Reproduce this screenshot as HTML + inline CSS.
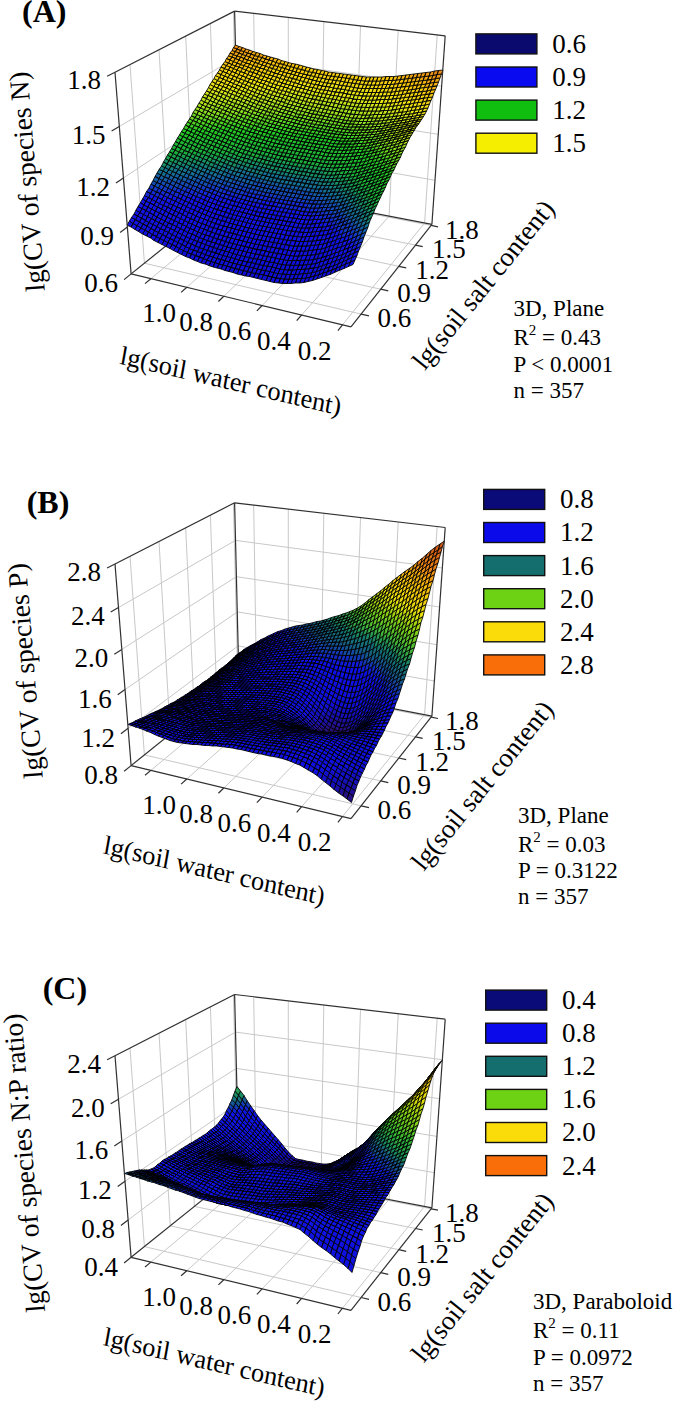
<!DOCTYPE html><html><head><meta charset="utf-8"><style>
html,body{margin:0;padding:0;background:#fff;overflow:hidden}
svg{display:block}
text{font-family:"Liberation Serif",serif;fill:#000}
</style></head><body>
<svg width="675" height="1403" viewBox="0 0 675 1403">
<g><line x1="144.4" y1="263.2" x2="130" y2="64.6" stroke="#c8c8c8" stroke-width="1"/><line x1="170.3" y1="242.4" x2="159" y2="49.8" stroke="#c8c8c8" stroke-width="1"/><line x1="194.4" y1="223" x2="185.7" y2="36.1" stroke="#c8c8c8" stroke-width="1"/><line x1="216.8" y1="205" x2="210.4" y2="23.4" stroke="#c8c8c8" stroke-width="1"/><line x1="237.8" y1="188.1" x2="233.4" y2="11.7" stroke="#c8c8c8" stroke-width="1"/><line x1="127.4" y1="227.1" x2="237.9" y2="145.8" stroke="#c8c8c8" stroke-width="1"/><line x1="123.4" y1="178" x2="236.8" y2="102.8" stroke="#c8c8c8" stroke-width="1"/><line x1="119.3" y1="126.5" x2="235.8" y2="57.9" stroke="#c8c8c8" stroke-width="1"/><line x1="256.5" y1="190.6" x2="253.7" y2="13.3" stroke="#c8c8c8" stroke-width="1"/><line x1="288.3" y1="196.8" x2="288.3" y2="17.4" stroke="#c8c8c8" stroke-width="1"/><line x1="321" y1="203" x2="323.8" y2="21.6" stroke="#c8c8c8" stroke-width="1"/><line x1="354.6" y1="209.5" x2="360.5" y2="25.9" stroke="#c8c8c8" stroke-width="1"/><line x1="389.1" y1="216.2" x2="398.2" y2="30.3" stroke="#c8c8c8" stroke-width="1"/><line x1="424.6" y1="223" x2="437.2" y2="34.9" stroke="#c8c8c8" stroke-width="1"/><line x1="237.9" y1="145.8" x2="435" y2="180.3" stroke="#c8c8c8" stroke-width="1"/><line x1="236.8" y1="102.8" x2="438.2" y2="134.3" stroke="#c8c8c8" stroke-width="1"/><line x1="235.8" y1="57.9" x2="441.6" y2="86.2" stroke="#c8c8c8" stroke-width="1"/><line x1="150.9" y1="278.7" x2="256.5" y2="190.6" stroke="#c8c8c8" stroke-width="1"/><line x1="186.8" y1="287.3" x2="288.3" y2="196.8" stroke="#c8c8c8" stroke-width="1"/><line x1="223.8" y1="296.3" x2="321" y2="203" stroke="#c8c8c8" stroke-width="1"/><line x1="262.1" y1="305.5" x2="354.6" y2="209.5" stroke="#c8c8c8" stroke-width="1"/><line x1="301.6" y1="315" x2="389.1" y2="216.2" stroke="#c8c8c8" stroke-width="1"/><line x1="342.5" y1="324.8" x2="424.6" y2="223" stroke="#c8c8c8" stroke-width="1"/><line x1="144.4" y1="263.2" x2="361.1" y2="314.1" stroke="#c8c8c8" stroke-width="1"/><line x1="170.3" y1="242.4" x2="380.7" y2="289.2" stroke="#c8c8c8" stroke-width="1"/><line x1="194.4" y1="223" x2="398.8" y2="266.3" stroke="#c8c8c8" stroke-width="1"/><line x1="216.8" y1="205" x2="415.5" y2="245.1" stroke="#c8c8c8" stroke-width="1"/><line x1="237.8" y1="188.1" x2="431.1" y2="225.4" stroke="#c8c8c8" stroke-width="1"/></g>
<g><line x1="131.1" y1="273.9" x2="238.9" y2="187.2" stroke="#303030" stroke-width="1.2"/><line x1="238.9" y1="187.2" x2="431.9" y2="224.4" stroke="#303030" stroke-width="1.2"/><line x1="238.9" y1="187.2" x2="234.6" y2="11.1" stroke="#303030" stroke-width="1.2"/><line x1="115" y1="72.3" x2="234.6" y2="11.1" stroke="#303030" stroke-width="1.2"/><line x1="234.6" y1="11.1" x2="445.2" y2="35.8" stroke="#303030" stroke-width="1.2"/></g>
<g transform="scale(0.5)" stroke="#000" stroke-width="1.7" stroke-linejoin="round"><path fill="#0f0fd8" d="M474 548l9 2 4-9-9-2zm9 2l8 2 4-9-8-2zm8 2l8 1 4-8-8-2zm8 1l8 2 4-8-8-2zm8 2l8 2 4-9-8-1zm8 2l8 2 4-9-8-2z"/><path fill="#1010d9" d="M402 526l8 2 4-8-7-3zm8 2l8 3 4-8-8-3zm8 3l8 3 4-9-8-2zm8 3l8 2 4-8-8-3zm8 2l8 2 4-8-8-2zm8 2l8 3 4-9-8-2zm8 3l8 2 4-8-8-3zm4-9l8 3 4-9-8-2zm4 11l8 2 4-8-8-2zm4-8l8 2 4-9-8-2zm4 10l8 3 4-9-8-2zm4-8l8 2 4-9-8-2zm8 2l9 2 4-9-9-2zm9 2l8 2 4-9-8-2zm8 2l8 2 4-9-8-2zm8 2l8 2 4-9-8-2zm8 2l8 1 4-8-8-2zm8 1l8 2 4-9-8-1zm4 11l9 2 4-9-9-2zm4-9l9 2 4-9-9-2zm5 11l8 2 4-9-8-2zm4-9l8 2 4-9-8-2zm4 11l8 2 4-9-8-2zm4-9l8 2 4-9-8-2zm4 11l9 1 4-9-9-1zm4-9l9 1 4-9-9-1zm5 10l8 1 4-9-8-1zm8 1l9 0 4-9-9 0zm9 0l8 0 4-9-8 0z"/><path fill="#1010db" d="M363 509l8 4 4-8-8-4zm8 4l8 3 4-8-8-3zm8 3l8 4 4-9-8-3zm8 4l8 3 4-9-8-3zm4-9l8 3 4-8-8-3zm4 12l7 3 5-9-8-3zm4-9l8 3 4-8-8-3zm8 3l7 3 5-8-8-3zm7 3l8 3 4-9-7-2zm8 3l8 2 4-8-8-3zm8 2l8 3 4-9-8-2zm4-8l8 2 4-8-8-3zm4 11l8 2 4-9-8-2zm4-9l8 2 4-8-8-2zm4 11l8 2 4-8-8-3zm4-9l8 3 4-9-8-2zm8 3l8 2 4-9-8-2zm8 2l8 2 4-8-8-3zm8 2l8 2 4-8-8-2zm8 2l9 2 4-8-9-2zm9 2l8 2 4-9-8-1zm8 2l8 2 4-9-8-2zm8 2l8 2 4-9-8-2zm8 2l8 2 4-9-8-2zm8 2l8 1 4-9-8-1zm8 1l9 2 4-9-9-2zm9 2l8 2 4-9-8-2zm8 2l8 2 4-9-8-2zm8 2l9 1 4-9-9-1zm5 10l8 1 4-9-8-1zm4-9l8 1 4-9-8-1zm4 10l9 0 3-9-8 0zm9 0l8 0 4-9-9 0zm4 9l9-1 3-9-8 1zm4-9l8-1 4-9-8 1zm5 8l8 0 4-9-9 0zm8 0l9-1 4-9-9 1z"/><path fill="#1010dc" d="M347 501l8 4 4-8-7-4zm8 4l8 4 4-8-8-4zm12-4l8 4 4-8-8-4zm8 4l8 3 4-8-8-3zm8 3l8 3 4-8-8-3zm4-8l8 3 4-8-8-3zm8 3l8 3 4-8-8-3zm8 3l8 3 4-8-8-3zm8 3l8 3 4-9-8-2zm8 3l7 2 5-8-8-3zm4-9l8 3 4-9-8-2zm3 11l8 3 4-9-7-2zm5-8l7 2 5-8-8-3zm7 2l8 3 4-9-7-2zm8 3l8 2 4-9-8-2zm8 2l8 2 4-8-8-3zm8 2l8 2 4-8-8-2zm8 2l8 3 4-9-8-2zm8 3l8 2 4-9-8-2zm8 2l9 2 4-9-9-2zm9 2l8 1 4-8-8-2zm8 1l8 2 4-9-8-1zm8 2l8 2 4-9-8-2zm8 2l8 2 4-9-8-2zm8 2l8 1 4-8-8-2zm8 1l9 2 4-9-9-1zm9 2l8 2 4-9-8-2zm8 2l8 2 4-9-8-2zm8 2l9 1 3-9-8-1zm9 1l8 1 4-10-9 0zm4 10l8 0 4-9-8 0zm4-9l8 0 4-9-8-1zm4 9l9 0 4-10-9 1zm9 0l8-1 4-9-8 0zm4 8l9 0 4-10-9 1zm9 0l9-1 3-9-8 0zm5 8l8-2 4-9-8 2z"/><path fill="#1111de" d="M324 489l8 4 4-8-8-4zm8 4l8 4 4-8-8-4zm8 4l7 4 5-8-8-4zm4-8l8 4 4-8-8-4zm8 4l7 4 5-8-8-4zm7 4l8 4 4-8-7-4zm5-8l7 4 5-8-8-4zm7 4l8 4 4-9-7-3zm8 4l8 3 4-8-8-4zm4-9l8 4 4-9-7-3zm8 4l8 3 4-9-8-3zm8 3l8 3 4-9-8-3zm8 3l8 3 4-9-8-3zm8 3l8 2 4-8-8-3zm4-9l8 3 4-9-8-2zm8 3l8 2 4-8-8-3zm8 2l8 3 4-9-8-2zm8 3l7 2 4-8-7-3zm7 2l8 2 4-8-8-2zm8 2l8 3 4-9-8-2zm8 3l8 2 4-9-8-2zm8 2l8 2 4-9-8-2zm8 2l8 2 4-9-8-2zm8 2l9 2 3-9-8-2zm9 2l8 2 4-9-9-2zm8 2l8 1 4-9-8-1zm8 1l8 2 4-9-8-2zm8 2l8 2 4-9-8-2zm8 2l8 2 4-10-8-1zm8 2l9 1 3-9-8-2zm9 1l8 2 4-9-9-2zm8 2l8 2 4-10-8-1zm8 2l8 1 4-9-8-2zm8 1l9 0 4-9-9 0zm9 0l8 1 4-10-8 0zm4 10l9-1 4-9-9 1zm9-1l8 0 4-9-8 0zm4 9l9-1 4-9-9 1zm4-9l9-1 4-9-9 1zm5 8l8 0 4-10-8 1zm5 9l8-2 4-9-9 2zm4 7l9-2 4-9-9 2zm4-9l9-2 4-9-9 2zm5 7l9-3 4-9-9 3z"/><path fill="#1111df" d="M308 481l8 4 4-8-7-4zm8 4l8 4 4-8-8-4zm12-4l8 4 4-8-8-4zm8 4l8 4 4-8-8-4zm4-8l8 4 4-8-8-4zm8 4l8 4 4-8-8-4zm8 4l8 4 4-8-8-4zm4-8l8 4 4-8-8-4zm8 4l8 4 4-8-8-4zm8 4l7 3 5-8-8-3zm12-5l7 3 4-8-7-3zm7 3l8 3 4-8-8-3zm8 3l8 3 4-8-8-3zm8 3l8 3 4-8-8-3zm4-8l8 3 4-9-8-3zm8 3l8 2 4-8-8-3zm8 2l8 3 4-9-8-2zm8 3l8 2 4-8-8-3zm8 2l7 3 4-9-7-2zm7 3l8 2 4-9-8-2zm8 2l8 2 4-9-8-2zm8 2l8 2 4-9-8-2zm8 2l8 2 4-9-8-2zm4-9l8 2 4-9-8-2zm4 11l8 2 4-9-8-2zm4-9l8 2 4-9-8-2zm4 11l8 2 4-9-8-2zm4-9l8 2 4-9-8-2zm4 11l9 2 3-9-8-2zm4-9l8 2 4-10-8-1zm5 11l8 1 4-9-9-1zm3-9l9 1 3-9-8-2zm5 10l8 2 4-9-8-2zm4-9l8 2 4-9-9-2zm4 11l8 2 4-9-8-2zm4-9l8 2 4-10-8-1zm4 11l8 1 4-9-8-1zm8 1l8 2 4-9-8-2zm8 2l9 2 4-10-9-1zm9 2l8 1 4-9-8-2zm8 1l8 2 4-10-8-1zm8 2l9 0 3-9-8-1zm9 0l8 0 4-9-9 0zm4 10l9-1 3-9-8 0zm4-10l8 0 4-10-8 1zm5 9l8 0 4-10-9 1zm8 0l9-1 3-9-8 0zm5 8l8-1 4-9-8 1zm4 9l9-2 4-9-9 1zm4-10l9-1 4-9-9 1zm5 8l9-2 4-9-9 2zm5 7l9-3 3-9-8 3zm5 6l9-3 3-9-8 3z"/><path fill="#1111e1" d="M285 468l8 4 4-8-7-4zm8 4l8 4 4-7-8-5zm8 4l7 5 5-8-8-4zm4-7l8 4 4-8-8-4zm8 4l7 4 5-8-8-4zm7 4l8 4 4-8-7-4zm5-8l7 4 5-8-8-4zm7 4l8 4 4-8-7-4zm12-4l8 4 4-8-7-4zm8 4l8 4 4-8-8-4zm12-4l8 4 4-8-8-4zm8 4l8 4 4-9-8-3zm8 4l8 3 4-8-8-4zm4-9l8 4 4-8-8-4zm8 4l7 3 5-8-8-3zm7 3l8 3 4-8-7-3zm8 3l8 3 4-9-8-2zm4-8l8 2 4-8-8-3zm8 2l8 3 4-8-8-3zm8 3l8 3 4-9-8-2zm8 3l8 2 4-8-8-3zm8 2l8 3 4-9-8-2zm8 3l7 2 4-9-7-2zm7 2l8 2 4-9-8-2zm8 2l8 2 4-9-8-2zm4-9l8 2 4-9-8-2zm4 11l8 2 4-9-8-2zm4-9l8 2 4-9-8-2zm8 2l8 2 4-9-8-2zm8 2l8 2 4-9-8-2zm8 2l8 2 4-9-8-2zm8 2l8 1 4-9-8-1zm8 1l8 2 4-9-8-2zm8 2l9 2 3-10-8-1zm9 2l8 1 4-9-9-2zm4 11l8 1 4-9-8-2zm4-10l8 2 4-10-8-1zm4 11l8 2 4-10-8-1zm4-9l8 1 4-9-8-2zm4 11l9 1 3-9-8-2zm4-10l8 2 4-10-8-1zm5 11l8 2 4-10-9-1zm8 2l8 1 4-9-8-2zm8 1l8 1 4-10-8 0zm8 1l9 0 4-10-9 0zm9 0l8-1 4-9-8 0zm4 9l9-1 4-9-9 0zm9-1l8 0 4-10-8 1zm5 9l8-1 4-9-9 1zm8-1l9-1 3-10-8 2zm5 8l9-2 3-10-8 3zm5 7l8-3 4-9-8 3zm5 6l8-3 4-9-9 3zm5 6l8-3 4-9-9 3z"/><path fill="#1212e2" d="M270 459l7 4 5-7-8-5zm7 4l8 5 5-8-8-4zm13-3l7 4 5-7-8-5zm7 4l8 5 4-8-7-4zm5-7l7 4 5-8-8-4zm7 4l8 4 4-8-7-4zm8 4l8 4 4-8-8-4zm4-8l8 4 4-8-7-4zm8 4l8 4 4-8-8-4zm8 4l7 4 5-8-8-4zm4-8l8 4 4-8-8-4zm8 4l7 4 5-8-8-4zm7 4l8 4 4-8-7-4zm5-8l7 4 5-8-8-4zm7 4l8 4 4-8-7-4zm8 4l8 3 4-8-8-3zm4-8l8 3 4-8-8-4zm8 3l8 4 4-9-8-3zm8 4l8 3 4-9-8-3zm8 3l7 3 4-9-7-3zm4-9l7 3 4-8-7-3zm7 3l8 3 4-9-8-2zm8 3l8 3 4-9-8-3zm8 3l8 2 4-9-8-2zm8 2l8 3 4-9-8-3zm8 3l8 2 4-9-8-2zm8 2l7 2 4-9-7-2zm4-9l7 2 4-9-7-2zm3 11l8 2 4-9-8-2zm4-9l8 2 4-9-8-2zm8 2l8 2 4-9-8-2zm8 2l8 2 4-9-8-2zm8 2l8 2 4-9-8-2zm8 2l8 2 4-9-8-2zm8 2l8 2 4-9-8-2zm8 2l8 1 4-9-8-1zm8 1l8 2 4-9-8-2zm8 2l8 1 4-9-8-1zm8 1l9 2 3-9-8-2zm9 2l8 1 4-9-9-1zm8 1l8 2 4-9-8-2zm8 2l8 1 4-9-8-1zm4 11l9 1 3-9-8-2zm4-10l8 2 4-10-8-1zm5 11l8 2 4-10-9-1zm8 2l8 0 4-10-8 0zm8 0l9 0 3-10-8 0zm9 0l8 0 4-10-9 0zm4 9l9 0 3-10-8 1zm9 0l8-1 4-10-9 1zm4 9l9-1 4-10-9 1zm9-1l8-2 4-10-8 2zm5 8l8-3 4-9-9 2zm5 7l8-3 4-10-9 3zm4 6l9-3 4-9-9 3zm5 6l9-3 4-9-9 3zm4-9l9-3 4-9-9 3zm1 15l9-3 4-9-9 3zm4-9l9-3 4-9-9 3z"/><path fill="#1212e4" d="M254 450l8 4 4-7-7-5zm8 4l8 5 4-8-8-4zm12-3l8 5 4-8-7-4zm8 5l8 4 4-8-8-4zm4-8l8 4 4-7-7-4zm8 4l8 5 4-8-8-4zm12-3l8 4 4-8-8-4zm8 4l7 4 5-8-8-4zm4-8l8 4 4-7-8-4zm8 4l7 4 4-7-7-4zm7 4l8 4 4-8-8-3zm4-7l8 3 4-8-7-3zm8 3l8 4 4-8-8-4zm8 4l8 4 4-8-8-4zm4-8l8 4 4-8-8-4zm8 4l8 4 4-8-8-4zm8 4l7 4 4-9-7-3zm11-5l8 4 4-8-8-4zm8 4l8 3 4-8-8-3zm8 3l8 3 4-8-8-3zm4-8l8 3 4-9-8-3zm8 3l7 3 4-9-7-3zm7 3l8 2 4-8-8-3zm8 2l8 3 4-9-8-2zm8 3l8 2 4-8-8-3zm8 2l8 3 4-9-8-2zm4-8l8 2 4-8-8-3zm4 11l8 2 4-9-8-2zm4-9l8 2 3-8-7-2zm8 2l7 2 4-8-8-2zm7 2l8 2 4-8-8-2zm8 2l8 2 4-8-8-2zm8 2l8 2 4-8-8-2zm8 2l8 2 4-9-8-1zm8 2l8 2 4-9-8-2zm8 2l8 2 4-9-8-2zm8 2l8 1 4-9-8-1zm8 1l8 2 4-9-8-2zm8 2l8 1 4-9-8-1zm8 1l8 2 4-9-8-2zm8 2l9 1 3-9-8-1zm9 1l8 2 4-9-9-2zm8 2l8 1 4-9-8-1zm8 1l8 1 4-9-8-1zm4 11l9 1 4-10-9-1zm4-10l9 1 3-9-8-1zm5 11l8 0 4-9-8-1zm8 0l8 0 4-9-8 0zm8 0l9 0 4-10-9 1zm5 10l8-1 4-10-8 1zm8-1l9-1 4-10-9 1zm5 9l9-1 3-10-8 1zm9-1l8-2 4-9-9 1zm4 8l9-2 4-10-9 2zm5 7l9-3 4-9-9 3zm4-9l9-3 4-10-9 3zm1 16l9-3 4-10-9 3zm4-10l9-3 4-9-9 3zm5 7l9-3 4-10-9 3zm5 6l9-3 4-10-9 4zm1 15l9-4 4-9-9 4zm4-9l9-4 4-9-9 4zm5 5l9-4 4-9-9 4z"/><path fill="#1313e5" d="M259 442l7 5 5-8-8-4zm7 5l8 4 5-7-8-5zm5-8l8 5 4-8-8-4zm8 5l7 4 5-7-8-5zm4-8l8 5 4-8-8-4zm8 5l7 4 5-8-8-4zm7 4l8 4 4-8-7-4zm5-8l7 4 4-7-7-4zm7 4l8 4 4-7-8-4zm12-3l8 4 4-8-8-4zm8 4l7 4 5-8-8-4zm12-4l7 3 4-8-7-3zm7 3l8 4 4-8-8-4zm12-4l8 4 4-8-8-4zm8 4l8 4 4-8-8-4zm8 4l7 3 4-8-7-3zm4-8l7 3 4-8-7-4zm7 3l8 4 4-9-8-3zm8 4l8 3 4-9-8-3zm12-6l8 3 4-8-8-3zm8 3l7 3 4-8-7-3zm7 3l8 3 4-9-8-2zm8 3l8 2 4-8-8-3zm8 2l8 3 4-9-8-2zm4-8l8 2 4-8-8-2zm8 2l8 3 4-9-8-2zm8 3l7 2 4-9-7-2zm7 2l8 2 4-9-8-2zm8 2l8 2 4-9-8-2zm8 2l8 2 4-9-8-2zm8 2l8 2 4-9-8-2zm8 2l8 1 4-8-8-2zm8 1l8 2 4-8-8-2zm8 2l8 2 4-9-8-1zm8 2l8 1 4-8-8-2zm8 1l8 2 4-9-8-1zm8 2l8 1 4-8-8-2zm8 1l8 2 4-9-8-1zm8 2l8 1 4-9-8-1zm8 1l9 2 3-9-8-2zm9 2l8 1 4-9-9-1zm8 1l8 1 4-9-8-1zm8 1l8 1 4-9-8-1zm5 10l8 1 4-9-9-1zm8 1l8 0 4-10-8 1zm8 0l9-1 3-9-8 0zm5 9l8-1 4-9-8 0zm8-1l9-1 3-9-8 1zm5 9l8-1 4-10-8 1zm8-1l9-1 4-10-9 1zm5 8l9-2 4-10-9 3zm9-2l9-3 3-10-8 3zm5 7l9-3 3-10-8 3zm5 6l9-3 3-9-8 3zm5 7l9-4 4-9-9 3zm5 6l9-4 4-9-9 3zm5 5l9-4 4-9-9 4zm5 5l10-4 3-9-9 4z"/><path fill="#1313e7" d="M263 435l8 4 4-7-7-4zm5-7l7 4 5-7-8-5zm7 4l8 4 4-7-7-4zm12-3l8 4 4-8-7-4zm8 4l8 4 4-7-8-5zm4-8l8 5 4-8-8-4zm8 5l7 4 5-8-8-4zm7 4l8 4 4-8-7-4zm5-8l7 4 5-8-8-4zm7 4l8 4 4-8-7-4zm8 4l8 4 4-8-8-4zm4-8l8 4 4-8-8-4zm8 4l7 3 5-8-8-3zm7 3l8 4 4-8-7-4zm5-8l7 4 4-8-7-4zm7 4l8 4 4-8-8-4zm8 4l8 4 4-9-8-3zm4-8l8 3 4-8-8-3zm8 3l7 4 5-8-8-4zm7 4l8 3 4-8-7-3zm8 3l8 3 4-8-8-3zm4-8l8 3 4-8-8-3zm8 3l8 3 4-8-8-3zm8 3l7 3 4-8-7-3zm7 3l8 2 4-8-8-2zm8 2l8 3 4-8-8-3zm4-8l8 3 4-9-8-2zm8 3l8 2 4-8-8-3zm8 2l8 2 3-8-7-2zm8 2l7 2 4-8-8-2zm7 2l8 2 4-8-8-2zm8 2l8 2 4-8-8-2zm8 2l8 2 4-8-8-2zm8 2l8 2 4-8-8-2zm8 2l8 2 4-8-8-2zm8 2l8 2 4-9-8-1zm8 2l8 1 4-8-8-2zm8 1l8 2 4-9-8-1zm8 2l8 1 4-8-8-2zm8 1l8 2 4-9-8-1zm8 2l8 1 4-8-8-2zm8 1l8 1 4-8-8-1zm8 1l8 2 4-9-8-1zm8 2l9 1 3-8-8-2zm9 1l8 1 4-8-9-1zm8 1l8 1 4-8-8-1zm4 10l9 1 3-9-8-1zm4-9l8 1 4-9-8 0zm5 10l8-1 4-8-9 0zm8-1l8 0 4-9-8 1zm5 9l8 0 4-10-9 1zm3-9l9-1 3-9-8 1zm5 9l8-1 4-10-8 1zm5 8l8-1 4-9-9 1zm3-9l9-1 4-10-9 1zm5 8l9-1 4-10-9 2zm5 9l9-3 3-10-8 3zm9-3l8-3 4-9-9 2zm5 7l8-3 4-10-9 3zm5 7l8-3 4-10-9 3zm5 6l9-3 3-9-9 3zm5 6l9-3 4-9-9 3zm5 6l9-4 4-9-9 4zm5 5l9-4 4-9-9 4zm6 5l9-4 4-9-10 4z"/><path fill="#1313e8" d="M272 420l8 5 4-8-8-4zm8 5l7 4 5-8-8-4zm4-8l8 4 4-7-8-4zm8 4l7 4 4-7-7-4zm11-3l8 4 4-8-7-4zm8 4l8 4 4-8-8-4zm4-8l8 4 4-7-8-4zm8 4l8 4 4-8-8-3zm8 4l7 4 4-8-7-4zm4-8l7 4 4-8-7-3zm7 4l8 4 4-8-8-4zm8 4l8 3 4-8-8-3zm4-8l8 3 4-8-8-3zm8 3l7 4 4-8-7-4zm7 4l8 4 4-8-8-4zm12-4l8 3 4-8-8-3zm8 3l8 4 4-8-8-4zm8 4l7 3 4-8-7-3zm4-8l7 3 4-8-7-3zm7 3l8 3 4-8-8-3zm8 3l8 3 4-8-8-3zm8 3l7 3 4-9-7-2zm4-8l7 2 4-8-7-2zm3 11l8 2 4-8-8-3zm4-9l8 3 4-8-8-3zm8 3l8 2 4-8-8-2zm8 2l8 3 4-8-8-3zm8 3l7 2 4-8-7-2zm7 2l8 2 4-8-8-2zm8 2l8 2 4-8-8-2zm4-8l8 2 4-8-8-2zm4 10l8 2 4-8-8-2zm4-8l8 2 4-8-8-2zm4 10l8 2 4-8-8-2zm4-8l8 2 4-8-8-2zm4 10l8 2 4-8-8-2zm4-8l8 2 3-8-7-2zm4 10l8 2 4-8-8-2zm4-8l8 2 3-8-8-2zm4 10l8 1 4-8-8-1zm4-8l8 1 3-8-8-1zm4 9l8 2 3-8-7-2zm4-8l7 2 4-8-8-2zm4 10l8 1 3-8-8-1zm3-8l8 1 4-8-8-1zm5 9l8 2 4-8-9-2zm3-8l9 2 3-8-8-2zm5 10l8 1 4-8-8-1zm4-8l8 1 3-8-8-1zm4 9l8 2 4-9-8-1zm4-8l8 1 3-8-8-1zm4 10l8 1 4-8-8-2zm4-9l8 2 4-8-9-2zm4 10l8 1 4-8-8-1zm4-8l8 1 4-8-8-1zm4 9l8 2 4-9-8-1zm8 2l9 1 3-8-8-2zm9 1l8 1 4-8-9-1zm8 1l8 0 4-8-8 0zm4 9l9 0 3-9-8 0zm4-9l8 0 4-8-8 0zm5 9l8-1 4-9-9 1zm8-1l8-1 4-8-8 0zm5 8l8-1 4-9-9 1zm8-1l9-1 3-9-8 1zm5 9l9-2 3-9-8 1zm5 8l8-3 4-9-8 2zm8-3l9-2 4-10-9 3zm5 7l9-3 4-10-9 4zm5 7l9-3 4-10-9 3zm5 7l9-3 4-10-9 3zm6 6l9-3 3-10-9 4zm5 6l9-4 4-9-9 4zm5 5l9-4 4-9-9 4zm5 5l10-4 3-9-9 4zm6 5l9-4 4-9-9 4z"/><path fill="#1414ea" d="M276 413l8 4 4-7-7-5zm5-8l7 5 4-8-7-4zm7 5l8 4 4-8-8-4zm8 4l7 4 5-8-8-4zm4-8l8 4 4-7-8-4zm8 4l7 4 4-7-7-4zm11-3l8 4 4-8-7-4zm8 4l8 3 4-7-8-4zm12-4l7 3 5-8-8-3zm7 3l8 4 4-8-7-4zm12-4l8 3 4-7-8-4zm8 3l7 4 5-8-8-3zm7 4l8 4 4-8-7-4zm5-8l7 4 4-8-7-4zm7 4l8 3 4-8-8-3zm8 3l8 4 4-8-8-4zm4-8l8 4 4-8-8-4zm8 4l7 3 4-8-7-3zm7 3l8 3 4-8-8-3zm8 3l8 3 4-8-8-3zm4-8l8 3 4-8-8-3zm8 3l7 2 4-7-7-3zm7 2l8 3 4-8-8-2zm8 3l8 2 4-7-8-3zm8 2l8 3 4-8-8-2zm8 3l7 2 4-8-7-2zm4-8l7 2 4-8-8-2zm3 10l8 2 4-8-8-2zm4-8l8 2 4-8-8-2zm8 2l8 2 4-8-8-2zm8 2l8 2 4-8-8-2zm8 2l8 2 3-8-7-2zm8 2l7 2 4-8-8-2zm7 2l8 2 4-8-8-2zm8 2l8 1 4-8-8-1zm8 1l8 2 4-8-8-2zm8 2l8 1 4-8-8-1zm8 1l8 2 4-8-8-2zm8 2l8 1 4-8-8-1zm8 1l8 1 4-8-8-1zm8 1l9 2 3-8-8-2zm9 2l8 1 3-8-8-1zm4 9l8 1 4-8-8-1zm4-8l8 1 4-8-9-1zm4 9l8 2 4-8-8-2zm4-8l8 2 4-8-8-2zm4 10l9 1 3-9-8 0zm4-8l8 0 4-8-8 0zm5 9l8 0 3-8-8-1zm8 0l8 0 4-9-9 1zm4 8l9-1 3-8-8 1zm4-8l8-1 4-8-8 0zm5 7l8 0 4-9-9 1zm4 8l9-1 4-8-9 1zm4-8l9-1 3-9-8 1zm5 7l8-1 4-8-8 1zm5 8l8-1 4-9-9 1zm5 8l8-2 4-10-9 3zm3-9l9-3 4-9-9 3zm5 7l9-3 4-10-9 3zm5 7l9-4 4-9-9 3zm5 6l9-3 4-10-9 3zm5 7l9-3 4-10-9 3zm5 7l9-4 4-9-9 3zm6 6l9-4 3-9-9 3zm3-10l9-3 4-10-9 4zm2 15l9-4 4-9-9 4zm4-9l9-4 3-9-9 4zm1 14l9-4 4-9-9 4zm6 5l9-4 4-9-10 4z"/><path fill="#1417e8" d="M285 398l7 4 5-7-8-4zm7 4l8 4 4-7-7-4zm5-7l7 4 5-8-8-4zm7 4l8 4 4-8-7-4zm8 4l7 4 5-8-8-4zm4-8l8 4 4-8-8-4zm8 4l7 4 4-8-7-4zm7 4l8 4 4-8-8-4zm4-8l8 4 4-8-7-4zm8 4l8 3 4-7-8-4zm8 3l7 4 4-8-7-3zm4-7l7 3 4-8-7-3zm7 3l8 4 4-8-8-4zm8 4l8 3 4-8-8-3zm4-8l8 3 4-7-8-4zm8 3l7 4 4-8-7-3zm7 4l8 3 4-8-8-3zm12-5l8 4 4-8-8-3zm8 4l7 3 4-8-7-3zm7 3l8 3 4-8-8-3zm4-8l8 3 4-8-8-3zm8 3l8 3 4-8-8-3zm8 3l7 3 4-8-7-3zm7 3l8 2 4-8-8-2zm8 2l8 3 4-8-8-3zm4-8l8 3 4-8-8-2zm4 11l8 2 3-8-7-2zm4-8l7 2 4-8-7-2zm7 2l8 2 4-7-8-3zm8 2l8 2 4-7-8-2zm8 2l8 2 4-7-8-2zm8 2l8 2 3-7-7-2zm8 2l7 2 4-8-8-1zm7 2l8 2 4-8-8-2zm8 2l8 2 4-8-8-2zm4-8l8 2 4-8-8-1zm4 10l8 1 4-7-8-2zm4-8l8 2 4-8-8-2zm4 9l8 2 4-8-8-1zm4-7l8 1 4-8-8-1zm4 9l8 1 4-8-8-1zm4-8l8 1 4-7-8-2zm4 9l8 2 4-8-8-2zm8 2l8 1 4-8-8-1zm8 1l8 1 4-7-8-2zm8 1l8 2 4-8-8-1zm8 2l8 1 4-8-8-1zm8 1l9 1 3-7-8-2zm9 1l8 2 3-8-8-1zm8 2l8 0 4-7-9-1zm4 8l8 1 4-8-8-1zm4-8l8 1 4-8-8 0zm4 9l9-1 3-8-8 1zm9-1l8 0 4-8-9 0zm4 8l9-1 4-8-9 1zm9-1l8-1 4-8-8 1zm5 8l8-1 4-9-9 1zm4 7l9-1 4-9-9 2zm4-8l9-2 3-8-8 1zm5 7l9-3 3-8-8 2zm5 6l9-3 3-9-8 3zm5 7l9-3 3-10-8 3zm5 6l9-3 3-9-8 3zm5 7l9-3 4-10-9 3zm5 7l9-3 4-10-9 3zm4-10l9-3 3-10-8 3zm5 7l9-4 4-10-9 4zm5 6l9-4 4-10-9 4zm2 14l9-4 4-9-9 4zm4-9l9-4 3-9-9 4zm1 14l10-4 3-9-9 4zm4-9l9-4 4-9-9 4z"/><path fill="#1429d7" d="M289 391l8 4 4-8-8-4zm4-8l8 4 4-7-7-4zm8 4l8 4 4-7-8-4zm8 4l7 4 4-8-7-3zm4-7l7 3 4-7-7-4zm7 3l8 4 4-7-8-4zm8 4l7 4 5-8-8-3zm4-7l8 3 4-7-8-4zm8 3l7 4 4-8-7-3zm7 4l8 4 4-8-8-4zm4-8l8 4 4-8-8-3zm8 4l7 3 4-7-7-4zm7 3l8 4 4-8-8-3zm4-7l8 3 4-8-7-3zm8 3l8 4 4-8-8-4zm8 4l7 3 4-8-7-3zm7 3l8 3 4-7-8-4zm4-8l8 4 4-8-8-3zm8 4l8 3 4-8-8-3zm8 3l7 3 4-8-7-3zm4-8l7 3 4-7-7-3zm7 3l8 3 4-7-8-3zm8 3l8 3 3-7-7-3zm8 3l7 3 4-8-8-2zm3-7l8 2 4-7-8-3zm4 10l8 2 4-7-8-3zm4-8l8 3 4-8-8-2zm8 3l8 2 3-7-7-3zm8 2l7 2 4-7-8-2zm7 2l8 3 4-8-8-2zm8 3l8 2 4-8-8-2zm4-8l8 2 3-7-7-2zm4 10l8 2 3-8-7-2zm4-8l7 2 4-7-8-2zm4 10l7 2 4-8-8-2zm3-8l8 2 4-7-8-2zm4 10l8 1 4-7-8-2zm4-8l8 2 4-8-8-1zm4 9l8 2 4-7-8-2zm4-7l8 2 4-8-8-2zm8 2l8 1 4-7-8-2zm8 1l8 2 3-8-7-1zm8 2l8 1 3-7-8-2zm8 1l8 2 3-8-8-1zm4 9l8 2 4-8-8-1zm4-7l8 1 3-7-8-2zm4 9l8 1 4-7-8-2zm4-8l8 2 3-8-8-1zm4 9l8 2 4-8-8-1zm4-7l8 1 3-8-8-1zm4 9l8 1 4-8-8-1zm4-8l8 1 3-7-8-2zm4 9l8 1 4-7-8-2zm4-8l8 2 3-8-8-1zm4 9l8 2 4-8-8-1zm4-7l8 1 4-8-9-1zm4 9l8 1 4-8-8-1zm4-8l8 1 4-8-8-1zm4 9l9 1 3-8-8-1zm9 1l8 0 3-8-8 0zm4 8l8-1 4-7-8 0zm4-8l8 0 4-8-9 0zm4 7l9 0 3-8-8 1zm5 8l9-1 3-8-8 1zm4-8l8-1 4-8-9 1zm5 7l8-1 4-8-9 1zm4 7l9-1 3-8-8 1zm4-8l8-1 4-8-8 1zm5 7l8-1 4-8-9 1zm5 7l8-2 4-9-9 3zm5 6l8-3 4-8-9 3zm5 6l8-3 4-9-9 3zm5 7l8-3 4-10-9 3zm5 6l9-3 3-9-9 3zm9-3l8-3 4-10-9 4zm5 7l9-4 3-10-9 4zm5 6l9-4 4-10-9 4zm5 6l9-4 4-10-9 4zm6 5l9-4 4-10-10 5z"/><path fill="#143bc6" d="M298 376l7 4 4-8-7-4zm7 4l8 4 4-8-8-4zm12-4l7 4 5-8-8-4zm7 4l8 4 4-8-7-4zm12-4l8 4 4-8-8-4zm8 4l7 3 4-7-7-4zm11-4l8 3 4-7-8-4zm8 3l7 4 5-8-8-3zm12-4l7 3 4-7-7-3zm7 3l8 4 4-8-8-3zm8 4l7 3 4-7-7-4zm4-8l7 4 4-8-7-3zm7 4l8 3 4-7-8-4zm8 3l8 3 4-7-8-3zm4-7l8 3 3-8-7-3zm8 3l7 3 4-8-8-3zm7 3l8 3 4-8-8-3zm8 3l7 3 4-8-7-3zm4-8l7 3 4-7-7-3zm7 3l8 3 4-8-8-2zm8 3l8 2 4-7-8-3zm8 2l7 3 4-8-7-2zm7 3l8 2 4-8-8-2zm4-8l8 2 4-7-8-2zm4 10l8 2 4-7-8-3zm4-8l8 3 4-8-8-2zm8 3l7 2 4-8-7-2zm7 2l8 2 4-8-8-2zm8 2l8 2 4-8-8-2zm8 2l8 1 4-7-8-2zm8 1l8 2 3-7-7-2zm8 2l8 2 3-8-8-1zm8 2l7 1 4-7-8-2zm7 1l8 2 4-8-8-1zm8 2l8 1 4-7-8-2zm8 1l8 2 4-8-8-1zm8 2l8 1 4-7-8-2zm8 1l8 1 4-7-8-1zm8 1l8 2 4-8-8-1zm8 2l8 1 4-7-8-2zm8 1l9 1 3-7-8-1zm9 1l8 1 3-7-8-1zm4 9l8 1 4-8-8-1zm4-8l8 1 4-7-9-1zm4 9l8 0 4-8-8 0zm4-8l8 0 4-7-8 0zm4 8l9 0 3-8-8 0zm5 8l8-1 4-8-8 1zm4-8l8-1 4-7-9 0zm4 7l9-1 3-7-8 0zm5 7l9-1 3-8-8 1zm4-8l8-1 4-7-9 1zm5 7l8-1 4-7-9 0zm4 7l9-1 4-8-9 1zm5 7l9-3 4-8-9 3zm4-8l9-3 3-8-8 3zm1 14l9-3 4-8-9 2zm4-9l9-2 3-8-8 2zm1 14l9-3 4-8-9 3zm4-8l9-3 3-8-8 3zm1 14l9-3 4-9-9 3zm4-9l9-3 3-8-8 3zm1 16l9-3 4-10-9 3zm4-10l9-3 4-9-9 3zm5 7l9-4 4-9-9 3zm5 6l9-4 4-9-9 3zm6 6l9-4 3-10-9 4zm5 6l9-4 4-10-9 4zm5 6l10-5 3-9-9 4z"/><path fill="#144cb6" d="M302 368l7 4 5-7-8-4zm7 4l8 4 4-8-7-3zm5-7l7 3 4-7-7-4zm7 3l8 4 4-7-8-4zm8 4l7 4 4-8-7-3zm4-7l7 3 4-7-7-4zm7 3l8 4 4-7-8-4zm8 4l7 4 4-8-7-3zm4-7l7 3 4-7-7-4zm7 3l8 4 4-8-8-3zm8 4l8 3 4-7-8-4zm4-8l8 4 4-8-8-3zm8 4l7 3 4-8-7-3zm7 3l8 3 4-7-8-4zm4-8l8 4 4-8-8-3zm8 4l7 3 4-7-7-4zm7 3l8 4 4-8-8-3zm4-7l8 3 4-7-8-3zm8 3l7 3 4-7-7-3zm7 3l8 3 4-7-8-3zm8 3l8 3 4-7-8-3zm4-7l8 3 4-7-8-3zm8 3l7 3 4-8-7-2zm7 3l8 2 4-7-8-3zm8 2l8 3 3-8-7-2zm4-7l7 2 4-7-7-2zm4 10l7 2 4-7-8-3zm3-8l8 3 4-8-8-2zm8 3l8 2 4-7-8-3zm8 2l8 2 3-7-7-2zm8 2l7 2 4-7-8-2zm7 2l8 2 4-7-8-2zm4-7l8 2 4-7-8-2zm4 9l8 2 4-7-8-2zm4-7l8 2 3-8-7-1zm4 9l8 2 3-7-7-2zm4-7l7 2 4-8-8-2zm4 9l7 2 4-8-8-1zm3-7l8 1 4-7-8-2zm4 9l8 1 4-7-8-2zm4-8l8 2 4-8-8-1zm4 9l8 2 4-8-8-1zm4-7l8 1 4-7-8-2zm4 9l8 1 4-7-8-2zm4-8l8 2 4-7-8-2zm4 9l8 2 4-8-8-1zm4-7l8 1 3-7-7-1zm4 9l8 1 4-7-8-2zm4-8l8 2 3-8-8-1zm4 9l8 2 4-8-8-1zm4-7l8 1 3-7-8-2zm4 9l8 1 4-8-8-1zm4-8l8 1 3-7-8-1zm4 9l8 1 4-7-8-2zm4-8l8 2 3-8-8-1zm4 9l8 2 4-8-8-1zm4-7l8 1 3-7-8-2zm4 9l8 1 4-8-8-1zm4-8l8 1 3-7-8-1zm4 9l8 1 4-8-8-1zm4-8l8 1 4-7-9-1zm4 9l9 1 3-8-8-1zm9 1l8 0 3-8-8 0zm4 7l8 0 4-7-8 0zm4-7l8 0 4-8-9 0zm4 7l9 0 3-8-8 1zm5 7l8 0 4-8-8 1zm4-7l8-1 4-8-9 1zm4 7l9-1 3-8-8 1zm5 6l9 0 3-8-8 1zm4-7l8-1 4-8-9 1zm1 14l9-1 3-8-8 2zm4-7l8-2 4-8-9 2zm5 6l8-3 4-7-9 2zm5 5l8-2 4-8-9 2zm5 6l8-3 4-8-9 3zm5 5l8-3 4-8-9 3zm5 5l9-3 3-8-9 3zm5 6l9-3 3-9-8 3zm5 6l9-3 4-10-9 4zm5 6l9-4 4-9-9 4zm6 6l9-4 4-10-10 4zm5 6l9-4 4-10-9 4z"/><path fill="#145ea5" d="M306 361l8 4 4-8-8-4zm4-8l8 4 4-7-8-4zm8 4l7 4 4-7-7-4zm7 4l8 4 4-8-8-3zm4-7l8 3 4-7-8-4zm8 3l7 4 4-7-7-4zm7 4l8 4 4-8-8-3zm4-7l8 3 4-7-8-4zm8 3l7 4 4-8-7-3zm7 4l8 3 4-7-8-4zm4-8l8 4 4-8-7-3zm8 4l8 3 4-7-8-4zm8 3l7 3 4-7-7-3zm4-7l7 3 4-7-7-3zm7 3l8 3 4-7-8-3zm8 3l7 4 4-7-7-4zm4-7l7 4 4-8-7-3zm7 4l8 3 4-8-8-3zm8 3l7 3 4-7-7-4zm7 3l8 3 4-7-8-3zm4-7l8 3 4-8-8-3zm8 3l8 3 3-8-7-3zm8 3l7 2 4-7-8-3zm3-8l8 3 4-7-8-3zm4 10l8 3 4-7-8-3zm4-7l8 3 3-8-7-2zm8 3l7 2 4-7-8-3zm7 2l8 2 4-7-8-2zm8 2l8 3 3-8-7-2zm4-7l7 2 4-7-7-2zm4 10l7 2 4-8-8-2zm3-8l8 2 4-7-8-2zm4 10l8 2 4-7-8-3zm4-8l8 3 4-8-8-2zm8 3l8 2 3-8-7-2zm8 2l7 1 4-7-8-2zm7 1l8 2 4-7-8-2zm8 2l8 2 4-7-8-2zm8 2l8 1 3-7-7-1zm8 1l8 2 3-7-8-2zm8 2l8 2 3-8-8-1zm8 2l7 1 4-7-8-2zm7 1l8 1 4-7-8-1zm8 1l8 2 4-8-8-1zm8 2l8 1 4-7-8-2zm8 1l8 1 4-7-8-1zm8 1l8 2 4-8-8-1zm8 2l8 1 4-7-8-2zm8 1l9 1 3-7-8-1zm5 8l8 1 4-7-8-1zm4-7l8 1 3-8-8 0zm4 8l8 0 4-7-8 0zm4-7l8 0 3-8-8 0zm4 7l9 0 3-7-8 0zm5 8l8-1 4-7-8 0zm4-8l8 0 3-8-8 1zm4 7l9-1 3-7-8 1zm5 7l8-1 4-7-8 0zm4-8l8 0 3-8-8 1zm4 7l9-1 3-7-8 1zm5 7l9-2 3-7-8 1zm5 6l9-2 3-8-8 2zm4-8l8-2 4-8-9 3zm1 13l9-2 3-8-8 3zm4-7l8-3 4-8-9 3zm1 13l9-3 3-8-8 3zm4-8l8-3 4-8-9 3zm1 13l9-3 4-8-9 3zm5 5l9-3 4-8-9 3zm6 5l8-3 4-8-9 3zm5 6l9-4 3-9-9 4zm5 6l9-4 4-10-9 4zm5 5l10-4 3-9-9 4zm6 6l9-4 4-10-9 4z"/><path fill="#147094" d="M314 346l8 4 4-8-8-3zm8 4l7 4 4-8-7-4zm4-8l7 4 5-7-8-4zm7 4l8 4 4-7-7-4zm8 4l7 4 4-8-7-3zm4-7l7 3 5-7-8-4zm7 3l8 4 4-7-7-4zm8 4l7 3 5-7-8-3zm4-7l8 3 4-7-8-4zm8 3l7 3 4-7-7-3zm7 3l8 4 4-7-8-4zm4-7l8 4 4-8-8-3zm8 4l7 3 4-7-7-4zm7 3l8 3 4-7-8-3zm4-7l8 3 4-7-8-3zm8 3l7 3 4-7-7-3zm7 3l8 3 4-7-8-3zm8 3l7 4 4-8-7-3zm4-7l7 3 4-7-7-3zm7 3l8 3 4-7-8-3zm8 3l7 3 4-7-7-3zm4-7l7 3 4-7-7-3zm7 3l8 3 4-7-8-3zm8 3l7 2 4-7-7-2zm7 2l8 3 4-8-8-2zm4-7l8 2 4-7-8-2zm4 10l8 2 4-7-8-3zm4-8l8 3 3-7-7-3zm8 3l7 2 4-7-8-2zm7 2l8 2 4-7-8-2zm8 2l8 2 3-7-7-2zm8 2l7 2 4-7-8-2zm7 2l8 2 4-7-8-2zm4-7l8 2 4-7-8-2zm4 9l8 2 4-7-8-2zm4-7l8 2 3-7-7-2zm4 9l8 2 3-8-7-1zm4-7l7 1 4-7-8-1zm4 9l7 1 4-7-8-2zm3-8l8 2 4-7-8-2zm4 9l8 2 4-7-8-2zm4-7l8 2 4-8-8-1zm4 9l8 1 4-7-8-1zm4-7l8 1 4-7-8-2zm4 8l8 2 4-8-8-1zm4-7l8 1 3-7-7-1zm4 9l8 1 4-7-8-2zm4-8l8 2 3-7-8-2zm4 9l8 1 4-7-8-1zm4-7l8 1 3-7-8-1zm4 8l8 2 4-8-8-1zm4-7l8 1 3-7-8-1zm4 9l8 1 4-7-8-2zm4-8l8 2 3-7-8-2zm4 9l8 1 4-7-8-1zm4-7l8 1 3-7-8-1zm4 8l8 2 4-8-8-1zm4-7l8 1 3-7-8-1zm4 9l8 1 4-8-8-1zm4-8l8 1 3-7-8-1zm4 9l8 0 4-7-8-1zm8 0l8 0 4-7-8 0zm5 8l8 0 4-8-9 0zm3-8l9 0 3-7-8 0zm5 8l8-1 4-7-8 0zm5 7l8-1 4-8-9 1zm3-8l9-1 3-7-8 1zm5 7l8-1 4-7-8 0zm5 7l8-1 4-8-9 1zm3-8l9-1 3-7-8 1zm2 14l8-1 4-8-9 2zm3-7l9-2 3-7-8 1zm5 6l9-3 3-7-8 2zm5 5l9-3 3-7-8 2zm5 5l9-3 4-7-9 2zm2 13l9-3 3-8-9 3zm3-8l9-3 4-8-9 3zm2 13l9-3 3-8-8 3zm4-8l8-3 4-8-9 3zm1 13l9-3 4-8-9 3zm4-8l9-3 3-8-9 3zm1 13l9-4 4-8-9 4zm4-8l9-4 4-8-9 4zm2 13l9-4 3-8-9 3zm5 6l9-4 4-9-9 3zm6 5l9-4 3-10-9 5z"/><path fill="#15807e" d="M318 339l8 3 4-7-7-3zm12-4l8 4 4-7-8-4zm8 4l7 4 4-8-7-3zm4-7l7 3 4-7-7-3zm7 3l8 4 4-7-8-4zm8 4l7 4 4-8-7-3zm4-7l7 3 4-7-7-3zm7 3l8 4 4-7-8-4zm8 4l7 3 4-7-7-3zm4-7l7 3 4-7-7-3zm7 3l8 3 3-7-7-3zm8 3l7 4 4-7-8-4zm3-7l8 4 4-8-8-3zm8 4l8 3 3-7-7-4zm8 3l7 3 4-7-8-3zm7 3l8 3 4-7-8-3zm4-7l8 3 3-7-7-3zm8 3l7 3 4-7-8-3zm7 3l8 3 4-7-8-3zm4-7l8 3 3-7-7-3zm8 3l7 3 4-7-8-3zm7 3l8 3 4-7-8-3zm8 3l7 2 4-7-7-2zm4-7l7 2 4-7-8-3zm7 2l8 2 3-7-7-2zm8 2l7 3 4-7-8-3zm7 3l8 2 4-7-8-2zm8 2l8 2 3-7-7-2zm4-7l7 2 4-7-8-2zm4 9l7 2 4-7-8-2zm3-7l8 2 4-7-8-2zm4 9l8 2 4-7-8-2zm4-7l8 2 4-7-8-2zm8 2l8 2 3-7-7-2zm8 2l7 2 4-7-8-2zm7 2l8 1 4-7-8-1zm8 1l8 2 4-7-8-2zm8 2l8 1 3-7-7-1zm8 1l8 2 3-7-8-2zm8 2l7 1 4-7-8-1zm7 1l8 2 4-7-8-2zm8 2l8 1 4-7-8-1zm8 1l8 1 4-7-8-1zm8 1l8 2 4-7-8-2zm8 2l8 1 4-7-8-1zm8 1l8 1 4-7-8-1zm8 1l8 1 4-7-8-1zm5 8l8 1 3-7-8-1zm3-7l8 1 4-7-8-1zm5 8l8 0 4-7-9 0zm3-7l9 0 3-7-8 0zm5 7l8 0 4-7-8 0zm5 7l8 0 3-7-8 0zm3-7l8 0 4-8-8 1zm5 7l8-1 4-7-9 1zm5 6l8 0 4-8-9 1zm3-7l9-1 3-7-8 1zm5 7l8-1 4-8-8 1zm5 6l8-1 4-8-9 2zm5 6l8-2 4-7-9 2zm3-7l9-2 3-8-8 2zm2 12l8-2 4-8-9 3zm3-7l9-3 3-7-8 3zm2 12l9-2 3-8-9 3zm3-7l9-3 4-7-9 2zm2 12l9-3 3-7-8 3zm4-7l8-3 4-8-9 3zm1 12l9-3 3-8-8 3zm5 5l9-3 4-8-9 3zm6 5l9-4 3-8-9 4zm1 12l9-3 4-9-9 4zm4-8l9-4 4-8-9 4zm2 13l9-3 3-9-9 4zm3-8l9-4 4-8-9 3zm2 14l9-5 4-9-9 5z"/><path fill="#169067" d="M323 332l7 3 4-7-7-4zm4-8l7 4 4-7-7-4zm7 4l8 4 4-7-8-4zm12-3l7 3 4-7-7-3zm7 3l8 4 4-7-8-4zm4-7l8 4 4-7-8-4zm8 4l7 3 4-7-7-3zm7 3l8 4 4-7-8-4zm4-7l8 4 3-7-7-4zm8 4l7 3 4-7-8-3zm7 3l7 3 4-7-7-3zm4-7l7 3 4-7-7-3zm7 3l8 3 4-7-8-3zm8 3l7 4 4-7-7-4zm7 4l8 3 4-7-8-3zm4-7l8 3 4-7-8-3zm8 3l7 3 4-7-7-3zm7 3l8 3 4-7-8-3zm4-7l8 3 4-7-8-3zm8 3l7 3 4-7-7-3zm7 3l8 3 4-7-8-3zm4-7l8 3 4-7-8-3zm4 10l8 3 3-8-7-2zm4-7l7 2 4-7-7-2zm7 2l8 3 4-7-8-3zm8 3l7 2 4-7-7-2zm7 2l8 3 4-7-8-3zm4-7l8 3 4-7-8-3zm4 10l8 2 3-7-7-2zm4-7l7 2 4-7-7-2zm7 2l8 2 4-7-8-2zm8 2l8 2 4-7-8-2zm8 2l8 2 3-7-7-2zm8 2l7 2 4-7-8-2zm3-7l8 2 4-7-8-2zm4 9l8 2 4-7-8-2zm4-7l8 2 3-7-7-2zm4 9l8 1 3-7-7-1zm4-7l7 1 4-7-8-1zm4 8l8 2 3-7-8-2zm3-7l8 2 4-7-8-2zm5 9l7 1 4-7-8-1zm3-7l8 1 4-7-8-1zm4 8l8 2 4-7-8-2zm4-7l8 2 3-7-7-2zm4 9l8 1 4-7-8-1zm4-7l8 1 3-7-8-1zm4 8l8 2 3-7-7-2zm4-7l7 2 4-7-8-2zm4 9l8 1 3-7-8-1zm3-7l8 1 4-7-8-1zm5 8l8 1 3-7-8-1zm3-7l8 1 4-7-8-1zm5 8l8 2 3-7-8-2zm3-7l8 2 4-7-8-2zm5 9l8 1 3-7-8-1zm3-7l8 1 4-7-8-1zm5 8l8 1 3-7-8-1zm3-7l8 1 4-7-8-1zm5 8l8 1 3-7-8-1zm3-7l8 1 4-7-8-1zm5 8l8 1 3-7-8-1zm8 1l8 0 4-7-9 0zm5 7l8 0 3-7-8 0zm3-7l8 0 4-7-8 0zm5 7l8-1 3-7-8 1zm4 7l9-1 3-7-8 0zm4-8l8 0 4-7-9 0zm5 7l8-1 3-7-8 1zm5 6l8-1 3-7-8 1zm3-7l8-1 4-7-9 1zm1 14l9-2 3-7-8 1zm4-8l8-1 4-7-9 1zm5 6l8-2 4-7-9 2zm5 6l8-3 4-7-9 2zm5 4l9-2 3-8-9 3zm5 5l9-3 3-7-8 3zm2 12l8-3 4-7-9 3zm3-7l9-3 3-7-8 2zm2 12l9-3 3-8-9 3zm3-8l9-3 4-7-9 3zm2 13l9-4 4-7-9 3zm4-8l9-3 3-8-9 3zm2 12l9-4 3-7-9 3zm5 4l9-3 4-8-9 3zm2 14l9-5 4-9-10 5zm3-9l10-5 3-8-9 5z"/><path fill="#18a150" d="M331 317l7 4 4-7-7-4zm7 4l8 4 4-7-8-4zm4-7l8 4 4-7-8-4zm8 4l7 3 4-7-7-3zm4-7l7 3 4-7-7-3zm7 3l8 4 4-7-8-4zm8 4l7 3 4-7-7-3zm4-7l7 3 4-7-7-3zm7 3l7 4 4-7-7-4zm7 4l8 3 4-7-8-3zm4-7l8 3 4-7-8-3zm8 3l7 3 4-7-7-3zm7 3l8 3 4-7-8-3zm4-7l8 3 4-6-8-4zm4 10l7 4 4-7-7-4zm4-7l7 4 4-7-7-3zm7 4l8 3 4-7-8-3zm8 3l7 3 4-7-7-3zm4-7l7 3 4-7-8-3zm7 3l8 3 3-7-7-3zm8 3l7 3 4-7-8-3zm3-7l8 3 4-7-8-3zm8 3l8 3 3-7-7-3zm8 3l7 2 4-6-8-3zm7 2l8 3 3-7-7-2zm4-6l7 2 4-7-7-2zm4 9l7 2 4-7-8-2zm3-7l8 2 4-7-8-2zm8 2l8 3 3-7-7-3zm8 3l7 2 4-7-8-2zm7 2l8 2 4-7-8-2zm4-7l8 2 3-7-7-2zm4 9l8 2 3-7-7-2zm4-7l7 2 4-7-8-2zm4 9l7 2 4-7-8-2zm3-7l8 2 4-7-8-2zm8 2l8 2 3-7-7-2zm8 2l7 2 4-7-8-2zm7 2l8 1 4-7-8-1zm8 1l8 2 3-7-7-2zm8 2l8 1 3-7-8-1zm8 1l7 2 4-7-8-2zm7 2l8 1 4-7-8-1zm8 1l8 2 4-8-8-1zm8 2l8 1 4-7-8-2zm8 1l8 1 3-7-7-1zm8 1l8 2 3-8-8-1zm8 2l8 1 3-7-8-2zm8 1l8 1 3-7-8-1zm8 1l8 1 3-7-8-1zm4 8l8 1 4-7-8-1zm4-7l8 1 3-8-8 0zm4 8l9 0 3-7-8 0zm4-7l8 0 3-7-8-1zm5 7l8 0 3-7-8 0zm4 7l8-1 4-7-8 1zm4-7l8-1 3-7-8 1zm4 6l9 0 3-7-8 0zm5 7l8-1 4-7-8 1zm4-7l8-1 3-7-8 1zm4 6l9-1 3-7-8 1zm5 6l9-1 3-7-8 1zm4-7l8-1 4-7-9 1zm1 13l9-2 3-7-8 2zm4-7l8-2 4-7-9 2zm1 12l9-2 3-7-8 2zm4-7l8-2 4-8-9 3zm1 12l9-3 3-7-8 3zm4-7l8-3 4-7-9 3zm2 12l8-3 4-7-9 2zm3-8l9-2 3-7-9 2zm2 12l8-2 4-8-9 3zm3-7l9-3 3-7-8 3zm2 12l9-3 3-7-9 3zm3-7l9-3 4-8-9 3zm2 11l9-3 4-7-9 3zm2 12l9-3 4-8-9 4zm4-7l9-4 3-7-9 3zm2 11l9-3 3-8-9 4zm3-7l9-4 4-8-9 4zm2 12l9-5 4-8-9 5z"/><path fill="#19b03b" d="M335 310l7 4 4-7-7-3zm4-6l7 3 4-7-7-3zm7 3l8 4 4-7-8-4zm12-3l7 3 4-6-7-4zm7 3l8 4 4-7-8-3zm4-6l8 3 4-7-8-3zm8 3l7 3 4-6-7-4zm7 3l7 4 4-7-7-3zm4-6l7 3 4-7-7-3zm7 3l8 3 4-7-8-3zm8 3l7 3 4-7-7-3zm4-7l7 3 4-6-7-4zm7 3l8 4 4-7-8-3zm8 4l7 3 4-7-7-3zm7 3l8 3 3-7-7-3zm4-7l7 3 4-7-7-3zm7 3l8 3 4-7-8-3zm8 3l7 3 4-7-7-3zm4-7l7 3 4-7-7-3zm7 3l8 3 4-7-8-3zm8 3l7 3 4-7-7-3zm4-7l7 3 4-7-8-2zm3 10l8 3 4-7-8-3zm4-7l8 3 3-7-7-3zm8 3l7 2 4-7-8-2zm7 2l8 2 3-6-7-3zm8 2l7 3 4-7-8-2zm3-6l8 2 4-7-8-2zm4 9l8 2 4-7-8-2zm4-7l8 2 3-7-7-2zm8 2l7 2 4-7-8-2zm7 2l8 2 4-7-8-2zm8 2l8 2 3-7-7-2zm8 2l7 2 4-7-8-2zm3-7l8 2 3-7-7-2zm4 9l8 2 4-7-8-2zm4-7l8 2 3-7-8-2zm4 9l8 1 3-7-7-1zm4-7l7 1 4-7-8-1zm4 8l7 2 4-7-8-2zm3-7l8 2 4-7-8-2zm4 9l8 1 4-7-8-1zm4-7l8 1 3-7-7-1zm4 8l8 2 4-7-8-2zm4-7l8 2 3-7-8-2zm4 9l8 1 3-7-7-1zm4-7l7 1 4-7-8-1zm4 8l8 1 3-7-8-1zm3-7l8 1 4-7-8-1zm5 8l8 2 3-7-8-2zm3-7l8 2 4-7-8-2zm5 9l7 1 4-7-8-1zm3-7l8 1 3-7-7-1zm4 8l8 1 4-7-8-1zm4-7l8 1 3-7-8-1zm4 8l8 2 4-7-8-2zm4-7l8 2 3-7-8-2zm4 9l8 1 4-7-8-1zm4-7l8 1 3-7-8-1zm4 8l8 1 4-7-8-1zm4-7l8 1 3-7-8-1zm4 8l8 0 4-7-8 0zm8 0l8 1 4-8-8 0zm5 8l8 0 4-8-9 1zm3-7l9-1 3-7-8 0zm5 7l8-1 4-7-8 0zm5 6l8 0 4-8-9 1zm3-7l9-1 3-7-8 1zm5 7l8-1 4-7-8 0zm5 6l8-1 4-7-9 1zm3-7l9-1 3-7-8 1zm5 6l9-1 3-7-8 1zm5 6l9-2 3-7-8 2zm5 5l9-3 3-7-8 3zm4-7l8-3 4-7-9 3zm1 12l9-3 3-7-8 2zm5 4l9-2 4-8-9 3zm6 5l8-3 4-7-9 3zm5 4l9-3 3-7-9 3zm2 12l9-3 3-7-9 3zm3-7l9-3 4-8-9 3zm2 11l9-3 4-8-9 4zm4-7l9-4 3-7-9 4zm2 11l9-4 3-7-9 4zm2 12l9-5 3-7-9 4zm3-8l9-4 4-8-9 4z"/><path fill="#1cb536" d="M343 297l7 3 4-7-7-3zm7 3l8 4 4-7-8-4zm4-7l8 4 4-7-8-3zm8 4l7 4 4-7-7-4zm4-7l7 4 4-7-7-3zm7 4l8 3 3-7-7-3zm8 3l7 4 4-7-8-4zm3-7l8 4 4-7-8-3zm8 4l7 3 4-7-7-3zm7 3l8 3 4-7-8-3zm4-7l8 3 4-6-8-3zm8 3l7 4 4-7-7-3zm7 4l8 3 3-7-7-3zm4-7l7 3 4-7-7-3zm4 10l7 3 4-7-8-3zm3-7l8 3 4-7-8-3zm8 3l7 3 4-7-7-3zm7 3l8 3 4-7-8-3zm4-7l8 3 3-6-7-3zm8 3l7 3 4-6-8-3zm7 3l8 3 3-6-7-3zm4-6l7 3 4-7-7-3zm7 3l8 2 4-7-8-2zm8 2l7 3 4-7-7-3zm7 3l8 2 4-7-8-2zm4-7l8 2 3-6-7-3zm4 9l7 3 4-7-7-3zm4-7l7 3 4-7-8-2zm7 3l8 2 3-7-7-2zm8 2l7 2 4-7-8-2zm7 2l8 2 4-7-8-2zm4-7l8 2 3-6-7-3zm4 9l8 2 3-7-7-2zm4-7l7 2 4-6-8-2zm4 9l7 2 4-7-8-2zm3-7l8 2 3-7-7-1zm8 2l7 2 4-7-8-2zm7 2l8 2 4-7-8-2zm8 2l8 1 3-7-7-1zm8 1l8 2 3-7-8-2zm8 2l7 1 4-7-8-1zm7 1l8 2 4-7-8-2zm8 2l8 1 3-7-7-1zm8 1l8 1 3-7-8-1zm8 1l8 2 3-7-8-2zm8 2l7 1 4-7-8-1zm7 1l8 1 4-7-8-1zm8 1l8 2 4-7-8-2zm8 2l8 1 4-7-8-1zm8 1l8 1 4-8-8 0zm5 8l8 0 3-7-8 0zm3-7l8 0 4-7-8-1zm5 7l8 0 3-7-8 0zm3-7l8 0 4-7-8 0zm5 7l8 0 3-7-8 0zm5 7l8 0 3-7-8 0zm3-7l8 0 4-7-9 0zm5 7l8-1 3-7-8 1zm5 6l8 0 3-7-8 0zm3-7l8 0 4-8-9 1zm5 7l8-1 4-7-9 1zm5 6l8-1 3-7-8 1zm3-7l8-1 4-7-8 1zm2 13l8-2 3-7-8 2zm3-7l8-2 4-7-9 2zm5 5l9-3 3-6-9 2zm2 11l8-2 4-7-9 2zm3-7l9-2 3-7-8 2zm2 12l9-3 3-7-9 3zm3-7l9-3 3-6-8 2zm2 12l9-3 3-7-8 2zm4-8l8-2 4-7-9 2zm1 12l9-3 4-7-9 3zm4-7l9-3 3-7-9 3zm2 11l9-3 3-7-9 3zm3-7l9-3 3-7-8 3zm2 12l9-4 3-7-8 3zm2 11l9-4 4-7-9 3zm4-8l9-3 3-7-9 3zm2 11l9-4 3-7-9 4zm3-7l9-4 4-7-9 4z"/><path fill="#1ebb30" d="M347 290l7 3 4-6-7-4zm4-7l7 4 4-7-7-4zm7 4l8 3 4-6-8-4zm12-3l7 3 4-7-7-3zm7 3l7 3 4-6-7-4zm4-7l7 4 4-7-7-3zm7 4l8 3 4-7-8-3zm8 3l7 3 4-6-7-4zm4-7l7 4 4-7-7-3zm7 4l8 3 3-7-7-3zm8 3l7 3 4-7-8-3zm3-7l8 3 4-6-8-3zm8 3l7 3 4-6-7-3zm7 3l8 3 3-6-7-3zm4-6l7 3 4-7-7-3zm4 9l7 3 4-6-8-3zm3-6l8 3 4-7-8-3zm8 3l7 3 4-7-7-3zm7 3l8 3 4-7-8-3zm4-7l8 3 3-7-7-3zm8 3l7 3 4-7-8-3zm7 3l8 2 3-6-7-3zm4-7l7 3 4-7-8-3zm4 9l7 3 4-7-8-2zm3-6l8 2 3-7-7-2zm8 2l7 3 4-7-8-3zm7 3l8 2 3-7-7-2zm8 2l7 2 4-7-8-2zm3-7l8 2 4-6-8-3zm4 9l8 2 4-7-8-2zm4-7l8 2 3-6-7-2zm8 2l7 3 4-7-8-2zm7 3l8 2 3-7-7-2zm8 2l7 1 4-6-8-2zm3-7l8 2 4-7-8-2zm4 8l8 2 4-7-8-1zm4-6l8 1 3-6-7-2zm4 8l8 2 3-7-7-2zm4-7l7 2 4-6-8-2zm4 9l7 1 4-6-8-2zm3-7l8 2 3-7-7-1zm4 8l8 2 4-7-8-1zm4-6l8 1 3-6-8-2zm4 8l8 1 3-6-7-2zm4-7l7 2 4-7-8-1zm4 8l8 2 3-7-8-1zm3-6l8 1 4-7-8-1zm5 8l7 1 4-7-8-1zm3-7l8 1 3-6-7-2zm4 8l8 1 4-6-8-2zm4-7l8 2 3-7-8-1zm4 8l8 2 4-7-8-1zm4-6l8 1 3-7-8-1zm4 8l8 1 3-7-7-1zm4-7l7 1 4-6-8-2zm4 8l8 1 3-7-8-1zm3-7l8 1 4-6-8-1zm5 8l8 2 3-7-8-2zm3-7l8 2 4-7-8-1zm5 9l8 1 3-7-8-1zm3-7l8 1 4-7-8-1zm5 8l8 0 3-6-8-1zm3-7l8 1 3-7-7-1zm5 7l8 1 3-7-8 0zm3-6l8 0 3-7-8 0zm5 7l8 0 3-7-8 0zm4 7l8 0 4-7-8 0zm4-7l8 0 3-7-8 0zm4 7l9 0 3-8-8 1zm5 7l8-1 4-7-8 1zm4-7l8-1 3-7-8 0zm4 6l9-1 3-7-8 1zm5 7l9-1 3-7-8 0zm4-8l8 0 3-7-8 0zm5 7l8-1 3-8-8 2zm4 6l9-2 3-7-8 2zm4-7l8-2 4-7-9 1zm1 12l9-2 3-7-8 2zm4-7l8-2 4-7-9 2zm2 11l8-2 4-7-9 3zm3-6l9-3 3-7-9 3zm2 11l8-2 4-7-9 2zm3-7l9-2 3-7-8 2zm2 11l9-2 3-7-9 3zm3-6l9-3 3-7-8 3zm2 11l9-3 3-7-8 3zm4-7l8-3 4-7-9 3zm2 11l8-3 4-7-9 3zm2 11l8-3 4-7-9 3zm3-7l9-3 3-7-9 3zm2 11l9-3 3-7-9 3zm3-7l9-3 4-7-9 3zm3 11l9-4 3-7-9 4z"/><path fill="#20c12a" d="M355 276l7 4 4-7-7-3zm7 4l8 4 4-7-8-4zm4-7l8 4 4-7-8-3zm8 4l7 3 4-6-7-4zm4-7l7 4 4-7-7-3zm7 4l7 3 4-7-7-3zm7 3l8 3 4-6-8-4zm4-7l8 4 3-7-7-3zm8 4l7 3 4-7-8-3zm7 3l7 3 4-6-7-4zm4-7l7 4 4-7-7-3zm7 4l8 3 3-7-7-3zm8 3l7 3 4-7-8-3zm3-7l8 3 4-7-8-3zm8 3l7 3 4-7-7-3zm7 3l8 3 3-7-7-3zm8 3l7 3 4-7-8-3zm3-7l8 3 4-6-8-3zm8 3l7 3 4-6-7-3zm7 3l8 3 3-7-7-2zm4-6l7 2 4-6-7-3zm7 2l8 3 4-7-8-2zm8 3l7 2 4-6-7-3zm7 2l8 3 4-7-8-2zm4-6l8 2 3-7-7-2zm4 9l7 2 4-7-7-2zm4-7l7 2 4-6-8-3zm7 2l8 3 3-7-7-2zm8 3l7 2 4-7-8-2zm3-7l8 2 3-6-7-3zm4 9l8 2 3-7-7-2zm4-7l7 2 4-6-8-2zm4 9l7 2 4-7-8-2zm3-7l8 2 4-6-8-2zm8 2l8 2 3-6-7-2zm8 2l7 2 4-7-8-1zm7 2l8 2 3-7-7-2zm8 2l7 1 4-6-8-2zm3-7l8 2 3-7-7-1zm4 8l8 2 4-7-8-1zm4-6l8 1 3-6-8-2zm4 8l8 1 3-6-7-2zm4-7l7 2 4-7-8-1zm4 8l8 1 3-6-8-1zm3-6l8 1 4-6-8-2zm5 7l7 2 4-7-8-1zm3-6l8 1 3-6-7-1zm4 8l8 1 4-6-8-2zm4-7l8 2 3-7-8-1zm4 8l8 1 3-6-7-1zm4-6l7 1 4-6-8-2zm4 7l8 2 3-7-8-1zm3-6l8 1 4-6-8-1zm5 8l8 1 3-7-8-1zm3-7l8 1 4-6-8-1zm5 8l8 1 3-6-8-2zm3-7l8 2 3-6-7-2zm5 8l8 1 3-6-8-1zm3-6l8 1 3-6-8-1zm5 7l7 1 4-6-8-1zm3-6l8 1 3-6-8-1zm4 7l8 0 4-6-8 0zm5 7l8 0 4-6-9-1zm3-7l9 1 3-7-8 0zm5 7l8 0 4-7-8 1zm4-6l8-1 3-6-8 0zm1 13l8-1 3-6-8 0zm3-7l8 0 4-7-8 0zm5 6l8 0 4-7-9 1zm3-6l9-1 3-7-8 1zm2 13l8-1 3-7-8 1zm3-7l8-1 4-7-8 1zm5 6l8 0 4-8-9 1zm3-7l9-1 3-6-8 0zm2 14l8-2 4-7-9 2zm3-7l9-2 3-7-8 1zm5 5l9-1 3-8-8 2zm5 6l9-2 3-8-8 3zm5 5l9-3 3-7-8 3zm6 4l8-2 3-7-8 2zm3-7l8-2 4-7-9 2zm2 12l8-3 4-6-9 2zm3-7l9-2 3-7-9 2zm2 11l9-3 3-6-9 2zm2 11l9-3 3-7-9 3zm3-7l9-3 3-6-8 2zm2 11l9-3 4-7-9 3zm4-7l9-3 3-7-9 3zm2 11l9-3 3-7-9 3zm3-7l9-3 4-7-9 3zm-1 18l9-4 3-7-9 4zm3-7l9-4 4-7-9 4z"/><path fill="#23c724" d="M359 270l7 3 4-6-7-4zm4-7l7 4 4-7-7-3zm7 4l8 3 4-6-8-4zm4-7l8 4 3-7-7-3zm8 4l7 3 4-6-8-4zm7 3l7 3 4-6-7-3zm4-6l7 3 4-7-7-3zm7 3l7 3 4-6-7-4zm7 3l8 3 4-6-8-3zm4-6l8 3 3-7-7-3zm8 3l7 3 4-7-8-3zm7 3l7 3 4-7-7-3zm4-7l7 3 4-6-7-3zm7 3l8 3 3-6-7-3zm8 3l7 3 4-6-8-3zm3-6l8 3 4-7-8-3zm4 9l7 3 4-6-7-3zm4-6l7 3 4-7-7-3zm7 3l8 3 3-7-7-3zm8 3l7 3 4-7-8-3zm3-7l8 3 3-7-7-2zm8 3l7 3 4-7-8-3zm7 3l8 2 3-6-7-3zm4-7l7 3 4-7-7-2zm4 9l7 3 4-7-8-2zm3-6l8 2 3-6-7-3zm8 2l7 2 4-6-8-2zm7 2l8 3 3-7-7-2zm4-6l7 2 4-6-8-2zm4 9l7 2 4-7-8-2zm3-7l8 2 3-6-7-2zm8 2l7 3 4-7-8-2zm7 3l8 2 4-7-8-2zm8 2l8 2 3-6-7-3zm4-7l7 3 4-7-8-2zm4 9l7 2 4-7-8-1zm3-6l8 1 3-6-7-2zm4 8l8 1 3-6-7-2zm4-7l7 2 4-6-8-2zm4 8l7 2 4-6-8-2zm3-6l8 2 3-6-7-2zm8 2l7 1 4-6-8-1zm7 1l8 2 4-6-8-2zm8 2l8 1 3-6-7-1zm4-6l7 1 4-6-8-1zm4 7l8 2 3-6-8-2zm3-6l8 2 3-6-7-2zm5 8l7 1 4-6-8-1zm3-6l8 1 3-6-8-1zm4 7l8 1 3-6-7-1zm4-6l7 1 4-5-8-2zm4 7l8 2 3-6-8-2zm3-6l8 2 4-6-8-1zm5 8l8 1 3-6-8-1zm3-6l8 1 3-6-7-1zm5 7l8 1 3-6-8-1zm3-6l8 1 3-5-8-2zm5 7l7 2 4-6-8-2zm3-6l8 2 3-6-8-1zm4 8l8 1 4-6-8-1zm4-6l8 1 3-6-8-1zm4 7l8 1 4-6-8-1zm4-6l8 1 3-6-8-1zm1 13l8 0 3-6-8 0zm3-6l8 0 4-6-8 0zm5 6l8 0 3-6-8 0zm3-6l8 0 3-6-7 0zm5 6l8 0 3-6-8 0zm3-6l8 0 4-6-9 0zm2 12l8 0 3-6-8 0zm3-6l8 0 3-6-8 0zm5 6l8-1 3-6-8 1zm5 6l8-1 3-6-8 0zm3-7l8 0 3-6-8 0zm5 6l8 0 3-7-8 1zm5 6l8-1 3-7-8 2zm3-6l8-2 4-6-9 1zm2 12l8-2 3-7-8 2zm3-7l8-2 4-6-9 1zm2 13l8-3 3-7-8 2zm3-8l8-2 4-7-9 2zm2 13l8-3 4-7-9 2zm3-8l9-2 3-7-9 2zm5 5l9-2 3-7-8 2zm5 5l9-2 3-7-8 2zm2 11l9-2 3-7-8 3zm4-6l8-3 4-7-9 3zm2 10l8-2 4-7-9 3zm3-6l9-3 3-7-9 3zm2 10l9-3 3-6-9 3zm3-6l9-3 4-7-9 3zm3 10l9-3 3-7-9 3zm3-7l9-3 3-6-9 3zm-1 18l9-4 3-7-9 4zm3-7l9-4 3-7-8 4z"/><path fill="#39cc22" d="M367 257l7 3 4-6-7-4zm4-7l7 4 4-7-7-3zm7 4l7 3 4-6-7-4zm7 3l8 4 4-7-8-3zm4-6l8 3 4-6-8-4zm8 3l7 3 4-6-7-3zm7 3l7 4 4-7-7-3zm4-6l7 3 4-6-7-3zm7 3l7 3 4-6-7-3zm7 3l8 3 4-6-8-3zm4-6l8 3 3-7-7-3zm8 3l7 3 4-7-8-3zm7 3l7 3 4-7-7-3zm4-7l7 3 4-6-7-3zm7 3l8 3 3-6-7-3zm8 3l7 3 4-6-8-3zm3-6l8 3 3-7-7-3zm4 9l7 3 4-6-7-3zm4-6l7 3 4-7-8-3zm7 3l7 2 4-6-7-3zm7 2l8 3 4-6-8-3zm4-6l8 3 3-7-7-2zm8 3l7 2 4-6-8-3zm7 2l7 3 4-7-7-2zm4-6l7 2 4-6-8-2zm3 9l8 2 3-6-7-3zm4-7l7 3 4-7-7-2zm7 3l8 2 4-6-8-3zm8 2l7 2 4-6-7-2zm4-6l7 2 4-6-8-2zm3 8l8 2 4-6-8-2zm4-6l8 2 3-6-7-2zm4 8l8 2 3-6-7-2zm4-6l7 2 4-6-8-2zm7 2l8 2 3-6-7-2zm8 2l7 2 4-6-8-2zm3-6l8 2 3-6-7-2zm4 8l8 2 3-6-7-2zm4-6l7 2 4-6-8-2zm4 8l7 2 4-6-8-2zm3-6l8 2 3-6-7-2zm4 8l8 1 3-6-7-1zm4-6l7 1 4-5-8-2zm4 7l8 2 3-6-8-2zm3-6l8 2 4-6-8-1zm8 2l8 1 3-5-7-2zm8 1l7 2 4-6-8-1zm7 2l8 1 4-6-8-1zm4-6l8 1 3-5-8-2zm4 7l8 2 3-6-7-2zm4-6l7 2 4-6-8-1zm4 8l8 1 3-6-8-1zm3-6l8 1 3-5-7-2zm5 7l7 1 4-5-8-2zm3-6l8 2 3-6-8-1zm4 7l8 2 4-6-8-1zm4-5l8 1 3-6-8-1zm4 7l8 1 3-6-7-1zm4-6l7 1 4-5-8-2zm4 7l8 1 3-6-8-1zm3-6l8 1 4-5-8-1zm5 7l8 1 3-6-8-1zm3-6l8 1 3-5-7-1zm2 13l8 0 3-5-8-1zm3-6l8 1 3-6-8-1zm3-6l8 1 3-6-8 0zm2 12l7 0 4-5-8 0zm3-5l8 0 3-6-8 0zm4 5l9 0 3-5-8 0zm4-5l8 0 3-6-8 0zm1 11l8 0 4-6-8 0zm4-6l8 0 3-6-8 1zm1 12l8-1 3-6-8 1zm3-6l8-1 4-6-8 1zm4-6l8-1 3-5-8 0zm1 11l8 0 4-6-9 0zm3-6l9 0 3-6-8 0zm2 12l8-1 4-6-9 1zm3-6l9-1 3-6-8 1zm5 5l9-1 3-6-8 1zm5 5l9-1 3-7-8 2zm4-6l8-2 3-6-8 2zm1 11l9-2 3-6-8 2zm4-6l8-2 3-7-8 2zm1 11l9-2 3-7-8 2zm4-7l8-2 3-6-8 2zm2 12l8-2 3-7-8 2zm3-7l8-2 4-7-9 2zm2 12l8-2 4-7-9 2zm3-7l9-2 3-7-9 2zm2 12l9-3 3-7-9 3zm3-7l9-3 3-7-8 3zm2 11l9-3 3-6-8 2zm4-7l8-2 4-7-9 2zm2 11l9-3 3-7-9 3zm3-7l9-3 3-6-9 3zm2 11l9-3 3-7-8 3zm3 10l8-4 4-6-9 3zm3-7l9-3 3-7-9 4z"/><path fill="#54d121" d="M375 244l7 3 4-6-7-3zm7 3l7 4 4-7-7-3zm4-6l7 3 4-6-7-3zm7 3l8 4 3-7-7-3zm8 4l7 3 4-6-8-4zm3-7l8 4 3-7-7-3zm8 4l7 3 4-7-8-3zm7 3l7 3 4-7-7-3zm4-7l7 3 4-6-7-3zm7 3l7 3 4-6-7-3zm7 3l8 3 4-6-8-3zm4-6l8 3 3-6-7-3zm8 3l7 3 4-6-8-3zm7 3l7 3 4-7-7-2zm4-6l7 2 4-6-8-3zm7 2l7 3 4-6-7-3zm7 3l8 3 3-6-7-3zm4-6l7 3 4-6-7-3zm4 9l7 3 4-6-8-3zm3-6l8 3 3-7-7-2zm8 3l7 2 4-6-8-3zm3-7l8 3 3-6-7-3zm4 9l8 3 3-6-7-3zm4-6l7 3 4-7-8-2zm7 3l8 2 3-6-7-3zm8 2l7 2 4-6-8-2zm3-6l8 2 3-6-7-2zm4 8l8 3 3-6-7-3zm4-6l7 3 4-7-8-2zm7 3l8 2 3-6-7-3zm8 2l7 2 4-6-8-2zm3-6l8 2 3-6-7-2zm4 8l8 2 3-6-7-2zm4-6l7 2 4-6-8-2zm4 8l7 2 4-6-8-2zm3-6l8 2 3-6-7-2zm8 2l7 2 4-6-8-2zm7 2l8 2 3-6-7-2zm4-6l7 2 4-6-8-2zm4 8l7 2 4-6-8-2zm3-6l8 2 3-6-7-2zm4 8l8 2 3-6-7-2zm4-6l7 2 4-6-8-2zm4 8l8 1 3-6-8-1zm3-6l8 1 3-6-7-1zm5 7l7 2 4-6-8-2zm3-6l8 2 3-6-8-2zm4 8l8 1 3-6-7-1zm4-6l7 1 4-5-8-2zm7 1l8 2 3-6-7-1zm8 2l8 1 3-6-8-1zm3-6l8 1 3-5-7-2zm5 7l7 2 4-6-8-2zm3-6l8 2 3-6-8-1zm4 8l8 1 3-6-7-1zm4-6l7 1 4-5-8-2zm4 7l8 1 3-5-8-2zm3-6l8 2 4-6-8-1zm5 7l8 2 3-6-8-1zm3-5l8 1 3-6-7-1zm5 7l8 1 3-6-8-1zm3-6l8 1 3-5-8-2zm5 7l7 1 4-6-8-1zm3-6l8 1 3-5-8-1zm4 7l8 0 4-5-8-1zm4-6l8 1 3-6-8 0zm1 12l8 0 3-5-8-1zm3-6l8 1 4-6-8 0zm5 6l8 0 3-5-8 0zm3-5l8 0 4-6-8 0zm2 11l8-1 3-5-8 0zm3-6l8 0 3-6-8 1zm5 5l8 0 3-6-8 1zm3-5l8-1 3-5-8 0zm2 10l8 0 3-6-8 1zm3-5l8-1 3-5-8 0zm2 11l8-1 3-6-8 1zm3-6l8-1 3-5-8 0zm3-6l8 0 3-6-8 1zm-1 17l8-1 3-6-8 1zm3-6l8-1 3-6-8 1zm3-6l8-1 3-5-8 1zm2 11l8-2 3-6-8 2zm3-6l8-2 4-5-9 1zm2 10l8-2 3-6-8 2zm3-6l8-2 4-6-9 2zm2 11l8-2 4-7-9 2zm5 4l9-2 3-6-9 2zm5 5l9-2 3-7-8 2zm6 5l8-3 4-6-9 2zm5 4l9-2 3-7-9 2zm5 5l9-3 3-7-8 3zm3 10l8-3 4-6-9 2zm3-7l9-2 3-7-9 3zm2 11l9-4 3-6-9 3zm3-7l9-3 4-7-9 4z"/><path fill="#6fd720" d="M379 238l7 3 4-6-7-3zm4-6l7 3 4-6-8-4zm7 3l7 3 4-6-7-3zm7 3l7 3 4-6-7-3zm4-6l7 3 4-6-7-3zm7 3l7 3 4-6-7-3zm7 3l8 3 4-6-8-3zm4-6l8 3 3-6-7-3zm8 3l7 3 4-6-8-3zm7 3l7 3 4-6-7-3zm4-6l7 3 4-7-8-3zm7 3l7 3 4-7-7-3zm7 3l8 3 3-7-7-3zm4-7l7 3 4-6-7-3zm7 3l8 3 3-6-7-3zm8 3l7 3 4-6-8-3zm3-6l8 3 3-6-7-3zm8 3l7 3 4-7-8-2zm7 3l7 2 4-6-7-3zm4-7l7 3 4-6-8-3zm7 3l7 3 4-6-7-3zm7 3l8 2 3-6-7-2zm4-6l7 2 4-6-7-2zm4 8l7 3 4-6-8-3zm3-6l8 3 3-6-7-3zm8 3l7 2 4-6-8-2zm7 2l8 2 3-6-7-2zm4-6l7 2 4-6-8-2zm4 8l7 3 4-6-8-3zm3-6l8 3 3-6-7-3zm8 3l7 2 4-6-8-2zm7 2l8 2 3-6-7-2zm4-6l7 2 4-6-8-2zm4 8l7 2 4-6-8-2zm3-6l8 2 3-6-7-2zm4 8l8 2 3-6-7-2zm4-6l7 2 4-5-8-3zm7 2l8 2 3-5-7-2zm4-5l7 2 3-6-7-2zm4 7l7 2 4-6-8-1zm3-5l8 1 3-6-8-1zm4 7l8 2 3-6-7-2zm4-6l7 2 4-6-8-2zm4 8l7 1 4-5-8-2zm3-6l8 2 3-6-7-2zm4 7l8 2 3-6-7-1zm4-5l7 1 4-6-8-1zm4 7l8 2 3-6-8-2zm3-6l8 2 3-6-7-2zm5 8l7 1 4-6-8-1zm3-6l8 1 3-6-8-1zm8 1l7 2 4-6-8-2zm7 2l8 1 3-6-7-1zm4-6l7 1 4-6-8-1zm4 7l8 2 3-6-8-2zm3-6l8 2 3-6-7-2zm5 8l8 1 3-6-8-1zm3-6l8 1 3-6-8-1zm5 7l7 1 4-5-8-2zm3-6l8 2 3-6-8-2zm4 7l8 2 3-6-7-1zm4-5l7 1 4-6-8-1zm4 7l8 1 3-6-8-1zm3-6l8 1 3-6-7-1zm5 7l8 0 3-6-8 0zm3-6l8 0 3-6-8 0zm2 12l8 0 3-6-8 0zm3-6l8 0 3-5-8-1zm5 6l8 0 3-6-8 0zm3-6l8 0 3-5-8 0zm1 12l8-1 4-5-8 0zm4-6l8 0 3-6-8 0zm3-6l8 0 3-5-8 0zm1 11l8 0 4-5-8 0zm4-5l8 0 3-6-8 0zm1 10l8 0 3-5-8 0zm3-5l8 0 4-6-8 1zm4-5l8-1 3-5-8 0zm1 10l8-1 4-5-9 1zm3-5l9-1 3-5-8 0zm2 10l8-1 4-5-9 0zm3-6l9 0 3-6-8 1zm2 10l9-1 3-6-9 2zm3-5l9-2 3-5-8 2zm2 9l9-2 3-5-8 2zm4-5l8-2 3-5-8 1zm-2 15l9-2 3-6-9 2zm3-6l9-2 3-5-8 1zm4-6l8-1 3-6-8 2zm-2 17l9-2 3-7-8 2zm4-7l8-2 3-6-8 2zm2 11l8-2 3-7-8 3zm3-6l8-3 4-6-9 2zm2 11l9-2 3-7-9 2zm3-7l9-2 3-7-9 2zm2 11l9-2 3-7-8 3zm4-6l8-3 3-7-8 3zm2 11l8-3 4-7-9 3zm3-7l9-3 3-6-9 2zm2 11l9-3 3-7-9 3zm3-7l9-3 3-6-8 2zm3 11l9-4 3-6-9 3zm3-7l9-3 3-7-9 3z"/><path fill="#8adc1f" d="M386 225l8 4 3-7-7-3zm8 4l7 3 4-6-8-4zm3-7l8 4 4-7-8-3zm8 4l7 3 4-7-7-3zm7 3l7 3 4-6-7-4zm4-7l7 4 4-7-7-3zm7 4l7 3 4-7-7-3zm4-7l7 3 4-6-7-3zm3 10l8 3 3-7-7-3zm4-7l7 3 4-6-7-3zm7 3l8 3 3-6-7-3zm4-6l7 3 4-6-7-3zm4 9l7 3 4-6-8-3zm3-6l8 3 3-6-7-3zm8 3l7 3 4-6-8-3zm7 3l7 3 4-6-7-3zm4-6l7 3 4-7-8-2zm7 3l7 3 4-7-7-3zm7 3l8 2 3-6-7-3zm4-7l7 3 4-6-7-3zm7 3l8 3 3-6-7-3zm8 3l7 3 4-6-8-3zm3-6l8 3 3-6-7-3zm8 3l7 2 4-6-8-2zm7 2l7 3 4-6-7-3zm4-6l7 3 3-6-7-3zm3 9l8 2 3-6-7-2zm4-6l7 2 4-6-8-2zm7 2l8 2 3-6-7-2zm8 2l7 3 4-6-8-3zm3-6l8 3 3-6-7-3zm4 9l8 2 3-6-7-2zm4-6l7 2 4-6-8-2zm7 2l8 2 3-6-7-2zm8 2l7 2 3-6-7-2zm3-6l7 2 4-6-8-2zm4 8l8 3 3-6-8-3zm3-6l8 3 3-6-7-3zm8 3l7 2 4-7-8-1zm7 2l8 1 3-6-7-2zm8 1l8 2 3-6-8-2zm3-6l8 2 3-6-7-2zm5 8l7 2 3-6-7-2zm3-6l7 2 4-7-8-1zm4 8l8 1 3-6-8-1zm3-6l8 1 3-6-7-2zm5 7l7 2 4-6-8-2zm3-6l8 2 3-6-8-2zm4 8l8 1 3-6-7-1zm4-6l7 1 4-6-8-1zm4 7l8 2 3-6-8-2zm3-6l8 2 3-6-7-2zm8 2l8 1 3-6-8-1zm8 1l7 2 4-6-8-2zm7 2l8 1 3-6-7-1zm8 1l8 2 3-7-8-1zm8 2l8 1 3-6-8-2zm8 1l7 1 4-6-8-1zm7 1l8 0 3-6-7 0zm5 6l8 1 3-6-8-1zm3-6l8 1 3-6-8-1zm5 7l8 0 3-6-8 0zm3-6l8 0 3-6-8 0zm5 6l8 0 3-6-8 0zm5 5l8 0 3-6-8 1zm3-5l8-1 3-5-8 0zm5 5l8 0 3-6-8 0zm3-6l8 0 3-6-8 1zm2 11l8 0 3-6-8 1zm3-5l8-1 3-5-8 0zm2 10l8-1 3-5-8 1zm3-5l8-1 3-5-8 0zm3-6l8 0 3-6-8 1zm-1 16l8-2 3-5-8 1zm3-6l8-1 3-5-8 1zm3-5l8-1 3-5-8 1zm-1 14l8-1 3-5-8 1zm3-5l8-1 3-5-8 1zm3-5l8-1 3-6-8 2zm-1 14l8-2 3-5-8 2zm3-5l8-2 3-5-8 2zm-1 14l8-2 4-5-9 2zm3-5l9-2 3-6-9 2zm3-6l9-2 3-5-9 2zm-1 15l9-2 3-6-9 2zm3-6l9-2 3-5-8 2zm4-5l8-2 3-5-8 1zm-2 15l9-2 3-6-8 2zm4-6l8-2 3-6-8 2zm2 11l8-3 4-6-9 2zm3-7l9-2 3-6-9 2zm2 11l9-2 3-7-9 2zm3-7l9-2 3-7-8 3zm3 11l8-2 4-7-9 3zm3-6l9-3 3-7-9 3zm2 10l9-3 3-6-9 3zm3-6l9-3 4-7-9 3z"/><path fill="#a0df1d" d="M390 219l7 3 4-6-7-3zm4-6l7 3 4-6-7-4zm7 3l8 3 3-6-7-3zm8 3l7 3 4-6-8-3zm3-6l8 3 3-6-7-3zm8 3l7 3 4-6-8-3zm3-6l8 3 3-6-7-3zm8 3l7 3 4-6-8-3zm7 3l7 3 4-6-7-3zm4-6l7 3 4-6-8-3zm7 3l7 3 4-6-7-3zm7 3l7 3 4-6-7-3zm4-6l7 3 4-6-8-3zm3 9l8 3 3-6-7-3zm4-6l7 3 4-7-7-2zm7 3l8 2 3-6-7-3zm4-7l7 3 4-6-7-3zm4 9l7 3 4-6-8-3zm3-6l8 3 3-6-7-3zm8 3l7 3 3-6-7-3zm3-6l7 3 4-6-7-3zm4 9l7 3 4-6-8-3zm3-6l8 3 3-6-7-3zm8 3l7 3 4-7-8-2zm7 3l8 2 3-6-7-3zm4-7l7 3 4-6-8-3zm7 3l7 3 4-6-7-3zm7 3l8 2 3-6-7-2zm4-6l7 2 4-6-8-3zm4 8l7 2 4-6-8-2zm3-6l8 2 3-6-7-2zm8 2l7 3 4-6-8-3zm7 3l8 2 3-6-7-2zm4-6l7 2 3-6-7-3zm4 8l7 2 3-6-7-2zm3-6l7 2 4-6-8-2zm7 2l8 2 3-6-7-2zm8 2l7 3 4-7-8-2zm3-6l8 2 3-6-7-2zm4 9l8 1 3-6-7-2zm4-7l7 2 4-6-8-2zm4 8l7 2 4-6-8-2zm3-6l8 2 3-7-7-1zm8 2l7 2 4-7-8-2zm7 2l8 1 3-6-7-2zm8 1l7 2 4-7-8-1zm7 2l8 2 3-7-7-2zm8 2l8 1 3-7-8-1zm8 1l7 2 4-7-8-2zm7 2l8 1 3-7-7-1zm4-7l7 1 4-7-8-1zm4 8l8 2 3-7-8-2zm3-7l8 2 3-7-7-2zm5 9l7 1 4-7-8-1zm3-7l8 1 3-7-8-1zm4 8l8 1 3-6-7-2zm4-7l7 2 4-8-8-1zm4 8l8 2 3-7-8-1zm3-6l8 1 3-8-7-1zm5 8l8 1 3-7-8-1zm3-7l8 1 3-8-8-1zm5 8l7 0 4-7-8 0zm3-7l8 0 3-7-8-1zm4 7l8 1 4-7-8-1zm8 1l8 0 3-7-7 0zm5 6l8 0 3-7-8 1zm3-6l8-1 3-6-8 0zm5 6l8 0 3-7-8 0zm3-7l8 0 3-7-8 1zm5 7l8-1 3-6-8 0zm5 5l8 0 3-6-8 0zm3-6l8 0 3-6-8 0zm5 6l8-1 3-6-8 1zm5 5l8-1 3-6-8 1zm3-6l8-1 3-6-8 1zm2 10l8-2 3-5-8 2zm3-5l8-2 4-5-9 1zm-1 14l8-2 4-5-9 2zm3-5l9-2 3-5-9 1zm3-6l9-1 3-5-9 1zm-1 14l9-2 3-5-9 2zm3-5l9-2 3-5-8 2zm4-5l8-2 3-5-8 2zm-1 13l8-1 3-5-8 1zm3-5l8-1 3-5-8 1zm3-5l8-1 3-5-8 1zm-4 19l8-2 4-5-9 2zm3-5l9-2 3-5-9 2zm3-5l9-2 3-5-9 2zm-1 14l9-2 3-6-9 2zm3-6l9-2 3-5-8 2zm4-5l8-2 3-5-8 2zm-1 15l8-3 4-6-9 3zm3-6l9-3 3-5-9 2zm2 10l9-3 3-6-9 2zm3-7l9-2 3-6-8 2zm3 11l9-3 3-7-9 3z"/><path fill="#b2e11b" d="M398 206l7 4 4-6-7-4zm7 4l7 3 4-6-7-3zm4-6l7 3 4-6-7-4zm7 3l7 3 4-6-7-3zm4-6l7 3 4-6-7-4zm7 3l7 3 4-6-7-3zm7 3l8 3 3-6-7-3zm4-6l7 3 4-6-7-4zm7 3l8 3 3-6-7-3zm8 3l7 3 3-6-7-3zm3-6l7 3 4-6-7-3zm7 3l8 3 3-7-7-2zm8 3l7 2 4-6-8-3zm3-7l8 3 3-6-7-3zm8 3l7 3 3-6-7-3zm7 3l7 3 4-6-8-3zm3-6l8 3 3-6-7-3zm8 3l7 3 4-6-8-3zm7 3l7 3 4-6-7-3zm4-6l7 3 3-6-7-3zm3 9l8 2 3-6-7-2zm4-6l7 2 4-6-8-2zm7 2l8 3 3-6-7-3zm4-6l7 3 4-6-8-3zm4 9l7 3 3-7-7-2zm3-6l7 2 4-6-7-2zm7 2l8 3 3-6-7-3zm8 3l7 2 4-6-8-2zm3-6l8 2 3-7-7-2zm4 8l8 3 3-7-7-2zm4-6l7 2 3-6-7-3zm7 2l7 3 4-7-8-2zm7 3l8 2 3-7-7-2zm8 2l7 2 4-6-8-3zm3-7l8 3 3-7-7-2zm8 3l7 2 4-7-8-2zm7 2l8 2 3-7-7-2zm8 2l7 1 3-6-7-2zm7 1l8 2 3-7-8-1zm8 2l7 2 4-7-8-2zm7 2l8 1 3-7-7-1zm4-7l7 1 3-7-7-1zm4 8l7 2 4-7-8-2zm3-7l8 2 3-7-8-2zm4 9l8 1 3-7-7-1zm4-7l7 1 4-7-8-1zm4 8l8 2 3-7-8-2zm3-7l8 2 3-8-7-1zm8 2l8 1 3-7-8-2zm8 1l7 2 3-8-7-1zm7 2l8 1 3-7-8-2zm8 1l8 1 3-7-8-1zm8 1l7 1 4-7-8-1zm7 1l8 1 3-7-7-1zm8 1l8 1 3-8-8 0zm5 8l8 1 3-8-8 0zm3-7l8 0 3-7-8-1zm5 8l7 0 4-8-8 0zm7 0l8 0 4-8-8 0zm8 0l8-1 4-7-8 0zm5 6l8 0 3-7-8 0zm3-7l8 0 4-7-8 0zm5 7l8 0 3-7-8 0zm5 6l8-1 3-6-8 1zm3-6l8-1 4-7-9 1zm5 5l8-1 4-6-9 1zm3-6l9-1 3-7-8 1zm2 11l9-1 3-6-9 1zm3-6l9-1 3-6-8 1zm2 10l9-1 3-6-8 2zm4-5l8-2 3-5-8 1zm2 9l8-2 3-5-8 2zm3-5l8-2 3-5-8 1zm2 8l8-1 3-5-8 1zm3-5l8-1 3-5-8 1zm-1 14l9-2 3-5-9 2zm3-5l9-2 3-5-9 2zm3-5l9-2 3-5-9 2zm0 13l8-2 3-5-8 2zm3-5l8-2 3-5-8 2zm3-5l8-2 3-5-8 2zm-4 18l9-2 3-6-9 3zm3-5l9-3 3-5-9 3zm3-5l9-3 3-4-9 2zm0 13l8-2 3-6-8 3zm3-5l8-3 3-5-8 2zm-1 15l9-3 3-6-9 3zm3-6l9-3 3-6-9 3zm3-6l9-3 3-5-9 2z"/><path fill="#c3e219" d="M402 200l7 4 4-7-8-3zm3-6l8 3 3-6-7-3zm8 3l7 4 4-7-8-3zm3-6l8 3 3-6-7-3zm8 3l7 4 4-7-8-3zm7 4l7 3 4-7-7-3zm4-7l7 3 3-6-7-3zm7 3l7 4 4-7-8-3zm7 4l7 3 4-6-7-4zm4-7l7 4 3-7-7-3zm7 4l7 3 4-7-8-3zm7 3l7 2 4-6-7-3zm4-7l7 3 4-6-8-3zm7 3l7 3 4-6-7-3zm7 3l7 3 4-6-7-3zm4-6l7 3 4-6-8-3zm7 3l7 3 4-6-7-3zm7 3l8 3 3-6-7-3zm4-6l7 3 4-6-8-3zm7 3l7 3 4-7-7-2zm7 3l8 2 3-6-7-3zm4-7l7 3 4-6-8-3zm7 3l8 3 3-7-7-2zm8 3l7 2 3-6-7-3zm7 2l7 3 4-7-8-2zm3-6l8 2 3-7-7-2zm8 2l7 2 4-6-8-3zm7 2l7 3 4-7-7-2zm7 3l8 2 3-7-7-2zm4-7l7 2 4-6-8-3zm4 9l7 2 4-6-8-3zm3-7l8 3 3-7-7-2zm8 3l7 2 3-7-7-2zm7 2l8 2 3-7-8-2zm8 2l7 2 3-7-7-2zm7 2l7 2 4-7-8-2zm3-7l8 2 3-7-7-2zm4 9l8 1 3-7-7-1zm4-7l7 1 4-7-8-1zm4 8l8 2 3-7-8-2zm3-7l8 2 3-7-7-2zm8 2l7 1 4-7-8-1zm7 1l8 2 3-7-7-2zm8 2l8 1 3-7-8-1zm8 1l7 1 3-7-7-1zm7 1l8 2 3-7-8-2zm8 2l7 1 4-7-8-1zm7 1l8 2 3-8-7-1zm8 2l8 1 3-7-8-2zm8 1l8 1 3-7-8-1zm8 1l7 1 4-7-8-1zm7 1l8 0 3-7-7 0zm8 0l8 1 3-8-8 0zm5 8l8 0 3-7-8 0zm3-7l8 0 3-8-8 0zm5 7l8 0 3-8-8 1zm8 0l8 0 3-8-8 0zm8 0l8 0 3-8-8 0zm4 7l8 0 4-8-8 1zm4-7l8-1 3-7-8 0zm4 7l9-1 3-7-8 0zm9-1l8-1 3-7-8 1zm5 6l8-1 3-7-8 1zm5 5l8-1 3-6-8 1zm3-6l8-1 3-7-8 1zm2 10l8-1 3-5-8 1zm3-5l8-1 3-6-8 1zm2 9l8-1 3-5-8 1zm3-5l8-1 3-6-8 2zm3-5l8-2 3-6-8 2zm-1 14l9-2 3-4-9 1zm3-5l9-1 3-6-9 2zm3-5l9-2 3-5-9 1zm0 13l8-2 3-4-8 1zm3-5l8-1 3-5-8 2zm3-4l8-2 3-5-8 1zm-4 17l9-2 3-5-9 2zm3-5l9-2 3-4-9 1zm3-5l9-1 3-5-9 2zm-3 17l8-2 3-5-8 2zm3-5l8-2 3-4-8 2zm3-4l8-2 3-5-8 2zm3-5l8-2 3-4-8 2zm-4 17l9-2 3-5-9 2zm3-5l9-2 3-5-9 2zm3-5l9-2 3-5-9 3z"/><path fill="#d5e417" d="M409 188l7 3 4-6-7-3zm4-6l7 3 4-6-7-4zm7 3l7 3 4-6-7-3zm7 3l8 3 3-6-7-3zm4-6l7 3 4-6-7-3zm7 3l7 3 4-6-7-3zm7 3l8 3 3-6-7-3zm4-6l7 3 4-6-7-3zm7 3l7 3 4-6-7-3zm7 3l8 3 3-6-7-3zm4-6l7 3 4-6-7-3zm7 3l8 3 3-6-7-3zm8 3l7 3 3-6-7-3zm3-6l7 3 4-6-7-3zm7 3l8 3 3-6-7-3zm8 3l7 3 3-6-7-3zm3-6l7 3 4-6-7-3zm7 3l8 3 3-7-7-2zm8 3l7 2 3-6-7-3zm3-7l7 3 4-6-7-3zm7 3l8 3 3-7-7-2zm8 3l7 2 4-6-8-3zm7 2l7 3 4-7-7-2zm4-6l7 2 3-6-7-3zm7 2l7 2 4-6-8-2zm7 2l8 3 3-7-7-2zm8 3l7 2 3-7-7-2zm3-7l7 2 4-6-8-3zm7 2l8 3 3-7-7-2zm8 3l7 2 3-7-7-2zm7 2l7 2 4-7-8-2zm7 2l8 2 3-7-7-2zm4-7l7 2 4-7-8-2zm4 9l7 2 4-7-8-2zm3-7l8 2 3-7-7-2zm8 2l7 2 3-7-7-2zm7 2l8 1 3-7-8-1zm8 1l7 2 3-7-7-2zm7 2l8 1 3-7-8-1zm8 1l7 2 4-7-8-2zm7 2l8 1 3-7-7-1zm8 1l7 1 4-7-8-1zm7 1l8 2 3-7-7-2zm8 2l8 1 3-7-8-1zm8 1l7 1 4-7-8-1zm7 1l8 2 3-7-7-2zm4-7l7 2 3-8-7-1zm4 9l8 1 3-7-8-1zm3-7l8 1 3-8-8-1zm5 8l8 1 3-8-8 0zm8 1l7 0 4-7-8-1zm7 0l8 0 3-7-7 0zm8 0l8 0 3-7-8 0zm5 8l8-1 3-7-8 0zm3-8l8 0 3-7-8 0zm5 7l8 0 3-7-8 0zm8 0l8 0 3-7-8 0zm8 0l8 0 3-8-8 1zm5 7l8 0 3-8-8 1zm8 0l8-1 3-8-8 1zm5 6l8-1 3-7-8 1zm3-7l8-1 3-8-8 1zm5 6l8-1 3-8-8 2zm5 6l8-1 3-7-8 1zm3-7l8-1 3-8-8 1zm5 6l8-2 4-6-9 1zm5 4l9-1 3-6-9 1zm3-6l9-1 3-7-8 2zm3 10l8-1 3-5-8 1zm3-5l8-1 3-6-8 1zm-1 14l9-2 3-5-9 2zm3-5l9-2 3-5-9 2zm3-5l9-2 3-5-9 2zm0 13l8-2 3-5-8 2zm3-5l8-2 3-4-8 1zm3-5l8-1 3-5-8 1zm-4 17l9-3 3-4-9 2zm3-5l9-2 3-4-9 2zm3-4l9-2 3-5-9 2zm3-5l9-2 3-4-9 2z"/><path fill="#e7e614" d="M417 175l7 4 4-6-8-4zm7 4l7 3 4-6-7-3zm4-6l7 3 3-6-7-3zm7 3l7 3 4-6-8-3zm7 3l7 3 4-6-7-3zm4-6l7 3 3-6-7-3zm7 3l7 3 4-6-8-3zm7 3l7 3 4-6-7-3zm4-6l7 3 3-6-7-3zm7 3l7 3 4-6-8-3zm3-6l8 3 3-6-7-3zm4 9l7 3 4-6-7-3zm4-6l7 3 3-6-7-3zm7 3l7 3 3-6-7-3zm7 3l7 3 4-6-8-3zm3-6l8 3 3-7-7-2zm8 3l7 3 3-7-7-3zm7 3l7 2 4-6-8-3zm3-7l8 3 3-7-7-2zm8 3l7 3 3-7-7-3zm7 3l7 2 4-6-8-3zm3-7l8 3 3-7-7-2zm4 9l8 3 3-7-7-2zm4-6l7 2 3-6-7-3zm7 2l7 3 4-7-8-2zm7 3l8 2 3-7-7-2zm8 2l7 2 3-7-7-2zm3-7l7 2 4-6-8-2zm7 2l8 3 3-7-7-2zm8 3l7 2 3-7-7-2zm7 2l7 2 4-7-8-2zm3-7l8 2 3-6-7-2zm4 9l8 2 3-7-7-2zm4-7l7 2 3-6-7-2zm7 2l8 2 3-6-8-2zm8 2l7 2 3-7-7-1zm7 2l7 2 4-7-8-2zm7 2l8 1 3-6-7-2zm8 1l7 2 4-7-8-1zm7 2l8 1 3-7-7-1zm8 1l8 2 3-7-8-2zm3-7l8 2 3-7-8-2zm5 9l7 1 3-7-7-1zm3-7l7 1 4-7-8-1zm4 8l8 1 3-7-8-1zm3-7l8 1 3-7-7-1zm5 8l7 2 4-8-8-1zm3-7l8 1 3-7-8-1zm4 9l8 1 3-7-7-2zm4-8l7 2 3-7-7-2zm4 9l8 1 3-7-8-1zm3-7l8 1 3-7-8-1zm8 1l7 1 4-7-8-1zm7 1l8 1 3-7-7-1zm5 9l8 0 3-7-8-1zm3-8l8 1 3-7-8-1zm5 8l8 1 3-8-8 0zm3-7l8 0 3-7-8 0zm5 8l7 0 4-8-8 0zm7 0l8 0 3-8-7 0zm8 0l8 0 3-8-8 0zm5 7l8 0 3-8-8 1zm3-7l8-1 3-7-8 0zm5 7l8 0 3-8-8 0zm8 0l8-1 3-7-8 0zm5 7l8-1 3-7-8 0zm3-8l8 0 3-8-8 1zm5 7l8-1 3-7-8 1zm8-1l8-1 3-7-8 1zm5 7l8-2 3-7-8 1zm8-2l8-1 3-7-8 1zm5 7l9-1 3-8-9 1zm9-1l8-2 3-7-8 1zm5 5l8-1 3-7-8 1zm5 5l9-2 3-6-9 2zm3-6l9-2 3-6-9 1zm3 9l8-1 3-5-8 1zm3-5l8-1 3-6-8 1zm2 9l9-2 3-5-9 2zm3-5l9-2 3-5-9 2z"/><path fill="#ede112" d="M420 169l8 4 3-6-7-4zm4-6l7 4 4-6-7-4zm7 4l7 3 4-6-7-3zm7 3l8 3 3-6-7-3zm4-6l7 3 4-6-7-3zm7 3l7 3 4-6-7-3zm4-6l7 3 4-6-8-3zm3 9l8 3 3-6-7-3zm4-6l7 3 4-6-7-3zm7 3l7 3 4-6-7-3zm4-6l7 3 3-6-7-3zm7 3l7 3 4-6-8-3zm7 3l7 3 4-6-7-3zm4-6l7 3 3-6-7-3zm3 9l7 3 4-6-7-3zm4-6l7 3 4-7-8-2zm7 3l7 2 4-6-7-3zm7 2l7 3 4-6-7-3zm4-6l7 3 3-6-7-3zm7 3l7 2 4-6-8-2zm7 2l7 3 4-6-7-3zm4-6l7 3 3-7-7-2zm7 3l7 2 4-6-8-3zm7 2l7 3 4-7-7-2zm7 3l8 2 3-6-7-3zm4-7l7 3 4-7-8-2zm4 9l7 2 3-6-7-2zm3-6l7 2 4-7-7-2zm7 2l8 2 3-7-7-2zm8 2l7 2 3-7-7-2zm7 2l7 2 4-6-8-3zm3-7l8 3 3-7-7-2zm8 3l7 2 3-7-7-2zm7 2l7 2 4-7-8-2zm7 2l8 2 3-7-7-2zm8 2l7 1 4-6-8-2zm7 1l8 2 3-7-7-1zm4-6l7 1 3-7-7-1zm4 8l7 2 3-7-7-2zm3-7l7 2 4-7-8-2zm4 9l8 1 3-7-8-1zm3-7l8 1 3-7-7-1zm5 8l7 1 3-7-7-1zm3-7l7 1 4-7-8-1zm7 1l8 2 3-8-7-1zm8 2l8 1 3-7-8-2zm8 1l7 1 3-7-7-1zm7 1l8 1 3-7-8-1zm8 1l7 2 4-8-8-1zm7 2l8 1 3-7-7-2zm8 1l8 1 3-7-8-1zm8 1l7 1 4-7-8-1zm7 1l8 1 3-8-7 0zm8 1l8 0 3-8-8 0zm5 7l8 0 3-7-8 0zm3-7l8 0 3-8-8 0zm5 7l7 0 4-7-8 0zm7 0l8 0 3-7-7 0zm8 0l8 0 3-8-8 1zm5 7l8 0 3-7-8 0zm3-7l8 0 3-8-8 0zm5 7l8 0 3-8-8 1zm8 0l8-1 3-7-8 0zm5 7l8-1 3-8-8 1zm3-8l8-1 3-7-8 1zm5 7l8-1 3-8-8 1zm5 6l8-1 3-8-8 2zm3-7l8-2 3-7-8 1zm5 6l8-1 4-8-9 1zm5 6l9-1 3-7-9 1zm3-7l9-1 3-8-8 1zm6 6l8-1 3-8-8 2zm5 6l8-1 3-7-8 1zm3-7l8-1 3-8-8 1zm5 6l9-1 3-8-9 2zm6 5l8-1 3-7-8 2zm3-6l8-2 3-7-8 1zm2 11l9-2 3-6-9 2zm3-6l9-2 3-6-9 1z"/><path fill="#efda10" d="M428 157l7 4 4-6-8-4zm7 4l7 3 4-6-7-3zm4-6l7 3 3-6-7-3zm7 3l7 3 3-6-7-3zm3-6l7 3 4-6-7-3zm7 3l8 3 3-6-7-3zm8 3l7 3 3-6-7-3zm3-6l7 3 4-6-7-3zm7 3l7 3 4-6-7-3zm7 3l8 3 3-6-7-3zm4-6l7 3 4-6-7-3zm7 3l7 3 4-6-7-3zm7 3l8 2 3-6-7-2zm8 2l7 3 3-6-7-3zm3-6l7 3 4-6-7-3zm7 3l7 3 4-7-7-2zm7 3l8 2 3-6-7-3zm4-7l7 3 4-6-8-3zm7 3l7 2 4-6-7-2zm7 2l8 3 3-7-7-2zm8 3l7 2 3-6-7-3zm3-7l7 3 4-7-8-2zm7 3l8 2 3-6-7-3zm8 2l7 2 3-6-7-2zm7 2l7 2 3-6-7-2zm3-6l7 2 4-7-7-2zm4 8l7 2 4-6-8-2zm3-6l8 2 3-7-7-2zm8 2l7 2 3-7-7-2zm7 2l7 2 4-7-8-2zm7 2l8 2 3-7-7-2zm8 2l7 2 3-7-7-2zm3-7l7 2 4-7-8-2zm4 9l8 2 3-7-8-2zm3-7l8 2 3-7-7-2zm8 2l7 1 4-7-8-1zm7 1l8 2 3-7-7-2zm8 2l7 1 3-7-7-1zm7 1l8 1 3-7-8-1zm8 1l7 1 3-7-7-1zm7 1l8 2 3-8-8-1zm8 2l7 1 4-7-8-2zm7 1l8 1 3-7-7-1zm8 1l8 1 3-7-8-1zm8 1l7 2 3-8-7-1zm7 2l8 1 3-8-8-1zm8 1l8 1 3-8-8-1zm8 1l7 0 3-7-7-1zm7 0l8 0 3-7-8 0zm8 0l8 0 3-7-8 0zm5 8l8 0 3-8-8 0zm3-8l8 0 3-7-8 0zm5 8l7 0 4-8-8 0zm7 0l8-1 3-7-7 0zm8-1l8 0 3-8-8 1zm5 8l8-1 3-7-8 0zm8-1l8 0 3-8-8 1zm8 0l8-1 3-8-8 1zm5 6l8-1 3-7-8 1zm8-1l8-1 4-8-9 2zm5 6l9-1 3-7-9 1zm9-1l8-1 3-7-8 1zm5 7l8-2 3-7-8 1zm8-2l8-1 3-7-8 1zm5 7l9-2 3-7-9 1zm9-2l8-1 3-8-8 2zm5 6l9-1 3-8-9 2z"/><path fill="#f1d30e" d="M431 151l8 4 3-6-7-3zm4-5l7 3 4-6-7-3zm7 3l7 3 4-6-7-3zm4-6l7 3 4-6-8-3zm7 3l7 3 4-6-7-3zm7 3l7 3 4-6-7-3zm4-6l7 3 3-6-7-3zm7 3l7 3 3-6-7-3zm7 3l7 3 4-6-8-3zm3-6l8 3 3-6-7-3zm8 3l7 3 3-6-7-3zm7 3l7 3 3-7-7-2zm3-6l7 2 4-6-7-2zm4 9l7 2 4-6-8-3zm3-7l8 3 3-6-7-3zm8 3l7 3 3-6-7-3zm7 3l7 2 3-6-7-2zm3-6l7 2 4-6-7-3zm7 2l8 3 3-7-7-2zm8 3l7 2 3-6-7-3zm3-7l7 3 4-7-8-2zm4 9l7 2 3-6-7-2zm3-6l7 2 4-6-7-3zm7 2l8 2 3-6-7-2zm8 2l7 3 3-7-7-2zm7 3l7 2 4-7-8-2zm3-7l8 2 3-6-7-2zm8 2l7 2 3-6-7-2zm7 2l7 2 3-6-7-2zm7 2l7 2 4-6-8-2zm7 2l8 2 3-6-7-2zm4-6l7 2 3-7-7-2zm4 8l7 2 3-7-7-1zm3-6l7 1 4-6-8-2zm7 1l8 2 3-7-7-1zm8 2l7 2 3-7-7-2zm7 2l8 1 3-7-8-1zm8 1l7 2 3-7-7-2zm7 2l7 1 4-7-8-1zm7 1l8 1 3-7-7-1zm8 1l7 1 4-7-8-1zm7 1l8 1 3-7-7-1zm8 1l8 2 3-8-8-1zm8 2l7 1 3-8-7-1zm7 1l8 1 3-7-8-2zm8 1l7 1 4-7-8-1zm7 1l8 1 3-7-7-1zm8 1l8 1 3-7-8-1zm8 1l7 1 4-8-8 0zm7 1l8 0 3-8-7 0zm8 0l8 0 3-8-8 0zm8 0l8 0 3-8-8 0zm5 7l8 0 3-8-8 1zm8 0l7 0 4-8-8 0zm7 0l8-1 3-7-7 0zm5 7l8 0 3-8-8 0zm3-8l8 0 3-8-8 1zm5 8l8-1 3-8-8 1zm8-1l8-1 3-8-8 1zm5 7l8-1 3-8-8 1zm8-1l9-2 3-7-9 1zm5 6l9-1 3-8-8 1zm4-8l8-1 3-7-8 1zm5 7l8-1 3-8-8 1zm5 6l8-1 3-7-8 1zm3-7l8-1 3-8-8 1zm5 6l8-1 3-8-8 2zm5 6l9-1 3-8-9 2zm3-7l9-2 3-7-9 1zm6 6l8-2 3-7-8 1zm5 6l9-2 3-7-9 1zm3-8l9-1 3-7-9 1z"/><path fill="#f4cc0b" d="M439 140l7 3 3-6-7-3zm3-6l7 3 4-6-7-3zm7 3l8 3 3-6-7-3zm8 3l7 3 3-6-7-3zm3-6l7 3 4-5-7-3zm7 3l7 3 4-6-7-2zm7 3l7 3 4-6-7-3zm4-6l7 3 3-6-7-2zm7 3l7 3 4-6-8-3zm7 3l7 3 4-6-7-3zm4-6l7 3 3-6-7-3zm7 3l7 2 3-6-7-2zm7 2l7 3 3-6-7-3zm3-6l7 3 4-6-7-3zm4 9l7 3 4-7-8-2zm3-6l8 2 3-6-7-2zm8 2l7 3 3-6-7-3zm7 3l7 2 3-6-7-2zm3-6l7 2 4-6-7-2zm7 2l8 2 3-6-7-2zm8 2l7 3 3-7-7-2zm7 3l7 2 3-7-7-2zm3-7l7 2 4-6-7-2zm4 9l7 2 4-6-8-3zm3-7l8 3 3-7-7-2zm8 3l7 2 3-7-7-2zm7 2l7 2 3-7-7-2zm7 2l7 2 4-7-8-2zm7 2l8 2 3-7-7-2zm4-7l7 2 3-7-7-2zm7 2l7 2 4-7-8-2zm7 2l8 2 3-7-7-2zm8 2l7 1 3-7-7-1zm7 1l7 2 4-7-8-2zm7 2l8 1 3-7-7-1zm8 1l7 2 3-7-7-2zm7 2l8 1 3-7-8-1zm8 1l7 1 3-7-7-1zm7 1l8 1 3-7-8-1zm8 1l7 1 3-7-7-1zm7 1l8 1 3-7-8-1zm8 1l7 1 4-7-8-1zm7 1l8 2 3-8-7-1zm8 2l8 1 3-8-8-1zm8 1l7 1 3-8-7-1zm7 1l8 1 3-8-8-1zm8 1l8 0 3-8-8 0zm8 0l7 0 3-8-7 0zm7 0l8 0 3-8-8 0zm8 0l8 0 3-8-8 0zm5 8l8-1 3-8-8 1zm8-1l8 0 3-8-8 0zm8 0l7 0 4-8-8 0zm7 0l8-1 4-8-8 1zm5 7l8-1 3-8-8 1zm8-1l8-1 4-8-9 1zm5 7l8-1 4-8-9 1zm3-8l9-1 3-8-8 1zm5 7l9-1 3-8-8 1zm9-1l8-1 3-8-8 1zm5 6l8-1 3-7-8 1zm8-1l8-1 3-8-8 2zm5 7l8-2 3-7-8 1zm3-8l8-1 4-8-9 1zm5 6l9-1 3-7-9 1zm6 6l8-1 3-7-8 1zm3-7l8-1 3-8-8 2zm5 6l9-1 3-8-9 2z"/><path fill="#f4c10b" d="M446 128l7 3 4-5-7-3zm7 3l7 3 4-5-7-3zm4-5l7 3 3-6-7-3zm7 3l7 3 3-6-7-3zm7 3l7 2 3-5-7-3zm3-6l7 3 4-6-7-3zm7 3l7 2 4-5-7-3zm7 2l8 3 3-6-7-2zm4-5l7 2 4-6-8-2zm7 2l7 3 4-6-7-3zm7 3l7 2 4-6-7-2zm4-6l7 2 3-6-7-2zm7 2l7 3 3-6-7-3zm7 3l7 2 3-6-7-2zm7 2l7 3 4-6-8-3zm3-6l8 3 3-7-7-2zm8 3l7 2 3-6-7-3zm7 2l7 2 3-6-7-2zm7 2l7 2 4-6-8-2zm3-6l8 2 3-6-7-2zm8 2l7 2 3-6-7-2zm7 2l7 2 3-6-7-2zm7 2l7 2 3-7-7-1zm7 2l7 2 4-7-8-2zm7 2l8 2 3-7-7-2zm166 25l8-1 3-8-8 1zm8-1l8 0 3-8-8 0zm8 0l8 0 3-8-8 0zm8 0l8-1 3-8-8 1zm4 7l8-1 4-8-8 1zm8-1l9-1 3-8-8 1zm9-1l8-1 3-8-8 1zm5 7l8-1 3-8-8 1zm8-1l8-1 3-8-8 1zm5 7l8-1 3-8-8 1zm3-8l8-1 3-8-8 1zm5 7l8-2 3-7-8 1zm8-2l9-1 3-7-9 1zm5 7l9-1 3-8-8 1zm9-1l8-2 3-7-8 1zm5 6l9-2 3-7-9 1z"/><path fill="#f1b30e" d="M450 123l7 3 3-6-7-3zm3-6l7 3 4-6-7-2zm7 3l7 3 4-6-7-3zm4-6l7 3 3-5-7-3zm3 9l7 3 4-6-7-3zm4-6l7 3 3-6-7-2zm7 3l7 3 3-6-7-3zm3-6l7 3 4-6-7-2zm4 9l7 3 3-6-7-3zm3-6l7 3 4-6-7-3zm7 3l8 2 3-5-7-3zm8 2l7 3 3-6-7-2zm3-5l7 2 4-6-8-2zm7 2l7 2 4-6-7-2zm7 2l7 3 4-6-7-3zm4-6l7 3 3-6-7-2zm3 9l7 2 4-6-7-2zm4-6l7 2 3-6-7-2zm7 2l7 2 3-6-7-2zm7 2l7 3 4-7-8-2zm7 3l7 2 4-6-7-3zm241 35l8-1 3-8-8 1zm8-1l8-1 3-8-8 1zm8-1l8-1 3-8-8 1zm5 7l8-1 3-8-8 1zm8-1l8-1 3-8-8 1zm8-1l8-1 3-8-8 1zm5 7l8-1 3-8-8 1zm8-1l9-1 3-8-9 1zm6 6l8-1 3-8-8 2zm8-1l8-1 3-8-8 1zm5 6l9-1 3-7-9 1zm3-7l9-1 3-8-9 1z"/><path fill="#efa510" d="M457 112l7 2 3-5-7-3zm3-6l7 3 4-6-7-2zm7 3l7 3 4-6-7-3zm7 3l7 2 4-5-7-3zm4-6l7 3 3-6-7-2zm7 3l7 2 3-5-7-3zm7 2l7 3 3-6-7-2zm3-5l7 2 4-5-7-3zm4 8l7 3 3-6-7-3zm3-6l7 3 4-6-7-2zm7 3l8 2 3-6-7-2zm8 2l7 2 3-5-7-3zm300 44l8-1 3-8-8 1zm8-1l8-1 3-8-8 1zm8-1l8-1 3-8-8 1zm5 7l8-1 3-8-8 1zm8-1l9-1 3-8-9 1zm6 7l8-2 3-7-8 1zm3-8l8-1 3-8-8 1zm5 6l8-1 3-8-8 2zm8-1l9-1 3-8-9 1z"/><path fill="#ed9712" d="M464 101l7 2 3-5-7-3zm7 2l7 3 3-5-7-3zm3-5l7 3 4-6-7-2zm7 3l7 2 4-5-7-3zm7 2l7 3 4-6-7-2zm353 51l8-1 3-8-8 1zm8-1l9-1 3-8-9 1zm9-1l8-1 3-9-8 2zm5 7l8-2 3-8-8 2zm8-2l9-1 3-8-9 1z"/><path fill="#eb8b14" d="M467 95l7 3 4-5-7-3zm399 56l8-2 3-8-8 1zm8-2l9-1 3-8-9 1z"/></g>
<g><line x1="131.1" y1="273.9" x2="115" y2="72.3" stroke="#303030" stroke-width="1.2"/><line x1="131.1" y1="273.9" x2="351" y2="326.9" stroke="#303030" stroke-width="1.2"/><line x1="351" y1="326.9" x2="431.9" y2="224.4" stroke="#303030" stroke-width="1.2"/><line x1="431.9" y1="224.4" x2="445.2" y2="35.8" stroke="#303030" stroke-width="1.2"/><line x1="131.1" y1="273.9" x2="124.1" y2="279.6" stroke="#303030" stroke-width="1.2"/><line x1="127.4" y1="227.1" x2="120.1" y2="232.4" stroke="#303030" stroke-width="1.2"/><line x1="123.4" y1="178" x2="116" y2="183" stroke="#303030" stroke-width="1.2"/><line x1="119.3" y1="126.5" x2="111.6" y2="131" stroke="#303030" stroke-width="1.2"/><line x1="115" y1="72.3" x2="107.1" y2="76.3" stroke="#303030" stroke-width="1.2"/><line x1="150.9" y1="278.7" x2="145" y2="283.6" stroke="#303030" stroke-width="1.2"/><line x1="186.8" y1="287.3" x2="181.1" y2="292.4" stroke="#303030" stroke-width="1.2"/><line x1="223.8" y1="296.3" x2="218.4" y2="301.5" stroke="#303030" stroke-width="1.2"/><line x1="262.1" y1="305.5" x2="256.9" y2="310.9" stroke="#303030" stroke-width="1.2"/><line x1="301.6" y1="315" x2="296.7" y2="320.6" stroke="#303030" stroke-width="1.2"/><line x1="342.5" y1="324.8" x2="337.9" y2="330.6" stroke="#303030" stroke-width="1.2"/><line x1="361.1" y1="314.1" x2="369" y2="315.9" stroke="#303030" stroke-width="1.2"/><line x1="380.7" y1="289.2" x2="388.3" y2="290.9" stroke="#303030" stroke-width="1.2"/><line x1="398.8" y1="266.3" x2="406.2" y2="267.9" stroke="#303030" stroke-width="1.2"/><line x1="415.5" y1="245.1" x2="422.7" y2="246.6" stroke="#303030" stroke-width="1.2"/><line x1="431.1" y1="225.4" x2="438" y2="226.8" stroke="#303030" stroke-width="1.2"/></g>
<g><line x1="144.4" y1="754.9" x2="130" y2="556.3" stroke="#c8c8c8" stroke-width="1"/><line x1="170.3" y1="734.1" x2="159" y2="541.5" stroke="#c8c8c8" stroke-width="1"/><line x1="194.4" y1="714.7" x2="185.7" y2="527.8" stroke="#c8c8c8" stroke-width="1"/><line x1="216.8" y1="696.7" x2="210.4" y2="515.1" stroke="#c8c8c8" stroke-width="1"/><line x1="237.8" y1="679.8" x2="233.4" y2="503.4" stroke="#c8c8c8" stroke-width="1"/><line x1="128.1" y1="728.3" x2="238.1" y2="645.9" stroke="#c8c8c8" stroke-width="1"/><line x1="125" y1="689.6" x2="237.3" y2="611.9" stroke="#c8c8c8" stroke-width="1"/><line x1="121.8" y1="649.4" x2="236.4" y2="576.7" stroke="#c8c8c8" stroke-width="1"/><line x1="118.5" y1="607.5" x2="235.5" y2="540.4" stroke="#c8c8c8" stroke-width="1"/><line x1="256.5" y1="682.3" x2="253.7" y2="505" stroke="#c8c8c8" stroke-width="1"/><line x1="288.3" y1="688.5" x2="288.3" y2="509.1" stroke="#c8c8c8" stroke-width="1"/><line x1="321" y1="694.7" x2="323.8" y2="513.3" stroke="#c8c8c8" stroke-width="1"/><line x1="354.6" y1="701.2" x2="360.5" y2="517.6" stroke="#c8c8c8" stroke-width="1"/><line x1="389.1" y1="707.9" x2="398.2" y2="522" stroke="#c8c8c8" stroke-width="1"/><line x1="424.6" y1="714.7" x2="437.2" y2="526.6" stroke="#c8c8c8" stroke-width="1"/><line x1="238.1" y1="645.9" x2="434.4" y2="681" stroke="#c8c8c8" stroke-width="1"/><line x1="237.3" y1="611.9" x2="436.9" y2="644.7" stroke="#c8c8c8" stroke-width="1"/><line x1="236.4" y1="576.7" x2="439.6" y2="607" stroke="#c8c8c8" stroke-width="1"/><line x1="235.5" y1="540.4" x2="442.3" y2="568" stroke="#c8c8c8" stroke-width="1"/><line x1="150.9" y1="770.4" x2="256.5" y2="682.3" stroke="#c8c8c8" stroke-width="1"/><line x1="186.8" y1="779" x2="288.3" y2="688.5" stroke="#c8c8c8" stroke-width="1"/><line x1="223.8" y1="788" x2="321" y2="694.7" stroke="#c8c8c8" stroke-width="1"/><line x1="262.1" y1="797.2" x2="354.6" y2="701.2" stroke="#c8c8c8" stroke-width="1"/><line x1="301.6" y1="806.7" x2="389.1" y2="707.9" stroke="#c8c8c8" stroke-width="1"/><line x1="342.5" y1="816.5" x2="424.6" y2="714.7" stroke="#c8c8c8" stroke-width="1"/><line x1="144.4" y1="754.9" x2="361.1" y2="805.8" stroke="#c8c8c8" stroke-width="1"/><line x1="170.3" y1="734.1" x2="380.7" y2="780.9" stroke="#c8c8c8" stroke-width="1"/><line x1="194.4" y1="714.7" x2="398.8" y2="758" stroke="#c8c8c8" stroke-width="1"/><line x1="216.8" y1="696.7" x2="415.5" y2="736.8" stroke="#c8c8c8" stroke-width="1"/><line x1="237.8" y1="679.8" x2="431.1" y2="717.1" stroke="#c8c8c8" stroke-width="1"/></g>
<g><line x1="131.1" y1="765.6" x2="238.9" y2="678.9" stroke="#303030" stroke-width="1.2"/><line x1="238.9" y1="678.9" x2="431.9" y2="716.1" stroke="#303030" stroke-width="1.2"/><line x1="238.9" y1="678.9" x2="234.6" y2="502.8" stroke="#303030" stroke-width="1.2"/><line x1="115" y1="564" x2="234.6" y2="502.8" stroke="#303030" stroke-width="1.2"/><line x1="234.6" y1="502.8" x2="445.2" y2="527.5" stroke="#303030" stroke-width="1.2"/></g>
<g transform="scale(0.5)" stroke="#000" stroke-width="1.7" stroke-linejoin="round"><path fill="#270f84" d="M650 1455l8 6 3-6-8-6zm11 0l8 4 3-7-8-5zm8 4l7 3 4-7-8-3zm7 3l8 1 3-8-7 0zm10 130l8 6 4-12-9-6zm8 6l9 7 4-13-9-6z"/><path fill="#210f97" d="M628 1450l7 7 4-4-8-7zm11 3l8 7 3-5-8-7zm3-5l8 7 3-6-7-7zm11 1l8 6 3-8-7-5zm4-7l7 5 4-8-8-5zm7 5l8 5 3-9-7-4zm8 5l8 3 3-9-8-3zm3-9l8 3 3-9-7-2zm5 12l7 0 4-9-8 0zm7 0l8-2 4-8-8 1zm-10 131l9 6 3-12-8-6zm21 0l9 6 4-11-9-5z"/><path fill="#1b0fa9" d="M617 1445l7 8 4-3-8-8zm3-3l8 8 3-4-7-8zm11 4l8 7 3-5-7-7zm4-5l7 7 4-6-8-7zm3-6l8 7 3-7-8-7zm8 7l7 7 4-7-8-7zm3-7l8 7 3-8-8-6zm11-1l8 5 3-8-8-5zm8 5l7 4 4-8-8-4zm15 7l8 0 3-9-8 0zm8 0l8-1 3-10-8 2zm4 7l8-3 4-9-8 4zm-27 126l9 7 4-12-9-6zm13-5l8 6 4-10-9-6zm8 6l9 6 4-10-9-6zm4-10l9 6 4-10-9-6zm9 6l9 5 3-10-8-5z"/><path fill="#150fbc" d="M358 1398l7 0 4-3-7 0zm4-3l7 0 4-2-7 0zm4-2l7 0 4-3-7 0zm4-3l7 0 4-3-7 1zm4-2l7-1 4-3-7 1zm4-3l7-1 4-2-7 0zm4-3l7 0 4-3-7 1zm4-2l7-1 4-3-7 1zm4-3l7-1 4-3-7 1zm4-3l7-1 3-3-6 2zm4-2l6-2 4-2-7 1zm3-3l7-1 4-3-7 1zm4-3l7-1 4-3-7 1zm4-3l7-1 3-3-6 2zm4-2l6-2 4-3-6 2zm4-3l6-2 4-3-7 2zm3-3l7-2 4-3-7 2zm4-3l7-2 3-3-6 2zm4-3l6-2 4-3-7 2zm3-3l7-2 3-3-6 2zm4-3l6-2 4-3-7 2zm3-3l7-2 4-3-7 2zm4-3l7-2 3-4-6 4zm4-2l6-4 4-3-7 4zm3-3l7-4 3-3-6 4zm4-3l6-4 4-3-7 4zm3-3l7-4 3-3-6 4zm4-3l6-4 3-3-6 4zm-83 67l7 0 4-3-7 0zm4-3l7 0 4-3-7 0zm4-3l7 0 4-3-7 1zm4-2l7-1 4-3-7 1zm4-3l7-1 4-3-7 1zm4-3l7-1 3-3-6 1zm4-3l6-1 4-3-7 1zm3-3l7-1 4-3-7 2zm4-2l7-2 4-3-7 2zm4-3l7-2 4-3-7 2zm4-3l7-2 3-3-7 2zm3-3l7-2 4-3-7 2zm4-3l7-2 4-3-7 2zm4-3l7-2 3-3-6 2zm182 85l8 7 3-3-8-8zm-3 12l8 6 4 0-8-7zm4-1l8 7 3-1-8-7zm3-1l8 7 3-2-7-8zm11-10l7 8 4-5-8-8zm3-5l8 8 3-6-8-8zm14-5l8 7 3-7-7-7zm11 0l8 6 3-8-7-6zm11-2l8 5 3-10-7-4zm8 5l8 4 3-10-8-4zm8 4l7 2 4-10-8-2zm7 2l8 0 3-10-7 0zm8 0l8-2 3-10-8 2zm5 8l8-4 3-10-8 4zm4 5l9-6 3-9-8 6zm5 2l9-7 3-8-8 7zm-57 113l9 7 3-11-8-6zm9 7l8 7 4-11-9-7zm12-4l9 6 3-10-8-6zm12-4l9 6 4-10-9-5zm13-4l9 6 3-9-8-5zm9 6l8 5 4-9-9-5zm3-9l9 5 3-8-8-5z"/><path fill="#130fc8" d="M324 1417l7 0 5-2-7-1zm5-3l7 1 4-2-7-1zm4-2l7 1 4-3-7 0zm4-2l7 0 4-2-7-1zm4-3l7 1 5-3-7 0zm5-2l7 0 4-2-7 0zm4-2l7 0 4-3-7 0zm4-3l7 0 4-2-7 0zm109-80l6-4 4-3-7 4zm3-3l7-4 3-4-6 4zm4-4l6-4 4-3-7 4zm3-3l7-4 3-3-6 4zm-137 105l7 1 4-3-7 0zm4-2l7 0 4-2-7-1zm4-3l7 1 5-3-8 0zm4-2l8 0 4-2-7-1zm5-3l7 1 4-3-7 0zm4-2l7 0 4-3-7 0zm4-3l7 0 4-2-7 0zm4-2l7 0 4-3-7 0zm4-3l7 0 4-3-7 1zm4-2l7-1 4-2-7 0zm58-43l6-2 4-4-7 3zm3-3l7-3 3-3-6 3zm4-3l6-3 4-3-7 3zm3-3l7-3 4-3-7 3zm4-3l7-3 3-3-6 3zm4-3l6-3 4-4-7 3zm3-4l7-3 3-3-6 3zm4-3l6-3 4-3-7 3zm3-3l7-3 3-3-6 3zm4-3l6-3 4-3-7 3zm3-3l7-3 3-4-7 4zm3-3l7-4 3-3-6 4zm-122 97l7 1 4-2-7-1zm4-2l7 1 5-3-7-1zm5-3l7 1 4-3-7 0zm4-2l7 0 4-2-7-1zm4-3l7 1 4-3-7-1zm4-3l7 1 4-3-7 0zm4-2l7 0 4-3-7 0zm4-3l7 0 4-3-7 0zm4-3l7 0 4-3-7 1zm4-2l7-1 4-3-7 1zm4-3l7-1 4-3-7 1zm4-3l7-1 4-3-7 1zm4-3l7-1 4-3-7 1zm4-3l7-1 3-3-6 1zm4-3l6-1 4-3-7 1zm3-3l7-1 4-3-7 1zm4-3l7-1 4-3-7 1zm4-3l7-1 4-3-7 1zm4-3l7-1 3-3-6 1zm4-3l6-1 4-3-7 1zm3-3l7-1 4-4-7 2zm4-3l7-2 3-3-6 2zm4-3l6-2 4-3-7 2zm3-3l7-2 4-4-7 2zm4-4l7-2 3-3-7 2zm3-3l7-2 4-3-7 2zm4-3l7-2 3-4-6 3zm-90 74l8 0 4-2-7-1zm5-3l7 1 4-3-7-1zm4-3l7 1 4-3-7 0zm4-2l7 0 4-3-7 0zm4-3l7 0 4-2-7-1zm4-3l7 1 4-3-7-1zm4-3l7 1 4-3-7-1zm4-3l7 1 4-3-7-1zm4-3l7 1 4-4-7 0zm4-3l7 0 4-3-7 0zm4-3l7 0 4-3-7 0zm4-3l7 0 4-3-7 0zm4-3l7 0 3-3-7 0zm3-3l7 0 4-3-7 0zm4-3l7 0 4-3-7 0zm4-3l7 0 4-4-7 1zm4-3l7-1 3-3-6 1zm4-3l6-1 4-3-7 1zm3-3l7-1 4-4-7 2zm4-3l7-2 3-3-6 1zm-63 54l7 1 4-3-7-1zm4-3l7 1 4-3-7-1zm4-3l7 1 4-3-7-1zm4-3l7 1 4-3-7 0zm4-2l7 0 4-3-7 0zm4-3l7 0 4-3-7 0zm4-3l7 0 4-3-7 0zm4-3l7 0 4-3-7-1zm4-4l7 1 4-4-7 0zm4-3l7 0 4-3-7 0zm4-3l7 0 3-3-6 0zm4-3l6 0 4-4-7 1zm3-3l7-1 4-3-7 1zm-32 31l7 1 4-3-7-1zm4-3l7 1 4-3-7-1zm4-3l7 1 4-3-7-1zm4-3l7 1 4-4-7 0zm4-3l7 0 4-3-7 0zm197 41l8 6 3-2-8-7zm3-3l8 7 3-4-7-7zm-6 14l8 6 3-1-7-6zm4-1l7 6 4-1-8-6zm3-1l8 6 3-1-7-8zm4-3l7 8 4-3-8-7zm6-6l8 8 4-4-8-8zm4-4l8 8 3-5-8-8zm3-5l8 8 3-6-7-8zm-20 26l8 5 4 0-8-5zm4 0l8 5 3 0-8-6zm27-24l8 8 3-7-7-8zm4-7l7 8 4-7-8-7zm11 1l7 7 4-8-8-7zm11-1l7 6 4-9-8-6zm11-3l7 4 4-9-8-4zm7 4l8 4 3-10-7-3zm8 4l8 2 3-10-8-2zm8 2l7 0 4-10-8 0zm7 0l8-2 4-10-8 2zm5 8l8-4 3-10-8 4zm5 6l8-6 3-10-8 6zm5 3l8-7 3-9-8 7zm1 9l9-8 3-8-8 8zm-71 105l9 7 4-10-9-7zm13-3l8 6 4-9-8-7zm8 6l9 7 4-10-9-6zm4-9l9 6 4-9-9-6zm9 6l8 6 4-9-8-6zm4-9l8 6 4-9-9-5zm8 6l9 5 4-8-9-6zm4-9l9 6 3-8-9-5zm9 6l8 5 4-8-9-5zm12-3l8 5 4-8-9-5z"/><path fill="#110fd3" d="M302 1427l7 1 5-2-7-1zm5-2l7 1 4-2-7-1zm4-2l7 1 5-2-7-1zm5-2l7 1 4-2-7-1zm4-2l7 1 4-3-7 0zm-11 9l8 2 4-3-7-1zm5-2l7 1 5-2-8-1zm4-2l8 1 4-2-7-1zm5-2l7 1 4-2-7-1zm4-2l7 1 5-3-8-1zm4-3l8 1 4-2-7-1zm142-104l6-4 4-4-7 4zm3-4l7-4 3-3-6 4zm4-3l6-4 3-4-6 5zm-159 121l7 2 5-3-7-1zm5-2l7 1 4-2-7-1zm4-2l7 1 5-2-8-1zm4-2l8 1 4-3-7-1zm5-3l7 1 4-2-7-1zm4-2l7 1 4-3-7-1zm109-81l6-3 4-3-7 3zm3-3l7-3 3-3-6 2zm4-4l6-2 4-4-7 3zm3-3l7-3 3-3-6 3zm4-3l6-3 4-3-7 3zm3-3l7-3 3-4-6 4zm4-3l6-4 4-3-7 3zm3-4l7-3 3-4-7 4zm-148 117l8 1 4-2-7-2zm5-3l7 2 4-3-7-1zm4-2l7 1 5-2-7-1zm5-2l7 1 4-3-7-1zm4-3l7 1 4-2-7-1zm4-2l7 1 4-3-7-1zm4-3l7 1 5-3-8 0zm83-62l6-1 4-4-7 2zm3-3l7-2 4-3-7 2zm4-3l7-2 3-4-6 2zm4-4l6-2 4-3-7 2zm3-3l7-2 3-4-6 3zm4-3l6-3 4-3-7 2zm3-4l7-2 3-4-6 3zm4-3l6-3 4-3-7 3zm-126 101l7 2 4-3-7-1zm4-2l7 1 5-2-8-2zm4-3l8 2 4-3-7-1zm5-2l7 1 4-2-7-2zm4-3l7 2 4-3-7-1zm4-2l7 1 5-3-8-1zm4-3l8 1 4-2-7-2zm5-3l7 2 4-3-7-1zm55-41l7-1 4-3-7 1zm4-3l7-1 4-3-7 0zm4-4l7 0 3-4-7 1zm3-3l7-1 4-3-7 1zm4-3l7-1 4-4-7 1zm4-4l7-1 3-3-7 1zm3-3l7-1 4-4-7 1zm4-4l7-1 3-4-6 2zm4-3l6-2 4-3-7 1zm3-4l7-1 4-4-7 2zm-115 95l7 1 4-2-7-2zm4-3l7 2 5-3-8-2zm4-3l8 2 4-3-7-1zm5-2l7 1 4-2-7-2zm4-3l7 2 5-3-8-1zm4-2l8 1 4-3-8-1zm4-3l8 1 4-2-7-2zm5-3l7 2 4-3-7-1zm4-2l7 1 4-3-7-1zm4-3l7 1 4-3-7-1zm4-3l7 1 4-3-7-1zm24-18l7 0 4-3-7 0zm4-3l7 0 4-4-7 0zm4-4l7 0 4-3-7 0zm4-3l7 0 3-4-7 1zm3-3l7-1 4-3-7 0zm4-4l7 0 4-3-7 0zm4-3l7 0 4-4-7 1zm4-3l7-1 3-3-6 1zm4-3l6-1 4-4-7 1zm3-4l7-1 4-3-7 1zm4-3l7-1 3-4-6 1zm4-4l6-1 4-4-7 2zm-101 83l8 2 4-2-8-2zm4-2l8 2 4-3-7-2zm5-3l7 2 4-3-7-2zm4-3l7 2 5-3-8-1zm4-2l8 1 4-3-7-1zm5-3l7 1 4-2-7-2zm4-3l7 2 4-3-7-1zm4-2l7 1 4-3-7-1zm4-3l7 1 4-3-7-1zm4-3l7 1 4-3-7-1zm4-3l7 1 4-3-7-1zm4-3l7 1 4-3-7-1zm4-3l7 1 4-4-7 0zm4-3l7 0 4-3-7 0zm4-3l7 0 4-3-7-1zm4-4l7 1 4-4-7 0zm4-3l7 0 4-3-7 0zm4-3l7 0 4-4-7 0zm4-4l7 0 4-3-7 0zm4-3l7 0 3-4-7 0zm3-4l7 0 4-3-7 0zm4-3l7 0 4-4-7 1zm4-3l7-1 4-3-7 0zm4-4l7 0 3-4-7 1zm3-3l7-1 4-3-7 0zm-93 78l8 2 4-3-7-2zm5-3l7 2 4-3-7-1zm4-2l7 1 5-2-8-2zm4-3l8 2 4-3-8-2zm4-3l8 2 4-3-7-2zm5-3l7 2 4-3-7-2zm4-3l7 2 4-3-7-1zm4-2l7 1 4-3-7-1zm4-3l7 1 5-3-8-1zm4-3l8 1 4-3-8-1zm4-3l8 1 4-3-8-1zm4-3l8 1 4-3-8-1zm4-3l8 1 4-3-8-1zm4-3l8 1 4-4-8-1zm4-4l8 1 4-3-8-1zm4-3l8 1 3-4-7 0zm4-3l7 0 4-3-7-1zm4-4l7 1 4-4-7 0zm4-3l7 0 4-3-7-1zm4-4l7 1 4-4-7 0zm4-3l7 0 4-4-8 0zm3-4l8 0 3-3-7 0zm4-3l7 0 4-4-7 0zm-81 70l7 2 4-3-7-2zm4-3l7 2 5-3-8-2zm4-3l8 2 4-3-7-1zm5-2l7 1 4-2-7-2zm4-3l7 2 4-3-7-2zm4-3l7 2 5-3-8-2zm4-3l8 2 4-3-8-2zm4-3l8 2 4-3-8-2zm4-3l8 2 4-3-7-2zm5-3l7 2 4-4-7-1zm4-3l7 1 4-3-7-1zm4-3l7 1 4-3-7-1zm4-3l7 1 4-3-7-1zm4-3l7 1 4-4-7-1zm4-4l7 1 4-3-7-1zm4-3l7 1 4-4-8-1zm3-4l8 1 3-3-7-1zm4-3l7 1 4-4-7-1zm4-4l7 1 4-4-7 0zm4-3l7 0 4-4-7 0zm4-4l7 0 4-4-7 0zm-83 71l8 3 4-4-7-2zm5-3l7 2 5-3-8-2zm4-3l8 2 4-3-8-2zm4-3l8 2 4-3-7-2zm5-3l7 2 4-3-7-2zm4-3l7 2 5-3-8-1zm4-2l8 1 4-3-8-1zm4-3l8 1 4-3-7-1zm5-3l7 1 4-3-7-1zm4-3l7 1 4-3-7-1zm4-3l7 1 4-3-7-1zm4-3l7 1 4-3-7-2zm4-4l7 2 4-4-7-1zm4-3l7 1 4-3-7-1zm4-3l7 1 4-3-7-1zm4-3l7 1 4-4-7-1zm4-4l7 1 4-3-7-1zm4-3l7 1 4-4-7-1zm4-4l7 1 4-4-8 0zm3-3l8 0 3-4-7 0zm4-4l7 0 4-4-7 0zm-78 69l7 2 4-4-7-1zm4-3l7 1 5-3-8-2zm4-4l8 2 4-3-7-2zm5-3l7 2 4-3-7-2zm4-3l7 2 5-3-8-2zm4-3l8 2 4-3-8-2zm4-3l8 2 4-3-7-2zm5-3l7 2 4-3-7-2zm4-3l7 2 4-4-7-1zm4-3l7 1 4-3-7-1zm4-3l7 1 4-3-7-1zm4-3l7 1 4-3-7-1zm4-3l7 1 4-3-7-1zm4-3l7 1 4-4-7-1zm4-4l7 1 4-3-7-1zm4-3l7 1 4-4-7 0zm4-3l7 0 4-3-7-1zm4-4l7 1 4-4-7 0zm4-3l7 0 4-4-7 0zm4-4l7 0 4-3-7-1zm4-4l7 1 4-4-8-1zm-101 89l7 2 5-4-8-2zm4-4l8 2 4-5-8-1zm22-18l8 1 4-3-8-2zm4-4l8 2 4-4-7-1zm5-3l7 1 5-3-8-1zm4-3l8 1 4-3-8-1zm4-3l8 1 4-3-7-1zm5-3l7 1 4-3-7-1zm4-3l7 1 4-3-7-1zm4-3l7 1 5-3-8-1zm4-3l8 1 4-4-8-1zm4-4l8 1 4-3-8-1zm4-3l8 1 4-3-8-1zm4-3l8 1 4-3-8-1zm4-3l8 1 4-4-8 0zm4-3l8 0 4-3-8-1zm4-4l8 1 4-3-8-1zm4-3l8 1 4-4-8-1zm4-4l8 1 3-4-7 0zm4-3l7 0 4-3-7-1zm4-4l7 1 4-4-7-1zm4-4l7 1 4-4-7 0zm-97 87l8 2 4-5-7-1zm5-4l7 1 5-4-8-2zm26-22l8 1 4-3-8-2zm4-4l8 2 4-4-7-1zm5-3l7 1 4-3-7-1zm4-3l7 1 5-3-8-1zm4-3l8 1 4-3-8-1zm4-3l8 1 4-3-8-1zm4-3l8 1 4-4-7 0zm5-3l7 0 4-3-7-1zm4-4l7 1 4-3-7-1zm4-3l7 1 4-3-7-1zm4-3l7 1 4-3-7-1zm4-3l7 1 4-4-7-1zm4-4l7 1 4-3-7-1zm4-3l7 1 4-4-7 0zm4-3l7 0 4-3-7-1zm4-4l7 1 4-4-8-1zm3-4l8 1 4-4-8 0zm-88 81l8 1 4-4-8-2zm43-37l8 1 4-3-7-1zm5-3l7 1 4-3-7-1zm4-3l7 1 4-4-7 0zm4-3l7 0 4-3-7-1zm4-4l7 1 5-3-8-1zm4-3l8 1 4-3-8-1zm4-3l8 1 4-3-8-1zm4-3l8 1 4-4-8 0zm4-3l8 0 4-3-8-1zm4-4l8 1 3-4-7 0zm4-3l7 0 4-3-7-1zm4-4l7 1 4-4-7 0zm-80 74l7 1 5-4-8-1zm59-50l8 1 4-4-7 0zm5-3l7 0 4-3-7 0zm4-3l7 0 4-3-7 0zm4-3l7 0 4-3-7-1zm4-4l7 1 4-4-7 0zm4-3l7 0 4-3-8-1zm143 10l8 6 4-2-8-7zm4-3l8 7 3-3-7-7zm4-3l7 7 4-4-8-7zm-7 16l8 5 4-1-8-6zm4-2l8 6 3-1-8-7zm3-2l8 7 4-3-8-6zm11-9l7 7 4-4-8-8zm3-5l8 8 3-5-7-8zm4-5l7 8 4-6-8-7zm-24 30l8 4 3 0-8-5zm3-1l8 5 4 0-8-6zm32-27l7 8 4-7-8-7zm3-6l8 7 3-6-8-8zm-30 38l8 4 3 1-8-5zm41-37l8 7 3-8-8-7zm11-1l8 7 3-9-8-6zm11-2l8 6 3-9-8-6zm11-3l8 4 3-10-8-4zm8 4l7 3 4-10-8-3zm7 3l8 2 3-10-7-2zm8 2l8 0 3-11-8 1zm8 0l8-2 3-11-8 2zm4 8l8-4 4-10-8 4zm5 6l8-6 4-10-9 6zm5 4l8-7 3-10-8 7zm2 10l8-8 3-8-8 8zm1 7l9-8 3-7-8 8zm-84 99l8 7 4-10-8-7zm12-3l9 7 4-10-9-6zm13-3l8 7 4-9-9-6zm12-2l9 6 3-8-8-6zm12-2l9 5 3-7-8-6zm12-2l9 5 4-8-9-5zm9 5l9 5 3-8-8-5zm4-8l8 5 4-8-9-4zm8 5l9 5 4-8-9-5zm4-8l9 5 3-7-9-5z"/><path fill="#0f0fde" d="M279 1438l8 2 4-3-7-1zm5-2l7 1 5-2-7-1zm5-2l7 1 4-2-7-1zm4-2l7 1 5-2-7-2zm5-3l7 2 4-3-7-1zm-11 11l7 2 5-3-8-2zm4-3l8 2 4-2-7-2zm5-2l7 2 5-3-8-1zm4-2l8 1 4-2-7-1zm5-2l7 1 5-2-8-2zm-11 11l8 1 4-2-7-2zm5-3l7 2 5-3-8-1zm4-2l8 1 4-2-7-2zm5-3l7 2 5-2-8-2zm4-2l8 2 4-3-7-1zm5-2l7 1 4-2-7-2zm162-121l7-4 3-3-6 3zm4-4l6-3 4-4-7 4zm3-3l7-4 3-4-7 4zm-189 144l7 2 5-2-7-3zm5-3l7 3 4-3-7-2zm4-2l7 2 5-3-7-2zm5-3l7 2 4-2-7-2zm4-2l7 2 5-3-7-1zm5-2l7 1 4-2-7-2zm4-3l7 2 5-3-8-1zm141-105l7-3 3-4-6 3zm4-4l6-3 4-3-7 3zm3-3l7-3 3-4-6 4zm4-3l6-4 4-3-7 3zm3-4l7-3 3-4-6 4zm4-3l6-4 4-3-7 3zm3-4l7-3 3-4-7 4zm-186 146l7 2 5-2-8-3zm4-3l8 3 4-3-7-2zm5-2l7 2 5-3-8-2zm4-3l8 2 4-3-7-2zm5-3l7 2 5-2-8-2zm4-2l8 2 4-3-7-2zm5-3l7 2 5-2-8-2zm4-2l8 2 4-3-7-2zm127-96l7-2 3-4-7 2zm3-4l7-2 4-3-7 2zm4-3l7-2 3-4-7 2zm3-4l7-2 4-4-7 3zm4-3l7-3 3-3-7 2zm3-4l7-2 4-4-7 3zm-172 137l7 3 5-3-8-3zm4-3l8 3 4-3-7-2zm5-2l7 2 5-3-8-2zm4-3l8 2 4-3-7-2zm5-3l7 2 5-2-8-3zm4-3l8 3 4-3-7-2zm5-2l7 2 5-3-8-2zm4-3l8 2 4-3-7-1zm116-87l7-2 4-4-7 2zm4-4l7-2 3-3-7 1zm3-4l7-1 4-4-7 2zm4-3l7-2 3-4-6 2zm4-4l6-2 4-4-7 2zm3-4l7-2 3-4-6 3zm-167 134l8 4 4-4-7-3zm5-3l7 3 5-3-8-3zm4-3l8 3 4-3-7-3zm5-3l7 3 5-3-8-3zm4-3l8 3 4-3-7-3zm5-3l7 3 5-3-8-3zm4-3l8 3 4-3-7-2zm5-2l7 2 5-3-8-2zm4-3l8 2 4-3-7-2zm5-3l7 2 5-3-8-2zm104-80l7 0 4-4-7 1zm4-3l7-1 3-4-7 1zm3-4l7-1 4-4-7 1zm4-4l7-1 4-4-7 1zm4-4l7-1 3-4-7 2zm3-3l7-2 4-4-7 2zm-155 128l7 3 5-4-8-3zm4-4l8 3 5-3-8-3zm5-3l8 3 4-4-8-2zm4-3l8 2 5-3-8-2zm5-3l8 2 4-3-8-2zm4-3l8 2 4-3-7-2zm5-3l7 2 5-3-8-2zm4-3l8 2 4-3-7-2zm5-3l7 2 5-3-8-2zm97-75l7 0 4-4-7 1zm4-3l7-1 3-3-7 0zm3-4l7 0 4-4-7 1zm4-3l7-1 4-4-7 1zm4-4l7-1 3-4-7 1zm3-4l7-1 4-4-7 1zm-144 121l8 3 5-4-8-3zm5-4l8 3 4-3-7-3zm5-3l7 3 5-4-8-3zm4-4l8 3 4-3-7-3zm5-3l7 3 5-3-8-3zm4-3l8 3 4-4-8-2zm4-3l8 2 4-3-7-2zm5-3l7 2 5-3-8-2zm4-3l8 2 4-3-7-2zm90-70l7 0 3-3-7 0zm3-3l7 0 4-4-7 0zm4-4l7 0 4-4-7 0zm4-4l7 0 3-4-7 1zm3-3l7-1 4-4-7 1zm4-4l7-1 4-4-7 1zm4-4l7-1 3-4-7 1zm-140 121l8 3 4-4-7-3zm5-4l7 3 5-4-8-2zm4-3l8 2 4-3-7-3zm5-4l7 3 5-4-8-2zm4-3l8 2 4-3-7-2zm5-3l7 2 5-3-8-3zm4-4l8 3 4-3-8-3zm90-70l7 0 4-3-7-1zm4-4l7 1 4-4-7-1zm4-4l7 1 3-4-7 0zm3-3l7 0 4-4-7 0zm4-4l7 0 4-4-7 0zm4-4l7 0 3-4-7 0zm3-4l7 0 4-4-7 0zm-131 117l8 3 4-4-8-3zm4-4l8 3 4-4-7-3zm5-4l7 3 5-4-8-2zm4-3l8 2 4-4-7-2zm5-4l7 2 5-3-8-2zm4-3l8 2 4-3-7-2zm90-72l8 1 3-4-7-1zm4-4l7 1 4-4-7 0zm4-3l7 0 4-4-7 0zm4-4l7 0 4-4-8 0zm3-4l8 0 3-4-7 0zm4-4l7 0 4-4-7 0zm-115 104l8 1 5-3-8-2zm5-4l8 2 4-4-8-2zm4-4l8 2 4-3-7-2zm5-3l7 2 5-4-8-1zm86-69l7 0 4-4-7 0zm4-4l7 0 4-4-8 0zm3-4l8 0 3-4-7 0zm4-4l7 0 4-5-7 1zm4-4l7-1 4-4-7 1zm4-4l7-1 3-4-7 1zm-111 101l8 2 4-4-7-1zm5-3l7 1 5-3-8-2zm4-4l8 2 4-4-8-1zm4-3l8 1 4-4-7-1zm5-4l7 1 5-3-8-1zm73-59l8 0 3-4-7 0zm4-4l7 0 4-4-7 0zm4-4l7 0 4-4-7 0zm4-4l7 0 4-4-7 0zm4-4l7 0 3-4-7 0zm3-4l7 0 4-5-7 0zm-107 99l8 2 5-5-8-1zm5-4l8 1 4-4-8-1zm4-4l8 1 4-3-7-1zm5-3l7 1 5-4-8-1zm4-4l8 1 4-4-8-1zm4-4l8 1 4-3-7-1zm5-3l7 1 4-3-7-1zm4-3l7 1 5-4-8-1zm4-4l8 1 4-3-8-1zm53-42l7 0 4-4-7 0zm4-4l7 0 4-4-7 0zm4-4l7 0 4-4-8 0zm3-4l8 0 3-4-7 0zm4-4l7 0 4-4-7 0zm4-4l7 0 4-4-7 0zm4-4l7 0 4-4-8 0zm-103 97l8 1 4-5-7-1zm5-5l7 1 5-4-8-1zm4-4l8 1 4-4-8 0zm4-3l8 0 4-3-7-1zm5-4l7 1 5-4-8-1zm4-4l8 1 4-3-8-1zm4-3l8 1 4-4-8 0zm4-3l8 0 4-3-7-1zm5-4l7 1 4-3-7-1zm4-3l7 1 5-4-8 0zm4-3l8 0 4-3-8 0zm4-3l8 0 4-3-8-1zm4-4l8 1 4-3-8-1zm28-23l8 1 4-4-8 0zm4-3l8 0 4-4-8 0zm4-4l8 0 3-4-7 0zm4-4l7 0 4-3-7-1zm4-4l7 1 4-4-7-1zm4-4l7 1 4-5-8 0zm3-4l8 0 3-4-7 0zm-99 94l8 1 5-5-8 0zm5-4l8 0 4-4-8-1zm4-5l8 1 4-4-7-1zm5-4l7 1 5-4-8-1zm4-4l8 1 4-4-8 0zm4-3l8 0 4-4-7 0zm5-4l7 0 4-3-7 0zm4-3l7 0 5-4-8 0zm4-4l8 0 4-3-8 0zm4-3l8 0 4-3-8 0zm4-3l8 0 4-3-7-1zm5-4l7 1 4-4-7 0zm4-3l7 0 4-3-7 0zm4-3l7 0 4-3-7 0zm4-3l7 0 4-3-7-1zm4-4l7 1 4-3-7-1zm4-3l7 1 4-4-7 0zm4-3l7 0 4-3-7 0zm4-3l7 0 4-4-7 0zm4-4l7 0 4-3-7 0zm4-3l7 0 4-4-7 0zm4-4l7 0 4-3-7-1zm4-4l7 1 4-4-8-1zm3-4l8 1 4-4-8 0zm4-3l8 0 3-4-7 0zm4-4l7 0 4-4-7-1zm-95 90l8 1 4-5-7-1zm5-5l7 1 5-5-8 0zm4-4l8 0 4-4-8 0zm4-4l8 0 4-4-7 0zm5-4l7 0 5-4-8 0zm4-4l8 0 4-3-8-1zm4-4l8 1 4-4-8 0zm4-3l8 0 4-3-7-1zm5-4l7 1 4-4-7 0zm4-3l7 0 5-3-8 0zm4-3l8 0 4-3-8 0zm4-3l8 0 4-3-8-1zm4-4l8 1 4-3-8-1zm4-3l8 1 4-4-8 0zm4-3l8 0 4-3-8 0zm4-3l8 0 4-3-8 0zm4-3l8 0 4-3-8-1zm4-4l8 1 4-4-8 0zm4-3l8 0 4-3-8-1zm4-4l8 1 4-4-8 0zm4-3l8 0 4-3-8-1zm4-4l8 1 3-4-7 0zm4-3l7 0 4-4-7 0zm4-4l7 0 4-4-7 0zm4-4l7 0 4-4-8 0zm-91 87l8 0 4-5-8 0zm4-5l8 0 4-4-7-1zm5-5l7 1 5-4-8-1zm4-4l8 1 4-4-8-1zm4-4l8 1 4-4-7-1zm5-4l7 1 4-4-7 0zm4-3l7 0 5-3-8-1zm4-4l8 1 4-4-8 0zm4-3l8 0 4-3-8-1zm4-4l8 1 4-3-7-1zm5-3l7 1 4-4-7 0zm4-3l7 0 4-3-7 0zm4-3l7 0 4-3-7 0zm4-3l7 0 5-3-8-1zm4-4l8 1 4-4-8 0zm4-3l8 0 3-3-7 0zm4-3l7 0 4-3-7 0zm4-3l7 0 4-3-7-1zm4-4l7 1 4-4-7 0zm4-3l7 0 4-3-7-1zm4-4l7 1 4-4-7 0zm4-3l7 0 4-4-8 0zm3-4l8 0 4-4-8 0zm4-4l8 0 3-4-7 0zm-86 83l8 1 4-5-8-1zm4-5l8 1 4-5-8 0zm38-33l8 0 4-3-8-1zm4-4l8 1 4-3-8-1zm4-3l8 1 4-4-8 0zm4-3l8 0 4-3-7 0zm5-3l7 0 4-3-7-1zm4-4l7 1 4-3-8-1zm3-3l8 1 4-3-8-1zm4-3l8 1 4-4-8 0zm4-3l8 0 4-3-8-1zm4-4l8 1 4-4-8 0zm4-3l8 0 3-4-7 0zm4-4l7 0 4-3-7-1zm-78 76l7 1 5-6-8 0zm66-58l8 0 4-3-8 0zm4-3l8 0 3-3-7-1zm4-4l7 1 4-4-7 0zm4-3l7 0 4-3-7-1zm92 9l7 4 4-2-8-5zm3-3l8 5 3-3-7-5zm4-3l7 5 4-3-8-5zm3-3l8 5 4-3-8-6zm4-4l8 6 3-4-8-6zm3-4l8 6 4-5-8-6zm-17 25l8 4 4-2-8-4zm4-2l8 4 3-1-8-5zm3-2l8 5 4-2-8-5zm4-2l8 5 3-2-8-6zm14-13l8 7 3-5-7-7zm4-5l7 7 4-5-8-7zm3-5l8 7 3-5-8-7zm-28 34l8 4 4-1-8-4zm4-1l8 4 3-1-7-5zm4-2l7 5 4-1-8-5zm31-29l8 7 3-6-8-7zm3-6l8 7 3-7-7-6zm-37 42l8 3 3 0-8-3zm3 0l8 3 4 0-8-4zm45-42l8 8 3-8-7-6zm4-6l7 6 4-7-8-7zm-44 51l8 3 3 1-8-4zm3 0l8 4 4 0-8-4zm48-45l8 7 3-8-7-6zm4-7l7 6 4-8-8-6zm7 6l8 6 3-9-7-5zm11-3l8 6 3-10-7-5zm19 0l8 3 3-10-8-3zm8 3l7 2 4-11-8-1zm7 2l8-1 3-10-7 0zm13 8l8-4 3-11-8 4zm4 6l9-6 3-10-8 6zm5 4l8-7 4-10-8 7zm-102 115l9 5 4-9-9-6zm104-103l8-8 3-9-8 8zm-95 108l9 6 4-10-9-5zm4-9l9 5 3-9-8-5zm93-91l8-8 3-8-8 8zm3-8l8-8 4-8-9 8zm-87 104l8 7 4-9-9-7zm3-9l9 7 4-8-9-6zm79-78l9-6 3-6-9 8zm3-4l9-8 3-6-8 8zm-73 89l9 6 3-8-8-6zm4-8l8 6 4-7-9-6zm8 6l9 6 4-8-9-5zm4-7l9 5 3-7-8-6zm9 5l8 6 4-8-9-5zm3-7l9 5 3-7-8-5zm9 5l8 6 4-8-9-5zm3-7l9 5 4-7-9-5zm4-7l9 5 3-7-8-4zm5 12l9 5 3-7-8-5zm4-7l8 5 4-7-9-5zm3-7l9 5 3-7-8-4zm5 12l9 4 3-7-8-4zm4-7l8 4 4-6-9-5zm3-7l9 5 3-7-8-4zm5 11l9 5 4-7-9-4zm4-6l9 4 3-7-9-4z"/><path fill="#0f0fe2" d="M256 1449l7 2 5-2-8-2zm4-2l8 2 5-2-8-2zm5-2l8 2 4-3-7-2zm5-3l7 2 5-2-7-2zm5-2l7 2 5-2-8-2zm-12 11l8 3 4-3-7-2zm5-2l7 2 5-2-7-2zm5-2l7 2 5-3-8-2zm4-3l8 2 4-2-7-2zm5-2l7 2 5-2-7-2zm-11 12l7 2 5-2-8-3zm4-3l8 3 5-3-8-2zm5-2l8 2 4-2-7-3zm5-3l7 3 5-3-8-2zm4-2l8 2 5-3-8-1zm-11 12l8 3 4-3-7-2zm5-2l7 2 5-2-7-3zm5-3l7 3 5-3-8-2zm4-2l8 2 4-3-7-2zm197-147l7-4 3-4-6 4zm4-4l6-4 4-4-7 4zm-207 161l7 3 5-3-8-3zm4-3l8 3 5-3-8-2zm5-2l8 2 4-3-7-2zm184-138l7-3 3-4-7 3zm3-4l7-3 3-3-6 3zm4-3l6-3 4-4-7 3zm3-4l7-3 3-4-6 4zm4-3l6-4 3-4-6 4zm-200 160l8 3 5-3-8-3zm5-3l8 3 4-3-7-3zm174-131l6-3 4-3-7 2zm3-4l7-2 3-4-6 2zm4-4l6-2 4-4-7 3zm3-3l7-3 3-4-6 3zm4-4l6-3 4-4-7 3zm-18 24l7-2 3-4-7 2zm3-4l7-2 4-4-7 2zm4-4l7-2 3-4-7 2zm3-4l7-2 4-4-7 3zm4-3l7-3 3-4-7 3zm-18 25l7-1 3-4-6 1zm4-4l6-1 4-4-7 1zm3-4l7-1 4-4-7 1zm4-4l7-1 3-4-7 1zm3-4l7-1 4-5-7 2zm-11 19l7-1 4-4-7 1zm4-4l7-1 3-4-7 1zm3-4l7-1 4-4-7 1zm4-4l7-1 3-5-6 2zm-11 19l7 0 4-4-7 0zm4-4l7 0 3-4-7 0zm3-4l7 0 4-5-7 1zm4-4l7-1 3-4-7 1zm-11 20l7 0 3-4-7 0zm3-4l7 0 4-5-7 1zm4-4l7-1 4-4-7 1zm4-4l7-1 3-4-7 1zm3-4l7-1 4-5-7 1zm-11 20l7-1 4-4-7 1zm4-4l7-1 4-4-8 1zm3-4l8-1 3-4-7 0zm4-5l7 0 4-4-7 0zm-11 20l7 0 4-4-7 0zm4-4l7 0 3-4-7 0zm3-4l7 0 4-4-7 0zm4-4l7 0 4-4-7 0zm4-4l7 0 3-5-7 1zm-12 21l8 0 3-5-7 0zm4-5l7 0 4-4-7 0zm4-4l7 0 4-4-8 0zm3-4l8 0 3-4-7 0zm-11 21l7 0 4-4-7 0zm4-4l7 0 4-5-7 1zm4-4l7-1 4-4-8 0zm3-5l8 0 3-4-7 0zm4-4l7 0 4-4-7 0zm-11 21l7 1 4-5-8 0zm3-4l8 0 3-4-7 0zm4-4l7 0 4-5-7 0zm4-5l7 0 4-4-7 0zm4-4l7 0 3-4-7 0zm-12 22l8 0 3-4-7 0zm4-4l7 0 4-5-7 0zm4-5l7 0 4-4-8 0zm3-4l8 0 3-5-7 0zm4-5l7 0 4-4-7 0zm-11 22l7 0 4-4-7 0zm4-4l7 0 4-4-8 0zm3-4l8 0 3-4-7-1zm4-5l7 1 4-5-7 0zm4-4l7 0 4-4-8-1zm-97 95l8 0 4-4-7 0zm5-4l7 0 5-4-8 0zm4-4l8 0 4-4-8 0zm4-4l8 0 4-3-8-1zm4-4l8 1 4-4-7 0zm5-3l7 0 5-3-8-1zm4-4l8 1 4-4-8 0zm4-3l8 0 4-3-8 0zm52-44l7 1 4-4-7-1zm4-4l7 1 4-4-8-1zm3-4l8 1 3-4-7-1zm4-4l7 1 4-5-7 0zm4-4l7 0 4-4-8 0zm3-4l8 0 3-5-7 0zm-96 95l8 0 4-4-8-1zm4-5l8 1 4-5-8 0zm4-4l8 0 5-4-8 0zm5-4l8 0 4-3-8-1zm4-4l8 1 4-4-8 0zm4-3l8 0 4-4-8 0zm4-4l8 0 4-3-7 0zm5-3l7 0 4-3-7-1zm4-4l7 1 5-4-8 0zm4-3l8 0 4-3-8 0zm4-3l8 0 4-3-8 0zm4-3l8 0 4-3-8-1zm4-4l8 1 4-4-8 0zm4-3l8 0 4-3-8 0zm4-3l8 0 4-3-8 0zm20-17l7 1 4-4-8-1zm3-4l8 1 4-4-8 0zm4-3l8 0 3-4-7 0zm4-4l7 0 4-4-7 0zm4-4l7 0 4-4-8 0zm3-4l8 0 4-4-8-1zm4-5l8 1 3-5-7 0zm-97 97l8 0 5-5-8-1zm5-6l8 1 4-5-8 0zm4-4l8 0 4-4-8-1zm4-5l8 1 4-4-7-1zm5-4l7 1 5-4-8 0zm4-3l8 0 4-4-8 0zm4-4l8 0 4-3-8-1zm4-4l8 1 4-4-8 0zm4-3l8 0 4-3-8 0zm4-3l8 0 4-3-7-1zm5-4l7 1 4-4-7 0zm4-3l7 0 4-3-7 0zm4-3l7 0 4-3-7 0zm4-3l7 0 4-3-7-1zm4-4l7 1 4-3-7-1zm4-3l7 1 4-4-7 0zm4-3l7 0 4-3-7 0zm4-3l7 0 4-3-8 0zm3-3l8 0 4-4-8 0zm4-4l8 0 4-3-8 0zm4-3l8 0 3-4-7 0zm4-4l7 0 4-3-7-1zm4-4l7 1 4-4-8-1zm3-4l8 1 4-4-8-1zm4-4l8 1 3-5-7 0zm4-4l7 0 4-4-7 0zm-93 92l8 1 5-6-8 0zm5-5l8 0 4-5-8 0zm4-5l8 0 4-4-8 0zm4-4l8 0 4-4-8 0zm4-4l8 0 4-4-7 0zm5-4l7 0 5-4-8 0zm4-4l8 0 4-3-8 0zm4-3l8 0 4-4-8 0zm4-4l8 0 4-3-8 0zm4-3l8 0 4-3-8 0zm4-3l8 0 4-3-8-1zm4-4l8 1 4-4-8 0zm4-3l8 0 4-3-8 0zm4-3l8 0 4-3-8 0zm4-3l8 0 4-3-8 0zm4-3l8 0 4-3-8-1zm4-4l8 1 4-3-8-1zm4-3l8 1 4-4-8 0zm4-3l8 0 3-3-7-1zm4-4l7 1 4-4-7 0zm4-3l7 0 4-3-8-1zm3-4l8 1 4-4-8 0zm4-3l8 0 4-4-8 0zm4-4l8 0 3-4-7 0zm4-4l7 0 4-4-8-1zm-89 88l8 0 4-5-7-1zm5-6l7 1 5-5-8-1zm4-5l8 1 4-4-8-1zm4-4l8 1 4-5-8 0zm21-19l8 1 4-3-8-1zm4-3l8 1 4-4-8 0zm4-3l8 0 4-3-8 0zm4-3l8 0 4-3-8-1zm4-4l8 1 4-3-8-1zm4-3l8 1 4-3-8-1zm4-3l8 1 4-4-8 0zm4-3l8 0 4-3-8 0zm4-3l8 0 3-3-7 0zm4-3l7 0 4-3-7-1zm4-4l7 1 4-3-8-1zm3-3l8 1 4-4-8-1zm4-4l8 1 4-3-8-1zm4-3l8 1 3-4-7-1zm4-4l7 1 4-4-7-1zm4-4l7 1 4-4-8-1zm-85 84l8 1 4-5-8-1zm4-5l8 1 5-5-8-1zm46-41l8 0 4-3-8 0zm4-3l8 0 3-3-7 0zm4-3l7 0 4-3-7-1zm4-4l7 1 4-3-7-1zm4-3l7 1 4-3-8-1zm3-3l8 1 4-3-8-1zm4-3l8 1 4-4-8 0zm4-3l8 0 3-3-7-1zm4-4l7 1 4-4-7 0zm4-3l7 0 4-3-8-1zm3-4l8 1 4-4-8-1zm4-4l8 1 3-4-7-1zm-84 84l8 1 4-6-8 0zm61-56l8 1 4-3-8-1zm4-3l8 1 4-3-8-1zm4-3l8 1 4-4-8 0zm4-3l8 0 3-3-7-1zm4-4l7 1 4-3-8-1zm3-3l8 1 4-4-8-1zm4-4l8 1 4-3-8-1zm4-3l8 1 3-4-7-1zm-7 14l7 1 4-3-8-1zm3-3l8 1 4-3-8-1zm4-3l8 1 4-3-8-2zm4-4l8 2 3-4-7-1zm0 8l8 2 4-3-8-2zm4-3l8 2 3-4-7-1zm4-3l7 1 4-3-8-2zm3-4l8 2 4-4-8-2zm-3 12l8 2 3-3-7-2zm4-3l7 2 4-3-8-3zm3-4l8 3 4-3-8-3zm4-3l8 3 3-4-7-3zm4-4l7 3 4-4-8-2zm-11 18l8 3 3-3-7-2zm4-2l7 2 4-2-8-3zm3-3l8 3 4-3-8-3zm4-3l8 3 3-3-7-3zm4-3l7 3 4-3-8-4zm3-4l8 4 4-4-8-4zm4-4l8 4 3-4-8-4zm3-4l8 4 4-4-8-4zm-21 28l8 3 4-3-8-2zm4-2l8 2 3-2-8-3zm3-3l8 3 4-2-8-3zm4-2l8 3 4-2-8-4zm4-3l8 4 3-3-8-4zm3-3l8 4 4-3-8-4zm4-3l8 4 3-3-7-5zm4-4l7 5 4-4-8-5zm3-4l8 5 3-4-7-5zm4-4l7 5 4-5-8-5zm3-5l8 5 3-5-7-5zm-32 38l8 2 4-2-8-2zm4-2l8 2 3-1-7-4zm4-3l7 4 4-2-8-4zm3-2l8 4 4-2-8-4zm4-2l8 4 3-2-7-4zm25-24l8 6 3-5-8-6zm3-5l8 6 3-5-7-6zm4-5l7 6 4-6-8-5zm-39 45l8 3 4-2-8-3zm4-2l8 3 3-1-8-3zm3-1l8 3 4-1-8-4zm39-36l8 7 3-6-7-7zm4-6l7 7 4-6-8-7zm-42 48l8 2 4-1-8-3zm4-2l8 3 3 0-8-4zm49-45l7 6 4-6-8-7zm3-7l8 7 3-8-7-6zm-52 58l8 2 4-1-8-3zm4-2l8 3 4-1-8-3zm59-57l8 7 3-8-7-6zm-55 61l8 2 4-1-8-2zm4-1l8 2 4 0-8-3zm62-61l8 6 3-9-8-5zm-58 64l8 1 4 0-8-2zm4-1l8 2 4 1-8-3zm62-57l7 5 4-9-8-5zm11-4l7 5 4-9-8-5zm7 5l8 4 3-10-7-3zm19-3l8 1 3-11-8-1zm12 11l8-2 3-11-8 3zm-113 121l8 3 4-9-8-3zm8 3l9 5 4-9-9-5zm118-119l8-6 3-11-8 6zm-109 124l8 5 4-10-8-4zm4-9l8 4 4-8-8-5zm8 4l9 6 4-9-9-5zm103-102l8-8 4-10-9 8zm-90 99l8 5 4-7-8-6zm95-98l9-8 3-10-9 9zm-83 96l9 6 3-7-8-6zm4-7l8 6 4-7-8-6zm78-74l8-8 3-7-8 8zm3-7l8-8 4-8-9 8zm-73 87l9 6 4-8-9-5zm4-7l9 5 3-6-8-6zm61-62l9-5 3-4-8 6zm4-3l8-6 3-5-8 7zm3-4l8-7 3-6-8 7zm-59 74l8 6 4-7-9-5zm3-6l9 5 4-7-9-4zm4-6l9 4 3-6-8-4zm5 11l8 5 4-7-8-5zm4-7l8 5 4-6-9-5zm3-6l9 5 3-6-8-4zm9 5l8 4 4-6-9-4zm3-6l9 4 3-6-8-4zm4-6l8 4 4-6-9-3zm5 10l8 4 4-6-9-4zm3-6l9 4 3-6-8-4zm9 4l8 4 4-6-9-4zm3-6l9 4 3-7-8-3zm5 10l9 4 3-7-8-3zm4-6l8 3 4-6-9-4zm3-7l9 4 3-7-8-3z"/><path fill="#0f0fe3" d="M496 1298l6-4 4-4-7 4zm3-4l7-4 3-3-6 3zm-10 15l7-3 3-3-7 3zm3-3l7-3 3-4-6 3zm4-4l6-3 4-4-7 3zm3-4l7-3 3-4-7 3zm-14 20l7-3 4-3-7 2zm4-4l7-2 3-4-7 2zm3-4l7-2 3-4-6 2zm4-4l6-2 4-4-7 3zm-14 21l7-2 3-4-7 2zm3-4l7-2 4-4-7 2zm4-4l7-2 3-4-7 2zm3-4l7-2 3-4-6 3zm-10 19l6-2 4-4-7 2zm3-4l7-2 3-4-6 1zm4-5l6-1 4-4-7 1zm3-4l7-1 3-5-6 2zm-11 20l7-1 4-5-7 2zm4-4l7-2 3-4-7 1zm3-5l7-1 4-4-7 1zm4-4l7-1 3-5-7 2zm-7 16l7-1 3-4-7 1zm3-4l7-1 4-5-7 1zm4-5l7-1 3-4-7 1zm-7 17l7 0 3-5-7 1zm3-4l7-1 4-5-7 1zm4-5l7-1 3-4-7 1zm-4 13l7-1 4-4-7 1zm4-4l7-1 3-5-7 1zm3-5l7-1 4-4-7 0zm-7 17l7 0 4-5-7 1zm4-4l7-1 3-4-7 0zm3-5l7 0 4-5-7 1zm4-4l7-1 3-4-7 0zm-7 17l7 0 3-5-7 1zm3-4l7-1 4-4-7 0zm4-5l7 0 4-5-8 1zm3-4l8-1 3-4-7 0zm-7 17l7 0 4-5-7 1zm4-4l7-1 4-4-8 0zm3-5l8 0 3-4-7 0zm4-4l7 0 4-5-7 0zm-7 17l7 0 4-4-8 0zm3-4l8 0 3-5-7 0zm4-5l7 0 4-4-7 0zm4-4l7 0 3-5-7 1zm-8 17l8 1 3-5-7 0zm4-4l7 0 4-4-7 0zm4-4l7 0 4-5-8 0zm3-5l8 0 3-4-7 0zm-7 18l7 0 4-4-7 0zm4-4l7 0 4-5-8 0zm3-5l8 0 3-4-7 0zm4-4l7 0 4-5-7 0zm-7 18l7 0 4-4-8-1zm3-5l8 1 4-5-8 0zm4-4l8 0 3-4-7-1zm4-5l7 1 4-5-8 0zm-7 19l7 0 4-4-8-1zm3-5l8 1 3-5-7 0zm4-4l7 0 4-5-7 0zm4-5l7 0 4-4-8 0zm-8 18l8 1 4-4-8-1zm4-4l8 1 3-5-7 0zm4-4l7 0 4-5-8 0zm3-5l8 0 3-4-7-1zm-86 87l8 0 4-3-8-1zm4-4l8 1 4-4-7-1zm5-4l7 1 5-4-8 0zm4-3l8 0 4-3-8-1zm66-58l8 1 3-4-7-1zm4-4l7 1 4-5-7 0zm4-4l7 0 4-4-8-1zm3-5l8 1 3-5-7-1zm4-5l7 1 4-5-8 0zm-94 96l8 1 4-5-8 0zm4-4l8 0 4-4-8-1zm4-5l8 1 4-4-8 0zm4-3l8 0 4-4-8 0zm4-4l8 0 4-3-7-1zm5-4l7 1 4-4-7 0zm4-3l7 0 5-3-8 0zm4-3l8 0 4-3-8-1zm4-4l8 1 4-3-8-1zm4-3l8 1 4-4-8 0zm50-44l7 1 4-4-8-1zm3-4l8 1 4-5-8-1zm4-5l8 1 3-4-7-1zm4-4l7 1 4-5-8-1zm-95 96l8 0 5-5-8 0zm5-5l8 0 4-4-8-1zm4-5l8 1 4-5-8 0zm4-4l8 0 4-4-8 0zm4-4l8 0 4-3-8-1zm4-4l8 1 4-4-8 0zm4-3l8 0 4-3-8-1zm4-4l8 1 4-4-7 0zm5-3l7 0 4-3-7 0zm4-3l7 0 4-3-7 0zm4-3l7 0 4-3-7-1zm4-4l7 1 4-3-7-1zm4-3l7 1 4-3-8-1zm3-3l8 1 4-3-8-1zm35-30l7 1 4-4-8-1zm3-4l8 1 4-4-8-1zm4-4l8 1 3-5-7-1zm4-5l7 1 4-4-8-1zm3-4l8 1 3-5-7-1zm-98 101l8 1 4-6-8-1zm4-6l8 1 5-5-8-1zm5-5l8 1 4-5-8 0zm4-4l8 0 4-4-8-1zm4-5l8 1 4-4-8-1zm4-4l8 1 4-4-8 0zm4-3l8 0 4-3-8-1zm4-4l8 1 4-4-8 0zm4-3l8 0 4-3-8-1zm4-4l8 1 4-3-8-1zm4-3l8 1 4-4-8 0zm4-3l8 0 4-3-8 0zm4-3l8 0 4-3-8 0zm4-3l8 0 4-3-8 0zm4-3l8 0 4-3-8 0zm4-3l8 0 4-3-8 0zm4-3l8 0 4-3-8 0zm4-3l8 0 3-3-7-1zm19-17l7 1 4-4-8-1zm3-4l8 1 4-4-8-1zm4-4l8 1 3-4-7-1zm4-4l7 1 4-4-8-2zm3-5l8 2 3-5-7-1zm4-4l7 1 4-5-8-1zm-98 101l8 1 5-6-9-1zm4-6l9 1 4-5-8-1zm5-5l8 1 4-5-8-1zm4-5l8 1 4-4-8-1zm4-4l8 1 4-4-8-1zm4-4l8 1 4-4-8-1zm4-4l8 1 4-4-8 0zm4-3l8 0 4-3-8-1zm4-4l8 1 4-4-8 0zm4-3l8 0 4-3-8 0zm4-3l8 0 4-3-8-1zm4-4l8 1 4-3-8-1zm4-3l8 1 4-3-8-1zm4-3l8 1 4-3-8-1zm4-3l8 1 4-3-8-1zm4-3l8 1 4-3-8-1zm4-3l8 1 3-2-7-2zm4-3l7 2 4-3-8-2zm3-3l8 2 4-3-8-2zm19-17l8 2 3-3-7-3zm4-4l7 3 4-5-8-2zm3-4l8 2 3-4-7-2zm4-4l7 2 4-5-8-2zm3-5l8 2 3-4-7-3zm-97 101l9 2 4-6-8-2zm5-6l8 2 4-6-8-1zm4-5l8 1 4-5-8-1zm4-5l8 1 4-4-8-1zm4-4l8 1 4-4-8-1zm4-4l8 1 4-4-8-1zm8-8l8 1 4-3-8-1zm4-3l8 1 4-3-8-2zm4-4l8 2 4-4-8-1zm4-3l8 1 4-3-8-1zm4-3l8 1 4-3-8-1zm4-3l8 1 4-3-8-1zm4-3l8 1 4-3-8-1zm4-3l8 1 4-3-8-1zm4-3l8 1 3-2-7-2zm4-3l7 2 4-3-8-1zm3-2l8 1 4-3-8-1zm4-3l8 1 4-2-8-2zm22-20l8 2 3-4-7-3zm4-5l7 3 4-4-8-3zm3-4l8 3 4-5-8-3zm4-5l8 3 3-4-8-3zm3-4l8 3 4-6-8-2zm-99 105l8 1 4-6-8-1zm4-6l8 1 4-5-8-2zm4-6l8 2 4-5-8-2zm4-5l8 2 4-5-8-1zm24-22l8 1 4-3-8-2zm4-4l8 2 4-3-8-2zm4-3l8 2 4-4-8-1zm4-3l8 1 4-2-8-2zm4-3l8 2 4-3-8-2zm4-3l8 2 3-3-7-2zm4-3l7 2 4-2-8-2zm3-2l8 2 4-3-8-2zm4-3l8 2 4-2-8-3zm33-30l8 4 3-5-7-4zm4-5l7 4 4-5-8-3zm3-4l8 3 3-5-7-4zm-99 103l8 2 4-6-8-2zm4-6l8 2 4-6-8-1zm4-5l8 1 4-5-8-1zm4-5l8 1 4-4-8-2zm28-26l8 1 4-3-8-1zm4-3l8 1 4-3-8-2zm4-4l8 2 4-3-8-1zm4-2l8 1 4-3-8-1zm4-3l8 1 3-2-8-2zm3-3l8 2 4-2-8-2zm4-2l8 2 4-2-8-3zm44-41l7 5 4-5-8-5zm3-5l8 5 3-5-7-5zm4-5l7 5 4-6-8-5zm-106 112l8 2 4-6-8-2zm4-6l8 2 4-6-8-2zm4-6l8 2 4-5-8-2zm36-34l8 1 4-3-8-1zm4-3l8 1 4-2-8-2zm4-3l8 2 4-3-8-2zm4-3l8 2 3-2-8-2zm3-2l8 2 4-2-8-2zm54-50l8 5 3-6-7-5zm4-6l7 5 4-6-8-5zm-109 115l8 2 4-7-8-1zm4-6l8 1 5-6-9-1zm4-6l9 1 4-5-9-1zm36-35l8 2 4-3-8-2zm4-3l8 2 4-3-8-1zm4-2l8 1 4-2-8-2zm4-3l8 2 3-2-8-2zm3-2l8 2 4-1-8-3zm57-53l8 7 3-7-7-6zm4-6l7 6 4-7-8-5zm-112 118l9 2 4-7-9-2zm4-7l9 2 4-6-8-2zm5-6l8 2 4-5-8-2zm35-34l8 1 4-3-8-1zm4-3l8 1 4-2-8-2zm4-3l8 2 4-2-8-2zm4-2l8 2 3-1-8-3zm3-2l8 3 4-2-8-2zm64-62l7 6 4-7-8-6zm-114 121l8 1 4-7-8-1zm4-7l8 1 4-6-8-1zm43-44l8 2 4-2-8-2zm4-2l8 2 4-2-8-2zm4-2l8 2 3-1-8-2zm70-67l7 6 3-8-7-6zm-117 123l8 2 4-7-8-2zm4-7l8 2 4-6-8-2zm43-43l8 1 4-2-8-1zm4-2l8 1 4-1-8-2zm4-2l8 2 3-1-8-2zm72-71l8 5 3-8-7-5zm-119 127l9 2 4-8-9-1zm4-7l9 1 4-6-9-1zm43-44l8 1 4-2-8-1zm4-2l8 1 4-1-8-1zm4-1l8 1 3-1-8-1zm72-68l8 5 3-9-8-4zm-118 124l8 1 4-7-8-2zm4-8l8 2 4-7-8-1zm46-46l8 1 4-1-8-1zm4-1l8 1 3 0-8-2zm75-73l8 5 3-11-8-3zm-121 129l9 2 4-8-9-1zm129-124l7 3 4-10-8-4zm-120 126l8 2 4-8-8-2zm127-123l8 3 3-11-7-2zm-119 125l9 3 4-8-9-3zm9 3l8 3 4-8-8-3zm4-8l8 3 4-8-9-2zm122-116l7 0 4-12-8 1zm-118 127l9 4 4-9-9-3zm4-8l9 3 3-8-8-3zm121-119l8-3 4-11-8 2zm-112 122l8 3 4-7-9-4zm117-114l8-4 3-11-8 4zm-109 117l9 5 4-9-9-3zm4-7l9 3 3-7-8-3zm9 3l8 5 4-7-9-5zm3-7l9 5 4-7-9-4zm103-95l8-7 3-10-8 7zm-98 107l9 5 4-8-9-4zm4-7l9 4 3-6-8-5zm4-7l8 5 4-7-9-4zm94-90l9-8 3-9-8 7zm-89 101l8 6 4-7-9-5zm3-6l9 5 4-7-9-5zm4-7l9 5 3-6-8-5zm87-86l9-9 3-9-8 8zm-78 91l8 6 4-7-9-5zm3-6l9 5 3-6-8-5zm4-6l8 5 4-5-8-5zm73-70l9-8 3-9-8 9zm-68 81l8 6 4-6-9-6zm3-6l9 6 4-6-9-5zm4-5l9 5 3-6-8-4zm4-5l8 4 4-5-9-4zm3-5l9 4 3-5-8-3zm53-47l8-7 4-7-9 8zm3-6l9-8 3-8-9 9zm-54 68l8 4 4-5-9-5zm3-6l9 5 3-6-8-4zm4-5l8 4 4-5-9-4zm3-5l9 4 3-5-8-3zm30-29l9-2 3-4-9 3zm3-3l9-3 3-4-8 5zm4-2l8-5 3-4-8 5zm3-4l8-5 4-5-9 6zm3-4l9-6 3-6-9 7zm-41 57l8 4 4-6-9-4zm3-6l9 4 3-5-8-4zm4-5l8 4 4-6-9-3zm3-5l9 3 3-5-8-3zm4-5l8 3 3-5-8-2zm1 14l9 3 3-6-8-3zm4-6l8 3 4-5-9-3zm3-5l9 3 3-6-9-2zm2 14l8 4 4-6-9-4zm3-6l9 4 3-6-8-3zm4-5l8 3 4-6-9-3zm3-6l9 3 3-6-9-2zm2 15l8 3 4-6-9-3zm3-6l9 3 3-6-8-3zm4-6l8 3 3-6-8-3zm5 9l8 3 4-6-9-3zm3-6l9 3 3-7-9-2z"/><path fill="#0f0fe4" d="M502 1294l7-3 3-4-6 3zm4-4l6-3 4-4-7 4zm-7 13l7-3 3-4-7 3zm3-4l7-3 4-5-7 4zm4-4l7-4 3-4-7 4zm3-4l7-4 3-4-7 4zm-13 21l6-3 4-4-7 3zm3-4l7-3 3-4-7 3zm3-4l7-3 4-4-7 3zm4-4l7-3 3-4-7 3zm-10 17l6-2 4-4-7 2zm3-4l7-2 3-4-7 2zm3-4l7-2 4-4-7 2zm-7 15l7-2 4-4-7 2zm4-4l7-2 3-5-7 2zm3-5l7-2 4-4-7 2zm-7 16l7-1 4-5-7 2zm4-4l7-2 3-4-7 1zm3-5l7-1 4-5-7 2zm-7 17l7-1 4-5-7 1zm4-5l7-1 3-5-7 2zm3-4l7-2 4-4-7 1zm4-5l7-1 3-5-7 2zm-7 17l7 0 3-5-7 1zm3-4l7-1 4-5-7 1zm4-5l7-1 3-5-7 1zm-4 13l7 0 4-5-7 1zm4-4l7-1 4-5-8 1zm3-5l8-1 3-5-7 1zm-3 13l7 0 4-5-8 1zm3-4l8-1 3-5-7 1zm4-5l7-1 4-5-7 1zm-3 13l7 0 3-5-7 1zm3-4l7-1 4-4-7 0zm4-5l7 0 3-6-7 1zm-4 14l7-1 4-4-7 0zm4-5l7 0 3-5-7 0zm3-5l7 0 4-5-7 1zm-3 14l7 0 4-5-8 0zm3-5l8 0 3-4-7 0zm4-4l7 0 4-5-8 0zm-3 13l7 0 3-4-7 0zm3-4l7 0 4-5-7 0zm4-5l7 0 3-4-7 0zm-4 14l8 0 3-4-7-1zm4-5l7 1 4-5-8 0zm3-4l8 0 3-5-7 0zm4-5l7 0 4-4-8 0zm-7 19l8 0 3-5-7 0zm4-5l7 0 4-4-8 0zm3-4l8 0 3-5-7 0zm4-5l7 0 4-5-8 0zm-7 18l7 1 4-5-7 0zm4-4l7 0 3-5-7 0zm3-5l7 0 4-4-7 0zm4-4l7 0 4-5-8 0zm-4 14l8 0 3-4-7-1zm4-5l7 1 4-5-8-1zm3-5l8 1 3-5-7 0zm-3 15l8 1 3-5-7-1zm4-5l7 1 4-5-8 0zm3-4l8 0 3-4-7-1zm4-5l7 1 4-5-8-1zm-3 15l7 1 4-5-8-1zm3-5l8 1 3-5-7-1zm4-5l7 1 4-5-8 0zm0 11l8 1 3-4-7-2zm4-5l7 2 4-5-8-2zm3-5l8 2 3-5-7-2zm1 11l7 3 4-5-8-2zm3-4l8 2 3-5-7-2zm4-5l7 2 4-6-8-1zm-83 87l8 1 4-4-8-1zm87-80l8 2 3-5-8-2zm3-5l8 2 4-5-8-3zm-90 94l8 1 4-4-8-1zm4-4l8 1 4-4-8-1zm4-4l8 1 4-3-8-2zm4-4l8 2 4-4-8-1zm4-3l8 1 4-3-8-1zm79-72l7 4 4-5-8-4zm3-5l8 4 3-6-7-3zm4-5l7 3 4-5-8-3zm-94 98l8 2 4-4-8-2zm4-4l8 2 4-4-8-2zm4-4l8 2 4-4-8-1zm4-3l8 1 4-4-8-1zm4-4l8 1 4-3-8-1zm4-3l8 1 4-3-8-1zm81-77l8 5 3-6-7-4zm4-5l7 4 4-6-8-4zm-101 106l8 2 4-5-8-1zm4-4l8 1 4-4-8-1zm4-4l8 1 4-4-8-1zm4-4l8 1 4-4-8-1zm4-4l8 1 4-3-8-2zm4-4l8 2 4-4-8-1zm4-3l8 1 4-3-8-1zm4-3l8 1 4-3-8-1zm80-76l8 5 3-6-7-5zm4-6l7 5 3-7-7-4zm-104 110l9 1 4-4-9-2zm4-5l9 2 4-5-9-1zm4-4l9 1 4-4-9-1zm4-4l9 1 4-4-9-1zm4-4l9 1 3-3-8-1zm4-3l8 1 4-3-8-2zm4-4l8 2 4-3-8-2zm4-3l8 2 4-3-8-2zm83-78l8 5 3-7-8-5zm3-7l8 5 3-7-7-5zm-105 113l8 2 4-5-8-1zm4-4l8 1 4-4-8-2zm4-5l8 2 4-5-8-1zm4-4l8 1 4-3-8-2zm4-4l8 2 4-4-9-1zm3-3l9 1 3-3-8-1zm4-3l8 1 4-3-8-1zm4-3l8 1 4-3-8-1zm86-82l8 6 3-8-8-5zm-109 115l8 1 4-5-8-1zm4-5l8 1 4-5-8-1zm4-5l8 1 4-4-8-1zm4-4l8 1 4-4-8-2zm4-5l8 2 4-4-8-1zm4-3l8 1 4-4-8-1zm4-4l8 1 4-3-9-1zm3-3l9 1 3-3-8-1zm4-3l8 1 4-3-8-1zm4-3l8 1 4-2-8-2zm85-82l7 6 4-8-8-5zm-112 118l8 2 4-6-8-1zm4-5l8 1 4-5-8-1zm4-5l8 1 4-4-8-1zm4-4l8 1 4-5-8 0zm4-4l8 0 4-3-8-1zm4-4l8 1 4-4-8-1zm4-4l8 1 4-3-8-1zm4-3l8 1 4-3-9-1zm3-3l9 1 3-3-8-1zm4-3l8 1 4-2-8-1zm88-85l7 5 4-10-8-4zm-115 122l9 1 4-6-9-1zm4-6l9 1 4-5-9-1zm4-5l9 1 4-4-9-1zm4-4l9 1 3-5-8-1zm4-5l8 1 4-4-8 0zm4-3l8 0 4-3-8-1zm4-4l8 1 4-3-8-1zm4-3l8 1 4-3-8-1zm4-3l8 1 4-3-9-1zm3-3l9 1 3-2-8-1zm87-81l8 4 3-9-7-5zm-113 118l8 1 4-5-8-2zm4-6l8 2 4-6-8-1zm4-5l8 1 4-4-8-1zm4-4l8 1 4-5-9-1zm3-5l9 1 4-4-9-1zm4-4l9 1 3-4-8 0zm4-3l8 0 4-3-8 0zm4-3l8 0 4-3-8 0zm4-3l8 0 4-2-8-1zm4-3l8 1 3-2-8-1zm3-2l8 1 4-2-8-1zm86-85l8 3 3-10-7-4zm-120 131l9 1 4-6-9-2zm4-7l9 2 3-6-8-1zm4-5l8 1 4-6-8-1zm4-6l8 1 4-4-8-1zm4-4l8 1 4-5-8-1zm15-16l9 1 3-3-8-1zm4-3l8 1 4-2-8-1zm4-2l8 1 4-2-9-1zm3-2l9 1 3-2-8-1zm86-83l8 4 3-12-8-2zm-119 129l8 2 4-7-8-1zm4-6l8 1 4-6-9-1zm3-6l9 1 4-5-9-2zm4-6l9 2 4-5-9-1zm23-23l9 1 3-2-8-1zm93-84l7 2 4-12-8-2zm-119 127l9 3 3-7-8-3zm4-7l8 3 4-6-8-3zm4-6l8 3 4-6-8-2zm4-5l8 2 4-5-8-2zm114-107l8 1 3-12-7-1zm-114 121l9 2 4-6-9-2zm4-6l9 2 4-6-9-2zm4-6l9 2 3-5-8-2zm114-108l8-1 3-12-8 1zm-113 122l8 3 4-6-8-3zm4-6l8 3 4-6-8-3zm4-6l8 3 4-6-9-2zm0 15l9 4 4-7-9-3zm4-6l9 3 4-6-9-3zm4-6l9 3 3-6-8-3zm4-6l8 3 4-5-8-3zm105-99l8-4 4-12-8 5zm-104 114l8 3 4-6-8-3zm4-6l8 3 4-6-9-3zm3-6l9 3 4-5-9-3zm102-95l8-6 4-11-9 6zm-97 104l9 4 3-6-8-4zm4-6l8 4 4-6-8-3zm4-5l8 3 4-5-9-3zm3-5l9 3 4-5-9-3zm91-83l8-7 3-11-8 7zm-90 97l9 4 4-6-9-4zm4-6l9 4 3-5-8-4zm4-5l8 4 4-5-8-4zm87-83l8-7 3-11-8 8zm-82 92l8 5 4-6-9-4zm3-5l9 4 4-5-9-4zm4-5l9 4 3-5-8-4zm9 4l8 5 4-5-9-5zm3-5l9 5 3-5-8-4zm70-68l8-9 3-9-8 8zm1 8l9-9 3-8-8 9zm-1 12l9-7 3-6-9 7zm3-6l9-7 3-8-8 8zm-30 43l8 2 4-5-9-1zm13-15l9 0 3-4-9 1zm3-3l9-1 3-4-8 2zm4-3l8-2 3-5-8 3zm3-4l8-3 4-4-9 3zm3-4l9-3 3-6-9 5zm3-4l9-5 3-5-8 5zm-21 35l9 2 3-5-8-2zm4-5l8 2 4-4-9-2zm3-4l9 2 3-5-9-1zm3-4l9 1 3-5-8 0zm4-4l8 0 4-5-9 1zm3-4l9-1 3-5-9 2zm3-4l9-2 3-5-9 2zm-8 22l9 2 3-5-8-1zm4-4l8 1 3-5-8-1zm3-5l8 1 4-5-9-1zm3-5l9 1 3-6-8 0zm-1 16l8 3 4-6-9-2zm3-5l9 2 3-5-9-2zm3-5l9 2 3-6-8-1zm4-5l8 1 4-6-9-1zm-2 18l9 2 3-6-8-2zm4-6l8 2 4-6-9-1zm3-5l9 1 3-6-9-1z"/><path fill="#0f0fe6" d="M512 1287l7-4 3-4-6 4zm-3 9l7-3 3-5-6 3zm4-5l6-3 4-4-7 3zm3-4l7-3 3-4-7 3zm-10 18l7-2 3-5-7 3zm3-4l7-3 3-4-6 3zm4-4l6-3 4-4-7 3zm3-4l7-3 3-5-7 3zm-10 18l7-2 3-4-7 2zm3-4l7-2 3-5-6 3zm4-4l6-3 4-4-7 2zm-7 15l7-2 3-4-7 1zm3-5l7-1 4-5-7 2zm4-4l7-2 3-4-7 2zm-4 12l7-2 4-5-7 2zm4-5l7-2 3-4-7 2zm3-4l7-2 4-5-7 2zm-7 16l7-1 4-5-7 2zm4-4l7-2 3-4-7 1zm3-5l7-1 4-5-7 1zm-3 13l7-1 3-5-7 1zm3-5l7-1 4-5-7 1zm4-5l7-1 3-5-7 2zm-3 14l7-1 3-5-7 1zm3-5l7-1 4-5-8 1zm0 9l7-1 4-5-7 1zm4-5l7-1 3-5-7 1zm0 10l7-1 3-5-7 0zm3-6l7 0 4-5-7 0zm4-5l7 0 3-5-7 0zm-4 15l8 0 3-5-7 0zm4-5l7 0 4-5-8 0zm3-5l8 0 3-6-7 1zm-3 15l7 0 4-5-7 0zm4-5l7 0 3-5-7 0zm3-5l7 0 4-5-7 0zm0 10l8 0 3-5-7 0zm4-5l7 0 4-5-8 0zm0 9l8 0 3-5-7 1zm4-4l7-1 4-5-8 1zm3-5l8-1 3-5-7 1zm-3 14l8 0 3-5-7 0zm4-5l7 0 3-5-7 0zm3-5l7 0 4-5-7 0zm-3 15l7 0 4-5-7 0zm4-5l7 0 3-4-7-1zm3-5l7 1 4-5-8-1zm0 10l8 1 3-5-7-1zm4-5l7 1 4-5-8 0zm3-4l8 0 3-5-7 0zm-3 15l8 0 3-4-7-1zm4-5l7 1 4-5-8-1zm3-5l8 1 3-6-7 0zm1 10l7 2 4-5-8-1zm3-4l8 1 3-6-7 0zm4-5l7 0 4-5-8-1zm0 11l8 1 3-5-7-1zm4-5l7 1 4-5-8-2zm3-6l8 2 3-5-7-2zm1 12l8 3 3-5-8-3zm3-5l8 3 3-6-7-2zm4-5l7 2 4-6-8-1zm4 8l8 3 3-6-8-3zm3-6l8 3 3-6-7-3zm8 3l8 4 3-6-8-4zm3-6l8 4 3-7-7-3zm8 4l7 4 4-7-8-4zm11-3l7 5 4-7-8-5zm7 5l8 5 3-7-7-5zm4-7l7 5 4-9-8-4zm7 5l8 5 3-9-7-5zm11-4l8 4 3-9-8-4zm8 4l7 5 4-11-8-3zm-93 109l8 1 4-4-8-1zm4-4l8 1 4-4-9-1zm3-4l9 1 4-3-9-1zm104-103l8 2 3-11-7-2zm-107 117l9 1 3-5-8-1zm4-5l8 1 4-4-8-1zm4-4l8 1 4-4-8-1zm4-4l8 1 4-3-8-1zm4-3l8 1 4-3-9-1zm99-99l8 2 3-12-8-1zm-106 116l8 2 4-5-9-2zm3-5l9 2 4-4-9-2zm4-4l9 2 3-4-8-2zm4-4l8 2 4-4-8-1zm4-3l8 1 4-3-8-1zm99-98l7 1 4-12-8-1zm-106 116l8 2 4-5-8-2zm4-5l8 2 4-5-8-1zm4-4l8 1 4-4-9-1zm3-4l9 1 3-3-8-2zm-3 15l9 2 4-5-9-2zm4-5l9 2 3-4-8-3zm4-5l8 3 4-5-8-2zm4-4l8 2 4-3-9-2zm98-92l8-2 3-13-8 3zm-97 103l8 3 4-5-9-2zm3-4l9 2 4-5-9-2zm5 7l9 3 3-5-8-3zm4-5l8 3 4-5-8-3zm97-96l9-6 3-11-8 5zm5 5l8-7 4-11-8 7zm5 4l8-8 4-10-9 7zm2 12l8-8 3-10-8 9zm5 1l8-8 4-10-9 9zm2 10l8-9 4-9-9 9zm2 7l8-8 4-8-9 8zm-1 12l8-5 3-7-8 6zm3-6l8-6 4-7-9 7zm-5 16l9-2 3-5-8 3zm4-4l8-3 4-6-9 3zm3-6l9-3 3-7-9 5zm-4 18l8 0 3-5-8 0zm3-5l8 0 4-6-9 1zm3-5l9-1 3-6-9 2zm2 10l9 1 3-6-9 0zm3-5l9 0 3-7-8 1zm2 12l9 1 3-6-8-1zm4-6l8 1 3-7-8 0z"/><path fill="#0f0fe7" d="M519 1283l7-3 3-4-7 3zm0 5l7-3 3-4-6 3zm4-4l6-3 4-4-7 3zm3-4l7-3 3-5-7 4zm-10 18l7-2 3-4-7 2zm3-4l7-2 4-5-7 3zm4-4l7-3 3-4-7 2zm-7 15l7-2 3-5-7 2zm3-5l7-2 4-4-7 2zm4-4l7-2 3-5-7 3zm-3 11l7-2 3-4-7 2zm3-4l7-2 3-5-7 2zm3-5l7-2 4-5-7 3zm-6 16l7-1 3-5-7 2zm3-4l7-2 3-5-6 2zm4-5l6-2 4-4-7 2zm-4 13l7-2 4-5-7 2zm4-5l7-2 3-4-7 1zm-4 13l8-1 3-5-7 1zm4-5l7-1 3-5-7 1zm3-5l7-1 4-5-7 1zm-3 14l7-1 4-5-7 1zm4-5l7-1 3-5-7 1zm3-5l7-1 3-5-7 1zm0 9l7 0 4-5-7 0zm4-5l7 0 3-6-7 1zm0 10l7-1 4-5-8 1zm3-5l8-1 3-5-7 1zm1 10l7 0 3-6-7 0zm3-6l7 0 4-5-7 0zm0 11l8 0 3-6-7 1zm4-5l7-1 4-5-8 0zm3-6l8 0 3-6-7 1zm1 11l7-1 3-5-7 0zm3-6l7 0 4-6-7 1zm1 10l7 0 3-5-7 0zm3-5l7 0 4-5-8 0zm0 10l8 1 3-5-7-1zm4-5l7 1 4-6-8 0zm3-5l8 0 3-5-7 0zm1 11l7 0 4-5-8 0zm3-5l8 0 3-6-7 0zm1 10l7 0 4-5-8 0zm3-5l8 0 3-5-7 0zm4-5l7 0 4-6-8 0zm0 10l8 1 3-5-7-1zm4-5l7 1 4-6-8 0zm4 6l7 2 4-6-8-1zm3-5l8 1 3-6-7-1zm4 7l8 1 3-5-7-2zm4-6l7 2 4-6-8-2zm4 7l7 3 4-6-8-2zm3-5l8 2 3-6-7-2zm8 2l7 3 4-6-8-3zm7 3l8 4 3-7-7-3zm4-6l7 3 4-7-8-3zm7 3l8 5 3-8-7-4zm11-3l8 4 3-8-8-4zm8 4l7 5 3-9-7-4zm10-4l8 4 3-10-7-3zm8 4l8 3 3-10-8-3zm8 3l7 4 4-11-8-3zm30 9l8-1 4-13-8 2zm8-1l8-3 3-13-7 3zm5 10l8-5 3-12-8 4zm13 1l8-7 3-11-8 7zm6 18l8-9 4-10-9 8zm5 1l9-9 3-9-9 8zm2 10l9-9 3-9-9 9zm2 8l9-8 3-8-9 8zm2 8l9-7 3-8-9 7zm3-8l9-7 3-8-8 7zm-1 15l9-5 3-7-9 5zm3-7l9-5 3-7-8 5zm-1 15l9-2 3-7-8 3zm4-6l8-3 3-7-8 3zm2 10l8-1 3-6-8 1zm3-6l8-1 4-8-9 2zm2 12l8 0 4-7-9 0zm3-7l9 0 3-7-9 1z"/><path fill="#0f0fe8" d="M526 1285l7-2 3-5-7 3zm3-4l7-3 3-4-6 3zm4-4l6-3 4-5-7 3zm-7 15l7-3 3-4-6 2zm4-5l6-2 4-5-7 3zm3-4l7-3 3-5-7 3zm-3 11l7-3 3-4-7 2zm3-5l7-2 3-5-7 3zm-3 12l7-2 3-5-7 2zm3-5l7-2 4-5-7 2zm4-5l7-2 3-4-7 2zm-7 17l7-1 3-5-7 1zm3-5l7-1 4-5-7 2zm4-4l7-2 3-5-7 2zm-3 12l7-1 3-5-7 2zm3-4l7-2 4-5-8 2zm3-5l8-2 3-5-7 2zm-3 13l7-1 4-5-7 1zm4-5l7-1 3-5-7 1zm0 9l7-1 4-5-8 1zm3-5l8-1 3-5-7 1zm1 10l7-1 3-5-7 0zm3-6l7 0 4-5-7 0zm1 10l7 0 3-6-7 1zm3-5l7-1 4-5-8 1zm3-5l8-1 3-5-7 1zm1 10l7-1 3-5-7 0zm3-6l7 0 4-5-7 0zm1 11l7-1 3-5-7 0zm3-6l7 0 4-6-8 1zm0 11l8 0 3-6-7 0zm4-6l7 0 4-6-8 1zm4 6l7 0 4-6-8 0zm3-6l8 0 3-6-7 0zm1 11l7 0 4-6-8 1zm3-5l8-1 3-5-7 0zm4 5l8 0 3-6-7 0zm4-6l7 0 3-6-7 1zm0 12l8 0 3-5-7-1zm4-6l7 1 3-6-7-1zm4 6l7 1 3-6-7 0zm3-5l7 0 4-6-8 0zm4 6l8 2 3-7-8-1zm3-6l8 1 3-6-7-1zm5 8l7 2 3-7-7-2zm3-7l7 2 4-7-8-1zm4 9l8 3 3-7-8-3zm3-7l8 3 3-7-7-3zm8 3l8 3 3-7-8-3zm8 3l7 4 3-8-7-3zm10-4l8 4 3-9-7-3zm8 4l7 4 4-9-8-4zm18-2l8 3 3-11-7-2zm8 3l8 3 3-12-8-2zm8 3l7 2 4-12-8-2zm7 2l8 1 3-12-7-1zm8 1l8 1 3-13-8 0zm8 1l8-2 3-13-8 2zm12 8l8-4 4-13-9 4zm5 8l8-5 3-13-8 6zm9 10l9-7 3-11-8 7zm5 3l9-8 3-11-8 9zm5 2l9-8 3-11-8 9zm2 11l9-9 3-9-8 8zm2 9l9-8 3-9-8 8zm6 0l8-7 4-9-9 8zm2 9l8-5 4-8-9 5zm2 9l8-3 4-7-9 3zm3-7l9-3 3-8-9 4zm2 11l9-2 3-7-9 2zm3-7l9-2 3-8-8 3zm2 13l9-1 3-7-8 0zm4-8l8 0 4-8-9 1z"/><path fill="#0f0fe9" d="M536 1278l7-3 3-4-7 3zm3-4l7-3 3-5-6 3zm-3 11l7-3 4-5-7 3zm4-5l7-3 3-4-7 2zm3-5l7-2 3-5-7 3zm-3 12l7-2 3-5-7 2zm3-5l7-2 3-5-6 2zm-3 12l7-2 4-5-7 2zm4-5l7-2 3-4-7 2zm3-4l7-2 3-5-7 2zm-3 12l7-2 3-4-7 1zm3-5l7-1 4-5-7 1zm-3 13l7-1 4-5-7 1zm4-5l7-1 3-5-7 1zm3-5l7-1 3-5-7 2zm-3 14l7-1 3-5-7 1zm3-5l7-1 4-5-7 1zm4-5l7-1 3-5-7 1zm-3 14l7 0 3-6-7 1zm3-5l7-1 3-5-7 1zm3-5l7-1 4-5-7 1zm1 10l7-1 3-5-7 0zm3-6l7 0 4-5-8 0zm1 10l7 0 3-6-7 1zm3-5l7-1 3-5-7 1zm0 10l8-1 3-5-7 1zm4-5l7-1 3-5-7 0zm0 10l8-1 3-5-7 0zm4-6l7 0 3-6-7 1zm3-5l7-1 4-5-8 1zm1 10l7 0 3-6-7 1zm3-5l7-1 4-5-8 0zm1 11l7 0 3-6-7 0zm3-6l7 0 4-6-8 0zm4 6l7-1 4-6-8 1zm3-6l8-1 3-6-7 1zm1 11l7 1 4-7-8 0zm3-6l8 0 3-6-7 0zm4 7l8 0 3-6-7-1zm4-7l7 1 4-7-8 0zm4 7l7 1 4-7-8 0zm7 1l8 1 3-7-7-1zm8 1l7 3 4-8-8-2zm7 3l8 3 3-8-7-3zm8 3l7 3 4-8-8-3zm3-8l8 3 3-8-8-3zm8 3l7 3 4-9-8-2zm7 3l8 4 3-10-7-3zm8 4l7 3 4-10-8-3zm18-5l8 2 3-11-7-2zm8 2l8 2 3-12-8-1zm28 14l7-3 4-13-8 3zm12 6l8-6 4-13-8 6zm5 7l8-7 3-12-8 6zm5 4l8-7 3-12-8 8zm5 4l8-9 3-10-8 8zm7 13l8-8 4-10-9 9zm2 10l8-8 4-9-9 8zm5 1l9-8 3-9-9 8zm2 9l9-5 3-9-9 6zm5 3l9-4 3-9-8 5zm6 4l8-3 4-9-9 4zm5 5l9-1 3-9-9 2z"/><path fill="#0f0feb" d="M546 1271l7-3 3-5-7 3zm1 6l6-2 4-5-7 3zm3-4l7-3 3-5-7 3zm3-5l7-3 3-4-7 2zm-3 12l7-2 3-5-7 2zm3-5l7-2 4-5-7 2zm-2 12l7-1 3-5-7 2zm3-4l7-2 3-5-7 2zm3-5l7-2 3-5-7 2zm-3 13l7-2 4-5-7 2zm4-5l7-2 3-5-7 2zm0 8l7-1 3-5-7 1zm3-5l7-1 4-5-7 1zm1 9l7-1 3-5-7 1zm3-5l7-1 3-5-7 1zm0 9l8 0 3-6-7 1zm4-5l7-1 3-5-7 1zm0 10l7-1 4-5-7 1zm4-5l7-1 3-6-7 1zm0 9l7 0 4-6-8 1zm3-5l8-1 3-5-7 1zm4 5l8-1 3-6-7 1zm4-6l7-1 3-5-7 1zm0 10l8 0 3-6-7 1zm4-5l7-1 3-5-7 0zm0 10l8 0 3-6-7 1zm4-5l7-1 3-5-7 0zm4 5l7-1 3-5-7 0zm3-6l7 0 4-6-8 1zm1 11l7 0 3-6-7 0zm3-6l7 0 4-6-8 1zm4 6l8 0 3-6-8 0zm4 7l8 0 3-6-7-1zm4-7l7 1 3-7-7 0zm4 7l7 1 3-7-7 0zm3-6l7 0 4-6-8-1zm4 7l8 2 3-7-8-2zm3-7l8 2 3-7-7-1zm5 9l7 3 3-8-7-2zm3-7l7 2 4-8-8-1zm7 2l8 3 3-9-7-2zm8 3l8 2 3-8-8-3zm8 2l7 3 3-9-7-2zm7 3l8 3 3-10-8-2zm8 3l7 2 4-11-8-1zm23 6l7 1 4-13-8 0zm7 1l8 0 3-13-7 0zm8 0l8-2 3-13-8 2zm12 8l9-4 3-14-8 5zm18 9l8-8 4-12-9 8zm7 17l8-9 4-10-9 8zm5 2l9-9 3-10-9 8zm2 10l9-8 3-10-9 9zm5 1l9-8 3-9-8 8zm2 10l9-6 3-9-8 6zm6 3l8-5 4-9-9 5zm5 4l9-4 3-9-9 4zm5 5l9-2 3-9-8 2z"/><path fill="#101add" d="M557 1270l7-2 3-5-7 2zm3-5l7-2 3-5-7 3zm0 8l7-2 4-5-7 2zm4-5l7-2 3-5-7 2zm-3 13l7-2 3-5-7 2zm3-5l7-2 3-5-7 2zm3-5l7-2 4-5-7 2zm-2 13l7-1 3-5-7 1zm3-5l7-1 3-5-7 1zm0 9l7-1 4-5-7 1zm4-5l7-1 3-5-7 1zm0 9l7-1 4-5-8 1zm3-5l8-1 3-5-7 1zm1 9l7-1 3-5-7 1zm3-5l7-1 4-5-7 1zm4-5l7-1 3-5-7 1zm-3 15l7-1 3-6-7 1zm3-6l7-1 4-5-8 1zm3-5l8-1 3-5-7 1zm1 10l7-1 4-6-8 1zm3-6l8-1 3-5-7 1zm1 10l7 0 4-6-8 1zm3-5l8-1 3-5-7 0zm1 10l7 0 4-6-8 1zm3-5l8-1 3-6-7 1zm4 5l8-1 3-6-7 1zm4 5l8-1 3-6-7 1zm4-6l7-1 3-6-7 1zm0 11l8 0 3-6-7 0zm4-6l7 0 3-7-7 1zm4 6l7 0 4-6-8 0zm3-6l8 0 3-7-8 0zm4 6l8 1 3-7-7 0zm8 1l7 1 4-7-8-1zm7 1l8 1 3-7-7-1zm8 1l7 2 4-8-8-1zm7 2l8 3 3-9-7-2zm8 3l7 2 4-10-8-1zm7 2l8 2 3-10-7-2zm8 2l8 1 3-10-8-1zm8 1l7 2 4-12-8 0zm7 2l8 1 3-12-7-1zm8 1l8 0 3-13-8 1zm8 0l7 0 4-14-8 1zm12 11l8-3 3-14-8 4zm13 6l8-6 3-13-8 5zm4 7l8-6 4-13-8 6zm10 10l8-8 4-12-9 8zm5 2l9-8 3-11-9 9zm5 2l9-8 3-10-8 8zm2 12l9-9 3-10-8 9zm6 1l8-8 3-10-8 8zm2 10l8-6 4-9-9 6zm5 3l9-5 3-9-9 5zm5 4l9-4 3-9-8 4zm6 5l8-2 4-9-9 2z"/><path fill="#112ac9" d="M567 1263l7-2 3-5-7 2zm4 3l7-2 3-5-7 2zm3-5l7-2 3-5-7 2zm-3 13l7-1 3-5-7 1zm3-5l7-1 4-5-7 1zm4-5l7-1 3-5-7 1zm-3 14l7-1 3-5-7 1zm3-5l7-1 3-6-7 2zm3-5l7-2 4-5-7 2zm-2 14l7-1 3-5-7 1zm3-5l7-1 3-6-7 2zm3-5l7-2 4-5-8 1zm1 9l7-1 3-6-7 2zm3-5l7-2 3-5-7 1zm1 9l7-1 3-6-7 2zm3-5l7-2 3-5-7 1zm1 9l7-1 3-5-7 1zm3-5l7-1 3-6-7 1zm1 9l7 0 3-6-7 1zm3-5l7-1 3-5-7 1zm1 10l7-1 3-5-7 1zm3-5l7-1 3-6-7 1zm1 10l7-1 3-6-7 1zm3-6l7-1 3-6-7 2zm4 5l7-1 4-6-8 1zm3-6l8-1 3-6-8 1zm1 11l7-1 4-6-8 1zm3-6l8-1 3-6-7 1zm4 5l8 0 3-6-7 0zm5 7l7 0 3-7-7 0zm3-7l7 0 4-7-8 1zm4 7l8 1 3-8-8 0zm8 1l7 1 3-8-7-1zm7 1l8 1 3-8-8-1zm8 1l7 2 3-9-7-1zm7 2l8 1 3-9-8-1zm8 1l7 2 4-10-8-1zm7 2l8 1 3-11-7 0zm8 1l8 0 3-11-8 0zm27 13l8-2 4-14-8 2zm13 8l8-5 3-13-8 4zm13 3l8-6 3-14-8 7zm4 7l9-8 3-13-8 8zm5 4l9-8 3-12-8 8zm5 4l9-9 3-11-8 8zm6 2l8-8 3-11-8 8zm2 12l8-9 3-10-8 9zm5 1l8-8 4-10-9 8zm2 11l9-6 3-10-9 7zm5 3l9-5 3-10-8 6zm6 4l8-4 4-9-9 4zm5 5l9-2 3-10-9 3z"/><path fill="#1239b6" d="M581 1259l7-1 3-6-7 2zm4 4l7-2 3-5-7 2zm3-5l7-2 3-5-7 1zm0 8l8-1 3-5-7 1zm4-5l7-1 3-5-7 1zm0 9l7-1 4-5-7 1zm4-5l7-1 3-5-7 1zm0 9l7-1 4-5-8 1zm3-5l8-1 3-6-7 2zm1 9l7-1 4-5-8 1zm3-5l8-1 3-6-7 2zm1 10l7-1 4-6-8 1zm3-6l8-1 3-5-7 1zm1 10l7-1 4-6-8 2zm3-5l8-2 3-5-7 1zm1 10l7-2 4-5-8 1zm3-6l8-1 3-6-7 1zm4 4l8-1 3-6-7 2zm5 5l7-1 3-6-7 1zm3-6l7-1 3-6-7 1zm1 11l7 0 3-7-7 1zm3-6l7-1 4-6-8 1zm4 6l8-1 3-6-8 0zm4 6l8 0 3-7-7 0zm4-7l7 0 3-7-7 1zm4 7l7 1 4-7-8-1zm7 1l8 1 3-8-7 0zm8 1l7 1 4-8-8-1zm7 1l8 1 3-9-7 0zm8 1l8 1 3-10-8 0zm20 12l7 1 4-13-8 1zm7 1l8-1 3-13-7 1zm8-1l8-1 3-13-8 1zm12 11l8-4 4-13-8 3zm13 5l8-5 4-14-9 6zm30 27l8-9 4-10-9 9zm5 1l9-8 3-10-9 8zm2 12l9-7 3-10-9 7zm6 3l8-6 4-9-9 5zm5 4l9-4 3-10-9 4zm5 5l9-3 3-9-8 3z"/><path fill="#1349a2" d="M595 1256l7-1 3-5-7 1zm4 4l7-1 3-6-7 2zm3-5l7-2 3-5-7 2zm1 9l7-2 3-5-7 2zm3-5l7-2 3-5-7 1zm1 9l7-2 3-5-7 1zm3-6l7-1 3-5-7 1zm1 10l7-1 3-6-7 1zm3-6l7-1 3-5-7 1zm1 10l7-1 3-6-7 2zm3-5l7-2 3-5-7 1zm1 9l7-1 3-6-7 2zm3-5l7-2 3-5-7 1zm1 10l7-2 3-5-7 1zm3-6l7-1 3-6-7 1zm4 4l7-1 4-6-8 2zm4 5l8-1 3-6-8 1zm4 5l8 0 3-7-7 1zm4-6l7-1 3-6-7 1zm4 6l7-1 4-7-8 1zm4 6l8 1 3-8-8 0zm3-7l8 0 3-7-7 0zm5 8l7 0 3-8-7 0zm7 0l8 1 3-9-8 0zm8 1l7 0 4-9-8 0zm7 0l8 0 3-10-7 1zm5 10l7 0 4-11-8 1zm7 0l8 0 3-12-7 1zm8 0l8-1 3-12-8 1zm20 10l8-2 3-14-8 3zm12 8l8-4 4-14-8 5zm13 4l8-7 4-13-8 6zm5 7l8-8 4-13-9 7zm5 5l8-8 4-13-9 8zm5 4l8-8 4-12-9 8zm5 3l8-8 4-11-9 8zm5 3l9-9 3-11-9 9zm7 13l9-7 3-9-8 6zm6 3l9-5 3-10-9 5zm5 4l9-4 3-10-8 5zm6 6l8-3 3-10-8 3z"/><path fill="#14588e" d="M609 1253l7-1 3-5-7 1zm4 4l7-1 3-6-7 2zm3-5l7-2 4-5-8 2zm1 9l7-1 3-6-7 2zm3-5l7-2 4-5-8 1zm1 9l7-1 3-6-7 2zm3-5l7-2 4-5-8 1zm1 9l7-1 4-6-8 2zm3-5l8-2 3-5-8 1zm1 9l7-1 4-6-8 2zm3-5l8-2 3-6-7 2zm1 10l8-2 3-6-8 2zm3-6l8-2 3-6-7 2zm1 10l8-1 3-6-7 1zm4-6l7-1 3-7-7 2zm4 5l7-1 4-7-8 2zm4 5l8-1 3-6-8 1zm3-6l8-1 3-7-7 1zm5 5l7 0 3-7-7 1zm4 7l7 0 4-8-8 1zm3-7l8-1 3-7-8 1zm4 7l8 0 3-8-7 0zm8 0l8 0 3-9-8 1zm12 9l8-1 3-11-8 2zm8-1l7-1 4-11-8 1zm12 10l7-1 4-13-8 2zm7-1l8-1 4-14-8 2zm13 10l8-3 3-15-8 4zm12 6l9-6 3-14-8 6zm18 7l9-8 3-12-8 7zm5 5l9-8 3-12-8 7zm5 4l9-8 3-12-8 8zm5 3l9-9 3-11-8 9zm2 12l9-8 3-10-8 8zm6 2l8-6 4-10-9 6zm5 3l9-5 3-10-9 6zm6 5l8-5 3-10-8 5zm5 5l8-3 4-10-9 3z"/><path fill="#146484" d="M623 1250l8-1 3-6-7 2zm4 4l8-1 3-6-7 2zm4-5l7-2 3-5-7 1zm0 9l8-1 3-6-7 2zm4-5l7-2 3-6-7 2zm1 9l7-2 3-5-7 2zm3-5l7-2 3-6-7 2zm1 9l7-2 3-6-7 2zm3-6l7-2 3-5-7 2zm1 10l7-2 3-6-7 2zm3-6l7-2 4-6-8 2zm1 11l8-2 3-6-8 1zm3-7l8-1 3-6-8 1zm5 5l7-1 3-7-7 2zm4 6l7-1 3-7-7 1zm7-1l8-1 3-7-8 1zm5 6l7 0 3-8-7 1zm7 0l8-1 3-9-8 2zm5 8l7-1 3-10-7 2zm7-1l8-2 3-10-8 2zm12 8l8-1 3-12-7 2zm8-1l8-2 3-12-8 2zm12 10l8-3 4-14-8 3zm8-3l8-4 4-14-8 4zm5 11l8-5 3-14-8 4zm13 3l8-6 3-14-8 6zm4 7l9-7 3-13-8 7zm26 20l8-8 4-10-9 7zm5 2l9-6 3-11-9 7zm5 4l9-6 3-10-8 6zm6 4l8-5 4-9-9 4zm5 5l9-3 3-10-9 3z"/><path fill="#146f7a" d="M638 1247l7-2 3-5-7 2zm4 4l7-2 3-6-7 2zm3-6l7-2 3-5-7 2zm1 10l7-2 4-6-8 2zm3-6l8-2 3-6-8 2zm1 9l8-2 3-5-8 2zm3-5l8-2 3-6-7 2zm1 9l8-1 3-6-7 1zm4-6l7-1 3-7-7 3zm1 11l7-2 3-6-7 2zm3-6l7-2 3-6-7 2zm1 11l7-1 4-7-8 1zm3-7l8-1 3-7-8 2zm4 6l8-1 3-8-7 2zm5 6l7-1 4-8-8 2zm3-7l8-2 3-8-8 2zm4 6l8-2 3-8-7 2zm5 7l7-2 4-9-8 2zm7-2l8-2 3-10-7 3zm5 8l8-1 3-11-8 2zm8-1l7-2 4-12-8 3zm12 8l8-2 3-13-8 3zm8-2l8-3 3-13-8 3zm12 7l8-4 4-15-8 5zm5 10l8-6 3-14-8 6zm13 2l8-7 3-14-8 7zm5 6l8-7 3-14-8 8zm5 5l8-7 3-13-8 8zm5 5l8-8 4-13-9 9zm5 4l8-9 4-12-9 9zm5 2l9-7 3-12-9 8zm5 3l9-7 3-10-8 7zm6 4l8-6 4-11-9 6zm5 4l9-4 3-11-9 5zm5 5l9-3 3-10-8 4z"/><path fill="#147a71" d="M652 1243l8-2 3-6-8 3zm5 4l7-2 3-6-7 2zm4 4l7-3 3-6-7 3zm4 4l7-2 4-7-8 2zm4 4l8-2 3-6-8 2zm5 5l7-2 3-7-7 2zm3-7l7-2 4-6-8 2zm4 5l8-2 3-7-8 2zm5 6l7-2 3-8-7 2zm4 6l8-2 3-9-8 3zm8-2l7-3 4-9-8 3zm4 7l8-2 3-11-8 3zm12 7l8-2 3-13-7 3zm8-2l8-3 3-13-8 3zm13 7l8-4 3-14-8 5zm17 14l8-6 4-14-9 6zm18 7l8-8 4-13-9 7zm5 5l9-9 3-12-9 8zm5 4l9-9 3-12-8 8zm5 3l9-8 3-12-8 8zm11 7l9-6 3-10-9 6zm5 5l9-5 3-10-8 4zm6 6l8-4 4-10-9 3z"/><path fill="#1d8963" d="M660 1241l7-2 3-6-7 2zm4 4l7-3 3-5-7 2zm3-6l7-2 4-6-8 2zm1 9l8-2 3-6-8 2zm3-6l8-2 3-6-8 3zm1 11l8-2 3-7-7 2zm4-7l7-2 3-6-7 2zm4 5l8-2 3-7-8 2zm4 4l8-2 3-7-7 3zm5 5l7-2 4-8-8 3zm4 6l8-3 3-8-8 3zm8-3l8-3 3-9-8 4zm4 6l8-3 3-10-7 4zm5 8l8-3 3-11-8 3zm8-3l7-3 4-11-8 3zm12 7l8-3 3-14-8 4zm13 6l8-5 3-14-8 5zm4 10l8-6 4-14-8 5zm13 2l8-7 4-14-8 7zm5 7l8-8 4-13-9 7zm26 22l8-7 4-12-9 7zm19 3l9-3 3-11-9 4z"/><path fill="#299a53" d="M674 1237l8-3 3-6-7 3zm5 3l7-2 3-6-7 2zm3-6l7-2 3-6-7 2zm1 10l8-2 3-6-8 2zm3-6l8-2 3-7-8 3zm2 11l7-3 3-7-7 3zm3-7l7-3 3-6-7 3zm1 11l8-3 3-7-8 3zm3-7l8-3 3-7-8 3zm1 12l8-3 3-9-7 4zm13 2l7-4 4-9-8 4zm4 6l8-3 3-11-8 4zm12 5l8-3 4-12-8 4zm13 7l8-5 3-13-8 4zm13 4l8-5 3-14-8 5zm4 9l9-6 3-14-8 6zm13 1l9-7 3-13-8 6zm5 6l9-7 3-13-8 7zm5 6l9-8 3-13-8 8zm6 4l8-8 4-12-9 8zm5 4l8-8 4-12-9 8zm5 4l9-7 3-12-9 7zm5 5l9-6 3-11-8 5zm6 4l8-4 4-11-9 5zm8-4l9-4 3-11-8 4z"/><path fill="#36ab44" d="M689 1232l8-3 3-6-8 3zm5 4l7-3 3-7-7 3zm4 3l8-3 3-7-8 4zm2 11l7-4 3-7-7 4zm3-7l7-4 4-8-8 5zm1 12l8-4 3-9-8 4zm3-9l8-4 3-8-8 5zm5 5l8-4 3-9-8 4zm4 5l8-4 3-10-7 5zm5 7l8-3 3-11-8 3zm12 5l8-4 4-12-8 4zm13 5l8-5 3-13-8 5zm18 12l8-7 3-13-8 6zm28 15l9-8 3-12-8 8zm5 4l9-7 4-12-9 7zm6 5l8-5 4-12-9 5zm5 6l9-5 3-11-9 5z"/><path fill="#43b738" d="M697 1229l7-3 3-6-7 3zm4 4l8-4 3-7-8 4zm5 3l8-5 3-7-8 5zm4 3l8-5 3-7-7 4zm5 3l8-4 3-9-8 5zm5 5l7-5 4-9-8 5zm4 5l8-3 3-11-8 4zm5 8l8-4 3-12-8 5zm12 4l8-4 4-13-8 5zm13 4l8-5 4-14-9 6zm5 9l8-6 3-14-8 6zm13 1l8-6 4-14-9 7zm5 7l8-7 4-13-9 7zm5 6l8-8 4-13-9 8zm5 5l9-8 3-13-9 8zm24 8l9-5 3-12-8 5zm6 6l8-4 4-11-9 4z"/><path fill="#52bd30" d="M704 1226l8-4 3-6-8 4zm5 3l8-5 3-7-8 5zm5 2l7-4 3-8-7 5zm4 3l8-5 3-8-8 6zm5 4l8-5 3-9-8 5zm4 4l8-4 4-10-8 5zm5 7l8-5 3-10-8 4zm5 7l8-4 3-12-8 4zm12 4l8-5 4-13-8 5zm13 3l8-6 4-13-8 5zm5 8l8-6 4-14-9 6zm18 7l9-8 3-12-8 7zm5 5l9-8 3-12-8 7zm6 5l8-8 4-13-9 8zm5 4l9-7 3-12-9 7zm5 5l9-5 3-13-8 6zm14 2l9-4 3-12-9 4z"/><path fill="#60c427" d="M712 1222l8-5 3-6-8 5zm5 2l7-5 3-7-7 5zm4 3l8-6 3-7-8 5zm5 2l8-5 3-8-8 5zm5 4l8-5 3-9-8 5zm4 5l8-4 3-11-7 5zm5 6l8-4 3-11-8 5zm5 8l8-5 3-12-8 5zm12 3l9-6 3-13-8 6zm18 10l9-7 3-13-8 6zm5 7l9-7 3-13-8 6zm24 8l9-7 3-12-8 6zm6 5l8-6 4-12-9 6zm5 7l8-5 4-13-9 5z"/><path fill="#6fca1f" d="M720 1217l7-5 4-7-8 6zm4 2l8-5 3-8-8 6zm5 2l8-5 3-8-8 6zm14 13l8-5 3-11-8 5zm5 6l8-5 3-12-8 6zm5 7l8-5 3-13-8 6zm13 2l8-5 3-13-8 5zm4 8l9-6 3-13-8 6zm14 1l8-6 3-13-8 6zm5 7l8-7 4-13-9 7zm5 5l8-7 4-13-9 8zm5 5l9-8 3-12-9 8zm19 4l9-5 3-12-8 5zm5 8l9-4 4-13-9 4z"/><path fill="#7ed017" d="M727 1212l8-6 3-7-7 6zm5 2l8-6 3-8-8 6zm2 10l8-5 3-8-8 5zm5 4l7-5 4-9-8 5zm12 1l8-6 4-10-9 5zm5 6l8-6 3-11-8 5zm5 7l8-6 3-12-8 5zm13 2l8-6 3-13-8 6zm5 7l8-6 3-13-8 6zm18 7l9-8 3-12-8 7zm5 5l9-8 3-12-8 7zm6 4l8-6 4-13-9 7zm5 6l9-6 3-12-9 6zm14 1l9-4 3-12-9 4z"/><path fill="#91d413" d="M735 1206l8-6 3-7-8 6zm2 10l8-5 3-9-8 6zm3-8l8-6 3-7-8 5zm2 11l8-5 3-9-8 6zm4 4l8-5 4-10-8 6zm18 6l8-5 4-12-9 6zm5 7l8-5 4-13-9 6zm18 9l8-6 4-13-9 6zm5 7l9-7 3-13-9 7zm24 9l9-6 3-12-8 5zm6 6l8-5 4-12-9 5z"/><path fill="#a7d710" d="M743 1200l8-5 3-8-8 6zm2 11l8-6 3-8-8 5zm5 3l8-6 3-9-8 6zm4 4l9-5 3-10-8 5zm5 5l8-5 4-11-8 6zm13 1l9-6 3-11-8 5zm5 7l8-6 4-12-8 5zm5 7l8-6 4-13-9 6zm13 1l9-7 3-12-8 6zm6 6l8-7 4-13-9 7zm5 5l8-7 4-13-9 8zm5 5l9-7 3-12-9 7zm14 0l9-5 3-12-9 5zm5 7l9-4 3-13-8 5z"/><path fill="#bdda0e" d="M748 1202l8-5 3-8-8 6zm3-7l8-6 3-8-8 6zm2 10l8-6 3-8-8 6zm5 3l8-5 3-10-8 6zm5 5l8-6 3-10-8 6zm4 5l9-6 3-11-8 6zm18 7l9-6 3-12-8 6zm5 7l9-6 3-12-8 5zm19 6l9-8 3-12-8 7zm5 5l9-7 3-12-8 6zm6 5l8-5 4-13-9 6zm14 2l8-5 4-12-9 5z"/><path fill="#d3de0c" d="M756 1197l8-6 3-9-8 7zm5 2l8-6 3-9-8 7zm5 4l8-6 3-10-8 6zm5 4l8-6 3-10-8 6zm5 5l8-5 3-11-8 5zm5 6l8-5 3-12-8 6zm13 1l8-5 4-12-9 5zm5 7l8-6 4-12-9 6zm5 6l9-7 3-12-9 7zm19 4l9-6 3-12-9 6zm5 7l9-5 3-13-8 5z"/><path fill="#e9e10a" d="M759 1189l8-7 3-8-8 7zm5 2l8-7 3-8-8 6zm5 2l8-6 3-9-8 6zm5 4l8-6 3-10-8 6zm5 4l8-5 3-11-8 6zm5 6l8-6 3-11-8 6zm5 6l8-6 3-11-8 5zm13 1l9-6 3-12-8 6zm5 6l9-7 3-12-8 7zm6 5l8-7 3-12-8 7zm5 5l8-6 4-12-9 6zm14 0l8-5 4-12-9 5zm5 8l9-5 3-12-9 4z"/><path fill="#ecdb0a" d="M767 1182l8-6 3-8-8 6zm5 2l8-6 3-9-8 7zm5 3l8-6 3-9-8 6zm5 4l8-6 4-10-9 6zm5 5l8-6 4-10-9 5zm5 5l8-5 4-11-9 5zm5 6l9-5 3-12-9 6zm19 6l8-7 4-12-9 7zm5 5l9-6 3-12-9 6zm5 6l9-6 3-12-8 6zm14 1l9-4 3-12-8 4z"/><path fill="#eed50a" d="M775 1176l8-7 3-8-8 7zm20 14l9-5 3-11-8 6zm5 6l9-6 3-11-8 6zm6 6l8-6 3-12-8 6zm5 6l8-7 3-12-8 7zm19 4l8-6 4-12-9 6zm5 6l9-5 3-12-9 5z"/><path fill="#f0cf0a" d="M780 1178l8-6 4-9-9 6zm5 3l9-6 3-9-9 6zm5 4l9-5 3-10-8 5zm19 5l8-6 4-11-9 6zm5 6l8-7 4-11-9 6zm5 5l9-7 3-11-9 6zm5 5l9-6 3-12-8 6zm14 0l9-5 3-12-8 5zm6 7l8-4 4-12-9 4z"/><path fill="#f1c90a" d="M783 1169l9-6 3-9-9 7zm5 3l9-6 3-9-8 6zm6 3l8-5 3-10-8 6zm5 5l8-6 3-10-8 6zm5 5l8-6 3-10-8 5zm13-1l9-6 3-11-8 6zm5 5l9-6 3-12-8 7zm6 5l8-6 4-12-9 7zm5 6l9-6 3-12-9 6zm14 1l9-4 3-12-9 4z"/><path fill="#f3c20a" d="M792 1163l8-6 3-9-8 6zm5 3l8-6 3-9-8 6zm5 4l8-6 3-9-8 5zm5 4l8-5 3-10-8 5zm5 5l9-6 3-10-9 6zm24 9l9-6 3-11-8 5zm6 6l8-5 4-12-9 5z"/><path fill="#f4bc0a" d="M800 1157l8-6 3-9-8 6zm5 3l8-5 3-10-8 6zm5 4l8-5 4-10-9 6zm5 5l9-6 3-10-9 6zm6 4l8-6 3-11-8 7zm5 5l8-7 4-11-9 7zm5 5l9-7 3-11-9 6zm14-1l9-5 3-11-9 5zm5 7l9-4 3-12-8 4z"/><path fill="#f4b30b" d="M808 1151l8-6 4-9-9 6zm5 4l9-6 3-10-9 6zm5 4l9-6 3-10-8 6zm6 4l8-7 3-10-8 7zm5 4l9-7 3-11-9 7zm5 4l9-6 3-11-8 6zm6 5l8-5 4-12-9 6zm14 1l8-4 4-12-9 5z"/><path fill="#f3a80d" d="M816 1145l9-6 3-9-8 6zm6 4l8-6 3-10-8 6zm5 4l8-7 4-10-9 7zm5 3l9-7 3-10-9 7zm6 4l8-6 4-11-9 6zm5 5l9-6 3-11-9 6zm5 6l9-5 3-12-8 5z"/><path fill="#f29c0f" d="M825 1139l8-6 3-10-8 7zm27 20l8-5 4-11-9 5zm5 7l9-5 3-12-9 5z"/><path fill="#f19111" d="M830 1143l9-7 3-10-9 7zm5 3l9-7 3-10-8 7zm6 3l9-6 3-11-9 7zm5 5l9-6 3-11-8 6zm14 0l9-5 3-11-8 5z"/><path fill="#f08513" d="M833 1133l9-7 3-10-9 7zm6 3l8-7 3-11-8 8zm5 3l9-7 3-10-9 7zm6 4l8-6 3-11-8 6zm5 5l9-5 3-12-9 6z"/><path fill="#ec7c14" d="M842 1126l8-8 4-10-9 8zm5 3l9-7 3-11-9 7zm6 3l8-6 4-11-9 7zm5 5l9-6 3-11-9 6zm6 6l8-5 4-12-9 5z"/><path fill="#e57414" d="M856 1122l9-7 3-10-9 6zm5 4l9-6 3-11-8 6zm6 5l9-5 3-11-9 5z"/><path fill="#df6c14" d="M850 1118l9-7 3-10-8 7zm20 2l9-5 3-11-9 5z"/><path fill="#d96314" d="M859 1111l9-6 3-11-9 7zm6 4l8-6 4-10-9 6z"/><path fill="#d35b14" d="M868 1105l9-6 3-11-9 6zm5 4l9-5 3-11-8 6z"/><path fill="#d25a14" d="M877 1099l8-6 4-11-9 6z"/><path fill="#290f78" d="M658 1461l7 5 4-7-8-4zm7 5l8 3 3-7-7-3z"/><path fill="#270f84" d="M684 1463l8-2 3-8-8 2z"/><path fill="#290f78" d="M673 1469l8 1 3-7-8-1z"/><path fill="#270f84" d="M647 1460l7 6 4-5-8-6z"/><path fill="#290f78" d="M654 1466l8 5 3-5-7-5zm8 5l8 3 3-5-8-3zm19-1l8-2 3-7-8 2z"/><path fill="#210f97" d="M692 1461l8-3 3-8-8 3z"/><path fill="#290f78" d="M670 1474l8 1 3-5-8-1z"/><path fill="#270f84" d="M643 1464l8 6 3-4-7-6zm-8-7l8 7 4-4-8-7z"/><path fill="#290f78" d="M651 1470l8 5 3-4-8-5zm8 5l7 3 4-4-8-3zm19 0l8-1 3-6-8 2z"/><path fill="#270f84" d="M689 1468l8-3 3-7-8 3z"/><path fill="#2b0f6d" d="M666 1478l8 1 4-4-8-1z"/><path fill="#1b0fa9" d="M700 1458l8-6 4-8-9 6z"/><path fill="#270f84" d="M640 1467l8 5 3-2-8-6zm-8-7l8 7 3-3-8-7zm54 14l8-4 3-5-8 3z"/><path fill="#290f78" d="M648 1472l7 5 4-2-8-5z"/><path fill="#210f97" d="M624 1453l8 7 3-3-7-7z"/><path fill="#290f78" d="M674 1479l8-1 4-4-8 1z"/><path fill="#210f97" d="M697 1465l8-6 3-7-8 6z"/><path fill="#290f78" d="M655 1477l8 3 3-2-7-3zm8 3l8 1 3-2-8-1zm19-2l8-3 4-5-8 4z"/><path fill="#210f97" d="M694 1470l8-5 3-6-8 6zm-65-8l8 6 3-1-8-7z"/><path fill="#270f84" d="M637 1468l7 5 4-1-8-5z"/><path fill="#1b0fa9" d="M621 1455l8 7 3-2-8-7z"/><path fill="#290f78" d="M671 1481l8-1 3-2-8 1zm-27-8l8 5 3-1-7-5z"/><path fill="#150fbc" d="M705 1459l8-6 4-8-9 7z"/><path fill="#290f78" d="M652 1478l8 3 3-1-8-3zm8 3l8 1 3-1-8-1z"/><path fill="#270f84" d="M690 1475l9-5 3-5-8 5z"/><path fill="#290f78" d="M679 1480l8-3 3-2-8 3z"/><path fill="#1b0fa9" d="M702 1465l8-6 3-6-8 6z"/><path fill="#210f97" d="M625 1462l8 6 4 0-8-6z"/><path fill="#1b0fa9" d="M618 1456l7 6 4 0-8-7z"/><path fill="#290f78" d="M668 1482l8-1 3-1-8 1z"/><path fill="#270f84" d="M633 1468l8 5 3 0-7-5zm8 5l8 4 3 1-8-5zm8 4l8 3 3 1-8-3zm38 0l8-4 4-3-9 5z"/><path fill="#1b0fa9" d="M699 1470l8-6 3-5-8 6z"/><path fill="#270f84" d="M676 1481l8-2 3-2-8 3z"/><path fill="#290f78" d="M657 1480l8 1 3 1-8-1z"/><path fill="#150fbc" d="M710 1459l8-7 4-7-9 8z"/><path fill="#1b0fa9" d="M614 1456l8 6 3 0-7-6zm8 6l8 5 3 1-8-6z"/><path fill="#270f84" d="M665 1481l8 0 3 0-8 1z"/><path fill="#210f97" d="M630 1467l8 5 3 1-8-5z"/><path fill="#1b0fa9" d="M695 1473l9-6 3-3-8 6z"/><path fill="#210f97" d="M638 1472l8 4 3 1-8-4zm46 7l8-4 3-2-8 4z"/><path fill="#150fbc" d="M707 1464l8-7 3-5-8 7z"/><path fill="#270f84" d="M646 1476l7 2 4 2-8-3zm27 5l8-3 3 1-8 2zm-20-3l8 2 4 1-8-1z"/><path fill="#1b0fa9" d="M692 1475l8-5 4-3-9 6z"/><path fill="#150fbc" d="M704 1467l8-6 3-4-8 7zm-93-11l8 5 3 1-8-6z"/><path fill="#1b0fa9" d="M619 1461l7 5 4 1-8-5z"/><path fill="#210f97" d="M661 1480l8-1 4 2-8 0z"/><path fill="#110fd3" d="M715 1457l8-7 4-6-9 8z"/><path fill="#1b0fa9" d="M626 1466l8 4 4 2-8-5z"/><path fill="#210f97" d="M681 1478l8-3 3 0-8 4z"/><path fill="#1b0fa9" d="M634 1470l8 3 4 3-8-4z"/><path fill="#210f97" d="M642 1473l8 3 3 2-7-2zm27 6l9-2 3 1-8 3z"/><path fill="#150fbc" d="M700 1470l9-6 3-3-8 6z"/><path fill="#130fc8" d="M712 1461l8-7 3-4-8 7z"/><path fill="#210f97" d="M650 1476l8 1 3 3-8-2z"/><path fill="#1b0fa9" d="M689 1475l8-4 3-1-8 5z"/><path fill="#130fc8" d="M607 1456l8 4 4 1-8-5z"/><path fill="#150fbc" d="M615 1460l8 4 3 2-7-5z"/><path fill="#1b0fa9" d="M678 1477l8-3 3 1-8 3z"/><path fill="#210f97" d="M658 1477l8 0 3 2-8 1z"/><path fill="#150fbc" d="M623 1464l8 4 3 2-8-4zm8 4l8 3 3 2-8-3z"/><path fill="#130fc8" d="M709 1464l8-6 3-4-8 7z"/><path fill="#150fbc" d="M697 1471l9-5 3-2-9 6z"/><path fill="#1b0fa9" d="M639 1471l8 2 3 3-8-3zm27 6l8-2 4 2-9 2z"/><path fill="#150fbc" d="M686 1474l8-3 3 0-8 4z"/><path fill="#1b0fa9" d="M647 1473l8 1 3 3-8-1z"/><path fill="#110fd3" d="M604 1455l8 4 3 1-8-4z"/><path fill="#130fc8" d="M612 1459l8 3 3 2-8-4z"/><path fill="#150fbc" d="M674 1475l9-2 3 1-8 3z"/><path fill="#130fc8" d="M706 1466l8-6 3-2-8 6z"/><path fill="#0f0fde" d="M717 1458l9-6 3-4-9 6z"/><path fill="#150fbc" d="M655 1474l8 0 3 3-8 0z"/><path fill="#130fc8" d="M620 1462l8 3 3 3-8-4zm74 9l8-5 4 0-9 5zm-66-6l8 3 3 3-8-3z"/><path fill="#150fbc" d="M663 1474l8-1 3 2-8 2zm-27-6l8 2 3 3-8-2zm47 5l8-3 3 1-8 3z"/><path fill="#110fd3" d="M600 1455l8 3 4 1-8-4z"/><path fill="#0f0fde" d="M714 1460l8-5 4-3-9 6z"/><path fill="#150fbc" d="M644 1470l8 1 3 3-8-1z"/><path fill="#110fd3" d="M702 1466l9-4 3-2-8 6zm-94-8l8 3 4 1-8-3z"/><path fill="#150fbc" d="M671 1473l8-2 4 2-9 2z"/><path fill="#110fd3" d="M616 1461l8 2 4 2-8-3z"/><path fill="#130fc8" d="M691 1470l8-3 3-1-8 5zm-39 1l8 1 3 2-8 0z"/><path fill="#110fd3" d="M624 1463l8 3 4 2-8-3z"/><path fill="#130fc8" d="M679 1471l9-2 3 1-8 3z"/><path fill="#0f0fde" d="M711 1462l8-4 3-3-8 5z"/><path fill="#130fc8" d="M660 1472l8-1 3 2-8 1zm-28-6l8 1 4 3-8-2z"/><path fill="#0f0fde" d="M597 1454l8 3 3 1-8-3z"/><path fill="#110fd3" d="M699 1467l9-4 3-1-9 4z"/><path fill="#0f0fde" d="M605 1457l8 2 3 2-8-3z"/><path fill="#130fc8" d="M640 1467l8 2 4 2-8-1zm28 4l8-2 3 2-8 2z"/><path fill="#110fd3" d="M688 1469l8-3 3 1-8 3z"/><path fill="#0f0fde" d="M613 1459l8 3 3 1-8-2z"/><path fill="#0f0fe2" d="M719 1458l9-4 3-4-9 5z"/><path fill="#110fd3" d="M648 1469l8 0 4 3-8-1z"/><path fill="#0f0fde" d="M708 1463l8-3 3-2-8 4zm-87-1l8 1 3 3-8-3z"/><path fill="#110fd3" d="M676 1469l8-1 4 1-9 2z"/><path fill="#0f0fde" d="M696 1466l8-2 4-1-9 4z"/><path fill="#110fd3" d="M656 1469l9 0 3 2-8 1zm-27-6l8 2 3 2-8-1z"/><path fill="#0f0fe2" d="M601 1456l8 2 4 1-8-2zm115 4l8-4 4-2-9 4z"/><path fill="#0f0fde" d="M637 1465l8 1 3 3-8-2zm47 3l9-2 3 0-8 3z"/><path fill="#110fd3" d="M665 1469l8-1 3 1-8 2z"/><path fill="#0f0fde" d="M609 1458l8 2 4 2-8-3z"/><path fill="#0f0fe2" d="M704 1464l9-3 3-1-8 3z"/><path fill="#0f0fde" d="M645 1466l8 1 3 2-8 0zm-28-6l8 2 4 1-8-1zm56 8l8-1 3 1-8 1zm20-2l8-2 3 0-8 2zm-68-4l8 1 4 2-8-2zm28 5l8 0 4 2-9 0z"/><path fill="#0f0fe2" d="M713 1461l8-2 3-3-8 4zm-116-5l8 2 4 0-8-2z"/><path fill="#0f0fde" d="M681 1467l9-1 3 0-9 2zm-48-4l9 1 3 2-8-1z"/><path fill="#0f0fe2" d="M701 1464l9-1 3-2-9 3zm-96-6l9 1 3 1-8-2z"/><path fill="#0f0fde" d="M661 1467l9-1 3 2-8 1z"/><path fill="#0f0fe2" d="M642 1464l8 1 3 2-8-1zm-28-5l8 2 3 1-8-2zm76 7l8-1 3-1-8 2zm-20 0l8 0 3 1-8 1z"/><path fill="#0f0fe3" d="M710 1463l8-1 3-3-8 2z"/><path fill="#0f0fe2" d="M622 1461l8 1 3 1-8-1zm28 4l8 0 3 2-8 0zm48 0l8 0 4-2-9 1zm-20 1l8 0 4 0-9 1z"/><path fill="#0f0fe3" d="M602 1458l8 1 4 0-9-1zm116 4l8-2 4-3-9 2z"/><path fill="#0f0fe2" d="M630 1462l8 1 4 1-9-1zm28 3l8 1 4 0-9 1z"/><path fill="#0f0fe3" d="M610 1459l8 2 4 0-8-2zm96 6l9-1 3-2-8 1z"/><path fill="#0f0fe2" d="M638 1463l8 1 4 1-8-1zm48 3l9 0 3-1-8 1zm-20 0l9 0 3 0-8 0z"/><path fill="#0f0fe3" d="M618 1461l8 1 4 0-8-1zm28 3l9 1 3 0-8 0zm49 2l8 0 3-1-8 0zm20-2l8-1 3-3-8 2zm-117-5l8 1 4-1-8-1zm77 7l8 0 3 0-8 0zm-49-4l9 1 3 0-8-1zm29 3l8 0 3 1-8-1zm48 1l8 1 4-3-9 1zm-97-6l9 1 3 0-8-2zm77 6l8 1 4-1-9 0zm-48-3l8 1 3 0-8-1zm28 2l8 1 4 0-9 0zm48 2l9 0 3-4-8 1z"/><path fill="#0f0fe4" d="M615 1461l8 2 3-1-8-1z"/><path fill="#0f0fe3" d="M691 1467l9 1 3-2-8 0zm-48-3l8 1 4 0-9-1zm28 2l9 1 3-1-8 0z"/><path fill="#0f0fe4" d="M623 1463l8 1 4-1-9-1zm97 4l8 0 4-4-9 0z"/><path fill="#0f0fe3" d="M700 1468l8 1 3-2-8-1zm-49-3l8 1 4-1-8 0z"/><path fill="#0f0fe4" d="M603 1462l8 1 4-2-9-1z"/><path fill="#0f0fe3" d="M680 1467l8 1 3-1-8-1z"/><path fill="#0f0fe4" d="M631 1464l8 1 4-1-8-1z"/><path fill="#0f0fe3" d="M708 1469l9 1 3-3-9 0z"/><path fill="#0f0fe4" d="M659 1466l9 1 3-1-8-1zm-48-3l8 1 4-1-8-2z"/><path fill="#0f0fe3" d="M688 1468l8 2 4-2-9-1z"/><path fill="#0f0fe4" d="M639 1465l9 1 3-1-8-1zm78 5l8 1 3-4-8 0zm-49-3l8 2 4-2-9-1z"/><path fill="#0f0fe3" d="M696 1470l9 2 3-3-8-1z"/><path fill="#0f0fe4" d="M619 1464l8 1 4-1-8-1zm-20 0l8 1 4-2-8-1zm49 2l8 1 3-1-8-1zm28 3l9 2 3-3-8-1zm29 3l8 2 4-4-9-1zm-78-7l9 2 3-2-8-1zm29 2l8 2 4-2-9-1zm-49-2l9 1 3-2-8-1zm78 6l8 2 3-3-8-2zm28 3l9 1 3-4-8-1zm-77-7l8 1 4-2-9-1zm57 6l8 3 4-4-9-2zm-29-4l9 2 3-2-8-2zm-48-3l8 1 3-2-8-1zm28 2l8 1 4-2-8-1zm57 8l9 2 3-4-8-2zm-28-5l8 3 4-3-9-2zm-49-4l8 2 4-2-9-2zm57 7l9 2 3-3-8-2zm-29-5l9 3 3-3-8-2z"/><path fill="#0f0fe6" d="M604 1467l8 1 4-2-9-1z"/><path fill="#0f0fe4" d="M632 1469l9 1 3-2-8-1zm58 7l8 3 3-3-8-3zm-29-4l8 2 4-3-9-2z"/><path fill="#0f0fe6" d="M612 1468l8 2 4-3-8-1z"/><path fill="#0f0fe4" d="M698 1479l9 3 3-4-9-2zm-57-9l8 2 3-3-8-1zm28 4l9 3 3-3-8-3z"/><path fill="#0f0fe6" d="M620 1470l9 2 3-3-8-2z"/><path fill="#0f0fe4" d="M678 1477l8 3 4-4-9-2zm-29-5l8 3 4-3-9-3zm37 8l9 4 3-5-8-3z"/><path fill="#0f0fe6" d="M629 1472l8 1 4-3-9-1z"/><path fill="#0f0fe4" d="M657 1475l9 3 3-4-8-2z"/><path fill="#0f0fe6" d="M608 1471l8 2 4-3-8-2z"/><path fill="#0f0fe3" d="M695 1484l8 3 4-5-9-3z"/><path fill="#0f0fe4" d="M666 1478l8 3 4-4-9-3z"/><path fill="#0f0fe6" d="M637 1473l8 2 4-3-8-2zm-21 0l9 2 4-3-9-2z"/><path fill="#0f0fe4" d="M674 1481l9 4 3-5-8-3z"/><path fill="#0f0fe6" d="M645 1475l9 3 3-3-8-3z"/><path fill="#0f0fe4" d="M683 1485l8 3 4-4-9-4z"/><path fill="#0f0fe6" d="M625 1475l8 2 4-4-8-1z"/><path fill="#0f0fe4" d="M654 1478l8 3 4-3-9-3zm8 3l9 4 3-4-8-3z"/><path fill="#0f0fe6" d="M633 1477l9 2 3-4-8-2z"/><path fill="#0f0fe4" d="M671 1485l8 4 4-4-9-4z"/><path fill="#0f0fe6" d="M642 1479l8 3 4-4-9-3zm-21-1l9 2 3-3-8-2z"/><path fill="#0f0fe4" d="M650 1482l9 3 3-4-8-3zm9 3l8 4 4-4-9-4z"/><path fill="#0f0fe6" d="M630 1480l8 3 4-4-9-2zm8 3l9 3 3-4-8-3z"/><path fill="#0f0fe4" d="M647 1486l8 4 4-5-9-3z"/></g>
<g><line x1="131.1" y1="765.6" x2="115" y2="564" stroke="#303030" stroke-width="1.2"/><line x1="131.1" y1="765.6" x2="351" y2="818.6" stroke="#303030" stroke-width="1.2"/><line x1="351" y1="818.6" x2="431.9" y2="716.1" stroke="#303030" stroke-width="1.2"/><line x1="431.9" y1="716.1" x2="445.2" y2="527.5" stroke="#303030" stroke-width="1.2"/><line x1="131.1" y1="765.6" x2="124.1" y2="771.3" stroke="#303030" stroke-width="1.2"/><line x1="128.1" y1="728.3" x2="120.9" y2="733.7" stroke="#303030" stroke-width="1.2"/><line x1="125" y1="689.6" x2="117.7" y2="694.7" stroke="#303030" stroke-width="1.2"/><line x1="121.8" y1="649.4" x2="114.3" y2="654.2" stroke="#303030" stroke-width="1.2"/><line x1="118.5" y1="607.5" x2="110.7" y2="612" stroke="#303030" stroke-width="1.2"/><line x1="115" y1="564" x2="107.1" y2="568" stroke="#303030" stroke-width="1.2"/><line x1="150.9" y1="770.4" x2="145" y2="775.3" stroke="#303030" stroke-width="1.2"/><line x1="186.8" y1="779" x2="181.1" y2="784.1" stroke="#303030" stroke-width="1.2"/><line x1="223.8" y1="788" x2="218.4" y2="793.2" stroke="#303030" stroke-width="1.2"/><line x1="262.1" y1="797.2" x2="256.9" y2="802.6" stroke="#303030" stroke-width="1.2"/><line x1="301.6" y1="806.7" x2="296.7" y2="812.3" stroke="#303030" stroke-width="1.2"/><line x1="342.5" y1="816.5" x2="337.9" y2="822.3" stroke="#303030" stroke-width="1.2"/><line x1="361.1" y1="805.8" x2="369" y2="807.6" stroke="#303030" stroke-width="1.2"/><line x1="380.7" y1="780.9" x2="388.3" y2="782.6" stroke="#303030" stroke-width="1.2"/><line x1="398.8" y1="758" x2="406.2" y2="759.6" stroke="#303030" stroke-width="1.2"/><line x1="415.5" y1="736.8" x2="422.7" y2="738.3" stroke="#303030" stroke-width="1.2"/><line x1="431.1" y1="717.1" x2="438" y2="718.5" stroke="#303030" stroke-width="1.2"/></g>
<g><line x1="144.4" y1="1246.6" x2="130" y2="1048" stroke="#c8c8c8" stroke-width="1"/><line x1="170.3" y1="1225.8" x2="159" y2="1033.2" stroke="#c8c8c8" stroke-width="1"/><line x1="194.4" y1="1206.4" x2="185.7" y2="1019.5" stroke="#c8c8c8" stroke-width="1"/><line x1="216.8" y1="1188.4" x2="210.4" y2="1006.8" stroke="#c8c8c8" stroke-width="1"/><line x1="237.8" y1="1171.5" x2="233.4" y2="995.1" stroke="#c8c8c8" stroke-width="1"/><line x1="128.1" y1="1220" x2="238.1" y2="1137.6" stroke="#c8c8c8" stroke-width="1"/><line x1="125" y1="1181.3" x2="237.3" y2="1103.6" stroke="#c8c8c8" stroke-width="1"/><line x1="121.8" y1="1141.1" x2="236.4" y2="1068.4" stroke="#c8c8c8" stroke-width="1"/><line x1="118.5" y1="1099.2" x2="235.5" y2="1032.1" stroke="#c8c8c8" stroke-width="1"/><line x1="256.5" y1="1174" x2="253.7" y2="996.7" stroke="#c8c8c8" stroke-width="1"/><line x1="288.3" y1="1180.2" x2="288.3" y2="1000.8" stroke="#c8c8c8" stroke-width="1"/><line x1="321" y1="1186.4" x2="323.8" y2="1005" stroke="#c8c8c8" stroke-width="1"/><line x1="354.6" y1="1192.9" x2="360.5" y2="1009.3" stroke="#c8c8c8" stroke-width="1"/><line x1="389.1" y1="1199.6" x2="398.2" y2="1013.7" stroke="#c8c8c8" stroke-width="1"/><line x1="424.6" y1="1206.4" x2="437.2" y2="1018.3" stroke="#c8c8c8" stroke-width="1"/><line x1="238.1" y1="1137.6" x2="434.4" y2="1172.7" stroke="#c8c8c8" stroke-width="1"/><line x1="237.3" y1="1103.6" x2="436.9" y2="1136.4" stroke="#c8c8c8" stroke-width="1"/><line x1="236.4" y1="1068.4" x2="439.6" y2="1098.7" stroke="#c8c8c8" stroke-width="1"/><line x1="235.5" y1="1032.1" x2="442.3" y2="1059.7" stroke="#c8c8c8" stroke-width="1"/><line x1="150.9" y1="1262.1" x2="256.5" y2="1174" stroke="#c8c8c8" stroke-width="1"/><line x1="186.8" y1="1270.7" x2="288.3" y2="1180.2" stroke="#c8c8c8" stroke-width="1"/><line x1="223.8" y1="1279.7" x2="321" y2="1186.4" stroke="#c8c8c8" stroke-width="1"/><line x1="262.1" y1="1288.9" x2="354.6" y2="1192.9" stroke="#c8c8c8" stroke-width="1"/><line x1="301.6" y1="1298.4" x2="389.1" y2="1199.6" stroke="#c8c8c8" stroke-width="1"/><line x1="342.5" y1="1308.2" x2="424.6" y2="1206.4" stroke="#c8c8c8" stroke-width="1"/><line x1="144.4" y1="1246.6" x2="361.1" y2="1297.5" stroke="#c8c8c8" stroke-width="1"/><line x1="170.3" y1="1225.8" x2="380.7" y2="1272.6" stroke="#c8c8c8" stroke-width="1"/><line x1="194.4" y1="1206.4" x2="398.8" y2="1249.7" stroke="#c8c8c8" stroke-width="1"/><line x1="216.8" y1="1188.4" x2="415.5" y2="1228.5" stroke="#c8c8c8" stroke-width="1"/><line x1="237.8" y1="1171.5" x2="431.1" y2="1208.8" stroke="#c8c8c8" stroke-width="1"/></g>
<g><line x1="131.1" y1="1257.3" x2="238.9" y2="1170.6" stroke="#303030" stroke-width="1.2"/><line x1="238.9" y1="1170.6" x2="431.9" y2="1207.8" stroke="#303030" stroke-width="1.2"/><line x1="238.9" y1="1170.6" x2="234.6" y2="994.5" stroke="#303030" stroke-width="1.2"/><line x1="115" y1="1055.7" x2="234.6" y2="994.5" stroke="#303030" stroke-width="1.2"/><line x1="234.6" y1="994.5" x2="445.2" y2="1019.2" stroke="#303030" stroke-width="1.2"/></g>
<g transform="scale(0.5)" stroke="#000" stroke-width="1.7" stroke-linejoin="round"><path fill="#180c9d" d="M574 2323l7 4 3-3-6-5zm4-4l6 5 4-4-7-5zm3 8l7 2 3-3-7-2zm3-3l7 2 4-3-7-3zm4-4l7 3 3-4-7-2zm3 6l7 1 3-3-6-1zm4-3l6 1 4-4-7-1zm3 4l7 1 3-3-7-1zm3-3l7 1 4-3-7-2zm4 4l7 1 3-3-7-1zm3-3l7 1 3-3-6-1zm4 4l7 1 3-3-7-1zm3-3l7 1 3-3-7-1zm4 4l7 1 3-2-7-2zm3-3l7 2 3-3-7-2zm4 4l7 2 3-3-7-1zm3-2l7 1 3-3-7-1zm4 4l7 1 3-3-7-1zm3-3l7 1 3-3-7-1zm4 4l7-1 4-2-8 0zm3-3l8 0 2-3-7 0z"/><path fill="#160dac" d="M564 2319l7 7 3-3-6-7zm4-3l6 7 4-4-7-7zm3-4l7 7 3-4-7-7zm10 3l7 5 3-3-7-6zm63 21l8-2 3-3-8 2zm3-3l8-2 3-2-7 2zm4-2l7-2 3-2-8 1zm1 3l7-3 3-2-7 2zm3-3l7-2 3-3-7 3z"/><path fill="#140eba" d="M551 2318l7 7 3-3-7-7zm3-3l7 7 3-3-7-8zm3-4l7 8 4-3-7-8zm4-3l7 8 3-4-7-8zm13 0l7 7 3-4-7-7zm75 28l7-3 3-2-7 3zm4-1l7-3 3-2-7 3z"/><path fill="#120ec9" d="M537 2316l7 7 4-2-7-8zm4-3l7 8 3-3-7-8zm3-3l7 8 3-3-7-8zm3-3l7 8 3-4-7-7zm3-3l7 7 4-3-7-8zm14 0l7 8 3-4-7-8zm3-4l7 8 3-4-7-8zm83 37l7-3 3-2-7 3z"/><path fill="#100fd8" d="M520 2319l7 6 3-3-7-6zm3-3l7 6 4-3-7-6zm4-3l7 6 3-3-7-6zm3-3l7 6 4-3-7-6zm4-3l7 6 3-3-7-6zm3-3l7 6 3-3-7-7zm3-4l7 7 3-3-7-7zm14 0l7 8 3-4-7-8zm3-4l7 8 3-4-7-8zm3-4l7 8 3-4-7-9zm94 45l7-4 3-3-7 4z"/><path fill="#0f0fdd" d="M499 2321l7 5 4-1-8-5zm3-1l8 5 3-1-7-6zm4-2l7 6 4-2-7-6zm4-2l7 6 3-3-7-5zm3-2l7 5 3-3-7-6zm3-4l7 6 4-3-7-6zm4-3l7 6 3-3-7-6zm3-3l7 6 4-3-7-6zm4-3l7 6 3-3-7-7zm3-4l7 7 3-4-7-6zm3-3l7 6 3-3-6-7zm10 3l7 7 4-4-7-7zm4-4l7 7 3-4-7-7zm3-4l7 7 3-4-7-8zm3-5l7 8 3-5-7-8zm143 253l8 8 4-14-8-8z"/><path fill="#0f10dd" d="M488 2310l7 5 4-2-7-5zm4-2l7 5 3-2-7-6zm3-3l7 6 4-3-7-6zm4-3l7 6 3-3-7-6zm-11 15l7 5 4-1-7-5zm4-1l7 5 3-1-7-5zm3-1l7 5 4-2-7-5zm4-2l7 5 4-2-8-5zm3-2l8 5 3-2-7-6zm4-3l7 6 3-4-7-5zm3-3l7 5 4-3-7-6zm4-4l7 6 3-3-7-6zm3-3l7 6 4-3-7-6zm4-3l7 6 3-4-7-6zm3-4l7 6 3-3-7-7zm3-4l7 7 4-4-7-6zm-34 35l7 5 3 0-7-5zm3 0l7 5 4-1-7-5zm42-32l6 7 4-4-7-7zm3-4l7 7 3-4-7-7zm3-4l7 7 3-5-7-7zm151 27l8-5 2-2-7 5zm-7 220l9 8 4-14-9-7zm13-6l8 8 4-14-9-7z"/><path fill="#0f10de" d="M478 2306l7 5 3-1-7-6zm3-2l7 6 4-2-7-6zm4-2l7 6 3-3-7-6zm3-3l7 6 4-3-7-6zm4-3l7 6 3-3-7-6zm3-3l7 6 4-4-7-6zm-18 20l8 5 3-1-7-5zm4-1l7 5 4-1-7-5zm4-1l7 5 3-1-7-5zm17-12l7 6 4-4-7-6zm4-4l7 6 3-3-7-6zm3-3l7 6 4-3-7-7zm4-4l7 7 3-4-7-6zm3-3l7 6 3-4-7-6zm3-4l7 6 4-3-7-7zm-38 37l7 5 4-1-7-4zm4 0l7 4 3 0-7-5zm45-34l7 6 3-4-7-7zm3-5l7 7 3-4-7-7zm3-4l7 7 3-5-6-7zm-52 47l8 4 3 1-7-4zm4 1l7 4 4 0-7-5zm58-46l7 7 3-5-6-7zm123 238l9 7 4-13-9-7zm9 7l9 7 4-13-9-7zm13-6l9 7 3-13-8-7z"/><path fill="#0f11df" d="M467 2302l7 5 4-1-7-5zm4-1l7 5 3-2-7-5zm3-2l7 5 4-2-7-6zm4-3l7 6 3-3-7-5zm3-2l7 5 4-3-7-6zm4-4l7 6 3-3-7-6zm3-3l7 6 4-4-7-6zm4-4l7 6 3-3-7-6zm-25 27l7 4 3-1-7-4zm3-1l7 4 4-1-7-5zm4-2l7 5 4-1-7-5zm25-18l7 6 3-3-7-6zm3-3l7 6 4-4-7-6zm4-4l7 6 3-3-7-7zm3-4l7 7 3-4-7-7zm3-4l7 7 4-4-7-7zm-42 40l7 4 4 0-7-4zm4 0l7 4 4 0-8-5zm49-37l7 7 3-5-7-7zm3-5l7 7 3-4-7-8zm3-5l7 8 4-5-7-8zm-55 51l7 4 3 0-7-4zm3 0l7 4 4 1-7-5zm63-48l6 7 4-5-7-8zm-63 51l7 3 4 1-7-3zm4 1l7 3 4 1-8-4zm212-11l7-4 3-3-7 5zm3-2l7-5 3-2-7 4zm3-3l7-4 3-2-7 4zm-38 202l8 7 4-13-9-6zm21 1l9 7 4-13-9-6zm13-6l8 7 4-12-9-6zm8 7l9 7 4-13-9-6z"/><path fill="#0f11e0" d="M452 2300l8 5 3-1-7-5zm4-1l7 5 4-2-7-5zm4-2l7 5 4-1-7-6zm4-2l7 6 3-2-7-6zm3-2l7 6 4-3-7-5zm4-2l7 5 3-2-7-6zm3-3l7 6 4-4-7-6zm4-4l7 6 3-3-7-6zm3-3l7 6 4-4-7-6zm4-4l7 6 3-3-7-7zm-29 29l7 4 4 0-7-5zm4-1l7 5 3-1-7-5zm3-1l7 5 4-2-7-5zm32-24l7 6 4-4-7-6zm4-4l7 6 3-4-7-6zm3-4l7 6 3-4-6-7zm4-5l6 7 4-4-7-8zm-51 44l8 4 3 0-7-4zm4 0l7 4 4-1-7-4zm4-1l7 4 4 0-7-4zm53-40l7 7 3-5-7-7zm3-5l7 7 3-5-7-7zm-56 50l7 3 4 0-8-3zm3 0l8 3 3 0-7-4zm67-53l7 8 3-6-7-8zm-67 56l7 3 4 0-7-3zm4 0l7 3 4 1-7-4zm3 3l7 2 4 1-7-3zm4 2l7 2 4 1-8-3zm3 0l8 3 3 2-7-4zm-40 63l8 3 4-6-8-3zm8 3l8 1 4-5-8-2zm4-6l8 2 4-6-8-1zm4 7l7 2 4-6-7-1zm7 2l8 1 4-6-8-1zm8 1l8 1 4-6-8-1zm8 1l7 1 4-6-7-1zm7 1l8 1 4-6-8-1zm208-84l8-5 3-2-8 5zm3-2l8-5 3-2-8 5zm-16 26l7-4 3-4-7 4zm3-4l7-4 3-5-7 5zm-32 170l9 7 3-12-8-6zm12-5l9 6 4-11-9-6zm9 6l9 7 4-12-9-6zm13-5l9 6 3-11-8-6zm21 1l9 6 4-11-9-6z"/><path fill="#0f11e1" d="M449 2284l7 6 4-3-7-5zm4-2l7 5 4-2-7-6zm4-3l7 6 3-3-7-6zm-15 18l7 5 3-2-7-4zm3-1l7 4 4-1-7-5zm4-2l7 5 4-2-7-5zm4-2l7 5 4-2-8-5zm3-2l8 5 3-2-7-6zm4-3l7 6 4-2-7-6zm4-2l7 6 3-3-7-6zm3-3l7 6 4-4-7-6zm4-4l7 6 3-3-7-6zm3-3l7 6 4-4-7-6zm4-4l7 6 3-4-7-6zm-37 33l7 4 4-1-7-4zm4-1l7 4 4-1-7-4zm4-1l7 4 4-1-8-5zm39-29l7 7 4-4-7-7zm4-4l7 7 3-4-7-7zm3-4l7 7 4-5-7-7zm-51 44l8 3 3-1-7-3zm4-1l7 3 4 0-7-4zm4-1l7 4 4-1-7-4zm57-45l7 8 3-5-7-8zm3-5l7 8 3-5-6-8zm-64 55l7 3 4 0-7-3zm4 0l7 3 4 0-8-4zm70-52l7 7 4-5-7-8zm4-6l7 8 3-6-7-8zm-71 61l7 3 4 0-7-3zm4 0l7 3 4 0-7-3zm-1 3l8 2 3 0-7-2zm4 0l7 2 4 1-7-3zm4 2l7 2 4 1-8-3zm3 0l8 3 3 0-7-2zm-63 56l7 4 4-6-7-4zm67-54l7 3 4 0-7-2zm-60 58l8 4 4-6-8-4zm4-6l8 4 4-5-8-4zm59-50l8 3 3 0-7-2zm4 1l7 2 4 1-7-3zm-59 59l8 4 4-6-8-4zm4-6l8 4 4-5-8-4zm4-5l8 4 4-5-8-4zm4-5l8 4 4-5-8-3zm0 14l7 4 4-6-7-3zm4-5l7 3 4-5-7-3zm4-5l7 3 4-4-7-4zm4-5l7 4 4-5-7-3zm4-4l7 3 4-4-7-3zm-5 17l8 3 4-5-8-3zm4-5l8 3 4-5-8-2zm4-4l8 2 4-4-8-3zm4-5l8 3 4-5-8-2zm4-4l8 2 4-5-8-1zm-4 16l8 1 3-5-7-1zm4-5l7 1 4-4-7-1zm4-4l7 1 4-5-7-1zm-4 16l7 1 4-6-7-1zm4-6l7 1 4-5-8-1zm3-5l8 1 4-5-8 0zm4-4l8 0 4-5-8 0zm-4 16l8 1 4-6-8-1zm4-6l8 1 4-5-8-1zm4-5l8 1 4-5-8-1zm0 12l8 1 3-6-7-1zm4-6l7 1 4-5-7-1zm4-5l7 1 4-6-7 0zm0 12l7 1 4-6-8-1zm3-6l8 1 4-5-8-1zm4 7l8 1 4-6-8-1zm4-6l8 1 4-5-8-1zm0 13l8 1 4-6-8-1zm4-6l8 1 4-6-8-1zm4-6l8 1 3-5-7-1zm0 13l8 1 4-6-8-1zm4-6l8 1 3-5-7-2zm4-6l7 2 4-6-8-1zm0 13l8 1 3-6-7-1zm4-6l7 1 4-5-8-1zm3-5l8 1 4-6-8-1zm1 12l7 0 4-5-8-1zm3-6l8 1 4-6-8 0zm4 6l8 1 4-6-8 0zm4-5l8 0 4-6-8 0zm4 6l8 0 4-6-8 0zm4 5l8 0 4-5-8 0zm156-88l8-5 3-4-8 5zm3-4l8-5 3-4-8 5zm3-4l8-5 3-3-8 5zm-14 25l8-4 3-4-8 5zm3-3l8-5 3-4-8 5zm6-9l8-5 3-6-7 5zm-60 166l9 7 4-11-9-6zm9 7l9 6 4-11-9-6zm13-5l8 6 4-11-8-6zm12-5l9 6 4-11-9-5zm9 6l9 6 4-11-9-6zm13-5l8 6 4-11-9-5zm8 6l9 6 4-11-9-6zm13-5l9 6 3-11-8-5z"/><path fill="#0f12e2" d="M431 2285l7 6 4-2-7-6zm4-2l7 6 4-3-7-5zm4-2l7 5 3-2-7-6zm3-3l7 6 4-2-7-6zm4-2l7 6 4-3-7-6zm4-3l7 6 3-3-7-6zm3-3l7 6 4-4-7-6zm-26 26l7 4 4-1-7-5zm4-2l7 5 4-2-8-5zm3-2l8 5 3-1-7-5zm4-1l7 5 4-2-7-5zm4-2l7 5 4-2-7-6zm4-3l7 6 3-2-7-6zm14-10l7 6 4-4-7-6zm4-4l7 6 3-3-7-7zm3-4l7 7 4-4-7-7zm4-4l7 7 3-4-7-7zm-45 39l7 3 4-1-7-4zm4-2l7 4 4-1-7-4zm4-1l7 4 4-1-7-4zm4-1l7 4 4-1-7-5zm43-32l7 6 4-4-7-7zm4-5l7 7 3-4-7-7zm3-4l7 7 4-5-7-8zm-58 49l7 3 4 0-8-4zm3-1l8 4 3-1-7-4zm4-1l7 4 4-1-7-4zm62-45l7 7 3-5-7-7zm3-5l7 7 3-5-7-8zm-69 57l7 2 4-1-7-3zm4-2l7 3 4-1-7-2zm4 0l7 2 4 0-8-3zm75-58l6 8 4-6-7-8zm-76 62l7 3 4-1-7-3zm4-1l7 3 4-1-7-3zm-61 51l8 4 4-5-8-3zm60-46l8 2 3-1-7-2zm4-1l7 2 4-1-7-2zm4-1l7 2 4 0-7-3zm-60 52l7 4 4-5-7-4zm4-5l7 4 4-5-7-3zm56-43l7 1 4 0-8-2zm3-1l8 2 4-1-8-2zm-56 53l8 4 4-6-8-3zm4-5l8 3 4-5-8-3zm4-5l8 3 4-4-8-3zm4-4l8 3 4-4-8-3zm4-4l8 3 4-4-7-2zm44-33l7 2 4-1-7-1zm4 0l7 1 4 0-7-2zm-52 49l7 4 4-5-7-4zm4-5l7 4 5-5-8-3zm4-4l8 3 4-4-8-3zm4-4l8 3 4-4-8-3zm4-4l8 3 4-3-8-3zm4-3l8 3 3-4-7-3zm31-26l8 2 3-1-7-2zm4-1l7 2 4-1-7-2zm4-1l7 2 4 1-7-3zm-48 47l8 4 4-5-7-4zm5-5l7 4 4-4-7-4zm4-4l7 4 4-4-7-4zm4-4l7 4 4-4-7-3zm4-3l7 3 4-4-8-3zm3-4l8 3 4-4-8-3zm4-4l8 3 4-4-8-3zm24-19l7 2 4-1-8-2zm3-1l8 2 4 0-8-3zm-35 39l8 3 4-4-8-3zm4-4l8 3 4-4-8-3zm4-4l8 3 3-4-7-3zm4-4l7 3 4-4-7-3zm4-4l7 3 4-5-7-2zm4-4l7 2 4-4-7-3zm15-14l8 2 3-1-7-3zm4-2l7 3 4-1-7-3zm4-1l7 3 4-1-7-2zm-27 32l7 3 4-4-8-3zm3-4l8 3 4-5-8-2zm4-4l8 2 4-5-8-2zm4-5l8 2 4-4-8-2zm4-4l8 2 3-4-7-2zm12-10l7 2 4-2-8-1zm-16 26l8 1 3-5-7-1zm4-5l7 1 4-4-7-2zm4-5l7 2 4-5-7-1zm4-4l7 1 4-4-8-1zm-8 20l7 1 4-5-7-1zm4-5l7 1 4-5-8-1zm3-5l8 1 4-5-8 0zm4-4l8 0 3-5-7 0zm-4 15l8 0 4-5-8 0zm4-5l8 0 3-5-7 0zm4-5l7 0 4-6-7 1zm-4 15l8 1 3-6-7 0zm4-5l7 0 4-5-7 0zm4-5l7 0 4-6-8 1zm0 11l7 0 4-5-8-1zm3-6l8 1 4-6-8 0zm0 12l8 1 4-6-8-1zm4-6l8 1 4-5-8-1zm4-5l8 1 3-6-7-1zm0 12l8 1 4-6-8-1zm4-6l8 1 3-6-7 0zm4-5l7 0 4-5-8-1zm0 12l7 1 4-6-7-1zm4-6l7 1 4-5-8-2zm3 7l8 1 4-5-8-2zm4-6l8 2 4-6-8-1zm4 7l8 1 4-5-8-1zm4-5l8 1 4-6-8-1zm0 12l8 0 4-5-8-1zm4-6l8 1 4-6-8 0zm4-5l8 0 3-5-7-1zm0 11l8 0 4-5-8 0zm4-5l8 0 3-5-7-1zm4-6l7 1 4-6-8 0zm-4 17l8 0 4-5-8-1zm4-6l8 1 4-5-8-1zm4-5l8 1 3-5-8-1zm-4 17l8 0 4-6-8 0zm4-6l8 0 4-5-8 0zm4-5l8 0 3-5-7 0zm4-5l7 0 4-5-8 0zm-8 21l8-1 4-5-8 1zm4-5l8-1 4-5-8 0zm4-6l8 0 4-5-8 0zm4-5l8 0 3-5-8 0zm-4 15l8 0 4-5-8 0zm4-5l8 0 4-5-8 0zm4-5l8 0 4-5-8 0zm0 10l8 0 4-5-8 0zm4-5l8 0 4-5-8 0zm4 5l9 0 3-5-8 0zm129-88l7-5 3-5-7 6zm3-4l7-6 3-4-7 6zm-14 23l8-4 3-3-8 5zm3-2l8-5 3-4-8 6zm3-3l8-6 3-4-8 6zm3-4l8-6 3-4-8 6zm3-4l8-6 3-6-8 7zm-73 159l8 7 4-10-8-7zm12-3l9 6 4-10-9-6zm9 6l9 6 4-11-9-5zm4-10l9 5 3-9-8-5zm9 5l8 6 4-10-9-5zm12-4l9 5 4-9-9-5zm9 5l9 6 3-10-8-5zm12-4l9 5 4-9-9-5zm9 5l9 6 4-10-9-5zm4-9l9 5 3-10-8-4zm9 5l8 5 4-10-9-5z"/><path fill="#0f12e2" d="M416 2284l8 5 3-2-7-5zm4-2l7 5 4-2-7-5zm4-2l7 5 4-2-7-5zm4-2l7 5 4-2-7-6zm4-3l7 6 3-3-7-6zm3-3l7 6 4-2-7-6zm4-2l7 6 4-3-7-6zm4-3l7 6 3-3-7-7zm3-4l7 7 4-4-7-6zm-34 32l7 4 4-2-7-4zm4-2l7 4 4-1-7-5zm4-2l7 5 4-2-7-5zm4-2l7 5 3-2-7-5zm3-2l7 5 4-1-7-6zm30-21l7 6 3-4-7-6zm3-4l7 6 4-4-7-6zm4-4l7 6 3-4-7-6zm-57 46l7 4 4-2-7-4zm4-2l7 4 4-2-7-3zm4-1l7 3 4-1-7-4zm4-2l7 4 4-2-7-4zm4-2l7 4 4-1-7-4zm51-37l7 7 4-5-7-6zm4-4l7 6 3-4-7-8zm3-6l7 8 4-6-7-7zm-70 59l7 3 4-2-8-2zm3-1l8 2 4-1-8-3zm4-2l8 3 4-2-8-3zm4-2l8 3 3-1-7-3zm70-52l7 8 3-5-7-8zm3-5l7 8 3-6-7-8zm-139 110l8 4 4-4-8-4zm54-40l7 2 4-2-7-3zm4-3l7 3 4-2-7-3zm4-2l7 3 4-2-7-3zm4-2l7 3 4-1-7-3zm4-1l7 3 4-2-7-3zm79-60l7 8 4-5-7-9zm4-6l7 9 3-6-7-9zm-145 118l7 4 4-4-7-4zm4-4l7 4 5-5-8-3zm4-4l8 3 4-4-8-4zm21-17l7 3 4-3-7-3zm4-3l7 3 4-3-7-3zm4-3l7 3 4-3-7-3zm4-3l7 3 4-3-7-3zm4-3l7 3 4-3-7-2zm4-2l7 2 4-3-7-2zm4-3l7 2 4-2-7-2zm4-2l7 2 4-2-7-2zm4-2l7 2 4-1-7-3zm4-2l7 3 4-2-7-2zm90-67l7 8 3-6-7-8zm-144 115l8 3 4-4-7-4zm5-5l7 4 4-5-7-3zm4-4l7 3 4-4-7-3zm4-4l7 3 4-3-7-3zm4-3l7 3 5-3-8-3zm4-3l8 3 4-3-8-3zm4-3l8 3 4-3-8-3zm4-3l8 3 4-4-8-2zm4-3l8 2 4-3-8-2zm4-3l8 2 4-3-8-2zm4-3l8 2 4-3-8-2zm4-3l8 2 4-3-8-2zm4-3l8 2 4-2-8-2zm4-2l8 2 3-2-7-2zm4-2l7 2 4-1-7-2zm4-1l7 2 4-1-7-3zm-49 44l8 3 4-4-8-4zm4-5l8 4 4-4-8-4zm4-4l8 4 4-4-8-3zm4-3l8 3 4-3-7-3zm5-3l7 3 4-4-7-2zm4-3l7 2 4-3-7-2zm4-3l7 2 4-3-7-3zm4-4l7 3 4-3-7-3zm4-3l7 3 4-4-7-2zm4-3l7 2 4-3-7-2zm4-3l7 2 4-3-7-2zm4-3l7 2 4-2-7-2zm4-2l7 2 4-2-8-2zm3-2l8 2 4-1-8-2zm-40 40l7 3 4-4-7-3zm4-4l7 3 4-4-7-3zm4-4l7 3 5-3-8-3zm4-3l8 3 4-4-8-3zm4-4l8 3 4-3-8-3zm4-3l8 3 4-4-8-2zm4-3l8 2 3-3-7-2zm4-3l7 2 4-4-7-2zm4-4l7 2 4-3-7-2zm4-3l7 2 4-3-7-2zm4-3l7 2 4-2-7-2zm4-2l7 2 4-2-7-2zm4-2l7 2 4-2-7-1zm-28 30l7 2 4-3-7-3zm4-4l7 3 4-4-7-2zm4-3l7 2 4-4-7-2zm4-4l7 2 4-3-8-2zm3-3l8 2 4-4-8-2zm4-4l8 2 4-3-8-2zm4-3l8 2 4-3-8-2zm4-3l8 2 3-3-7-1zm4-2l7 1 4-2-7-1zm4-2l7 1 4-1-7-2zm-20 23l7 3 4-4-7-3zm4-4l7 3 4-4-7-2zm4-3l7 2 4-4-7-2zm4-4l7 2 4-3-7-2zm4-3l7 2 4-4-7-1zm4-3l7 1 4-2-8-2zm3-3l8 2 4-2-8-2zm-8 15l8 3 4-5-8-2zm4-4l8 2 3-3-7-2zm4-3l7 2 4-3-7-3zm4-4l7 3 4-3-7-2zm4-2l7 2 4-2-7-2zm-4 11l7 3 4-4-8-2zm3-3l8 2 4-3-8-2zm4-3l8 2 4-3-8-2zm4 5l7 2 4-3-7-2zm4-3l7 2 4-3-7-2zm3 5l8 1 4-4-8 0zm4 5l7 0 4-5-7 1zm4 5l7-1 4-5-8 1zm3 5l8-1 4-5-8 0zm4-6l8 0 3-6-7 1zm0 11l8 0 4-5-8-1zm4-6l8 1 3-6-7 0zm4 6l7 1 4-6-7 0zm4-5l7 0 4-6-8 0zm3 6l8 1 4-6-8-1zm4 6l8 2 4-6-8-1zm4-5l8 1 3-6-7-1zm4 7l8 1 3-6-7-1zm4-6l7 1 4-6-8-1zm4 7l8 1 3-6-8-1zm3-6l8 1 4-6-8-1zm5 7l7 1 4-6-8-1zm3-6l8 1 4-6-8-1zm4 7l8 0 4-6-8 0zm4-6l8 0 3-6-7 0zm0 12l8 1 4-6-8-1zm4-6l8 1 4-6-8-1zm4-6l8 1 3-6-8-1zm0 13l8 0 4-6-8 0zm4-6l8 0 3-5-7-1zm0 11l8 0 4-5-8 0zm4-5l8 0 4-5-8-1zm4-6l8 1 3-6-8 0zm-3 16l8 0 3-5-8 0zm3-5l8 0 4-4-8-1zm4-5l8 1 4-6-8 0zm-3 15l8 0 4-4-8-1zm4-5l8 1 3-5-8-1zm3-5l8 1 4-5-8 0zm4-4l8 0 4-5-8-1zm-7 19l8 0 4-4-8-1zm4-5l8 1 4-5-8 0zm4-4l8 0 3-4-8-1zm3-5l8 1 4-5-8-1zm4-5l8 1 4-4-8-2zm-14 28l8-1 4-4-8 1zm4-4l8-1 3-4-8 0zm3-5l8 0 4-4-8 0zm4-4l8 0 4-4-8-1zm4-5l8 1 3-5-8 0zm3-4l8 0 4-4-8-1zm-10 21l8 0 4-4-8 0zm4-4l8 0 4-4-9 0zm3-4l9 0 3-4-8 0zm4-4l8 0 4-4-8 0zm4-4l8 0 3-4-8-1zm3-5l8 1 4-4-8-1zm-10 21l8-1 4-3-8 0zm4-4l8 0 4-4-8 0zm4-4l8 0 3-4-8 0zm104-82l8-7 3-6-8 7zm-14 19l8-4 3-3-8 5zm3-2l8-5 3-3-7 5zm4-3l7-5 4-4-8 6zm3-3l8-6 3-4-8 6zm3-4l8-6 3-5-8 7zm3-4l8-7 3-5-8 8zm-87 153l9 8 4-10-9-8zm13-2l8 7 4-10-9-6zm12-3l9 6 4-9-9-6zm13-3l8 5 4-9-9-5zm8 5l9 5 4-9-9-5zm4-9l9 5 4-9-9-4zm9 5l9 5 3-9-8-5zm9 5l8 5 4-9-9-5zm3-9l9 5 4-9-9-4zm9 5l9 5 4-9-9-5zm13-4l8 4 4-8-9-4zm8 4l9 5 4-8-9-5zm4-8l9 5 3-7-8-5z"/><path fill="#0f13e3" d="M398 2286l7 5 4-2-8-5zm3-2l8 5 4-2-8-5zm4-2l8 5 3-3-7-5zm4-3l7 5 4-2-7-5zm4-2l7 5 4-2-7-6zm4-3l7 6 4-2-7-6zm4-2l7 6 4-3-8-6zm3-3l8 6 3-3-7-6zm4-3l7 6 4-2-7-6zm4-2l7 6 4-3-7-6zm4-3l7 6 3-4-7-6zm3-4l7 6 4-3-7-7zm-50 42l7 4 4-2-7-4zm4-2l7 4 4-2-7-4zm4-2l7 4 4-2-7-4zm4-2l7 4 4-2-7-4zm4-2l7 4 4-2-7-4zm4-2l7 4 4-2-7-4zm4-2l7 4 4-2-8-5zm37-27l7 6 3-4-7-6zm3-4l7 6 4-4-7-7zm4-5l7 7 3-4-7-7zm-81 64l7 4 4-3-7-3zm4-2l7 3 4-3-7-3zm4-3l7 3 4-2-7-4zm4-3l7 4 4-3-7-3zm4-2l7 3 4-2-7-3zm4-2l7 3 4-2-7-3zm4-2l7 3 4-2-7-3zm4-2l7 3 4-1-7-4zm4-2l7 4 4-2-7-4zm59-43l7 6 4-4-7-7zm4-5l7 7 3-6-7-7zm-139 106l8 4 4-2-7-4zm5-2l7 4 5-4-8-4zm4-4l8 4 4-4-8-3zm4-3l8 3 4-4-7-3zm5-4l7 3 4-4-7-3zm4-4l7 3 4-3-7-3zm8-6l8 3 4-3-7-3zm5-3l7 3 4-2-7-3zm4-2l7 3 4-3-7-3zm4-3l7 3 4-2-7-4zm4-3l7 4 4-3-7-3zm4-2l7 3 4-3-7-3zm4-3l7 3 5-3-8-3zm4-3l8 3 4-2-8-3zm4-2l8 3 4-2-8-4zm4-3l8 4 4-3-8-3zm4-2l8 3 3-1-7-4zm82-61l7 7 3-5-7-8zm-136 108l7 4 4-4-7-4zm4-4l7 4 5-4-8-4zm4-4l8 4 4-4-8-4zm4-4l8 4 4-4-8-3zm4-3l8 3 4-3-7-3zm5-3l7 3 4-2-7-4zm4-3l7 4 4-3-7-3zm4-2l7 3 5-3-8-3zm4-3l8 3 4-2-8-3zm4-2l8 3 4-3-8-3zm4-3l8 3 4-3-8-3zm4-3l8 3 4-3-7-3zm5-3l7 3 4-2-7-3zm4-2l7 3 4-3-7-2zm4-2l7 2 4-2-7-3zm91-71l7 8 4-6-7-8zm-138 112l8 4 4-4-7-4zm5-4l7 4 4-5-7-3zm4-4l7 3 4-3-7-4zm4-4l7 4 5-3-8-4zm4-3l8 4 4-3-8-3zm4-2l8 3 4-3-8-3zm4-3l8 3 4-3-7-3zm5-3l7 3 4-3-7-2zm4-2l7 2 4-3-7-2zm4-3l7 2 4-3-7-2zm4-3l7 2 4-2-7-3zm4-3l7 3 4-3-7-2zm106-82l7 9 3-6-7-9zm-136 111l8 4 4-4-8-3zm4-3l8 3 4-3-7-3zm5-3l7 3 4-3-7-3zm4-3l7 3 4-3-7-3zm175 28l7 1 4-6-8-1zm7 1l8 0 4-5-8-1zm5 6l8 0 3-5-8-1zm3-6l8 1 4-5-8-1zm5 6l8 1 3-5-8-1zm3-5l8 1 4-5-8-1zm5 6l8 2 3-5-8-2zm3-5l8 2 4-5-8-2zm1 11l8 1 4-4-8-1zm4-4l8 1 3-5-8-1zm3-5l8 1 4-5-8-1zm1 10l8 1 4-5-8 0zm4-4l8 0 3-4-8-1zm3-5l8 1 4-4-8-2zm4-5l8 2 3-5-8-2zm-14 27l8 0 4-4-8 0zm4-4l8 0 4-4-9 0zm3-4l9 0 3-4-8 0zm4-4l8 0 4-4-8-1zm4-5l8 1 3-4-8-1zm3-4l8 1 4-4-8-1zm4-4l8 1 3-4-8-2zm-25 36l9 0 3-4-8 1zm4-3l8-1 4-4-8 1zm4-4l8-1 4-3-9 0zm3-4l9 0 3-4-8 0zm4-4l8 0 4-4-8 0zm4-4l8 0 3-3-8-1zm3-4l8 1 4-4-8-1zm4-4l8 1 3-4-8-1zm3-4l8 1 4-4-8-1zm4-4l8 1 3-4-8-1zm3-4l8 1 4-4-8-2zm-31 41l8 0 4-3-8 1zm4-2l8-1 4-3-9 0zm3-4l9 0 3-4-8 0zm4-4l8 0 4-3-8 0zm4-3l8 0 3-4-8 0zm3-4l8 0 4-4-8 0zm4-4l8 0 3-3-8 0zm3-3l8 0 4-4-8 0zm4-4l8 0 4-4-9 0zm3-4l9 0 3-3-8-1zm4-4l8 1 3-4-8-1zm68-56l8-8 3-5-8 7zm-96 92l9-1 3-2-8 0zm4-3l8 0 4-4-8 1zm4-3l8-1 3-3-8 0zm3-4l8 0 4-4-8 1zm4-3l8-1 4-3-9 0zm3-4l9 0 3-3-8-1zm4-4l8 1 4-4-9 0zm3-3l9 0 3-3-8-1zm4-4l8 1 4-4-8-1zm4-4l8 1 3-4-8 0zm43-37l8-2 3-3-8 3zm3-2l8-3 3-3-8 4zm3-2l8-4 3-3-8 4zm3-3l8-4 3-4-8 5zm3-3l8-5 3-4-8 6zm3-3l8-6 4-4-8 6zm4-4l8-6 3-5-8 7zm3-4l8-7 3-5-8 7zm-14 19l8-2 3-4-8 3zm-95 122l8 7 4-10-9-5zm8 7l9 7 4-10-9-7zm4-10l9 7 4-8-9-7zm9 7l9 8 3-9-8-7zm4-8l8 7 4-9-8-6zm8 7l9 6 4-9-9-6zm4-9l9 6 4-7-9-6zm9 6l9 6 3-9-8-4zm4-7l8 4 4-7-8-4zm8 4l9 5 4-8-9-4zm4-7l9 4 4-7-9-4zm9 4l9 4 3-7-8-4zm9 4l8 5 4-8-9-4zm3-7l9 4 4-7-9-4zm9 4l9 4 3-7-8-4zm4-7l8 4 4-6-9-3zm5 11l9 5 3-8-9-4zm3-7l9 4 4-6-9-4zm4-6l9 4 3-6-8-3zm4-5l8 3 4-4-9-3zm1 15l9 4 4-7-9-3zm4-6l9 3 3-5-9-4zm3-6l9 4 4-5-9-3zm4-4l9 3 3-5-9-3zm2 13l8 5 4-6-9-4zm3-5l9 4 3-6-8-3zm4-5l8 3 4-5-9-3zm3-5l9 3 3-5-9-3z"/><path fill="#0f13e4" d="M370 2293l8 4 4-2-8-4zm4-2l8 4 4-2-8-5zm4-3l8 5 4-3-8-4zm4-2l8 4 4-2-8-4zm4-2l8 4 4-2-8-5zm4-3l8 5 3-2-7-5zm4-2l7 5 4-2-7-6zm4-3l7 6 4-3-7-5zm4-2l7 5 4-2-7-6zm4-3l7 6 4-3-7-5zm4-2l7 5 4-2-7-6zm4-3l7 6 3-3-7-6zm3-3l7 6 4-3-7-6zm4-3l7 6 4-2-7-7zm4-3l7 7 4-3-7-7zm4-3l7 7 3-4-7-6zm3-3l7 6 4-4-7-6zm4-4l7 6 3-4-7-6zm-126 95l7 4 5-2-8-4zm4-2l8 4 4-3-7-4zm5-3l7 4 4-3-7-4zm30-21l7 3 4-2-7-4zm4-3l7 4 4-3-7-4zm4-3l7 4 5-2-8-4zm4-2l8 4 4-3-8-4zm4-3l8 4 4-3-8-4zm4-3l8 4 4-2-7-4zm5-2l7 4 4-3-7-4zm4-3l7 4 4-2-7-4zm4-2l7 4 4-2-7-4zm4-2l7 4 4-2-7-5zm4-3l7 5 4-2-7-5zm4-2l7 5 4-2-7-5zm49-35l7 7 3-4-7-7zm3-4l7 7 4-5-7-6zm4-4l7 6 3-4-7-7zm-137 103l7 3 5 0-8-5zm4-2l8 5 4-2-7-5zm5-2l7 5 5-4-8-4zm4-3l8 4 4-3-8-4zm4-3l8 4 4-4-7-4zm5-4l7 4 4-4-7-4zm4-4l7 4 5-3-8-4zm4-3l8 4 4-3-8-4zm4-3l8 4 4-3-7-3zm5-2l7 3 4-2-7-4zm4-3l7 4 5-2-8-4zm4-2l8 4 4-3-8-4zm4-3l8 4 4-3-7-3zm5-2l7 3 4-2-7-4zm4-3l7 4 4-3-7-4zm4-3l7 4 4-3-7-3zm4-2l7 3 4-2-7-4zm4-3l7 4 4-2-7-4zm75-54l7 7 4-5-7-7zm4-5l7 7 3-6-7-7zm-149 109l8 4 5 0-8-4zm5 0l8 4 4 0-7-4zm5 0l7 4 5-2-8-4zm4-2l8 4 4-4-7-4zm5-4l7 4 4-3-7-4zm4-3l7 4 5-4-8-4zm4-4l8 4 4-4-8-4zm4-4l8 4 4-3-7-4zm5-3l7 4 4-3-7-4zm4-3l7 4 5-3-8-4zm4-3l8 4 4-2-8-4zm4-2l8 4 4-3-7-3zm5-2l7 3 4-3-7-3zm4-3l7 3 4-2-7-4zm102-75l7 7 4-5-7-8zm4-6l7 8 3-6-7-9zm-155 118l8 3 4 1-7-4zm5 0l7 4 5 0-8-4zm30-20l7 3 5-3-8-3zm130-96l7 8 3-6-7-9zm3-7l7 9 4-6-7-10zm11 3l7 8 3-6-7-9zm3-7l7 9 3-6-7-10zm133 134l8 2 3-4-8-2zm4 6l8 1 4-4-8-1zm4-4l8 1 3-4-8-1zm3-4l8 1 4-3-8-2zm4-4l8 2 3-3-8-2zm-45 54l8-1 4-2-9 1zm39-37l8 0 4-3-9-1zm3-4l9 1 3-4-8-1zm4-4l8 1 3-4-8-1zm3-4l8 1 4-3-8-1zm4-3l8 1 3-3-8-1zm3-3l8 1 3-3-8-1zm3-3l8 1 4-3-8-1zm4-3l8 1 3-3-8 0zm-59 61l9 0 3-1-8 0zm4-1l8 0 4-2-8 0zm4-2l8 0 4-3-9 1zm3-2l9-1 3-3-8 0zm4-4l8 0 4-3-9 0zm3-3l9 0 3-4-8 0zm4-4l8 0 4-3-8 0zm4-3l8 0 3-3-8 0zm3-3l8 0 4-3-8-1zm4-4l8 1 3-4-8 0zm3-3l8 0 4-3-8-1zm4-4l8 1 3-4-8-1zm3-4l8 1 4-4-8 0zm4-3l8 0 3-3-8-1zm3-4l8 1 3-4-8-1zm3-4l8 1 4-3-8-1zm4-3l8 1 3-3-8-1zm3-3l8 1 3-3-8-1zm3-3l8 1 4-3-8-1zm4-3l8 1 3-4-8 0zm3-3l8 0 3-3-8 0zm6-5l8-1 4-3-8 1zm4-3l8-1 3-3-8 2zm6-5l8-3 3-3-8 3zm3-3l8-3 3-5-8 5zm3-3l8-5 3-4-8 5zm3-4l8-5 4-5-9 6zm3-4l9-6 3-5-8 7zm-128 131l9 4 4-9-9-3zm39-41l8 1 4-2-9 0zm3-1l9 0 3-2-8 0zm4-2l8 0 4-2-8-1zm4-3l8 1 4-4-9 0zm3-3l9 0 3-3-8 0zm4-3l8 0 4-3-9-1zm3-4l9 1 3-4-8 0zm4-3l8 0 4-3-9 0zm3-3l9 0 3-3-8 0zm4-3l8 0 4-3-9-1zm3-4l9 1 3-4-8 0zm4-3l8 0 3-3-8-1zm3-4l8 1 4-4-8-1zm4-4l8 1 3-3-8-1zm3-3l8 1 4-4-9-1zm3-4l9 1 3-3-8-1zm4-3l8 1 3-3-8-1zm3-3l8 1 3-3-8-1zm3-3l8 1 4-4-8 0zm4-3l8 0 3-3-8-1zm3-4l8 1 3-4-8 0zm3-3l8 0 3-4-8 1zm3-3l8-1 4-4-8 2zm4-3l8-2 3-3-8 2zm3-3l8-2 3-5-8 3zm3-4l8-3 3-4-8 4zm-115 124l9 4 3-8-8-5zm42-46l8 1 4-2-9-1zm3-2l9 1 3-3-8 0zm4-2l8 0 4-3-8-1zm4-4l8 1 4-3-9-1zm3-3l9 1 3-4-8 0zm4-3l8 0 4-3-9-1zm3-4l9 1 3-3-8-1zm4-3l8 1 3-3-8-1zm3-3l8 1 4-3-8-1zm4-3l8 1 3-4-8-1zm3-4l8 1 4-3-9-1zm3-3l9 1 3-4-8-1zm4-4l8 1 3-3-8-1zm3-3l8 1 4-4-8-1zm4-4l8 1 3-3-8-1zm3-3l8 1 3-3-8-1zm3-3l8 1 4-4-9 0zm3-3l9 0 3-3-8-1zm4-4l8 1 3-4-8 0zm3-3l8 0 3-4-8 0zm3-4l8 0 4-5-9 1zm3-4l9-1 3-4-8 1zm-101 111l9 5 4-8-9-5zm38-41l9 2 3-2-8-2zm4-2l8 2 4-3-9-2zm3-3l9 2 3-3-8-2zm4-3l8 2 4-4-8-1zm4-3l8 1 3-3-8-2zm3-4l8 2 4-3-8-2zm4-3l8 2 3-3-8-2zm3-3l8 2 4-3-9-2zm3-3l9 2 3-4-8-1zm4-3l8 1 4-3-9-2zm3-4l9 2 3-3-8-2zm4-3l8 2 3-4-8-2zm3-4l8 2 4-3-9-2zm3-3l9 2 3-4-8-2zm4-4l8 2 3-3-8-2zm3-3l8 2 3-4-8-1zm3-3l8 1 4-3-8-2zm4-4l8 2 3-4-8-1zm3-3l8 1 3-5-8 0zm3-4l8 0 3-4-8 0zm-90 100l9 7 4-8-9-6zm34-36l8 3 4-2-9-3zm3-2l9 3 3-3-8-3zm4-3l8 3 4-4-9-2zm3-3l9 2 3-3-8-3zm4-4l8 3 4-3-9-3zm3-3l9 3 3-4-8-2zm4-3l8 2 4-3-9-2zm3-3l9 2 3-3-8-2zm4-3l8 2 3-3-8-3zm3-4l8 3 4-4-8-2zm4-3l8 2 3-3-8-2zm3-3l8 2 4-4-9-2zm3-4l9 2 3-3-8-2zm4-3l8 2 3-4-8-2zm3-4l8 2 3-3-8-2zm3-3l8 2 4-4-9-2zm3-4l9 2 3-4-8-1zm4-3l8 1 3-4-8-1zm3-4l8 1 3-5-8-1zm-82 94l8 6 4-7-9-6zm3-7l9 6 4-6-9-6zm23-23l8 4 4-2-9-4zm3-2l9 4 3-3-8-3zm4-2l8 3 4-3-9-3zm3-3l9 3 3-4-8-3zm4-4l8 3 4-3-9-3zm3-3l9 3 3-4-8-2zm4-3l8 2 4-3-9-3zm3-4l9 3 3-3-8-3zm4-3l8 3 3-4-8-2zm3-3l8 2 4-3-9-2zm3-3l9 2 3-4-8-2zm4-4l8 2 3-3-8-2zm3-3l8 2 4-4-8-2zm4-4l8 2 3-3-8-2zm3-3l8 2 3-4-8-2zm3-4l8 2 4-4-9-1zm3-3l9 1 3-4-8-1zm4-4l8 1 3-4-8-1zm3-4l8 1 3-4-8-1zm3-4l8 1 3-5-8-1zm-78 92l9 6 4-7-9-5zm4-6l9 5 3-7-8-4zm4-6l8 4 4-5-9-4zm7-8l9 3 3-2-8-4zm4-3l8 4 4-3-9-3zm3-2l9 3 3-3-8-2zm4-2l8 2 4-3-9-2zm3-3l9 2 3-3-8-2zm4-3l8 2 4-4-9-2zm3-4l9 2 3-3-8-2zm4-3l8 2 4-4-9-2zm3-4l9 2 3-3-8-2zm4-3l8 2 3-4-8-1zm3-3l8 1 4-3-9-2zm3-4l9 2 3-4-8-1zm4-3l8 1 3-4-8-1zm3-4l8 1 4-3-9-1zm3-3l9 1 3-4-8-1zm4-4l8 1 3-4-8 0zm3-3l8 0 4-3-9-1zm3-4l9 1 3-4-8-1zm4-4l8 1 3-4-8-1zm3-4l8 1 3-5-8 0zm3-4l8 0 3-4-8 0zm-70 86l8 4 4-7-9-4zm3-7l9 4 4-5-9-4zm4-5l9 4 3-4-8-4zm4-4l8 4 4-4-9-2zm3-2l9 2 3-3-8-2zm4-3l8 2 4-2-9-3zm3-3l9 3 3-4-8-2zm4-3l8 2 4-3-9-2zm3-3l9 2 3-4-8-2zm4-4l8 2 4-4-9-1zm3-3l9 1 3-4-8-1zm4-4l8 1 4-3-9-1zm3-3l9 1 3-4-9-1zm3-4l9 1 3-4-8 0zm4-3l8 0 4-3-9-1zm3-4l9 1 3-4-9-1zm3-4l9 1 3-4-8 0zm4-3l8 0 3-4-8 0zm3-4l8 0 4-3-9-1zm3-4l9 1 3-4-8 0zm4-3l8 0 3-4-8 0zm3-4l8 0 3-5-8 1zm3-4l8-1 4-4-9 0zm-63 78l9 4 3-6-8-3zm4-5l8 3 4-5-9-2zm3-4l9 2 3-3-8-3zm4-4l8 3 4-3-9-3zm3-3l9 3 3-4-8-1zm4-2l8 1 4-3-9-2zm3-4l9 2 3-4-8-1zm4-3l8 1 4-4-9-1zm3-4l9 1 3-4-8-1zm4-4l8 1 4-4-9-1zm3-4l9 1 3-4-8 0zm4-3l8 0 3-3-8-1zm3-4l8 1 4-4-9-1zm3-4l9 1 3-4-8 0zm4-3l8 0 3-4-8 0zm3-4l8 0 4-4-9 0zm3-4l9 0 3-4-9 0zm3-4l9 0 3-4-8 1zm4-3l8-1 3-4-8 1zm3-4l8-1 4-4-9 1zm-56 74l8 4 4-7-9-3zm3-6l9 3 4-5-9-3zm4-5l9 3 3-3-9-3zm3-3l9 3 4-4-9-2zm4-3l9 2 3-4-9-2zm3-4l9 2 4-3-9-2zm4-3l9 2 3-5-9-1zm3-4l9 1 3-4-8-1zm4-4l8 1 4-4-9-1zm3-4l9 1 3-4-8-1zm4-4l8 1 4-4-9-1zm3-4l9 1 3-4-9 0zm3-3l9 0 3-4-8 0zm4-4l8 0 4-4-9 0zm3-4l9 0 3-4-9 0zm3-4l9 0 3-4-8 0zm4-4l8 0 3-4-8 0zm-43 60l9 4 3-5-8-4zm4-5l8 4 4-5-9-2zm3-3l9 2 3-4-8-2zm4-4l8 2 4-4-9-2zm3-4l9 2 3-4-8-1zm4-3l8 1 4-4-9-2zm3-5l9 2 3-4-9-2zm3-4l9 2 3-5-8-1zm4-4l8 1 4-4-9-1zm3-4l9 1 3-4-8-1zm4-4l8 1 4-5-9 0zm3-4l9 0 3-4-9 0zm3-4l9 0 3-4-8 0zm-29 47l9 3 4-5-9-3zm4-5l9 3 3-4-9-3zm3-4l9 3 3-4-8-3zm4-4l8 3 4-5-9-2zm3-4l9 2 3-4-8-2zm4-4l8 2 4-5-9-1zm3-4l9 1 3-5-9-1zm3-5l9 1 3-4-8-1zm4-4l8 1 4-5-9 0zm3-4l9 0 3-4-8-1zm-15 32l9 3 3-5-9-2zm3-4l9 2 4-5-9-2zm4-5l9 2 3-5-9-1zm3-4l9 1 3-5-8-1zm4-5l8 1 4-4-9-2zm3-5l9 2 3-5-9-1zm3-4l9 1 3-5-8-1zm-8 25l9 3 3-5-8-3zm4-5l8 3 4-6-9-2zm3-5l9 2 3-5-9-2zm3-5l9 2 4-5-9-1zm4-4l9 1 3-5-9-1zm-2 17l9 3 4-6-9-3zm4-6l9 3 3-6-9-2zm3-5l9 2 3-5-8-2zm4-5l8 2 4-6-9-1z"/><path fill="#0f13e5" d="M297 2340l8 4 5-2-8-4zm5-2l8 4 4-2-7-4zm5-2l7 4 5-3-8-4zm4-3l8 4 4-3-8-5zm4-4l8 5 4-4-7-4zm5-3l7 4 5-4-8-4zm4-4l8 4 4-3-8-4zm4-3l8 4 4-2-7-4zm5-2l7 4 4-3-7-4zm4-3l7 4 5-2-8-4zm4-2l8 4 4-3-7-4zm5-3l7 4 4-3-7-4zm4-3l7 4 4-2-7-4zm4-2l7 4 4-3-7-4zm4-3l7 4 4-3-7-4zm4-3l7 4 5-2-8-4zm4-2l8 4 4-3-8-4zm73-53l7 6 4-4-7-7zm4-5l7 7 3-5-6-7zm-143 106l8 4 5 0-8-4zm5 0l8 4 4-2-7-4zm18-10l7 4 5-4-8-4zm4-4l8 4 4-4-7-4zm5-4l7 4 4-3-7-4zm4-3l7 4 4-3-7-3zm4-2l7 3 5-2-8-4zm4-3l8 4 4-3-7-3zm109-78l7 7 4-5-7-7zm4-5l7 7 3-6-7-7zm-154 112l8 4 4 0-7-3zm5 1l7 3 5 0-7-3zm159-112l7 7 4-6-7-8zm4-7l7 8 3-7-7-8zm-160 122l7 3 5 1-8-4zm170-121l7 9 3-7-6-9zm-168 123l8 3 5 1-8-3zm5 1l8 3 5 1-8-3zm177-129l7 10 3-7-7-10zm-174 131l8 3 4 1-7-3zm184 70l9 3 4-6-9-2zm9 3l8 2 4-5-8-3zm8 2l9 3 4-6-9-2zm9 3l8 2 4-6-8-2zm8 2l9 3 4-7-9-2zm4-6l9 2 4-6-9-2zm5 9l8 3 4-7-8-3zm4-7l8 3 4-7-8-2zm4 10l9 2 4-7-9-2zm4-7l9 2 4-6-9-3zm5 9l9 4 4-8-9-3zm4-7l9 3 3-7-8-2zm5 11l8 3 4-8-8-3zm4-8l8 3 4-7-9-3zm30-29l9 0 4-1-9 0zm106-95l8-7 3-5-8 7zm-128 127l9 3 4-7-9-3zm4-7l9 3 4-7-9-3zm23-24l9 1 3-1-8-1zm4-1l8 1 4-1-8-1zm92-83l8-4 3-5-8 4zm3-5l8-4 3-5-8 5zm3-4l8-5 4-6-8 6zm-120 127l8 5 4-8-8-4zm4-7l8 4 4-7-8-4zm23-26l8 1 4-1-9-1zm3-1l9 1 4-1-9-1zm4-1l9 1 3-2-8-1zm79-75l8-1 3-5-8 3zm3-3l8-3 3-4-8 2zm3-5l8-2 3-6-8 4zm3-4l8-4 3-6-8 5zm-110 119l9 5 4-7-9-5zm4-7l9 5 4-7-9-4zm19-22l9 3 3-1-8-3zm4-1l8 3 4-2-8-2zm4-1l8 2 4-2-9-2zm71-68l8 0 4-5-8 0zm4-5l8 0 3-5-8 1zm3-4l8-1 3-5-8 1zm3-5l8-1 3-6-8 3zm-99 111l9 6 3-7-8-6zm4-7l8 6 4-6-8-6zm4-6l8 6 4-6-9-5zm3-5l9 5 4-4-9-4zm4-3l9 4 3-3-8-4zm4-3l8 4 4-2-9-3zm3-1l9 3 4-2-9-3zm4-2l9 3 3-2-8-3zm68-66l8 1 4-5-9 0zm3-4l9 0 3-5-8 0zm4-5l8 0 3-6-8 1zm-85 95l9 6 4-6-9-6zm4-6l9 6 3-5-8-5zm4-4l8 5 4-3-9-5zm3-3l9 5 4-3-9-4zm4-2l9 4 3-2-8-4zm71-70l8 1 4-6-8 0zm4-5l8 0 3-6-8 1zm-74 85l9 4 4-4-9-3zm75-74l8 0 4-6-9 1zm3-5l9-1 3-6-8 1zm4-6l8-1 3-6-8 1zm-2 15l9 0 3-5-9 1zm3-4l9-1 3-6-8 1zm4-6l8-1 3-6-8 1zm-5 19l9-1 3-5-9 1zm3-5l9-1 3-4-8 1zm4-4l8-1 3-6-8 2zm3-5l8-2 3-6-8 2zm-11 25l8 0 4-5-9 1zm3-4l9-1 3-4-9 1zm3-4l9-1 3-4-8 1zm4-4l8-1 3-5-8 1zm3-5l8-1 3-5-8 2zm-14 29l8 0 3-5-8 1zm3-4l8-1 4-4-9 1zm3-4l9-1 3-4-9 1zm3-4l9-1 3-5-8 1zm4-5l8-1 3-4-8 1zm3-4l8-1 3-5-8 2zm-14 29l8 1 3-5-8 0zm3-4l8 0 4-4-9 0zm3-4l9 0 3-5-9 0zm3-5l9 0 3-5-8 1zm4-4l8-1 3-4-8 1zm3-4l8-1 4-5-9 1zm-11 26l8 1 4-5-9 0zm3-4l9 0 3-5-9 0zm3-5l9 0 3-5-8 1zm4-4l8-1 4-5-9 1zm3-5l9-1 3-4-9 0zm-8 24l9 1 3-5-9-1zm3-5l9 1 3-5-8-1zm4-5l8 1 4-5-9-1zm3-5l9 1 3-6-9 0zm-1 16l9 1 3-5-9-1zm3-5l9 1 3-5-9-1zm3-5l9 1 3-6-8 0zm4-5l8 0 4-5-9-1z"/><path fill="#0f14e6" d="M288 2340l8 4 4 0-7-4zm5 0l7 4 5 0-8-4zm154-107l6 7 4-5-7-7zm3-5l7 7 3-6-7-8zm-159 115l7 4 5 0-7-3zm5 1l7 3 5 1-8-4zm164-115l7 7 4-7-7-7zm-162 118l8 3 5 1-8-4zm176-125l7 8 4-7-7-8zm-173 127l8 3 4 1-7-3zm5 1l7 3 5 1-7-3zm179-127l6 9 4-7-7-9zm-176 129l7 3 5 1-8-3zm189-134l7 10 3-7-7-10zm-182 137l8 2 5 2-8-3zm3 2l8 2 5 1-8-3zm178 66l8 3 4-5-8-2zm21 0l8 3 4-5-8-2zm8 3l9 2 4-5-9-2zm9 2l8 2 4-6-8-1zm4-5l8 1 4-4-8-2zm8 1l9 2 4-5-9-1zm9 2l8 2 4-5-8-2zm4-5l8 2 4-4-8-2zm4 7l9 3 4-6-9-2zm4-5l9 2 4-5-9-1zm4-4l9 1 4-4-9-1zm1 12l8 2 4-6-8-2zm4-6l8 2 4-5-8-2zm4-5l8 2 4-4-8-2zm0 13l9 3 4-7-9-2zm4-6l9 2 4-5-9-2zm4-5l9 2 4-5-9-1zm4-4l9 1 4-3-9-2zm1 11l9 3 4-5-9-3zm4-5l9 3 3-5-8-3zm4-5l8 3 4-5-8-1zm7-6l9 1 4-1-9-1zm110-99l8-6 3-6-8 7zm-116 118l8 4 4-6-8-3zm4-5l8 3 4-6-9-2zm3-5l9 2 4-4-9-3zm4-5l9 3 4-4-9-2zm4-3l9 2 3-2-8-1zm102-95l8-5 4-6-9 6zm3-5l9-6 3-6-8 6zm-108 116l9 4 4-6-9-4zm4-6l9 4 3-5-8-3zm4-4l8 3 4-3-8-4zm4-4l8 4 4-3-9-3zm95-90l8-3 3-6-8 3zm3-6l8-3 4-6-9 3zm-1 14l8-1 3-6-8 2zm3-5l8-2 3-6-8 2zm2 10l8-1 3-6-8 1zm3-6l8-1 3-6-8 1zm5 5l8-1 3-6-8 1zm5 5l8-1 3-7-8 2zm3-6l8-2 4-7-9 3zm2 11l8-2 4-6-9 2zm3-6l9-2 3-7-9 2zm-1 16l8-2 4-6-9 2zm3-6l9-2 3-6-9 2zm-1 14l8-2 4-5-9 2zm3-5l9-2 3-5-9 2zm3-5l9-2 3-6-8 2zm-4 17l9-1 3-5-9 2zm3-4l9-2 3-4-9 1zm3-5l9-1 3-6-8 2zm4-5l8-2 3-5-8 2zm-8 22l9 0 3-5-9 1zm3-4l9-1 3-5-8 1zm4-5l8-1 3-5-8 1zm3-5l8-1 4-5-9 2zm-8 23l9 0 3-5-8 0zm4-5l8 0 3-5-8 1zm3-4l8-1 4-5-9 1zm3-5l9-1 3-5-9 1zm-1 14l9 1 3-6-9 0zm3-5l9 0 3-5-9 0zm3-5l9 0 3-5-8 0z"/><path fill="#1022d5" d="M278 2340l8 3 5 0-8-3zm5 0l8 3 5 1-8-4zm170-119l7 8 4-7-7-8zm-172 123l8 3 4-1-7-3zm5-1l7 3 5 1-7-4zm178-121l7 7 3-7-7-8zm-175 125l7 2 5 0-8-3zm4-1l8 3 5 1-8-3zm185-131l7 8 3-7-7-9zm-187 135l8 2 5 0-8-3zm5-1l8 3 5 0-8-3zm192-133l7 9 3-7-7-9zm-189 136l8 3 4 0-7-3zm5 0l7 3 5 0-7-3zm3 3l7 2 5 0-8-2zm4 0l8 2 5 0-8-2zm-1 3l7 2 5 0-8-3zm4-1l8 3 5-1-8-2zm3 3l8 2 5 0-8-2zm411-46l9-3 3-7-8 4zm4-6l8-4 3-7-8 5zm-2 15l8-2 4-7-9 3zm3-6l9-3 3-7-8 4zm2 10l8-1 4-7-9 2zm3-6l9-2 3-7-8 2zm2 11l8-1 4-7-9 2zm3-6l9-2 3-8-8 3zm5 5l9-3 3-7-8 3zm5 4l9-2 3-7-8 2zm2 11l9-2 3-7-8 3zm4-6l8-3 3-7-8 3zm2 10l8-2 3-6-8 2zm3-6l8-2 3-7-8 2zm2 10l8-2 4-6-9 2zm3-6l9-2 3-7-9 3zm-1 15l9-2 3-6-9 2zm3-6l9-2 3-5-9 2zm3-5l9-2 3-7-8 3zm-4 19l9-1 3-5-9 1zm3-5l9-1 3-6-8 2zm4-5l8-2 3-6-8 2zm-1 14l8 0 4-6-9 1zm3-5l9-1 3-6-9 2zm3-5l9-2 3-5-9 1z"/><path fill="#123db6" d="M264 2343l7 3 5-1-7-3zm5-1l7 3 5-1-8-3zm4-1l8 3 5-1-8-3zm184-127l7 8 3-8-7-7zm-186 132l8 2 5-1-8-2zm5-1l8 2 5 0-8-3zm191-131l7 8 4-7-7-9zm-193 135l8 3 5-1-8-3zm5-1l8 3 4-1-7-3zm5-1l7 3 5-1-7-2zm197-140l7 9 3-7-7-10zm-199 145l7 2 5-1-7-2zm5-1l7 2 5-1-8-2zm204-142l7 9 3-7-7-10zm-207 147l8 2 5-1-8-3zm5-2l8 3 5-1-8-3zm5-1l8 3 5-1-8-3zm-2 5l8 2 5-1-8-2zm5-1l8 2 5-1-8-2zm5-1l8 2 4-1-7-2zm-2 4l8 2 4-1-7-2zm5-1l7 2 5-1-7-2zm-2 5l8 2 4-1-7-3zm5-2l7 3 5-2-8-2zm4-1l8 2 5-1-8-2zm-1 5l7 3 5-2-8-2zm4-1l8 2 5-1-8-3zm5-2l8 3 5-1-8-3zm-2 6l8 2 5-1-8-3zm8 2l8 3 5-2-8-2zm411-60l8-4 3-7-8 4zm5 3l8-2 3-8-8 3zm5 5l8-3 3-7-8 3zm5 5l8-3 3-7-8 2zm5 4l8-2 3-7-8 2zm3-7l8-2 3-8-8 3zm2 12l8-3 3-7-8 3zm3-7l8-3 4-7-9 3zm2 11l8-2 4-7-9 2zm3-7l9-2 3-8-9 3zm2 12l9-3 3-7-9 3zm6 4l8-3 3-7-8 3zm2 9l8-2 4-6-9 3zm3-5l9-3 3-6-9 2zm2 9l9-1 3-6-9 1zm3-6l9-1 3-7-8 2z"/><path fill="#155898" d="M249 2347l7 2 5-1-7-3zm5-2l7 3 5-1-7-3zm5-1l7 3 5-1-7-3zm201-137l7 7 4-8-7-7zm-204 142l8 3 5-1-8-3zm5-1l8 3 5-2-8-2zm5-1l8 2 5-1-8-2zm205-141l7 9 3-8-7-9zm-207 146l8 2 5-1-8-2zm5-1l8 2 5-1-8-3zm215-152l7 10 3-8-6-10zm-212 155l8 3 4-1-7-3zm5-1l7 3 5-2-7-2zm3 4l7 2 5-1-8-2zm7 2l8 3 5-2-8-2zm8 3l8 2 5-2-8-2zm445-58l8-4 3-8-8 5zm5 3l8-3 3-8-8 4zm3-7l8-4 3-8-8 4zm2 12l8-3 3-8-8 3zm3-8l8-3 3-9-8 4zm2 12l8-2 3-8-8 3zm3-7l8-3 4-9-9 4zm5 5l8-3 4-9-9 4zm5 5l9-3 3-8-9 3zm5 4l9-3 3-8-8 4zm2 12l9-3 3-8-8 4zm4-7l8-4 3-7-8 3zm2 11l8-3 4-8-9 4zm3-7l9-4 3-7-9 3zm2 11l9-2 3-8-9 3zm3-7l9-3 3-8-8 3zm3 11l8-2 3-7-8 3zm3-6l8-3 4-7-9 2z"/><path fill="#17737d" d="M464 2199l7 7 3-8-7-8zm10-1l7 9 3-8-7-9zm282 98l8-4 4-9-9 5zm5 5l9-4 3-9-9 4zm5 5l9-4 3-8-8 3zm5 5l9-3 3-9-8 3zm6 5l8-4 3-8-8 4zm5 4l8-3 4-8-9 3zm5 4l9-3 3-8-9 4zm6 4l8-3 3-8-8 4zm5 5l9-2 3-8-9 2z"/><path fill="#198d63" d="M467 2190l7 8 3-8-7-8zm10 0l7 9 4-8-7-9zm282 98l9-5 3-8-8 4zm5 4l9-4 3-9-8 4zm6 5l8-3 3-9-8 3zm5 5l8-3 3-9-8 4zm5 6l8-4 4-8-9 3zm5 4l9-3 3-9-9 4zm5 5l9-4 3-8-8 4zm6 4l8-4 4-8-9 4zm5 4l9-2 3-9-9 3z"/><path fill="#219b53" d="M470 2182l7 8 4-8-7-9zm298 101l8-4 3-9-8 5zm5 5l8-3 3-9-8 3zm5 6l8-4 4-9-9 4zm5 5l9-3 3-9-9 3zm5 5l9-4 3-8-8 4zm6 5l8-4 3-9-8 4zm5 4l9-4 3-8-9 4zm5 4l9-3 3-8-8 3zm4-8l8-3 4-9-9 4z"/><path fill="#29a944" d="M776 2279l8-3 4-10-9 4zm5 6l9-4 3-9-9 4zm5 5l9-3 3-9-8 3zm6 6l8-4 3-9-8 4zm5 4l8-4 4-9-9 5zm3-8l9-5 3-9-9 5zm2 13l9-4 3-9-9 4zm3-9l9-4 3-9-8 4zm6 5l9-4 3-9-9 4z"/><path fill="#31b734" d="M779 2270l9-4 3-9-8 4zm5 6l9-4 3-10-8 4zm6 5l8-3 3-10-8 4zm5 6l8-4 4-9-9 4zm8-4l9-5 3-9-8 5zm6 4l8-4 4-9-9 4zm5 5l9-4 3-9-9 4z"/><path fill="#40bd2d" d="M788 2266l8-4 3-9-8 4zm5 6l8-4 4-9-9 3zm5 6l9-4 3-10-9 4zm14 0l9-4 3-10-9 5zm5 5l9-4 3-9-8 4z"/><path fill="#51c326" d="M796 2262l9-3 3-10-9 4zm5 6l9-4 3-10-8 5zm6 6l8-5 3-10-8 5zm14 0l8-4 3-10-8 4z"/><path fill="#62c820" d="M799 2253l9-4 3-10-8 4zm6 6l8-5 3-10-8 5zm5 5l8-5 4-10-9 5zm5 5l9-5 3-9-9 4zm9-5l8-4 4-10-9 5z"/><path fill="#72cd1a" d="M808 2249l8-5 4-10-9 5zm5 5l9-5 3-10-9 5zm5 5l9-4 3-11-8 5z"/><path fill="#83d214" d="M811 2239l9-5 3-10-9 5zm5 5l9-5 3-10-8 5zm6 5l8-5 4-10-9 5zm5 6l9-5 3-11-9 5z"/><path fill="#96d412" d="M820 2234l8-5 3-11-8 6zm5 5l9-5 3-11-9 6zm5 5l9-5 3-11-8 6z"/><path fill="#a9d610" d="M828 2229l9-6 3-11-9 6zm6 5l8-6 4-11-9 6z"/><path fill="#bbd80e" d="M837 2223l9-6 3-11-9 6z"/><path fill="#dddb0a" d="M840 2212l9-6 3-12-9 6z"/><path fill="#180c9d" d="M588 2329l7 1 3-3-7-1zm-17-3l7 4 3-3-7-4zm24 4l7 1 3-3-7-1zm-17 0l7 2 3-3-7-2zm24 1l7 1 3-3-7-1zm-17 1l7 1 3-3-7-1z"/><path fill="#160dac" d="M561 2322l7 6 3-2-7-7z"/><path fill="#180c9d" d="M568 2328l7 5 3-3-7-4zm41 4l7 1 3-3-7-1zm-17 1l7 1 3-3-7-1zm-17 0l7 2 3-3-7-2zm41 0l7 1 3-3-7-1zm-17 1l7 1 3-3-7-1zm-17 1l7 0 3-2-7-1z"/><path fill="#160dac" d="M558 2325l7 6 3-3-7-6z"/><path fill="#180c9d" d="M565 2331l7 4 3-2-7-5zm58 3l7 1 3-2-7-2zm-17 1l7 1 3-3-7-1zm-17 0l7 1 3-2-7-1zm-17 0l7 2 3-2-7-2z"/><path fill="#160dac" d="M658 2329l7-3 3-2-7 3z"/><path fill="#180c9d" d="M630 2335l7 1 3-2-7-1zm-17 1l7 1 3-3-7-1zm-17 0l7 1 3-2-7-1zm-17 1l7 1 3-3-7 0z"/><path fill="#140eba" d="M548 2321l6 7 4-3-7-7z"/><path fill="#160dac" d="M554 2328l7 6 4-3-7-6z"/><path fill="#180c9d" d="M561 2334l7 4 4-3-7-4zm76 2l7 0 3-3-7 1z"/><path fill="#140eba" d="M665 2326l7-3 3-2-7 3z"/><path fill="#180c9d" d="M620 2337l7 0 3-2-7-1zm-17 0l7 1 3-2-7-1zm-17 1l7 1 3-3-7-1zm-18 0l7 2 4-3-7-2zm59-1l7 1 3-2-7-1zm-17 1l7 1 3-2-7-1zm-17 1l7 0 3-2-7-1zm-18 1l7 0 4-2-7-1z"/><path fill="#140eba" d="M544 2323l7 7 3-2-6-7z"/><path fill="#160dac" d="M551 2330l7 6 3-2-7-6z"/><path fill="#120ec9" d="M672 2323l7-4 3-2-7 4z"/><path fill="#180c9d" d="M558 2336l7 5 3-3-7-4zm76 2l7 0 3-2-7 0z"/><path fill="#140eba" d="M662 2329l7-3 3-3-7 3z"/><path fill="#180c9d" d="M617 2339l7 1 3-3-7 0zm-17 0l7 1 3-2-7-1zm-18 1l7 1 4-2-7-1zm-17 1l7 1 3-2-7-2zm59-1l7 0 3-2-7-1zm-17 0l7 1 3-2-7-1z"/><path fill="#160dac" d="M641 2338l8-2 3-2-8 2z"/><path fill="#180c9d" d="M589 2341l8 1 3-3-7 0zm-17 1l7 1 3-3-7 0z"/><path fill="#100fd8" d="M679 2319l8-5 3-2-8 5z"/><path fill="#140eba" d="M541 2326l7 7 3-3-7-7z"/><path fill="#120ec9" d="M534 2319l7 7 3-3-7-7z"/><path fill="#160dac" d="M548 2333l7 6 3-3-7-6z"/><path fill="#120ec9" d="M669 2326l7-5 3-2-7 4z"/><path fill="#180c9d" d="M555 2339l7 4 3-2-7-5z"/><path fill="#160dac" d="M631 2340l7 0 3-2-7 0z"/><path fill="#140eba" d="M659 2331l7-3 3-2-7 3z"/><path fill="#180c9d" d="M614 2341l7 1 3-2-7-1zm-17 1l7 1 3-3-7-1zm-18 1l7 1 3-3-7-1zm-17 0l7 2 3-3-7-1zm59-1l7 0 3-2-7 0z"/><path fill="#0f0fdd" d="M687 2314l7-5 3-2-7 5z"/><path fill="#180c9d" d="M604 2343l7 0 3-2-7-1zm-18 1l7 0 4-2-8-1z"/><path fill="#160dac" d="M638 2340l8-2 3-2-8 2z"/><path fill="#180c9d" d="M569 2345l7 0 3-2-7-1z"/><path fill="#120ec9" d="M530 2322l7 7 4-3-7-7z"/><path fill="#140eba" d="M537 2329l8 7 3-3-7-7z"/><path fill="#160dac" d="M545 2336l7 6 3-3-7-6z"/><path fill="#100fd8" d="M676 2321l8-5 3-2-8 5z"/><path fill="#180c9d" d="M552 2342l7 4 3-3-7-4z"/><path fill="#120ec9" d="M666 2328l7-4 3-3-7 5z"/><path fill="#160dac" d="M628 2342l7 0 3-2-7 0z"/><path fill="#140eba" d="M656 2333l7-3 3-2-7 3z"/><path fill="#180c9d" d="M611 2343l7 1 3-2-7-1zm-18 1l7 1 4-2-7-1zm-17 1l7 1 3-2-7-1zm-17 1l7 1 3-2-7-2z"/><path fill="#140eba" d="M646 2338l7-3 3-2-7 3z"/><path fill="#160dac" d="M618 2344l7 1 3-3-7 0z"/><path fill="#120ec9" d="M527 2325l7 7 3-3-7-7z"/><path fill="#180c9d" d="M600 2345l8 1 3-3-7 0z"/><path fill="#140eba" d="M534 2332l7 7 4-3-8-7z"/><path fill="#180c9d" d="M583 2346l7 1 3-3-7 0zm-17 1l7 1 3-3-7 0z"/><path fill="#0f0fdd" d="M684 2316l7-5 3-2-7 5z"/><path fill="#160dac" d="M541 2339l7 5 4-2-7-6zm94 3l8-2 3-2-8 2z"/><path fill="#100fd8" d="M673 2324l8-6 3-2-8 5z"/><path fill="#180c9d" d="M548 2344l7 4 4-2-7-4z"/><path fill="#120ec9" d="M663 2330l7-4 3-2-7 4z"/><path fill="#160dac" d="M625 2345l7-1 3-2-7 0zm-17 1l7 1 3-3-7-1z"/><path fill="#180c9d" d="M590 2347l7 1 3-3-7-1zm-17 1l7 1 3-3-7-1zm-18 0l7 2 4-3-7-1z"/><path fill="#0f10de" d="M702 2304l7-4 3-2-8 4z"/><path fill="#140eba" d="M643 2340l7-3 3-2-7 3z"/><path fill="#100fd8" d="M517 2322l7 6 3-3-7-6z"/><path fill="#0f10dd" d="M691 2311l8-5 3-2-8 5z"/><path fill="#120ec9" d="M524 2328l7 6 3-2-7-7z"/><path fill="#160dac" d="M615 2347l7 0 3-2-7-1z"/><path fill="#140eba" d="M531 2334l7 7 3-2-7-7z"/><path fill="#180c9d" d="M562 2350l7 1 4-3-7-1z"/><path fill="#160dac" d="M597 2348l7 0 4-2-8-1z"/><path fill="#180c9d" d="M580 2349l7 1 3-3-7-1z"/><path fill="#160dac" d="M538 2341l7 6 3-3-7-5z"/><path fill="#0f0fdd" d="M681 2318l7-5 3-2-7 5z"/><path fill="#160dac" d="M632 2344l7-2 4-2-8 2z"/><path fill="#100fd8" d="M670 2326l8-6 3-2-8 6z"/><path fill="#180c9d" d="M545 2347l7 4 3-3-7-4z"/><path fill="#120ec9" d="M660 2332l7-4 3-2-7 4z"/><path fill="#160dac" d="M604 2348l8 1 3-2-7-1zm18-1l7 0 3-3-7 1z"/><path fill="#180c9d" d="M569 2351l7 1 4-3-7-1zm18-1l7 1 3-3-7-1z"/><path fill="#0f11df" d="M709 2300l8-4 2-2-7 4z"/><path fill="#180c9d" d="M552 2351l7 1 3-2-7-2z"/><path fill="#140eba" d="M639 2342l8-2 3-3-7 3z"/><path fill="#100fd8" d="M513 2324l7 6 4-2-7-6z"/><path fill="#0f10de" d="M688 2313l8-4 3-3-8 5z"/><path fill="#160dac" d="M612 2349l7 1 3-3-7 0z"/><path fill="#120ec9" d="M520 2330l7 6 4-2-7-6z"/><path fill="#180c9d" d="M576 2352l8 1 3-3-7-1z"/><path fill="#160dac" d="M594 2351l7 0 3-3-7 0z"/><path fill="#180c9d" d="M559 2352l7 1 3-2-7-1z"/><path fill="#140eba" d="M527 2336l7 7 4-2-7-7z"/><path fill="#160dac" d="M534 2343l7 5 4-1-7-6z"/><path fill="#0f10dd" d="M678 2320l7-5 3-2-7 5z"/><path fill="#160dac" d="M629 2347l7-2 3-3-7 2z"/><path fill="#0f0fdd" d="M667 2328l8-5 3-3-8 6z"/><path fill="#160dac" d="M541 2348l8 4 3-1-7-4z"/><path fill="#0f11e0" d="M717 2296l7-5 3-2-8 5z"/><path fill="#100fd8" d="M657 2334l7-4 3-2-7 4z"/><path fill="#160dac" d="M601 2351l7 1 4-3-8-1z"/><path fill="#180c9d" d="M584 2353l7 0 3-2-7-1z"/><path fill="#160dac" d="M619 2350l7-1 3-2-7 0z"/><path fill="#180c9d" d="M566 2353l7 1 3-2-7-1z"/><path fill="#120ec9" d="M647 2340l7-3 3-3-7 3z"/><path fill="#0f11e0" d="M706 2302l8-4 3-2-8 4z"/><path fill="#180c9d" d="M549 2352l7 1 3-1-7-1z"/><path fill="#140eba" d="M636 2345l8-3 3-2-8 2z"/><path fill="#160dac" d="M608 2352l8 1 3-3-7-1z"/><path fill="#100fd8" d="M510 2325l7 6 3-1-7-6z"/><path fill="#160dac" d="M591 2353l7 1 3-3-7 0z"/><path fill="#180c9d" d="M573 2354l7 1 4-2-8-1z"/><path fill="#0f10de" d="M685 2315l8-4 3-2-8 4z"/><path fill="#120ec9" d="M517 2331l7 6 3-1-7-6z"/><path fill="#180c9d" d="M556 2353l7 1 3-1-7-1z"/><path fill="#140eba" d="M524 2337l7 6 3 0-7-7z"/><path fill="#160dac" d="M626 2349l7-1 3-3-7 2z"/><path fill="#0f10dd" d="M675 2323l7-5 3-3-7 5z"/><path fill="#140eba" d="M531 2343l7 6 3-1-7-5z"/><path fill="#0f12e2" d="M724 2291l8-6 3-1-8 5z"/><path fill="#0f0fdd" d="M664 2330l8-5 3-2-8 5z"/><path fill="#160dac" d="M538 2349l7 3 4 0-8-4zm60 5l7 1 3-3-7-1z"/><path fill="#0f11e1" d="M714 2298l7-5 3-2-7 5z"/><path fill="#160dac" d="M580 2355l7 1 4-3-7 0zm36-2l7 0 3-4-7 1zm-53 1l7 1 3-1-7-1z"/><path fill="#120ec9" d="M644 2342l7-2 3-3-7 3z"/><path fill="#0f11e0" d="M703 2304l8-4 3-2-8 4z"/><path fill="#160dac" d="M545 2352l7 2 4-1-7-1z"/><path fill="#140eba" d="M633 2348l7-3 4-3-8 3z"/><path fill="#160dac" d="M605 2355l7 1 4-3-8-1zm-18 1l8 0 3-2-7-1z"/><path fill="#0f10de" d="M682 2318l8-5 3-2-8 4z"/><path fill="#0f0fdd" d="M506 2326l7 6 4-1-7-6z"/><path fill="#160dac" d="M570 2355l7 1 3-1-7-1zm53-2l7-2 3-3-7 1z"/><path fill="#100fd8" d="M513 2332l7 6 4-1-7-6z"/><path fill="#0f12e2" d="M732 2285l8-6 2-1-7 6z"/><path fill="#160dac" d="M552 2354l7 1 4-1-7-1z"/><path fill="#0f10dd" d="M672 2325l7-5 3-2-7 5z"/><path fill="#120ec9" d="M520 2338l7 6 4-1-7-6z"/><path fill="#0f0fdd" d="M661 2333l8-6 3-2-8 5z"/><path fill="#0f12e2" d="M721 2293l8-6 3-2-8 6z"/><path fill="#140eba" d="M527 2344l8 5 3 0-7-6z"/><path fill="#100fd8" d="M651 2340l7-4 3-3-7 4z"/><path fill="#160dac" d="M595 2356l7 1 3-2-7-1zm17 0l8 0 3-3-7 0z"/><path fill="#0f11e1" d="M711 2300l7-5 3-2-7 5z"/><path fill="#160dac" d="M577 2356l7 1 3-1-7-1z"/><path fill="#140eba" d="M535 2349l7 3 3 0-7-3z"/><path fill="#120ec9" d="M640 2345l8-2 3-3-7 2z"/><path fill="#0f11e0" d="M700 2307l8-5 3-2-8 4z"/><path fill="#160dac" d="M559 2355l8 0 3 0-7-1z"/><path fill="#140eba" d="M630 2351l7-2 3-4-7 3z"/><path fill="#0f11df" d="M690 2313l7-4 3-2-7 4z"/><path fill="#160dac" d="M602 2357l7 1 3-2-7-1zm-60-5l7 2 3 0-7-2zm42 5l7 1 4-2-8 0zm36-1l7-2 3-3-7 2z"/><path fill="#0f10de" d="M679 2320l8-5 3-2-8 5z"/><path fill="#0f13e3" d="M740 2279l7-7 3-1-8 7z"/><path fill="#0f0fdd" d="M502 2327l8 5 3 0-7-6z"/><path fill="#160dac" d="M567 2355l7 1 3 0-7-1z"/><path fill="#0f10dd" d="M669 2327l7-4 3-3-7 5z"/><path fill="#0f12e2" d="M729 2287l8-6 3-2-8 6z"/><path fill="#0f0fdd" d="M658 2336l8-5 3-4-8 6z"/><path fill="#100fd8" d="M510 2332l7 6 3 0-7-6zm138 11l7-4 3-3-7 4z"/><path fill="#0f12e2" d="M718 2295l8-6 3-2-8 6z"/><path fill="#160dac" d="M549 2354l7 0 3 1-7-1zm60 4l7 0 4-2-8 0z"/><path fill="#120ec9" d="M517 2338l7 5 3 1-7-6z"/><path fill="#160dac" d="M591 2358l8 1 3-2-7-1z"/><path fill="#120ec9" d="M637 2349l8-3 3-3-8 2zm-113-6l7 5 4 1-8-5z"/><path fill="#0f11e1" d="M708 2302l8-5 2-2-7 5z"/><path fill="#160dac" d="M574 2356l7 1 3 0-7-1z"/><path fill="#140eba" d="M627 2354l7-2 3-3-7 2zm-96-6l7 4 4 0-7-3z"/><path fill="#160dac" d="M556 2354l7 1 4 0-8 0z"/><path fill="#0f11df" d="M687 2315l7-4 3-2-7 4z"/><path fill="#160dac" d="M599 2359l7 1 3-2-7-1zm17-1l8-1 3-3-7 2z"/><path fill="#0f13e5" d="M747 2272l8-7 3-1-8 7z"/><path fill="#0f10de" d="M676 2323l8-5 3-3-8 5z"/><path fill="#140eba" d="M538 2352l7 1 4 1-7-2z"/><path fill="#160dac" d="M581 2357l7 1 3 0-7-1z"/><path fill="#0f10dd" d="M666 2331l7-5 3-3-7 4z"/><path fill="#0f13e3" d="M737 2281l8-7 2-2-7 7z"/><path fill="#0f0fdd" d="M655 2339l8-5 3-3-8 5z"/><path fill="#0f12e2" d="M726 2289l8-6 3-2-8 6z"/><path fill="#100fd8" d="M645 2346l7-4 3-3-7 4z"/><path fill="#0f0fdd" d="M499 2327l7 5 4 0-8-5z"/><path fill="#140eba" d="M563 2355l7 1 4 0-7-1z"/><path fill="#0f12e2" d="M716 2297l7-6 3-2-8 6z"/><path fill="#120ec9" d="M634 2352l8-2 3-4-8 3z"/><path fill="#160dac" d="M606 2360l7 0 3-2-7 0z"/><path fill="#0f0fdd" d="M506 2332l7 5 4 1-7-6z"/><path fill="#0f11e1" d="M705 2304l8-5 3-2-8 5z"/><path fill="#100fd8" d="M513 2337l7 6 4 0-7-5z"/><path fill="#160dac" d="M588 2358l7 1 4 0-8-1z"/><path fill="#140eba" d="M545 2353l8 0 3 1-7 0zm79 4l7-2 3-3-7 2z"/><path fill="#120ec9" d="M520 2343l8 4 3 1-7-5z"/><path fill="#140eba" d="M570 2356l8 1 3 0-7-1z"/><path fill="#0f11df" d="M684 2318l7-4 3-3-7 4z"/><path fill="#120ec9" d="M528 2347l7 3 3 2-7-4z"/><path fill="#140eba" d="M613 2360l7-2 4-1-8 1z"/><path fill="#0f14e6" d="M755 2265l8-7 3-1-8 7z"/><path fill="#0f10de" d="M673 2326l8-4 3-4-8 5z"/><path fill="#160dac" d="M595 2359l8 1 3 0-7-1z"/><path fill="#0f10dd" d="M663 2334l7-5 3-3-7 5z"/><path fill="#140eba" d="M553 2353l7 1 3 1-7-1z"/><path fill="#0f13e5" d="M745 2274l7-7 3-2-8 7z"/><path fill="#0f0fdd" d="M652 2342l8-4 3-4-8 5z"/><path fill="#120ec9" d="M642 2350l7-4 3-4-7 4z"/><path fill="#0f13e4" d="M734 2283l8-7 3-2-8 7z"/><path fill="#140eba" d="M578 2357l7 0 3 1-7-1z"/><path fill="#0f12e2" d="M723 2291l8-6 3-2-8 6z"/><path fill="#120ec9" d="M631 2355l7-2 4-3-8 2zm-96-5l7 1 3 2-7-1z"/><path fill="#0f12e2" d="M713 2299l7-6 3-2-7 6z"/><path fill="#0f10dd" d="M495 2327l7 4 4 1-7-5z"/><path fill="#140eba" d="M603 2360l7 0 3 0-7 0z"/><path fill="#0f11e1" d="M702 2306l8-5 3-2-8 5z"/><path fill="#140eba" d="M560 2354l7 1 3 1-7-1zm60 4l8-1 3-2-7 2z"/><path fill="#0f0fdd" d="M502 2331l8 5 3 1-7-5z"/><path fill="#0f11e0" d="M691 2314l8-5 3-3-8 5z"/><path fill="#140eba" d="M585 2357l7 2 3 0-7-1z"/><path fill="#0f0fdd" d="M510 2336l7 5 3 2-7-6z"/><path fill="#0f11df" d="M681 2322l7-5 3-3-7 4z"/><path fill="#120ec9" d="M542 2351l7 1 4 1-8 0z"/><path fill="#0f10de" d="M670 2329l8-4 3-3-8 4z"/><path fill="#123db6" d="M763 2258l8-7 3-1-8 7z"/><path fill="#0f10dd" d="M660 2338l7-5 3-4-7 5z"/><path fill="#100fd8" d="M649 2346l7-4 4-4-8 4zm-132-5l7 4 4 2-8-4z"/><path fill="#120ec9" d="M638 2353l8-4 3-3-7 4z"/><path fill="#140eba" d="M567 2355l7 0 4 2-8-1z"/><path fill="#0f14e6" d="M752 2267l8-8 3-1-8 7z"/><path fill="#140eba" d="M610 2360l7-1 3-1-7 2z"/><path fill="#0f13e5" d="M742 2276l8-8 2-1-7 7z"/><path fill="#140eba" d="M592 2359l7 1 4 0-8-1z"/><path fill="#100fd8" d="M524 2345l7 3 4 2-7-3z"/><path fill="#0f13e4" d="M731 2285l8-8 3-1-8 7z"/><path fill="#120ec9" d="M628 2357l7-2 3-2-7 2z"/><path fill="#0f13e3" d="M720 2293l8-6 3-2-8 6z"/><path fill="#120ec9" d="M549 2352l7 0 4 2-7-1z"/><path fill="#0f12e2" d="M710 2301l7-6 3-2-7 6z"/><path fill="#120ec9" d="M574 2355l7 1 4 1-7 0z"/><path fill="#0f11e0" d="M688 2317l8-4 3-4-8 5z"/><path fill="#0f10de" d="M492 2326l7 4 3 1-7-4z"/><path fill="#100fd8" d="M531 2348l7 1 4 2-7-1z"/><path fill="#140eba" d="M599 2360l8 0 3 0-7 0zm18-1l8-2 3 0-8 1z"/><path fill="#0f11df" d="M678 2325l7-4 3-4-7 5z"/><path fill="#0f10de" d="M667 2333l8-4 3-4-8 4z"/><path fill="#0f0fdd" d="M656 2342l8-4 3-5-7 5z"/><path fill="#0f10dd" d="M499 2330l7 5 4 1-8-5z"/><path fill="#100fd8" d="M646 2349l7-4 3-3-7 4z"/><path fill="#155898" d="M771 2251l8-8 3 0-8 7z"/><path fill="#120ec9" d="M556 2352l8 0 3 3-7-1zm25 4l8 1 3 2-7-2zm54-1l8-3 3-3-8 4z"/><path fill="#123db6" d="M760 2259l8-7 3-1-8 7z"/><path fill="#0f0fdd" d="M506 2335l7 4 4 2-7-5z"/><path fill="#1022d5" d="M750 2268l8-7 2-2-8 8z"/><path fill="#100fd8" d="M538 2349l8 0 3 3-7-1z"/><path fill="#0f13e5" d="M739 2277l8-7 3-2-8 8z"/><path fill="#140eba" d="M607 2360l7-1 3 0-7 1z"/><path fill="#0f0fdd" d="M513 2339l7 4 4 2-7-4z"/><path fill="#0f13e4" d="M728 2287l8-8 3-2-8 8z"/><path fill="#0f13e3" d="M717 2295l8-6 3-2-8 6z"/><path fill="#120ec9" d="M564 2352l7 1 3 2-7 0zm61 5l7-1 3-1-7 2z"/><path fill="#0f12e2" d="M707 2304l7-6 3-3-7 6z"/><path fill="#120ec9" d="M589 2357l7 1 3 2-7-1z"/><path fill="#0f11e0" d="M685 2321l8-4 3-4-8 4z"/><path fill="#0f0fdd" d="M520 2343l8 3 3 2-7-3z"/><path fill="#0f11df" d="M675 2329l7-3 3-5-7 4z"/><path fill="#0f10dd" d="M664 2338l8-4 3-5-8 4z"/><path fill="#0f0fdd" d="M653 2345l8-3 3-4-8 4z"/><path fill="#100fd8" d="M546 2349l7 0 3 3-7 0z"/><path fill="#198d63" d="M779 2243l8-7 3-1-8 8z"/><path fill="#100fd8" d="M643 2352l7-4 3-3-7 4z"/><path fill="#120ec9" d="M571 2353l7 1 3 2-7-1z"/><path fill="#0f10de" d="M488 2325l7 4 4 1-7-4z"/><path fill="#120ec9" d="M614 2359l7-1 4-1-8 2zm-18-1l7 1 4 1-8 0z"/><path fill="#155898" d="M768 2252l8-8 3-1-8 8z"/><path fill="#100fd8" d="M528 2346l7 0 3 3-7-1zm104 10l8-3 3-1-8 3z"/><path fill="#0f10de" d="M495 2329l7 4 4 2-7-5z"/><path fill="#123db6" d="M758 2261l8-8 2-1-8 7z"/><path fill="#1022d5" d="M747 2270l8-8 3-1-8 7z"/><path fill="#100fd8" d="M553 2349l7 1 4 2-8 0z"/><path fill="#0f13e5" d="M736 2279l8-8 3-1-8 7z"/><path fill="#120ec9" d="M578 2354l7 1 4 2-8-1z"/><path fill="#0f13e4" d="M725 2289l8-8 3-2-8 8z"/><path fill="#0f10dd" d="M502 2333l8 4 3 2-7-4z"/><path fill="#0f12e2" d="M704 2308l7-6 3-4-7 6z"/><path fill="#0f13e3" d="M714 2298l8-6 3-3-8 6z"/><path fill="#0f11e0" d="M682 2326l8-5 3-4-8 4z"/><path fill="#0f10de" d="M672 2334l7-3 3-5-7 3z"/><path fill="#0f10dd" d="M661 2342l7-4 4-4-8 4z"/><path fill="#120ec9" d="M603 2359l8-1 3 1-7 1zm18-1l8-2 3 0-7 1z"/><path fill="#0f0fdd" d="M535 2346l7 0 4 3-8 0z"/><path fill="#0f10dd" d="M510 2337l7 4 3 2-7-4z"/><path fill="#0f0fdd" d="M650 2348l8-4 3-2-8 3z"/><path fill="#100fd8" d="M560 2350l7 0 4 3-7-1z"/><path fill="#219b53" d="M787 2236l8-8 3-1-8 8z"/><path fill="#100fd8" d="M585 2355l8 1 3 2-7-1zm55-2l7-3 3-2-7 4z"/><path fill="#0f10dd" d="M517 2341l7 2 4 3-8-3z"/><path fill="#198d63" d="M776 2244l8-7 3-1-8 7z"/><path fill="#17737d" d="M766 2253l8-8 2-1-8 8z"/><path fill="#0f11df" d="M484 2324l7 4 4 1-7-4z"/><path fill="#0f0fdd" d="M542 2346l7 0 4 3-7 0z"/><path fill="#100fd8" d="M611 2358l7-1 3 1-7 1zm18-2l7-2 4-1-8 3z"/><path fill="#0f11df" d="M679 2331l8-4 3-6-8 5z"/><path fill="#123db6" d="M755 2262l8-8 3-1-8 8z"/><path fill="#100fd8" d="M567 2350l8 1 3 3-7-1z"/><path fill="#0f11e1" d="M690 2321l8-5 3-4-8 5z"/><path fill="#100fd8" d="M593 2356l7 0 3 3-7-1z"/><path fill="#0f10de" d="M668 2338l8-3 3-4-7 3z"/><path fill="#0f13e3" d="M711 2302l8-7 3-3-8 6z"/><path fill="#1022d5" d="M744 2271l8-8 3-1-8 8z"/><path fill="#0f13e4" d="M722 2292l8-8 3-3-8 8z"/><path fill="#0f14e6" d="M733 2281l8-8 3-2-8 8z"/><path fill="#0f11df" d="M491 2328l8 3 3 2-7-4z"/><path fill="#0f10dd" d="M524 2343l7 0 4 3-7 0zm134 1l7-3 3-3-7 4z"/><path fill="#0f0fdd" d="M549 2346l8 0 3 4-7-1zm98 4l8-4 3-2-8 4z"/><path fill="#0f10de" d="M499 2331l7 4 4 2-8-4z"/><path fill="#100fd8" d="M575 2351l7 1 3 3-7-1z"/><path fill="#31b734" d="M795 2228l9-8 2-1-8 8z"/><path fill="#100fd8" d="M618 2357l8-2 3 1-8 2zm-18-1l8 0 3 2-8 1z"/><path fill="#29a944" d="M784 2237l9-8 2-1-8 8z"/><path fill="#0f10de" d="M506 2335l7 3 4 3-7-4z"/><path fill="#0f10dd" d="M531 2343l8 0 3 3-7 0z"/><path fill="#0f0fdd" d="M636 2354l8-4 3 0-7 3z"/><path fill="#0f11df" d="M676 2335l8-4 3-4-8 4z"/><path fill="#0f11e0" d="M687 2327l7-5 4-6-8 5z"/><path fill="#198d63" d="M774 2245l8-7 2-1-8 7z"/><path fill="#0f0fdd" d="M557 2346l7 1 3 3-7 0z"/><path fill="#100fd8" d="M582 2352l7 1 4 3-8-1z"/><path fill="#0f10de" d="M665 2341l8-3 3-3-8 3z"/><path fill="#17737d" d="M763 2254l8-8 3-1-8 8z"/><path fill="#0f12e2" d="M708 2306l8-7 3-4-8 7z"/><path fill="#0f10de" d="M513 2338l7 2 4 3-7-2z"/><path fill="#0f13e4" d="M719 2295l8-8 3-3-8 8z"/><path fill="#155898" d="M752 2263l8-8 3-1-8 8z"/><path fill="#0f14e6" d="M730 2284l8-8 3-3-8 8z"/><path fill="#1022d5" d="M741 2273l8-8 3-2-8 8z"/><path fill="#100fd8" d="M608 2356l7-1 3 2-7 1z"/><path fill="#0f0fdd" d="M626 2355l7-2 3 1-7 2z"/><path fill="#0f10dd" d="M655 2346l7-2 3-3-7 3zm-116-3l7 0 3 3-7 0z"/><path fill="#0f0fdd" d="M589 2353l8 1 3 2-7 0z"/><path fill="#0f11df" d="M488 2326l7 4 4 1-8-3z"/><path fill="#0f0fdd" d="M564 2347l7 1 4 3-8-1z"/><path fill="#40bd2d" d="M804 2220l8-9 3-1-9 9z"/><path fill="#0f10dd" d="M644 2350l7-2 4-2-8 4z"/><path fill="#0f10de" d="M520 2340l8 0 3 3-7 0z"/><path fill="#31b734" d="M793 2229l8-9 3 0-9 8z"/><path fill="#0f11df" d="M673 2338l8-3 3-4-8 4zm-178-8l7 3 4 2-7-4z"/><path fill="#29a944" d="M782 2238l8-8 3-1-9 8z"/><path fill="#0f0fdd" d="M615 2355l7-1 4 1-8 2z"/><path fill="#0f12e2" d="M705 2311l8-7 3-5-8 7z"/><path fill="#0f10dd" d="M546 2343l7 0 4 3-8 0z"/><path fill="#0f0fdd" d="M633 2353l8-3 3 0-8 4z"/><path fill="#0f10de" d="M662 2344l8-3 3-3-8 3z"/><path fill="#0f10dd" d="M571 2348l8 0 3 4-7-1z"/><path fill="#0f0fdd" d="M597 2354l7-1 4 3-8 0z"/><path fill="#219b53" d="M771 2246l8-8 3 0-8 7z"/><path fill="#0f13e4" d="M716 2299l8-8 3-4-8 8z"/><path fill="#0f11df" d="M502 2333l7 3 4 2-7-3z"/><path fill="#17737d" d="M760 2255l8-8 3-1-8 8z"/><path fill="#0f14e6" d="M727 2287l8-8 3-3-8 8z"/><path fill="#0f10de" d="M528 2340l7 0 4 3-8 0z"/><path fill="#155898" d="M749 2265l8-9 3-1-8 8z"/><path fill="#1022d5" d="M738 2276l8-9 3-2-8 8z"/><path fill="#0f10dd" d="M651 2348l8-3 3-1-7 2zm-72 0l7 2 3 3-7-1zm-26-5l8 0 3 4-7-1z"/><path fill="#0f0fdd" d="M622 2354l8-2 3 1-7 2z"/><path fill="#0f11df" d="M509 2336l8 1 3 3-7-2z"/><path fill="#0f11e1" d="M691 2327l8-5 3-5-8 5z"/><path fill="#62c820" d="M812 2211l8-10 3-1-8 10z"/><path fill="#0f0fdd" d="M604 2353l8-1 3 3-7 1z"/><path fill="#51c326" d="M801 2220l8-8 3-1-8 9z"/><path fill="#0f10dd" d="M641 2350l7-2 3 0-7 2z"/><path fill="#0f11df" d="M670 2341l7-3 4-3-8 3z"/><path fill="#0f11e0" d="M484 2325l7 3 4 2-7-4z"/><path fill="#0f10de" d="M535 2340l7-1 4 4-7 0z"/><path fill="#31b734" d="M790 2230l8-9 3-1-8 9z"/><path fill="#0f10dd" d="M586 2350l8 0 3 4-8-1z"/><path fill="#0f13e4" d="M713 2304l8-7 3-6-8 8z"/><path fill="#0f10de" d="M561 2343l7 1 3 4-7-1z"/><path fill="#29a944" d="M779 2238l8-8 3 0-8 8z"/><path fill="#0f10de" d="M659 2345l8-2 3-2-8 3z"/><path fill="#0f11df" d="M517 2337l7 0 4 3-8 0z"/><path fill="#0f11e0" d="M491 2328l7 3 4 2-7-3z"/><path fill="#0f14e6" d="M724 2291l8-8 3-4-8 8z"/><path fill="#219b53" d="M768 2247l8-8 3-1-8 8z"/><path fill="#0f10dd" d="M612 2352l7 0 3 2-7 1zm18 0l8-2 3 0-8 3z"/><path fill="#1022d5" d="M735 2279l8-8 3-4-8 9z"/><path fill="#198d63" d="M757 2256l8-8 3-1-8 8z"/><path fill="#155898" d="M746 2267l8-8 3-3-8 9z"/><path fill="#0f10de" d="M542 2339l8 0 3 4-7 0zm106 9l8-2 3-1-8 3z"/><path fill="#0f10dd" d="M594 2350l7 0 3 3-7 1z"/><path fill="#0f11e0" d="M498 2331l8 3 3 2-7-3z"/><path fill="#0f10de" d="M568 2344l7 1 4 3-8 0z"/><path fill="#0f11e0" d="M677 2338l8-4 3-3-7 4z"/><path fill="#83d214" d="M820 2201l9-10 2-1-8 10z"/><path fill="#0f11df" d="M524 2337l7-1 4 4-7 0z"/><path fill="#72cd1a" d="M809 2212l9-10 2-1-8 10z"/><path fill="#0f13e3" d="M710 2310l8-7 3-6-8 7z"/><path fill="#0f11df" d="M667 2343l7-3 3-2-7 3z"/><path fill="#51c326" d="M798 2221l9-8 2-1-8 8z"/><path fill="#0f10dd" d="M619 2352l8-2 3 2-8 2z"/><path fill="#0f11df" d="M506 2334l7 1 4 2-8-1z"/><path fill="#0f10de" d="M575 2345l8 1 3 4-7-2zm63 5l7-2 3 0-7 2z"/><path fill="#0f11df" d="M550 2339l7 0 4 4-8 0z"/><path fill="#40bd2d" d="M787 2230l9-8 2-1-8 9z"/><path fill="#0f13e5" d="M721 2297l8-9 3-5-8 8z"/><path fill="#0f10dd" d="M601 2350l7-1 4 3-8 1z"/><path fill="#0f10de" d="M656 2346l8-2 3-1-8 2z"/><path fill="#29a944" d="M776 2239l9-8 2-1-8 8z"/><path fill="#1022d5" d="M732 2283l8-9 3-3-8 8z"/><path fill="#0f11df" d="M531 2336l8 0 3 3-7 1z"/><path fill="#219b53" d="M765 2248l9-8 2-1-8 8z"/><path fill="#155898" d="M743 2271l8-9 3-3-8 8z"/><path fill="#0f11e1" d="M487 2327l8 3 3 1-7-3z"/><path fill="#198d63" d="M754 2259l9-9 2-2-8 8z"/><path fill="#0f10de" d="M583 2346l7 0 4 4-8 0z"/><path fill="#0f11e0" d="M513 2335l7-1 4 3-7 0z"/><path fill="#0f11df" d="M557 2339l7 1 4 4-7-1z"/><path fill="#0f11e0" d="M674 2340l8-3 3-3-8 4z"/><path fill="#0f10de" d="M627 2350l7-2 4 2-8 2zm18-2l8-2 3 0-8 2zm-37 1l8 0 3 3-7 0z"/><path fill="#a9d610" d="M829 2191l8-10 3-2-9 11z"/><path fill="#83d214" d="M818 2202l8-9 3-2-9 10z"/><path fill="#0f11e0" d="M495 2330l7 2 4 2-8-3z"/><path fill="#0f13e5" d="M718 2303l8-8 3-7-8 9z"/><path fill="#0f11df" d="M664 2344l7-2 3-2-7 3z"/><path fill="#72cd1a" d="M807 2213l8-9 3-2-9 10z"/><path fill="#0f11e0" d="M539 2336l7-1 4 4-8 0z"/><path fill="#0f10de" d="M590 2346l8 0 3 4-7 0z"/><path fill="#51c326" d="M796 2222l8-8 3-1-9 8z"/><path fill="#0f11df" d="M564 2340l8 0 3 5-7-1z"/><path fill="#0f11e0" d="M520 2334l8-1 3 3-7 1z"/><path fill="#1022d5" d="M729 2288l8-8 3-6-8 9z"/><path fill="#40bd2d" d="M785 2231l8-8 3-1-9 8z"/><path fill="#0f11e0" d="M502 2332l7 1 4 2-7-1z"/><path fill="#0f10de" d="M634 2348l8-1 3 1-7 2zm-18 1l8-1 3 2-8 2z"/><path fill="#0f11df" d="M653 2346l7-2 4 0-8 2z"/><path fill="#31b734" d="M774 2240l8-8 3-1-9 8z"/><path fill="#0f11e1" d="M682 2337l8-4 3-3-8 4z"/><path fill="#155898" d="M740 2274l8-8 3-4-8 9z"/><path fill="#198d63" d="M751 2262l9-9 3-3-9 9z"/><path fill="#219b53" d="M763 2250l8-8 3-2-9 8z"/><path fill="#0f11e0" d="M546 2335l7 0 4 4-7 0z"/><path fill="#0f11df" d="M572 2340l7 2 4 4-8-1z"/><path fill="#0f10de" d="M598 2346l7 0 3 3-7 1z"/><path fill="#0f11e0" d="M671 2342l8-3 3-2-8 3z"/><path fill="#0f13e4" d="M715 2308l8-7 3-6-8 8z"/><path fill="#0f11e1" d="M484 2327l7 2 4 1-8-3z"/><path fill="#0f11e0" d="M528 2333l7 0 4 3-8 0z"/><path fill="#ceda0c" d="M837 2181l9-11 3-2-9 11z"/><path fill="#a9d610" d="M826 2193l9-10 2-2-8 10z"/><path fill="#0f11e1" d="M509 2333l8-1 3 2-7 1z"/><path fill="#96d412" d="M815 2204l9-10 2-1-8 9z"/><path fill="#0f14e6" d="M726 2295l8-9 3-6-8 8z"/><path fill="#0f11df" d="M642 2347l8-2 3 1-8 2zm-18 1l7-2 3 2-7 2zm-45-6l8 0 3 4-7 0zm81 2l8-1 3-1-7 2z"/><path fill="#72cd1a" d="M804 2214l8-9 3-1-8 9z"/><path fill="#0f11e0" d="M553 2335l8 1 3 4-7-1z"/><path fill="#0f11e1" d="M491 2329l7 2 4 1-7-2z"/><path fill="#0f11df" d="M605 2346l8 0 3 3-8 0z"/><path fill="#62c820" d="M793 2223l8-8 3-1-8 8z"/><path fill="#155898" d="M737 2280l8-9 3-5-8 8z"/><path fill="#40bd2d" d="M782 2232l8-8 3-1-8 8z"/><path fill="#0f11e1" d="M679 2339l8-4 3-2-8 4zm-144-6l7-1 4 3-7 1z"/><path fill="#0f13e4" d="M712 2313l8-7 3-5-8 7z"/><path fill="#198d63" d="M748 2266l9-9 3-4-9 9z"/><path fill="#31b734" d="M771 2242l8-8 3-2-8 8z"/><path fill="#0f11e1" d="M517 2332l7-1 4 2-8 1z"/><path fill="#219b53" d="M760 2253l8-8 3-3-8 8z"/><path fill="#0f11df" d="M587 2342l7 1 4 3-8 0z"/><path fill="#0f11e0" d="M561 2336l7 1 4 3-8 0z"/><path fill="#0f11e1" d="M498 2331l8 1 3 1-7-1z"/><path fill="#0f11df" d="M650 2345l7-1 3 0-7 2zm-19 1l8-1 3 2-8 1z"/><path fill="#0f14e6" d="M723 2301l8-9 3-6-8 9z"/><path fill="#0f11e0" d="M668 2343l8-3 3-1-8 3z"/><path fill="#0f11df" d="M613 2346l7-1 4 3-8 1z"/><path fill="#e1d70a" d="M846 2170l9-12 3-2-9 12z"/><path fill="#ceda0c" d="M835 2183l9-11 2-2-9 11z"/><path fill="#a9d610" d="M824 2194l8-9 3-2-9 10z"/><path fill="#0f11e1" d="M542 2332l8 0 3 3-7 0z"/><path fill="#96d412" d="M812 2205l9-9 3-2-9 10z"/><path fill="#123db6" d="M734 2286l8-8 3-7-8 9z"/><path fill="#0f11e0" d="M568 2337l8 1 3 4-7-2zm26 6l8-1 3 4-7 0z"/><path fill="#72cd1a" d="M801 2215l9-9 2-1-8 9z"/><path fill="#0f11e1" d="M506 2332l7-1 4 1-8 1zm18-1l7-1 4 3-7 0z"/><path fill="#0f11e0" d="M657 2344l8-1 3 0-8 1zm-18 1l7-1 4 1-8 2z"/><path fill="#0f12e2" d="M487 2330l7 1 4 0-7-2z"/><path fill="#62c820" d="M790 2224l9-8 2-1-8 8z"/><path fill="#17737d" d="M745 2271l9-9 3-5-9 9z"/><path fill="#0f11e0" d="M620 2345l8-1 3 2-7 2z"/><path fill="#0f11e1" d="M676 2340l8-3 3-2-8 4z"/><path fill="#51c326" d="M779 2234l8-8 3-2-8 8z"/><path fill="#0f13e5" d="M720 2306l8-8 3-6-8 9z"/><path fill="#219b53" d="M757 2257l8-8 3-4-8 8z"/><path fill="#31b734" d="M768 2245l8-8 3-3-8 8z"/><path fill="#0f11e0" d="M576 2338l7 1 4 3-8 0z"/><path fill="#0f11e1" d="M550 2332l7 0 4 4-8-1z"/><path fill="#0f11e0" d="M602 2342l7 1 4 3-8 0z"/><path fill="#123db6" d="M731 2292l8-8 3-6-8 8z"/><path fill="#0f12e2" d="M494 2331l8 1 4 0-8-1zm37-1l8 0 3 2-7 1zm-18 1l7-1 4 1-7 1z"/><path fill="#0f11e0" d="M646 2344l8 0 3 0-7 1zm19-1l8-2 3-1-8 3z"/><path fill="#ceda0c" d="M832 2185l9-11 3-2-9 11z"/><path fill="#e1d70a" d="M844 2172l8-11 3-3-9 12z"/><path fill="#0f11e0" d="M628 2344l8-1 3 2-8 1z"/><path fill="#eace0a" d="M855 2158l9-12 3-2-9 12z"/><path fill="#a9d610" d="M821 2196l8-9 3-2-8 9z"/><path fill="#0f11e0" d="M583 2339l8 0 3 4-7-1z"/><path fill="#0f11e1" d="M557 2332l8 1 3 4-7-1z"/><path fill="#17737d" d="M742 2278l8-9 4-7-9 9z"/><path fill="#96d412" d="M810 2206l8-8 3-2-9 9z"/><path fill="#0f11e0" d="M609 2343l8-1 3 3-7 1z"/><path fill="#0f12e2" d="M684 2337l7-3 4-3-8 4z"/><path fill="#72cd1a" d="M799 2216l8-8 3-2-9 9z"/><path fill="#0f13e5" d="M717 2311l8-7 3-6-8 8z"/><path fill="#219b53" d="M754 2262l8-8 3-5-8 8z"/><path fill="#0f12e2" d="M502 2332l7-1 4 0-7 1zm37-2l7-1 4 3-8 0z"/><path fill="#62c820" d="M787 2226l9-8 3-2-9 8z"/><path fill="#0f12e2" d="M483 2331l8 1 3-1-7-1z"/><path fill="#0f11e0" d="M654 2344l8-1 3 0-8 1z"/><path fill="#51c326" d="M776 2237l8-8 3-3-8 8z"/><path fill="#0f12e2" d="M520 2330l8-1 3 1-7 1z"/><path fill="#31b734" d="M765 2249l8-8 3-4-8 8z"/><path fill="#0f11e1" d="M565 2333l7 1 4 4-8-1zm108 8l7-2 4-2-8 3z"/><path fill="#1022d5" d="M728 2298l8-8 3-6-8 8z"/><path fill="#0f11e1" d="M591 2339l7 0 4 3-8 1z"/><path fill="#0f11e0" d="M636 2343l7 0 3 1-7 1z"/><path fill="#0f11e1" d="M617 2342l8-1 3 3-8 1z"/><path fill="#155898" d="M739 2284l8-8 3-7-8 9z"/><path fill="#0f12e2" d="M491 2332l7 1 4-1-8-1zm55-3l8 1 3 2-7 0z"/><path fill="#0f11e1" d="M572 2334l8 1 3 4-7-1zm90 9l8-1 3-1-8 2z"/><path fill="#e1d70a" d="M841 2174l9-10 2-3-8 11z"/><path fill="#ceda0c" d="M829 2187l9-10 3-3-9 11z"/><path fill="#0f12e2" d="M509 2331l8-1 3 0-7 1z"/><path fill="#eace0a" d="M852 2161l9-12 3-3-9 12z"/><path fill="#0f11e1" d="M598 2339l8 0 3 4-7-1z"/><path fill="#bbd80e" d="M818 2198l9-9 2-2-8 9z"/><path fill="#ecc20b" d="M864 2146l9-12 3-2-9 12z"/><path fill="#0f12e2" d="M528 2329l7-1 4 2-8 0z"/><path fill="#0f11e1" d="M643 2343l8 0 3 1-8 0z"/><path fill="#198d63" d="M750 2269l9-8 3-7-8 8z"/><path fill="#96d412" d="M807 2208l8-8 3-2-8 8z"/><path fill="#0f12e2" d="M680 2339l8-3 3-2-7 3z"/><path fill="#0f14e6" d="M725 2304l8-8 3-6-8 8z"/><path fill="#83d214" d="M796 2218l8-7 3-3-8 8z"/><path fill="#31b734" d="M762 2254l8-7 3-6-8 8z"/><path fill="#0f11e1" d="M625 2341l7 0 4 2-8 1z"/><path fill="#62c820" d="M784 2229l9-7 3-4-9 8z"/><path fill="#40bd2d" d="M773 2241l9-8 2-4-8 8z"/><path fill="#0f12e2" d="M554 2330l7 1 4 2-8-1zm26 5l7 1 4 3-8 0zm-82-2l7-1 4-1-7 1z"/><path fill="#155898" d="M736 2290l8-8 3-6-8 8z"/><path fill="#0f11e1" d="M606 2339l8 0 3 3-8 1zm64 3l7-2 3-1-7 2zm-19 1l8-1 3 1-8 1z"/><path fill="#0f12e2" d="M517 2330l7-1 4 0-8 1zm18-2l8 0 3 1-7 1z"/><path fill="#198d63" d="M747 2276l9-8 3-7-9 8z"/><path fill="#0f11e1" d="M632 2341l8 0 3 2-7 0z"/><path fill="#0f12e2" d="M561 2331l8 1 3 2-7-1zm-74 3l7 1 4-2-7-1zm100 2l8 0 3 3-7 0z"/><path fill="#e1d70a" d="M838 2177l9-10 3-3-9 10z"/><path fill="#ceda0c" d="M827 2189l8-9 3-3-9 10z"/><path fill="#eace0a" d="M850 2164l9-12 2-3-9 12z"/><path fill="#0f14e6" d="M722 2309l8-7 3-6-8 8z"/><path fill="#29a944" d="M759 2261l8-7 3-7-8 7z"/><path fill="#ecc20b" d="M861 2149l9-12 3-3-9 12z"/><path fill="#cf9e12" d="M873 2134l9-11 3-3-9 12z"/><path fill="#bbd80e" d="M815 2200l9-8 3-3-9 9z"/><path fill="#0f12e2" d="M505 2332l8-1 4-1-8 1z"/><path fill="#0f12e2" d="M614 2339l7 0 4 2-8 1z"/><path fill="#0f11e1" d="M659 2342l7 0 4 0-8 1z"/><path fill="#96d412" d="M804 2211l9-8 2-3-8 8z"/><path fill="#0f12e2" d="M543 2328l7 0 4 2-8-1z"/><path fill="#40bd2d" d="M770 2247l8-7 4-7-9 8z"/><path fill="#83d214" d="M793 2222l8-7 3-4-8 7z"/><path fill="#123db6" d="M733 2296l8-7 3-7-8 8z"/><path fill="#0f12e2" d="M677 2340l8-2 3-2-8 3z"/><path fill="#0f12e2" d="M524 2329l8-1 3 0-7 1z"/><path fill="#62c820" d="M782 2233l8-7 3-4-9 7z"/><path fill="#0f12e2" d="M569 2332l7 1 4 2-8-1z"/><path fill="#0f11e1" d="M640 2341l8 0 3 2-8 0z"/><path fill="#0f12e2" d="M595 2336l8 1 3 2-8 0z"/><path fill="#17737d" d="M744 2282l8-7 4-7-9 8z"/><path fill="#0f12e2" d="M494 2335l8-1 3-2-7 1z"/><path fill="#0f12e2" d="M621 2339l8 0 3 2-7 0z"/><path fill="#0f12e2" d="M550 2328l8 1 3 2-7-1z"/><path fill="#0f12e2" d="M666 2342l8-1 3-1-7 2z"/><path fill="#219b53" d="M756 2268l8-6 3-8-8 7z"/><path fill="#0f12e2" d="M513 2331l7-1 4-1-7 1zm63 2l8 0 3 3-7-1z"/><path fill="#0f12e2" d="M648 2341l7 1 4 0-8 1z"/><path fill="#0f13e3" d="M532 2328l7 0 4 0-8 0z"/><path fill="#0f12e2" d="M483 2337l8 0 3-2-7-1z"/><path fill="#0f12e2" d="M603 2337l7 0 4 2-8 0z"/><path fill="#31b734" d="M767 2254l8-7 3-7-8 7z"/><path fill="#e1d70a" d="M835 2180l9-10 3-3-9 10z"/><path fill="#0f12e2" d="M685 2338l8-3 3-3-8 4z"/><path fill="#1022d5" d="M730 2302l8-6 3-7-8 7z"/><path fill="#eace0a" d="M847 2167l9-11 3-4-9 12z"/><path fill="#ceda0c" d="M824 2192l9-9 2-3-8 9z"/><path fill="#ecc20b" d="M859 2152l9-11 2-4-9 12z"/><path fill="#bbd80e" d="M813 2203l8-7 3-4-9 8z"/><path fill="#d8aa10" d="M870 2137l9-11 3-3-9 11z"/><path fill="#51c326" d="M778 2240l9-7 3-7-8 7z"/><path fill="#96d412" d="M801 2215l9-7 3-5-9 8z"/><path fill="#0f12e2" d="M502 2334l7-2 4-1-8 1z"/><path fill="#72cd1a" d="M790 2226l8-6 3-5-8 7z"/><path fill="#0f12e2" d="M629 2339l8 0 3 2-8 0z"/><path fill="#0f12e2" d="M558 2329l7 1 4 2-8-1z"/><path fill="#155898" d="M741 2289l8-7 3-7-8 7z"/><path fill="#0f12e2" d="M584 2333l8 1 3 2-8 0z"/><path fill="#0f12e2" d="M674 2341l8-2 3-1-8 2zm-19 1l8 0 3 0-7 0z"/><path fill="#0f13e3" d="M520 2330l8-1 4-1-8 1zm19-2l8 0 3 0-7 0z"/><path fill="#219b53" d="M752 2275l9-6 3-7-8 6z"/><path fill="#0f12e2" d="M491 2337l7 0 4-3-8 1z"/><path fill="#0f12e2" d="M610 2337l8 0 3 2-7 0z"/><path fill="#31b734" d="M764 2262l8-7 3-8-8 7z"/><path fill="#0f12e2" d="M565 2330l8 1 3 2-7-1z"/><path fill="#0f12e2" d="M637 2339l7 1 4 1-8 0z"/><path fill="#1022d5" d="M727 2308l8-6 3-6-8 6z"/><path fill="#0f12e2" d="M592 2334l7 1 4 2-8-1z"/><path fill="#0f13e3" d="M509 2332l8-1 3-1-7 1z"/><path fill="#51c326" d="M775 2247l9-6 3-8-9 7z"/><path fill="#0f12e2" d="M663 2342l8-1 3 0-8 1z"/><path fill="#155898" d="M738 2296l8-6 3-8-8 7z"/><path fill="#0f13e3" d="M547 2328l7 1 4 0-8-1z"/><path fill="#e1d70a" d="M833 2183l8-9 3-4-9 10z"/><path fill="#eace0a" d="M844 2170l9-10 3-4-9 11z"/><path fill="#ceda0c" d="M821 2196l9-8 3-5-9 9z"/><path fill="#72cd1a" d="M787 2233l8-7 3-6-8 6z"/><path fill="#a9d610" d="M810 2208l8-7 3-5-8 7z"/><path fill="#0f12e2" d="M618 2337l8 0 3 2-8 0z"/><path fill="#0f13e3" d="M528 2329l7 0 4-1-7 0z"/><path fill="#ecc20b" d="M856 2156l9-11 3-4-9 11z"/><path fill="#96d412" d="M798 2220l9-7 3-5-9 7z"/><path fill="#0f12e2" d="M682 2339l8-2 3-2-8 3z"/><path fill="#d8aa10" d="M868 2141l9-11 2-4-9 11z"/><path fill="#0f12e2" d="M644 2340l8 1 3 1-7-1z"/><path fill="#0f12e2" d="M573 2331l7 1 4 1-8 0z"/><path fill="#198d63" d="M749 2282l9-6 3-7-9 6z"/><path fill="#0f12e2" d="M498 2337l7-2 4-3-7 2zm101-2l8 0 3 2-7 0z"/><path fill="#29a944" d="M761 2269l8-6 3-8-8 7z"/><path fill="#0f12e2" d="M487 2341l7-1 4-3-7 0z"/><path fill="#0f13e3" d="M554 2329l8 1 3 0-7-1zm-37 2l7 0 4-2-8 1z"/><path fill="#0f12e2" d="M626 2337l7 1 4 1-8 0zm45 4l8-1 3-1-8 2z"/><path fill="#40bd2d" d="M772 2255l9-6 3-8-9 6z"/><path fill="#0f13e3" d="M535 2329l8 0 4-1-8 0z"/><path fill="#0f12e2" d="M652 2341l8 1 3 0-8 0z"/><path fill="#0f13e3" d="M580 2332l8 1 4 1-8-1z"/><path fill="#123db6" d="M735 2302l8-5 3-7-8 6z"/><path fill="#62c820" d="M784 2241l8-6 3-9-8 7z"/><path fill="#0f13e3" d="M505 2335l8-1 4-3-8 1z"/><path fill="#17737d" d="M746 2290l8-6 4-8-9 6z"/><path fill="#0f12e2" d="M607 2335l8 0 3 2-8 0z"/><path fill="#83d214" d="M795 2226l9-5 3-8-9 7z"/><path fill="#a9d610" d="M807 2213l8-6 3-6-8 7z"/><path fill="#ceda0c" d="M818 2201l9-8 3-5-9 8z"/><path fill="#0f13e3" d="M562 2330l7 1 4 0-8-1z"/><path fill="#e1d70a" d="M830 2188l9-9 2-5-8 9z"/><path fill="#0f12e2" d="M633 2338l8 2 3 0-7-1z"/><path fill="#eace0a" d="M841 2174l9-10 3-4-9 10z"/><path fill="#ecc20b" d="M853 2160l9-10 3-5-9 11z"/><path fill="#219b53" d="M758 2276l8-5 3-8-8 6z"/><path fill="#d8aa10" d="M865 2145l9-10 3-5-9 11z"/><path fill="#0f12e2" d="M494 2340l8-1 3-4-7 2z"/><path fill="#0f13e3" d="M524 2331l8 0 3-2-7 0z"/><path fill="#0f12e2" d="M660 2342l8 0 3-1-8 1z"/><path fill="#0f13e3" d="M543 2329l7 1 4-1-7-1zm45 4l8 1 3 1-7-1z"/><path fill="#0f12e2" d="M679 2340l8-1 3-2-8 2z"/><path fill="#31b734" d="M769 2263l8-6 4-8-9 6z"/><path fill="#0f12e2" d="M615 2335l7 1 4 1-8 0z"/><path fill="#51c326" d="M781 2249l8-5 3-9-8 6z"/><path fill="#0f12e2" d="M641 2340l8 1 3 0-8-1z"/><path fill="#0f13e3" d="M569 2331l8 1 3 0-7-1zm-56 3l7 0 4-3-7 0z"/><path fill="#155898" d="M743 2297l8-5 3-8-8 6z"/><path fill="#72cd1a" d="M792 2235l8-5 4-9-9 5z"/><path fill="#0f13e3" d="M550 2330l8 1 4-1-8-1zm46 4l8 0 3 1-8 0z"/><path fill="#0f12e2" d="M668 2342l8-1 3-1-8 1z"/><path fill="#96d412" d="M804 2221l8-6 3-8-8 6z"/><path fill="#0f13e4" d="M532 2331l7 0 4-2-8 0z"/><path fill="#198d63" d="M754 2284l9-5 3-8-8 5z"/><path fill="#0f13e3" d="M502 2339l7 0 4-5-8 1z"/><path fill="#bbd80e" d="M815 2207l9-7 3-7-9 8z"/><path fill="#dddb0a" d="M827 2193l9-7 3-7-9 9z"/><path fill="#0f13e3" d="M622 2336l8 2 3 0-7-1z"/><path fill="#29a944" d="M766 2271l8-5 3-9-8 6z"/><path fill="#0f12e2" d="M649 2341l8 1 3 0-8-1z"/><path fill="#e5d30a" d="M839 2179l8-9 3-6-9 10z"/><path fill="#0f13e3" d="M577 2332l8 1 3 0-8-1z"/><path fill="#0f12e2" d="M490 2345l8-1 4-5-8 1z"/><path fill="#ecc20b" d="M850 2164l9-9 3-5-9 10z"/><path fill="#d8aa10" d="M862 2150l9-10 3-5-9 10z"/><path fill="#40bd2d" d="M777 2257l9-5 3-8-8 5z"/><path fill="#0f13e4" d="M558 2331l8 1 3-1-7-1z"/><path fill="#0f13e3" d="M520 2334l8 0 4-3-8 0zm84 0l7 1 4 0-8 0z"/><path fill="#62c820" d="M789 2244l8-5 3-9-8 5z"/><path fill="#0f13e4" d="M539 2331l8 1 3-2-7-1z"/><path fill="#0f13e3" d="M630 2338l8 1 3 1-8-2zm46 3l8-1 3-1-8 1z"/><path fill="#0f12e2" d="M657 2342l8 0 3 0-8 0z"/><path fill="#17737d" d="M751 2292l8-4 4-9-9 5z"/><path fill="#83d214" d="M800 2230l9-6 3-9-8 6z"/><path fill="#0f13e3" d="M585 2333l7 1 4 0-8-1zm-76 6l8-1 3-4-7 0z"/><path fill="#219b53" d="M763 2279l8-4 3-9-8 5z"/><path fill="#a9d610" d="M812 2215l9-6 3-9-9 7z"/><path fill="#0f13e4" d="M566 2332l7 1 4-1-8-1z"/><path fill="#0f12e2" d="M498 2344l7-1 4-4-7 0z"/><path fill="#dddb0a" d="M824 2200l9-7 3-7-9 7z"/><path fill="#0f13e3" d="M611 2335l8 1 3 0-7-1zm27 4l8 2 3 0-8-1z"/><path fill="#31b734" d="M774 2266l9-5 3-9-9 5z"/><path fill="#0f13e4" d="M528 2334l8 0 3-3-7 0zm19-2l7 1 4-2-8-1z"/><path fill="#e5d30a" d="M836 2186l8-9 3-7-8 9z"/><path fill="#51c326" d="M786 2252l8-4 3-9-8 5z"/><path fill="#0f12e2" d="M665 2342l8 1 3-2-8 1z"/><path fill="#eeca0a" d="M847 2170l9-9 3-6-9 9z"/><path fill="#0f13e3" d="M592 2334l8 1 4-1-8 0zm92 6l8-1 3-2-8 2z"/><path fill="#e2b60e" d="M859 2155l9-10 3-5-9 10z"/><path fill="#72cd1a" d="M797 2239l9-5 3-10-9 6z"/><path fill="#0f13e3" d="M517 2338l7 0 4-4-8 0zm102-2l8 2 3 0-8-2zm27 5l8 1 3 0-8-1z"/><path fill="#0f13e4" d="M573 2333l8 1 4-1-8-1z"/><path fill="#96d412" d="M809 2224l8-5 4-10-9 6z"/><path fill="#0f13e4" d="M554 2333l8 1 4-2-8-1zm-18 1l7 1 4-3-8-1z"/><path fill="#0f13e3" d="M505 2343l8 0 4-5-8 1z"/><path fill="#29a944" d="M771 2275l8-5 4-9-9 5z"/><path fill="#ceda0c" d="M821 2209l8-7 4-9-9 7z"/><path fill="#0f13e4" d="M600 2335l8 1 3-1-7-1z"/><path fill="#0f13e3" d="M673 2343l7-1 4-2-8 1z"/><path fill="#40bd2d" d="M783 2261l8-4 3-9-8 4z"/><path fill="#0f13e3" d="M627 2338l8 2 3-1-8-1z"/><path fill="#e1d70a" d="M833 2193l8-8 3-8-8 9z"/><path fill="#0f13e3" d="M654 2342l7 1 4-1-8 0z"/><path fill="#62c820" d="M794 2248l9-5 3-9-9 5z"/><path fill="#0f13e4" d="M581 2334l8 1 3-1-7-1z"/><path fill="#0f13e3" d="M524 2338l8 0 4-4-8 0z"/><path fill="#eace0a" d="M844 2177l9-8 3-8-9 9z"/><path fill="#0f13e4" d="M562 2334l8 1 3-2-7-1z"/><path fill="#83d214" d="M806 2234l8-5 3-10-8 5z"/><path fill="#0f13e4" d="M543 2335l8 1 3-3-7-1z"/><path fill="#e2b60e" d="M856 2161l9-9 3-7-9 10z"/><path fill="#0f13e4" d="M608 2336l8 1 3-1-8-1z"/><path fill="#0f13e3" d="M513 2343l8 0 3-5-7 0zm122-3l7 2 4-1-8-2z"/><path fill="#bbd80e" d="M817 2219l9-6 3-11-8 7z"/><path fill="#0f13e3" d="M680 2342l8 0 4-3-8 1zm-19 1l8 1 4-1-8-1z"/><path fill="#0f12e2" d="M502 2349l7 0 4-6-8 0z"/><path fill="#0f13e4" d="M589 2335l8 1 3-1-8-1zm-57 3l8 1 3-4-7-1z"/><path fill="#51c326" d="M791 2257l8-4 4-10-9 5z"/><path fill="#0f13e4" d="M570 2335l8 1 3-2-8-1zm-19 1l8 1 3-3-8-1z"/><path fill="#dddb0a" d="M829 2202l9-7 3-10-8 8z"/><path fill="#0f13e4" d="M616 2337l7 2 4-1-8-2z"/><path fill="#0f13e3" d="M642 2342l8 2 4-2-8-1z"/><path fill="#72cd1a" d="M803 2243l8-4 3-10-8 5z"/><path fill="#eace0a" d="M841 2185l9-7 3-9-9 8z"/><path fill="#0f13e3" d="M521 2343l7 1 4-6-8 0z"/><path fill="#96d412" d="M814 2229l9-5 3-11-9 6z"/><path fill="#0f13e3" d="M669 2344l8 0 3-2-7 1z"/><path fill="#0f13e4" d="M597 2336l7 1 4-1-8-1z"/><path fill="#ecc20b" d="M853 2169l9-8 3-9-9 9z"/><path fill="#0f13e4" d="M540 2339l7 2 4-5-8-1z"/><path fill="#0f13e3" d="M509 2349l8 0 4-6-8 0z"/><path fill="#0f13e4" d="M623 2339l8 2 4-1-8-2zm-45-3l7 1 4-2-8-1z"/><path fill="#0f13e3" d="M650 2344l8 1 3-2-7-1z"/><path fill="#0f13e4" d="M559 2337l7 1 4-3-8-1z"/><path fill="#ceda0c" d="M826 2213l9-6 3-12-9 7z"/><path fill="#0f13e3" d="M528 2344l8 1 4-6-8-1z"/><path fill="#0f13e4" d="M604 2337l8 1 4-1-8-1z"/><path fill="#0f13e3" d="M631 2341l8 2 3-1-7-2zm46 3l8 0 3-2-8 0z"/><path fill="#e1d70a" d="M838 2195l9-7 3-10-9 7z"/><path fill="#0f13e4" d="M547 2341l8 1 4-5-8-1zm38-4l8 1 4-2-8-1z"/><path fill="#0f13e3" d="M658 2345l8 1 3-2-8-1z"/><path fill="#0f13e4" d="M566 2338l8 1 4-3-8-1z"/><path fill="#0f13e3" d="M517 2349l8 1 3-6-7-1z"/><path fill="#a9d610" d="M823 2224l8-6 4-11-9 6z"/><path fill="#eeca0a" d="M850 2178l9-8 3-9-9 8z"/><path fill="#0f13e4" d="M612 2338l8 2 3-1-7-2z"/><path fill="#0f13e3" d="M639 2343l8 2 3-1-8-2zm-103 2l8 1 3-5-7-2z"/><path fill="#0f13e4" d="M685 2344l8 0 3-3-8 1z"/><path fill="#0f13e3" d="M666 2346l8 1 3-3-8 0z"/><path fill="#0f13e4" d="M593 2338l8 1 3-2-7-1zm-38 4l8 1 3-5-7-1z"/><path fill="#dddb0a" d="M835 2207l8-7 4-12-9 7z"/><path fill="#0f13e4" d="M574 2339l8 2 3-4-7-1z"/><path fill="#0f13e3" d="M525 2350l7 0 4-5-8-1z"/><path fill="#0f13e4" d="M620 2340l8 3 3-2-8-2z"/><path fill="#0f13e3" d="M647 2345l8 2 3-2-8-1z"/><path fill="#eace0a" d="M847 2188l9-7 3-11-9 8z"/><path fill="#0f13e3" d="M544 2346l7 1 4-5-8-1z"/><path fill="#0f12e2" d="M513 2355l8 1 4-6-8-1z"/><path fill="#0f13e4" d="M601 2339l8 2 3-3-8-1z"/><path fill="#0f13e3" d="M674 2347l8 0 3-3-8 0z"/><path fill="#ceda0c" d="M831 2218l9-6 3-12-8 7z"/><path fill="#0f13e4" d="M563 2343l7 1 4-5-8-1zm19-2l8 1 3-4-8-1zm46 2l8 2 3-2-8-2z"/><path fill="#0f13e3" d="M655 2347l8 1 3-2-8-1zm-123 3l8 2 4-6-8-1z"/><path fill="#0f13e4" d="M551 2347l8 1 4-5-8-1z"/><path fill="#e1d70a" d="M843 2200l9-6 4-13-9 7z"/><path fill="#0f13e4" d="M609 2341l8 2 3-3-8-2z"/><path fill="#0f12e2" d="M521 2356l7 1 4-7-7 0z"/><path fill="#0f13e4" d="M636 2345l8 2 3-2-8-2zm-66-1l8 1 4-4-8-2zm20-2l7 1 4-4-8-1z"/><path fill="#0f13e3" d="M344 2357l8 4 4-4-7-4zm319-9l8 1 3-2-8-1zm-123 4l8 1 3-6-7-1z"/><path fill="#0f13e4" d="M617 2343l7 2 4-2-8-3z"/><path fill="#0f12e2" d="M371 2365l8 4 4-5-8-3z"/><path fill="#0f13e4" d="M644 2347l7 2 4-2-8-2zm-85 1l8 1 3-5-7-1z"/><path fill="#0f13e3" d="M528 2357l8 1 4-6-8-2z"/><path fill="#0f12e2" d="M352 2361l7 4 5-4-8-4z"/><path fill="#0f13e4" d="M578 2345l8 1 4-4-8-1zm19-2l8 1 4-3-8-2zm27 2l8 3 4-3-8-2z"/><path fill="#0f12e2" d="M379 2369l7 4 5-5-8-4z"/><path fill="#0f13e3" d="M548 2353l7 1 4-6-8-1zm103-4l8 2 4-3-8-1z"/><path fill="#0f12e2" d="M359 2365l8 3 4-3-7-4z"/><path fill="#0f13e4" d="M567 2349l8 1 3-5-8-1z"/><path fill="#0f13e3" d="M536 2358l8 1 4-6-8-1z"/><path fill="#0f13e4" d="M605 2344l8 2 4-3-8-2zm-19 2l8 1 3-4-7-1zm46 2l8 2 4-3-8-2z"/><path fill="#0f12e2" d="M386 2373l8 4 4-5-7-4z"/><path fill="#0f13e3" d="M340 2359l7 4 5-2-8-4z"/><path fill="#0f13e4" d="M659 2351l8 1 4-3-8-1z"/><path fill="#0f12e2" d="M367 2368l8 4 4-3-8-4z"/><path fill="#0f13e3" d="M555 2354l8 0 4-5-8-1z"/><path fill="#0f13e4" d="M613 2346l8 2 3-3-7-2zm-38 4l7 1 4-5-8-1z"/><path fill="#0f11e1" d="M394 2377l8 4 4-5-8-4z"/><path fill="#0f13e4" d="M640 2350l8 2 3-3-7-2z"/><path fill="#0f12e2" d="M347 2363l8 3 4-1-7-4z"/><path fill="#0f13e3" d="M544 2359l8 1 3-6-7-1z"/><path fill="#0f13e4" d="M594 2347l8 1 3-4-8-1z"/><path fill="#0f12e2" d="M375 2372l7 4 4-3-7-4z"/><path fill="#0f13e4" d="M621 2348l8 3 3-3-8-3z"/><path fill="#0f13e3" d="M563 2354l8 2 4-6-8-1z"/><path fill="#0f11e1" d="M402 2381l7 4 4-5-7-4z"/><path fill="#0f12e2" d="M355 2366l8 4 4-2-8-3z"/><path fill="#0f13e4" d="M648 2352l8 1 3-2-8-2zm-66-1l8 1 4-5-8-1z"/><path fill="#0f12e2" d="M382 2376l8 4 4-3-8-4z"/><path fill="#0f13e4" d="M602 2348l8 2 3-4-8-2z"/><path fill="#0f11e0" d="M429 2388l7 3 4-5-7-4z"/><path fill="#0f13e3" d="M552 2360l7 0 4-6-8 0z"/><path fill="#0f13e4" d="M629 2351l8 2 3-3-8-2z"/><path fill="#0f11e1" d="M409 2385l8 4 4-5-8-4z"/><path fill="#0f13e3" d="M335 2359l8 4 4 0-7-4z"/><path fill="#0f12e2" d="M363 2370l7 4 5-2-8-4z"/><path fill="#0f13e3" d="M571 2356l8 0 3-5-7-1z"/><path fill="#0f13e4" d="M656 2353l8 2 3-3-8-1z"/><path fill="#0f11e1" d="M390 2380l7 4 5-3-8-4z"/><path fill="#0f13e4" d="M610 2350l7 2 4-4-8-2z"/><path fill="#0f11e0" d="M436 2391l8 3 4-5-8-3z"/><path fill="#0f13e4" d="M590 2352l8 1 4-5-8-1z"/><path fill="#0f11e0" d="M417 2389l8 4 4-5-8-4z"/><path fill="#0f13e4" d="M637 2353l8 2 3-3-8-2z"/><path fill="#0f13e3" d="M559 2360l8 1 4-5-8-2zm-216 3l7 4 5-1-8-3z"/><path fill="#0f12e2" d="M370 2374l8 4 4-2-7-4z"/><path fill="#0f11e1" d="M397 2384l8 4 4-3-7-4z"/><path fill="#0f13e4" d="M617 2352l8 3 4-4-8-3zm-38 4l8 1 3-5-8-1z"/><path fill="#0f11e0" d="M425 2393l7 4 4-6-7-3zm19 1l8 2 4-6-8-1z"/><path fill="#0f13e4" d="M598 2353l8 2 4-5-8-2zm47 2l8 1 3-3-8-1z"/><path fill="#0f12e2" d="M378 2378l8 4 4-2-8-4z"/><path fill="#0f12e2" d="M350 2367l8 3 5 0-8-4z"/><path fill="#0f11e0" d="M405 2388l8 4 4-3-8-4z"/><path fill="#0f13e3" d="M567 2361l8 1 4-6-8 0z"/><path fill="#0f13e4" d="M625 2355l8 2 4-4-8-2z"/><path fill="#0f11df" d="M432 2397l8 3 4-6-8-3z"/><path fill="#0f13e4" d="M606 2355l8 2 3-5-7-2zm-19 2l8 1 3-5-8-1z"/><path fill="#0f11e1" d="M386 2382l7 4 4-2-7-4z"/><path fill="#0f11e0" d="M413 2392l8 5 4-4-8-4z"/><path fill="#0f12e2" d="M358 2370l8 4 4 0-7-4z"/><path fill="#0f11e0" d="M452 2396l7 2 4-6-7-2z"/><path fill="#0f13e4" d="M331 2358l7 4 5 1-8-4zm302-1l8 1 4-3-8-2z"/><path fill="#0f13e3" d="M575 2362l8 1 4-6-8-1z"/><path fill="#0f11df" d="M440 2400l8 2 4-6-8-2z"/><path fill="#0f11e0" d="M421 2397l7 3 4-3-7-4z"/><path fill="#0f11e1" d="M393 2386l8 4 4-2-8-4z"/><path fill="#0f13e4" d="M614 2357l8 2 3-4-8-3z"/><path fill="#0f12e2" d="M366 2374l7 4 5 0-8-4z"/><path fill="#0f13e4" d="M595 2358l7 2 4-5-8-2z"/><path fill="#0f13e3" d="M338 2362l8 3 4 2-7-4z"/><path fill="#0f11e0" d="M459 2398l8 1 4-6-8-1z"/><path fill="#0f13e4" d="M641 2358l8 2 4-4-8-1z"/><path fill="#0f11e1" d="M401 2390l8 4 4-2-8-4z"/><path fill="#0f11df" d="M428 2400l8 4 4-4-8-3z"/><path fill="#0f13e4" d="M622 2359l8 2 3-4-8-2z"/><path fill="#0f12e2" d="M373 2378l8 4 5 0-8-4z"/><path fill="#0f13e3" d="M583 2363l8 1 4-6-8-1z"/><path fill="#0f11df" d="M448 2402l7 1 4-5-7-2z"/><path fill="#0f13e4" d="M602 2360l8 2 4-5-8-2z"/><path fill="#0f13e3" d="M346 2365l7 4 5 1-8-3z"/><path fill="#0f11e0" d="M409 2394l7 4 5-1-8-5zm58 5l8 1 4-6-8-1z"/><path fill="#0f11df" d="M436 2404l8 2 4-4-8-2z"/><path fill="#0f12e2" d="M381 2382l8 4 4 0-7-4z"/><path fill="#0f13e4" d="M630 2361l8 1 3-4-8-1zm-20 1l8 1 4-4-8-2z"/><path fill="#0f13e3" d="M591 2364l8 1 3-5-7-2zm-238 5l8 4 5 1-8-4z"/><path fill="#0f11e0" d="M416 2398l8 4 4-2-7-3z"/><path fill="#0f11df" d="M455 2403l8 2 4-6-8-1z"/><path fill="#0f13e4" d="M326 2357l7 3 5 2-7-4z"/><path fill="#0f11e1" d="M389 2386l7 4 5 0-8-4z"/><path fill="#0f11df" d="M444 2406l7 1 4-4-7-1z"/><path fill="#0f13e3" d="M618 2363l8 2 4-4-8-2z"/><path fill="#0f11e0" d="M475 2400l8 1 3-6-7-1z"/><path fill="#0f12e2" d="M361 2373l8 3 4 2-7-4z"/><path fill="#0f13e3" d="M599 2365l8 2 3-5-8-2z"/><path fill="#0f11df" d="M424 2402l8 3 4-1-8-4z"/><path fill="#0f13e4" d="M333 2360l8 4 5 1-8-3z"/><path fill="#0f11e1" d="M396 2390l8 3 5 1-8-4z"/><path fill="#0f11df" d="M463 2405l8 1 4-6-8-1z"/><path fill="#0f12e2" d="M369 2376l8 4 4 2-8-4z"/><path fill="#0f13e3" d="M626 2365l8 2 4-5-8-1zm-19 2l8 1 3-5-8-1z"/><path fill="#0f11df" d="M432 2405l8 2 4-1-8-2zm19 2l8 2 4-4-8-2z"/><path fill="#0f11e1" d="M404 2393l8 4 4 1-7-4z"/><path fill="#0f11e0" d="M483 2401l7 1 4-6-8-1z"/><path fill="#0f13e4" d="M341 2364l8 3 4 2-7-4z"/><path fill="#0f11df" d="M471 2406l8 1 4-6-8-1z"/><path fill="#0f12e2" d="M377 2380l7 3 5 3-8-4z"/><path fill="#0f11e0" d="M412 2397l8 4 4 1-8-4z"/><path fill="#0f11df" d="M440 2407l7 2 4-2-7-1z"/><path fill="#0f13e3" d="M349 2367l7 3 5 3-8-4z"/><path fill="#0f11df" d="M459 2409l8 1 4-4-8-1z"/><path fill="#0f11e0" d="M490 2402l8 1 4-6-8-1z"/><path fill="#0f12e2" d="M384 2383l8 4 4 3-7-4z"/><path fill="#0f11e0" d="M420 2401l8 3 4 1-8-3zm59 6l7 1 4-6-7-1z"/><path fill="#0f13e3" d="M356 2370l8 3 5 3-8-3z"/><path fill="#0f13e5" d="M329 2359l7 3 5 2-8-4z"/><path fill="#0f11df" d="M447 2409l8 1 4-1-8-2z"/><path fill="#0f12e2" d="M392 2387l8 4 4 2-8-3z"/><path fill="#0f11df" d="M467 2410l8 1 4-4-8-1z"/><path fill="#0f11e0" d="M498 2403l8 1 4-6-8-1zm-70 1l7 3 5 0-8-2z"/><path fill="#0f13e3" d="M364 2373l8 4 5 3-8-4z"/><path fill="#0f11e0" d="M486 2408l8 1 4-6-8-1z"/><path fill="#0f11e1" d="M400 2391l8 4 4 2-8-4z"/><path fill="#0f13e5" d="M336 2362l8 2 5 3-8-3z"/><path fill="#0f11df" d="M455 2410l8 2 4-2-8-1zm20 1l7 1 4-4-7-1z"/><path fill="#0f11e0" d="M435 2407l8 1 4 1-7-2zm71-3l8 1 4-6-8-1z"/><path fill="#0f13e3" d="M372 2377l8 3 4 3-7-3z"/><path fill="#0f11e1" d="M408 2395l7 3 5 3-8-4z"/><path fill="#0f13e4" d="M344 2364l8 3 4 3-7-3z"/><path fill="#0f11e0" d="M494 2409l8 1 4-6-8-1z"/><path fill="#0f11df" d="M463 2412l8 1 4-2-8-1z"/><path fill="#0f12e2" d="M380 2380l7 4 5 3-8-4z"/><path fill="#0f11e1" d="M415 2398l8 3 5 3-8-3z"/><path fill="#0f11e0" d="M443 2408l8 2 4 0-8-1z"/><path fill="#0f11df" d="M482 2412l8 1 4-4-8-1z"/><path fill="#0f11e0" d="M514 2405l8 0 3-6-7 0z"/><path fill="#0f14e6" d="M324 2357l8 3 4 2-7-3z"/><path fill="#0f13e4" d="M352 2367l7 4 5 2-8-3z"/><path fill="#0f11e0" d="M502 2410l8 0 4-5-8-1z"/><path fill="#0f12e2" d="M387 2384l8 3 5 4-8-4z"/><path fill="#0f11e1" d="M423 2401l8 2 4 4-7-3z"/><path fill="#0f11df" d="M471 2413l7 1 4-2-7-1z"/><path fill="#0f11e0" d="M451 2410l8 1 4 1-8-2z"/><path fill="#0f13e4" d="M359 2371l8 3 5 3-8-4z"/><path fill="#0f14e6" d="M332 2360l7 3 5 1-8-2z"/><path fill="#0f11e0" d="M490 2413l8 1 4-4-8-1z"/><path fill="#0f12e2" d="M395 2387l8 4 5 4-8-4z"/><path fill="#0f11e1" d="M522 2405l7 0 4-5-8-1z"/><path fill="#0f11e0" d="M510 2410l8 0 4-5-8 0z"/><path fill="#0f11e1" d="M431 2403l8 2 4 3-8-1z"/><path fill="#0f13e4" d="M367 2374l8 3 5 3-8-3z"/><path fill="#0f11e0" d="M478 2414l8 1 4-2-8-1z"/><path fill="#0f13e5" d="M339 2363l8 3 5 1-8-3z"/><path fill="#0f12e2" d="M403 2391l8 3 4 4-7-3z"/><path fill="#0f11e0" d="M459 2411l7 1 5 1-8-1zm39 3l8 0 4-4-8 0z"/><path fill="#0f11e1" d="M529 2405l8 0 4-5-8 0z"/><path fill="#0f13e3" d="M375 2377l8 3 4 4-7-4z"/><path fill="#0f11e1" d="M439 2405l7 1 5 4-8-2z"/><path fill="#0f12e2" d="M411 2394l8 3 4 4-8-3z"/><path fill="#0f11e0" d="M518 2410l8 0 3-5-7 0z"/><path fill="#0f13e5" d="M347 2366l8 2 4 3-7-4z"/><path fill="#0f11e0" d="M486 2415l8 0 4-1-8-1zm-20-3l8 1 4 1-7-1zm40 2l8 0 4-4-8 0z"/><path fill="#0f13e3" d="M383 2380l7 3 5 4-8-3z"/><path fill="#0f14e6" d="M327 2359l7 3 5 1-7-3z"/><path fill="#0f12e2" d="M419 2397l7 2 5 4-8-2z"/><path fill="#0f11e1" d="M446 2406l8 2 5 3-8-1z"/><path fill="#0f13e5" d="M355 2368l7 3 5 3-8-3z"/><path fill="#0f11e1" d="M526 2410l8 0 3-5-8 0z"/><path fill="#0f11e0" d="M494 2415l8 1 4-2-8 0z"/><path fill="#0f13e3" d="M390 2383l8 4 5 4-8-4z"/><path fill="#0f11e0" d="M474 2413l8 1 4 1-8-1z"/><path fill="#0f14e6" d="M334 2362l8 3 5 1-8-3z"/><path fill="#0f11e0" d="M514 2414l8 0 4-4-8 0z"/><path fill="#0f13e5" d="M362 2371l8 3 5 3-8-3z"/><path fill="#0f12e2" d="M426 2399l8 2 5 4-8-2z"/><path fill="#0f11e1" d="M454 2408l8 1 4 3-7-1z"/><path fill="#0f12e2" d="M398 2387l8 3 5 4-8-3z"/><path fill="#0f11e1" d="M534 2410l8 0 3-5-8 0z"/><path fill="#0f11e0" d="M502 2416l8 0 4-2-8 0zm-20-2l8 0 4 1-8 0z"/><path fill="#0f14e6" d="M342 2365l8 2 5 1-8-2z"/><path fill="#0f13e4" d="M370 2374l8 3 5 3-8-3z"/><path fill="#0f12e2" d="M434 2401l8 1 4 4-7-1z"/><path fill="#0f11e1" d="M522 2414l8 0 4-4-8 0z"/><path fill="#0f12e2" d="M406 2390l8 3 5 4-8-3z"/><path fill="#1022d5" d="M322 2360l8 2 4 0-7-3z"/><path fill="#0f11e1" d="M462 2409l8 1 4 3-8-1z"/><path fill="#0f13e4" d="M378 2377l8 4 4 2-7-3z"/><path fill="#0f14e6" d="M350 2367l8 3 4 1-7-3z"/><path fill="#0f11e1" d="M542 2410l8-1 3-5-8 1z"/><path fill="#0f11e0" d="M490 2414l8 1 4 1-8-1zm20 2l8-1 4-1-8 0z"/><path fill="#0f12e2" d="M414 2393l8 2 4 4-7-2z"/><path fill="#0f12e2" d="M442 2402l8 2 4 4-8-2z"/><path fill="#1022d5" d="M330 2362l7 2 5 1-8-3z"/><path fill="#0f11e1" d="M470 2410l8 1 4 3-8-1zm60 4l8-1 4-3-8 0z"/><path fill="#0f13e4" d="M386 2381l8 3 4 3-8-4z"/><path fill="#0f13e5" d="M358 2370l8 3 4 1-8-3z"/><path fill="#0f12e2" d="M422 2395l8 2 4 4-8-2z"/><path fill="#0f11e1" d="M498 2415l8 0 4 1-8 0z"/><path fill="#0f12e2" d="M550 2409l8-1 3-4-8 0z"/><path fill="#0f11e1" d="M518 2415l8 0 4-1-8 0z"/><path fill="#0f12e2" d="M450 2404l8 1 4 4-8-1z"/><path fill="#1022d5" d="M337 2364l8 3 5 0-8-2z"/><path fill="#0f13e4" d="M394 2384l8 3 4 3-8-3z"/><path fill="#0f11e1" d="M478 2411l8 1 4 2-8 0z"/><path fill="#0f13e5" d="M366 2373l7 3 5 1-8-3z"/><path fill="#0f11e1" d="M538 2413l8-1 4-3-8 1z"/><path fill="#0f12e2" d="M430 2397l8 1 4 4-8-1z"/><path fill="#0f13e3" d="M402 2387l7 3 5 3-8-3z"/><path fill="#0f14e6" d="M345 2367l8 3 5 0-8-3z"/><path fill="#0f12e2" d="M458 2405l8 1 4 4-8-1z"/><path fill="#0f11e1" d="M506 2415l8 0 4 0-8 1z"/><path fill="#0f12e2" d="M558 2408l8 0 3-4-8 0z"/><path fill="#0f13e5" d="M373 2376l8 3 5 2-8-4z"/><path fill="#0f11e1" d="M526 2415l8 0 4-2-8 1z"/><path fill="#1022d5" d="M325 2362l8 3 4-1-7-2z"/><path fill="#0f11e1" d="M486 2412l8 0 4 3-8-1z"/><path fill="#0f12e2" d="M546 2412l8 0 4-4-8 1z"/><path fill="#0f13e3" d="M409 2390l8 2 5 3-8-2z"/><path fill="#0f14e6" d="M353 2370l8 3 5 0-8-3z"/><path fill="#0f12e2" d="M438 2398l7 1 5 5-8-2z"/><path fill="#0f13e5" d="M381 2379l8 3 5 2-8-3z"/><path fill="#0f12e2" d="M466 2406l8 1 4 4-8-1z"/><path fill="#1022d5" d="M333 2365l8 2 4 0-8-3z"/><path fill="#0f12e2" d="M566 2408l8 0 4-4-9 0z"/><path fill="#0f11e1" d="M514 2415l8 0 4 0-8 0zm20 0l8-1 4-2-8 1zm-40-3l8 0 4 3-8 0z"/><path fill="#0f14e6" d="M361 2373l8 2 4 1-7-3z"/><path fill="#0f13e5" d="M389 2382l8 3 5 2-8-3z"/><path fill="#0f13e3" d="M417 2392l8 2 5 3-8-2z"/><path fill="#0f12e2" d="M554 2412l8-1 4-3-8 0z"/><path fill="#0f12e2" d="M445 2399l8 2 5 4-8-1z"/><path fill="#0f12e2" d="M474 2407l8 1 4 4-8-1z"/><path fill="#1022d5" d="M341 2367l7 3 5 0-8-3z"/><path fill="#0f11e1" d="M522 2415l8-1 4 1-8 0z"/><path fill="#0f14e6" d="M369 2375l8 3 4 1-8-3z"/><path fill="#0f13e4" d="M397 2385l8 3 4 2-7-3z"/><path fill="#0f12e2" d="M542 2414l8 0 4-2-8 0zm-40-2l8 0 4 3-8 0z"/><path fill="#0f13e3" d="M425 2394l8 1 5 3-8-1z"/><path fill="#0f12e2" d="M453 2401l8 1 5 4-8-1z"/><path fill="#0f12e2" d="M562 2411l8 0 4-3-8 0z"/><path fill="#1022d5" d="M348 2370l8 3 5 0-8-3z"/><path fill="#0f12e2" d="M482 2408l8 0 4 4-8 0z"/><path fill="#123db6" d="M328 2366l8 2 5-1-8-2z"/><path fill="#0f14e6" d="M377 2378l7 3 5 1-8-3z"/><path fill="#0f13e4" d="M405 2388l8 2 4 2-8-2z"/><path fill="#0f12e2" d="M530 2414l8 0 4 0-8 1z"/><path fill="#0f13e3" d="M433 2395l8 1 4 3-7-1z"/><path fill="#0f12e2" d="M510 2412l8 1 4 2-8 0zm40 2l8-1 4-2-8 1z"/><path fill="#1022d5" d="M356 2373l8 3 5-1-8-2z"/><path fill="#0f12e2" d="M461 2402l8 1 5 4-8-1z"/><path fill="#0f13e5" d="M384 2381l8 3 5 1-8-3z"/><path fill="#0f12e2" d="M570 2411l8-1 4-3-8 1z"/><path fill="#1022d5" d="M336 2368l8 3 4-1-7-3z"/><path fill="#0f12e2" d="M490 2408l8 1 4 3-8 0z"/><path fill="#0f13e4" d="M413 2390l8 2 4 2-8-2z"/><path fill="#0f13e3" d="M441 2396l8 2 4 3-8-2z"/><path fill="#0f14e6" d="M364 2376l8 2 5 0-8-3z"/><path fill="#0f12e2" d="M538 2414l8-1 4 1-8 0zm-20-1l8-1 4 2-8 1z"/><path fill="#0f13e5" d="M392 2384l8 3 5 1-8-3z"/><path fill="#0f12e2" d="M558 2413l8 0 4-2-8 0z"/><path fill="#0f12e2" d="M469 2403l8 1 5 4-8-1z"/><path fill="#1022d5" d="M344 2371l8 3 4-1-8-3z"/><path fill="#0f13e4" d="M421 2392l8 1 4 2-8-1z"/><path fill="#0f12e2" d="M578 2410l8 0 4-3-8 0z"/><path fill="#123db6" d="M323 2367l8 3 5-2-8-2z"/><path fill="#0f12e2" d="M498 2409l8 0 4 3-8 0z"/><path fill="#0f14e6" d="M372 2378l8 3 4 0-7-3z"/><path fill="#0f13e3" d="M449 2398l8 1 4 3-8-1z"/><path fill="#0f13e5" d="M400 2387l8 2 5 1-8-2z"/><path fill="#0f12e2" d="M546 2413l8 0 4 0-8 1zm-69-9l8 1 5 3-8 0z"/><path fill="#1022d5" d="M352 2374l7 3 5-1-8-3z"/><path fill="#0f12e2" d="M526 2412l8 0 4 2-8 0zm40 1l8-1 4-2-8 1z"/><path fill="#123db6" d="M331 2370l8 2 5-1-8-3z"/><path fill="#0f13e4" d="M429 2393l8 2 4 1-8-1z"/><path fill="#0f14e6" d="M380 2381l8 3 4 0-8-3z"/><path fill="#0f12e2" d="M586 2410l9-1 3-3-8 1zm-80-1l8 0 4 4-8-1z"/><path fill="#0f13e3" d="M457 2399l8 1 4 3-8-1z"/><path fill="#0f13e5" d="M408 2389l8 2 5 1-8-2z"/><path fill="#1022d5" d="M359 2377l8 2 5-1-8-2z"/><path fill="#0f13e3" d="M485 2405l8 1 5 3-8-1z"/><path fill="#0f12e2" d="M554 2413l8 0 4 0-8 0z"/><path fill="#123db6" d="M339 2372l8 3 5-1-8-3z"/><path fill="#0f14e6" d="M388 2384l8 3 4 0-8-3z"/><path fill="#0f12e2" d="M534 2412l8 0 4 1-8 1zm40 0l9 0 3-2-8 0z"/><path fill="#0f13e4" d="M437 2395l8 1 4 2-8-2z"/><path fill="#0f12e2" d="M514 2409l8 1 4 2-8 1z"/><path fill="#0f13e3" d="M595 2409l8-1 4-2-9 0zm-130-9l8 2 4 2-8-1z"/><path fill="#1022d5" d="M367 2379l8 3 5-1-8-3z"/><path fill="#0f13e5" d="M416 2391l8 2 5 0-8-1z"/><path fill="#1022d5" d="M347 2375l8 3 4-1-7-3z"/><path fill="#0f14e6" d="M396 2387l8 2 4 0-8-2z"/><path fill="#0f13e3" d="M493 2406l8 0 5 3-8 0z"/><path fill="#0f13e4" d="M445 2396l8 2 4 1-8-1z"/><path fill="#0f12e2" d="M562 2413l9-1 3 0-8 1zm-20-1l8 0 4 1-8 0z"/><path fill="#0f13e3" d="M583 2412l8-1 4-2-9 1z"/><path fill="#0f14e6" d="M375 2382l8 3 5-1-8-3z"/><path fill="#0f13e5" d="M424 2393l8 1 5 1-8-2z"/><path fill="#0f13e4" d="M473 2402l8 1 4 2-8-1z"/><path fill="#0f13e3" d="M522 2410l8 0 4 2-8 0z"/><path fill="#1022d5" d="M355 2378l8 3 4-2-8-2z"/><path fill="#0f13e5" d="M404 2389l8 2 4 0-8-2z"/><path fill="#123db6" d="M334 2374l8 3 5-2-8-3z"/><path fill="#0f13e3" d="M501 2406l9 1 4 2-8 0z"/><path fill="#0f13e4" d="M453 2398l8 1 4 1-8-1z"/><path fill="#0f14e6" d="M383 2385l8 3 5-1-8-3z"/><path fill="#0f13e3" d="M571 2412l8 0 4 0-9 0zm-21 0l8 0 4 1-8 0zm41-1l8-1 4-2-8 1z"/><path fill="#0f13e5" d="M432 2394l8 2 5 0-8-1z"/><path fill="#1022d5" d="M363 2381l8 3 4-2-8-3z"/><path fill="#0f13e4" d="M481 2403l8 0 4 3-8-1z"/><path fill="#0f13e3" d="M530 2410l8 0 4 2-8 0z"/><path fill="#0f13e5" d="M412 2391l8 2 4 0-8-2z"/><path fill="#123db6" d="M342 2377l8 3 5-2-8-3z"/><path fill="#0f14e6" d="M391 2388l8 2 5-1-8-2z"/><path fill="#0f13e4" d="M461 2399l8 1 4 2-8-2z"/><path fill="#0f13e3" d="M510 2407l8 0 4 3-8-1z"/><path fill="#1022d5" d="M371 2384l8 3 4-2-8-3z"/><path fill="#0f13e3" d="M579 2412l8-1 4 0-8 1z"/><path fill="#0f13e5" d="M440 2396l8 1 5 1-8-2z"/><path fill="#0f13e3" d="M558 2412l9 0 4 0-9 1zm41-2l9 0 3-2-8 0z"/><path fill="#0f13e4" d="M489 2403l8 1 4 2-8 0z"/><path fill="#1022d5" d="M350 2380l8 2 5-1-8-3z"/><path fill="#0f13e5" d="M420 2393l8 2 4-1-8-1z"/><path fill="#0f13e3" d="M538 2410l8 0 4 2-8 0z"/><path fill="#0f14e6" d="M399 2390l8 3 5-2-8-2z"/><path fill="#0f13e4" d="M469 2400l8 2 4 1-8-1z"/><path fill="#0f13e3" d="M518 2407l8 1 4 2-8 0z"/><path fill="#1022d5" d="M379 2387l8 3 4-2-8-3z"/><path fill="#0f13e5" d="M448 2397l8 2 5 0-8-1z"/><path fill="#1022d5" d="M358 2382l8 3 5-1-8-3z"/><path fill="#0f13e3" d="M587 2411l8 0 4-1-8 1zm-20 1l8-1 4 1-8 0z"/><path fill="#0f13e4" d="M497 2404l8 1 5 2-9-1z"/><path fill="#0f13e5" d="M428 2395l8 2 4-1-8-2z"/><path fill="#0f13e3" d="M546 2410l9 0 3 2-8 0z"/><path fill="#0f14e6" d="M407 2393l8 1 5-1-8-2z"/><path fill="#0f13e4" d="M477 2402l8 1 4 0-8 0z"/><path fill="#0f14e6" d="M387 2390l8 2 4-2-8-2z"/><path fill="#0f13e4" d="M526 2408l8 0 4 2-8 0z"/><path fill="#1022d5" d="M366 2385l8 3 5-1-8-3z"/><path fill="#0f13e5" d="M456 2399l8 2 5-1-8-1zm-20-2l8 1 4-1-8-1z"/><path fill="#0f13e4" d="M505 2405l9 1 4 1-8 0zm90 6l9 0 4-1-9 0z"/><path fill="#0f13e3" d="M575 2411l8 0 4 0-8 1z"/><path fill="#0f14e6" d="M415 2394l8 2 5-1-8-2z"/><path fill="#0f13e4" d="M555 2410l8 0 4 2-9 0z"/><path fill="#0f14e6" d="M395 2392l8 2 4-1-8-3z"/><path fill="#0f13e5" d="M485 2403l8 1 4 0-8-1z"/><path fill="#1022d5" d="M374 2388l8 3 5-1-8-3z"/><path fill="#0f13e4" d="M534 2408l8 1 4 1-8 0z"/><path fill="#0f13e5" d="M464 2401l8 1 5 0-8-2zm-20-3l8 2 4-1-8-2z"/><path fill="#0f13e4" d="M514 2406l8 1 4 1-8-1zm90 5l8-1 4-1-8 1z"/><path fill="#0f14e6" d="M423 2396l8 2 5-1-8-2z"/><path fill="#0f13e4" d="M583 2411l9 0 3 0-8 0z"/><path fill="#0f14e6" d="M403 2394l8 2 4-2-8-1z"/><path fill="#1022d5" d="M382 2391l8 3 5-2-8-2z"/><path fill="#0f13e4" d="M563 2410l8 0 4 1-8 1z"/><path fill="#0f13e5" d="M493 2404l8 1 4 0-8-1zm-21-2l9 1 4 0-8-1z"/><path fill="#0f13e4" d="M542 2409l9 0 4 1-9 0z"/><path fill="#0f13e5" d="M452 2400l8 1 4 0-8-2z"/><path fill="#0f13e4" d="M522 2407l8 1 4 0-8 0z"/><path fill="#0f14e6" d="M431 2398l8 2 5-2-8-1zm-20-2l8 2 4-2-8-2z"/><path fill="#1022d5" d="M390 2394l8 3 5-3-8-2z"/><path fill="#0f13e4" d="M592 2411l8 0 4 0-9 0z"/><path fill="#0f13e5" d="M501 2405l8 1 5 0-9-1z"/><path fill="#0f13e4" d="M571 2410l8 0 4 1-8 0z"/><path fill="#0f13e5" d="M481 2403l8 2 4-1-8-1z"/><path fill="#0f13e4" d="M551 2409l8 1 4 0-8 0z"/><path fill="#0f14e6" d="M460 2401l8 2 4-1-8-1zm-21-1l9 2 4-2-8-2z"/><path fill="#0f13e5" d="M530 2408l8 1 4 0-8-1z"/><path fill="#0f14e6" d="M419 2398l8 2 4-2-8-2zm-21-1l8 2 5-3-8-2z"/><path fill="#0f13e4" d="M600 2411l8 0 4-1-8 1z"/><path fill="#0f13e5" d="M509 2406l9 1 4 0-8-1z"/><path fill="#0f13e4" d="M579 2410l9 0 4 1-9 0z"/><path fill="#0f13e5" d="M489 2405l8 1 4-1-8-1zm70 5l8 0 4 0-8 0z"/><path fill="#0f14e6" d="M468 2403l8 2 5-2-9-1zm-20-1l8 1 4-2-8-1zm-21-2l8 2 4-2-8-2zm-21-1l8 2 5-3-8-2z"/><path fill="#0f13e5" d="M538 2409l9 0 4 0-9 0zm-20-2l8 1 4 0-8-1zm-21-1l8 1 4-1-8-1zm91 4l8 1 4 0-8 0z"/><path fill="#0f14e6" d="M476 2405l9 1 4-1-8-2z"/><path fill="#0f13e5" d="M567 2410l9 0 3 0-8 0z"/><path fill="#0f14e6" d="M456 2403l8 2 4-2-8-2zm-21-1l8 2 5-2-9-2zm-21-1l8 2 5-3-8-2z"/><path fill="#0f13e5" d="M547 2409l8 1 4 0-8-1zm-21-1l8 2 4-1-8-1zm-21-1l9 2 4-2-9-1zm91 4l9 0 3 0-8 0z"/><path fill="#0f14e6" d="M485 2406l8 2 4-2-8-1zm-21-1l8 2 4-2-8-2zm-21-1l8 2 5-3-8-1z"/><path fill="#0f13e5" d="M576 2410l8 1 4-1-9 0z"/><path fill="#0f14e6" d="M422 2403l9 2 4-3-8-2z"/><path fill="#0f13e5" d="M555 2410l8 1 4-1-8 0zm-21 0l9 1 4-2-9 0zm-20-1l8 1 4-2-8-1z"/><path fill="#0f14e6" d="M493 2408l8 1 4-2-8-1z"/><path fill="#0f13e5" d="M605 2411l8 1 4-1-9 0z"/><path fill="#0f14e6" d="M472 2407l8 2 5-3-9-1zm-21-1l9 2 4-3-8-2zm-20-1l8 2 4-3-8-2z"/><path fill="#0f13e5" d="M584 2411l8 0 4 0-8-1zm-21 0l9 1 4-2-9 0zm-20 0l8 1 4-2-8-1zm-21-1l8 2 4-2-8-2z"/><path fill="#0f14e6" d="M501 2409l8 2 5-2-9-2zm-21 0l9 2 4-3-8-2zm-20-1l8 2 4-3-8-2zm-21-1l8 2 4-3-8-2z"/><path fill="#0f13e5" d="M592 2411l9 1 4-1-9 0z"/><path fill="#0f14e6" d="M572 2412l8 0 4-1-8-1zm-21 0l8 1 4-2-8-1zm-21 0l9 1 4-2-9-1zm-21-1l9 2 4-3-8-1zm-20 0l8 1 4-3-8-1zm-42-2l8 2 5-3-9-2zm21 1l8 2 4-3-8-2zm133 2l8 1 4-1-8-1zm-21 0l9 1 3-2-8 0zm-21 1l9 1 4-2-9-1zm-20 0l8 2 4-3-8-1zm-21 0l8 2 4-3-8-2zm-21-1l8 3 4-4-8-2zm-21 0l8 2 5-3-9-2zm-21-1l9 3 4-4-8-2zm134 2l8 1 4-2-9-1zm-21 1l8 1 4-3-8 0zm-21 1l8 1 4-3-8-1zm-21 0l8 1 5-3-9-1zm-21 0l9 2 4-4-9-2zm-21-1l9 2 4-4-8-1zm-20 0l8 2 4-4-8-2zm133 0l9 2 3-3-8-1zm-21 1l9 1 4-3-9-1zm-21 1l9 1 4-3-9-1zm-21 0l9 2 4-3-8-2zm-20 1l8 2 4-4-8-2zm-21-1l8 3 4-4-8-3zm-21 0l8 2 4-4-8-2zm134 0l8 1 4-3-9-1zm-21 0l8 2 4-4-8-1zm-21 1l8 2 4-4-8-1zm-21 1l8 2 4-4-8-1zm-21 1l8 2 4-5-8-1zm-21 0l8 2 5-4-9-2zm-21-1l9 3 4-5-9-2zm29 3l9 2 4-4-8-2zm-20 0l8 2 4-4-8-3zm41 0l9 2 4-5-9-2zm21-1l9 1 4-4-9-1z"/></g>
<g><line x1="131.1" y1="1257.3" x2="115" y2="1055.7" stroke="#303030" stroke-width="1.2"/><line x1="131.1" y1="1257.3" x2="351" y2="1310.3" stroke="#303030" stroke-width="1.2"/><line x1="351" y1="1310.3" x2="431.9" y2="1207.8" stroke="#303030" stroke-width="1.2"/><line x1="431.9" y1="1207.8" x2="445.2" y2="1019.2" stroke="#303030" stroke-width="1.2"/><line x1="131.1" y1="1257.3" x2="124.1" y2="1263" stroke="#303030" stroke-width="1.2"/><line x1="128.1" y1="1220" x2="120.9" y2="1225.4" stroke="#303030" stroke-width="1.2"/><line x1="125" y1="1181.3" x2="117.7" y2="1186.4" stroke="#303030" stroke-width="1.2"/><line x1="121.8" y1="1141.1" x2="114.3" y2="1145.9" stroke="#303030" stroke-width="1.2"/><line x1="118.5" y1="1099.2" x2="110.7" y2="1103.7" stroke="#303030" stroke-width="1.2"/><line x1="115" y1="1055.7" x2="107.1" y2="1059.7" stroke="#303030" stroke-width="1.2"/><line x1="150.9" y1="1262.1" x2="145" y2="1267" stroke="#303030" stroke-width="1.2"/><line x1="186.8" y1="1270.7" x2="181.1" y2="1275.8" stroke="#303030" stroke-width="1.2"/><line x1="223.8" y1="1279.7" x2="218.4" y2="1284.9" stroke="#303030" stroke-width="1.2"/><line x1="262.1" y1="1288.9" x2="256.9" y2="1294.3" stroke="#303030" stroke-width="1.2"/><line x1="301.6" y1="1298.4" x2="296.7" y2="1304" stroke="#303030" stroke-width="1.2"/><line x1="342.5" y1="1308.2" x2="337.9" y2="1314" stroke="#303030" stroke-width="1.2"/><line x1="361.1" y1="1297.5" x2="369" y2="1299.3" stroke="#303030" stroke-width="1.2"/><line x1="380.7" y1="1272.6" x2="388.3" y2="1274.3" stroke="#303030" stroke-width="1.2"/><line x1="398.8" y1="1249.7" x2="406.2" y2="1251.3" stroke="#303030" stroke-width="1.2"/><line x1="415.5" y1="1228.5" x2="422.7" y2="1230" stroke="#303030" stroke-width="1.2"/><line x1="431.1" y1="1208.8" x2="438" y2="1210.2" stroke="#303030" stroke-width="1.2"/></g>
<text x="22.0" y="22.3" font-size="32" font-weight="bold">(A)</text>
<text x="118.1" y="292.4" font-size="27" text-anchor="end">0.6</text>
<text x="114.1" y="245.2" font-size="27" text-anchor="end">0.9</text>
<text x="110.0" y="195.8" font-size="27" text-anchor="end">1.2</text>
<text x="105.6" y="143.8" font-size="27" text-anchor="end">1.5</text>
<text x="101.1" y="89.1" font-size="27" text-anchor="end">1.8</text>
<text x="159.0" y="322.1" font-size="27" text-anchor="middle">1.0</text>
<text x="196.0" y="331.1" font-size="27" text-anchor="middle">0.8</text>
<text x="234.3" y="340.3" font-size="27" text-anchor="middle">0.6</text>
<text x="273.8" y="349.8" font-size="27" text-anchor="middle">0.4</text>
<text x="314.7" y="359.6" font-size="27" text-anchor="middle">0.2</text>
<text x="377.6" y="327.2" font-size="27" text-anchor="start">0.6</text>
<text x="397.2" y="302.3" font-size="27" text-anchor="start">0.9</text>
<text x="415.3" y="279.4" font-size="27" text-anchor="start">1.2</text>
<text x="432.0" y="258.2" font-size="27" text-anchor="start">1.5</text>
<text x="445.0" y="238.5" font-size="27" text-anchor="start">1.8</text>
<text transform="translate(29.3 181.5) rotate(-94.5)" x="0" y="6.88" font-size="27.5" text-anchor="middle">lg(CV of species N)</text>
<text transform="translate(230.5 383.0) rotate(13.2) skewX(3)" x="0" y="6.62" font-size="26.5" text-anchor="middle">lg(soil water content)</text>
<text transform="translate(485.0 286.0) rotate(-51)" x="0" y="6.75" font-size="27" text-anchor="middle">lg(soil salt content)</text>
<rect x="475.9" y="33.9" width="61" height="20" fill="#0a0a6e" stroke="#111" stroke-width="1.4"/>
<text x="552.2" y="52.8" font-size="27" text-anchor="start">0.6</text>
<rect x="475.9" y="67.0" width="61" height="20" fill="#0a0af0" stroke="#111" stroke-width="1.4"/>
<text x="552.2" y="85.9" font-size="27" text-anchor="start">0.9</text>
<rect x="475.9" y="100.1" width="61" height="20" fill="#10be10" stroke="#111" stroke-width="1.4"/>
<text x="552.2" y="119.0" font-size="27" text-anchor="start">1.2</text>
<rect x="475.9" y="133.2" width="61" height="20" fill="#f5ee00" stroke="#111" stroke-width="1.4"/>
<text x="552.2" y="152.1" font-size="27" text-anchor="start">1.5</text>
<text x="513.5" y="316.3" font-size="23" text-anchor="start">3D, Plane</text>
<text x="513.5" y="345.3" font-size="23">R<tspan font-size="15" dy="-10">2</tspan><tspan dy="10"> = 0.43</tspan></text>
<text x="513.5" y="371.8" font-size="23" text-anchor="start">P &lt; 0.0001</text>
<text x="513.5" y="397.9" font-size="23" text-anchor="start">n = 357</text>
<text x="26.7" y="513.2" font-size="32" font-weight="bold">(B)</text>
<text x="118.1" y="784.1" font-size="27" text-anchor="end">0.8</text>
<text x="114.9" y="746.5" font-size="27" text-anchor="end">1.2</text>
<text x="111.7" y="707.5" font-size="27" text-anchor="end">1.6</text>
<text x="108.3" y="667.0" font-size="27" text-anchor="end">2.0</text>
<text x="104.7" y="624.8" font-size="27" text-anchor="end">2.4</text>
<text x="101.1" y="580.8" font-size="27" text-anchor="end">2.8</text>
<text x="159.0" y="813.8" font-size="27" text-anchor="middle">1.0</text>
<text x="196.0" y="822.8" font-size="27" text-anchor="middle">0.8</text>
<text x="234.3" y="832.0" font-size="27" text-anchor="middle">0.6</text>
<text x="273.8" y="841.5" font-size="27" text-anchor="middle">0.4</text>
<text x="314.7" y="851.3" font-size="27" text-anchor="middle">0.2</text>
<text x="377.6" y="818.9" font-size="27" text-anchor="start">0.6</text>
<text x="397.2" y="794.0" font-size="27" text-anchor="start">0.9</text>
<text x="415.3" y="771.1" font-size="27" text-anchor="start">1.2</text>
<text x="432.0" y="749.9" font-size="27" text-anchor="start">1.5</text>
<text x="445.0" y="730.2" font-size="27" text-anchor="start">1.8</text>
<text transform="translate(27.5 670.7) rotate(-94.5)" x="0" y="6.88" font-size="27.5" text-anchor="middle">lg(CV of species P)</text>
<text transform="translate(214.0 872.7) rotate(13.2) skewX(3)" x="0" y="6.62" font-size="26.5" text-anchor="middle">lg(soil water content)</text>
<text transform="translate(484.0 786.7) rotate(-51)" x="0" y="6.75" font-size="27" text-anchor="middle">lg(soil salt content)</text>
<rect x="483.7" y="489.4" width="61" height="20" fill="#0a0a78" stroke="#111" stroke-width="1.4"/>
<text x="560.0" y="508.3" font-size="27" text-anchor="start">0.8</text>
<rect x="483.7" y="522.5" width="61" height="20" fill="#0a0aeb" stroke="#111" stroke-width="1.4"/>
<text x="560.0" y="541.4" font-size="27" text-anchor="start">1.2</text>
<rect x="483.7" y="555.6" width="61" height="20" fill="#146e6e" stroke="#111" stroke-width="1.4"/>
<text x="560.0" y="574.5" font-size="27" text-anchor="start">1.6</text>
<rect x="483.7" y="588.7" width="61" height="20" fill="#6ed214" stroke="#111" stroke-width="1.4"/>
<text x="560.0" y="607.6" font-size="27" text-anchor="start">2.0</text>
<rect x="483.7" y="621.8" width="61" height="20" fill="#fadc0a" stroke="#111" stroke-width="1.4"/>
<text x="560.0" y="640.7" font-size="27" text-anchor="start">2.4</text>
<rect x="483.7" y="654.9" width="61" height="20" fill="#fa6e0a" stroke="#111" stroke-width="1.4"/>
<text x="560.0" y="673.8" font-size="27" text-anchor="start">2.8</text>
<text x="518.0" y="822.8" font-size="23" text-anchor="start">3D, Plane</text>
<text x="518.0" y="851.8" font-size="23">R<tspan font-size="15" dy="-10">2</tspan><tspan dy="10"> = 0.03</tspan></text>
<text x="518.0" y="878.3" font-size="23" text-anchor="start">P = 0.3122</text>
<text x="518.0" y="904.4" font-size="23" text-anchor="start">n = 357</text>
<text x="42.7" y="998.5" font-size="32" font-weight="bold">(C)</text>
<text x="118.1" y="1275.8" font-size="27" text-anchor="end">0.4</text>
<text x="114.9" y="1238.2" font-size="27" text-anchor="end">0.8</text>
<text x="111.7" y="1199.2" font-size="27" text-anchor="end">1.2</text>
<text x="108.3" y="1158.7" font-size="27" text-anchor="end">1.6</text>
<text x="104.7" y="1116.5" font-size="27" text-anchor="end">2.0</text>
<text x="101.1" y="1072.5" font-size="27" text-anchor="end">2.4</text>
<text x="159.0" y="1305.5" font-size="27" text-anchor="middle">1.0</text>
<text x="196.0" y="1314.5" font-size="27" text-anchor="middle">0.8</text>
<text x="234.3" y="1323.7" font-size="27" text-anchor="middle">0.6</text>
<text x="273.8" y="1333.2" font-size="27" text-anchor="middle">0.4</text>
<text x="314.7" y="1343.0" font-size="27" text-anchor="middle">0.2</text>
<text x="377.6" y="1310.6" font-size="27" text-anchor="start">0.6</text>
<text x="397.2" y="1285.7" font-size="27" text-anchor="start">0.9</text>
<text x="415.3" y="1262.8" font-size="27" text-anchor="start">1.2</text>
<text x="432.0" y="1241.6" font-size="27" text-anchor="start">1.5</text>
<text x="445.0" y="1221.9" font-size="27" text-anchor="start">1.8</text>
<text transform="translate(26.3 1162.9) rotate(-94.5)" x="0" y="6.88" font-size="27.5" text-anchor="middle">lg(CV of species N:P ratio)</text>
<text transform="translate(214.0 1364.4) rotate(13.2) skewX(3)" x="0" y="6.62" font-size="26.5" text-anchor="middle">lg(soil water content)</text>
<text transform="translate(484.0 1278.4) rotate(-51)" x="0" y="6.75" font-size="27" text-anchor="middle">lg(soil salt content)</text>
<rect x="485.7" y="990.1" width="61" height="20" fill="#0a0a78" stroke="#111" stroke-width="1.4"/>
<text x="562.0" y="1009.0" font-size="27" text-anchor="start">0.4</text>
<rect x="485.7" y="1023.2" width="61" height="20" fill="#0a0aeb" stroke="#111" stroke-width="1.4"/>
<text x="562.0" y="1042.1" font-size="27" text-anchor="start">0.8</text>
<rect x="485.7" y="1056.3" width="61" height="20" fill="#146e6e" stroke="#111" stroke-width="1.4"/>
<text x="562.0" y="1075.2" font-size="27" text-anchor="start">1.2</text>
<rect x="485.7" y="1089.4" width="61" height="20" fill="#6ed214" stroke="#111" stroke-width="1.4"/>
<text x="562.0" y="1108.3" font-size="27" text-anchor="start">1.6</text>
<rect x="485.7" y="1122.5" width="61" height="20" fill="#fadc0a" stroke="#111" stroke-width="1.4"/>
<text x="562.0" y="1141.4" font-size="27" text-anchor="start">2.0</text>
<rect x="485.7" y="1155.6" width="61" height="20" fill="#fa6e0a" stroke="#111" stroke-width="1.4"/>
<text x="562.0" y="1174.5" font-size="27" text-anchor="start">2.4</text>
<text x="533.0" y="1309.0" font-size="23" text-anchor="start">3D, Paraboloid</text>
<text x="533.0" y="1338.0" font-size="23">R<tspan font-size="15" dy="-10">2</tspan><tspan dy="10"> = 0.11</tspan></text>
<text x="533.0" y="1364.5" font-size="23" text-anchor="start">P = 0.0972</text>
<text x="533.0" y="1390.6" font-size="23" text-anchor="start">n = 357</text>
</svg></body></html>
